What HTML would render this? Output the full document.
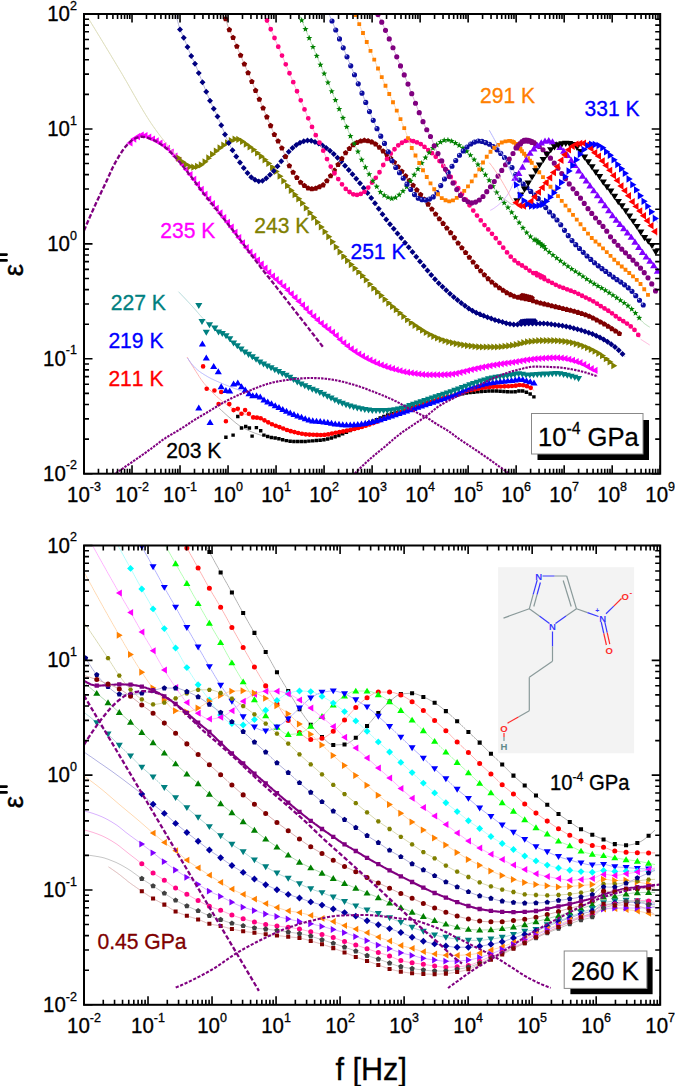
<!DOCTYPE html><html><head><meta charset="utf-8"><style>html,body{margin:0;padding:0;background:#fff;}svg{display:block} text{font-kerning:none;font-feature-settings:"kern" 0;}</style></head><body><svg width="675" height="1086" viewBox="0 0 675 1086" font-family='"Liberation Sans", sans-serif'>
<rect width="675" height="1086" fill="#fff"/>
<defs><radialGradient id="sph" cx="0.4" cy="0.4" r="0.6"><stop offset="0" stop-color="#4a5ad8"/><stop offset="0.55" stop-color="#1a2aa8"/><stop offset="1" stop-color="#000a78"/></radialGradient><clipPath id="ctop"><rect x="84.0" y="14.0" width="576.2" height="459.7"/></clipPath><clipPath id="cbot"><rect x="84.0" y="545.5" width="576.2" height="459.29999999999995"/></clipPath></defs>
<g clip-path="url(#ctop)">
<path d="M219.0 408.0L220.0 409.0L221.0 409.9L222.0 410.9L223.0 411.8L224.0 412.7L225.0 413.6L226.0 414.5L227.0 415.4L228.0 416.3L229.0 417.1L230.0 418.0L231.0 418.9L232.0 419.7L233.0 420.6L234.0 421.4L235.0 422.3L236.0 423.1L237.0 423.9L238.0 424.6L239.0 425.4L240.0 426.0L241.0 426.6L242.0 427.2L243.0 427.8L244.0 428.3L245.0 428.8L246.0 429.3L247.0 429.8L248.0 430.3L249.0 430.7L250.0 431.2L251.0 431.6L252.0 432.0L253.0 432.4L254.0 432.8L255.0 433.2L256.0 433.5L257.0 433.9L258.0 434.2L259.0 434.6L260.0 434.9L261.0 435.2L262.0 435.5L263.0 435.7L264.0 436.0M263.9 435.1L264.9 435.5L265.9 435.9L266.9 436.2L267.9 436.6L268.9 436.8L269.9 437.1L270.9 437.3L271.9 437.5L272.9 437.7L273.9 437.8L274.9 438.0L275.9 438.1L276.9 438.3L277.9 438.6L278.9 438.8L279.9 439.1L280.9 439.4L281.9 439.6L282.9 439.9L283.9 440.1L284.9 440.3L285.9 440.5L286.9 440.7L287.9 440.9L288.9 441.0L289.9 441.2L290.9 441.3L291.9 441.4L292.9 441.5L293.9 441.5L294.9 441.5L295.9 441.5L296.9 441.5L297.9 441.5L298.9 441.5L299.9 441.5L300.9 441.5L301.9 441.5L302.9 441.5L303.9 441.5L304.9 441.4L305.9 441.4L306.9 441.3L307.9 441.2L308.9 441.1L309.9 441.1L310.9 441.0L311.9 440.9L312.9 440.9L313.9 440.8L314.9 440.7L315.9 440.6L316.9 440.5L317.9 440.4L318.9 440.3L319.9 440.2L320.9 440.1L321.9 440.0L322.9 439.9L323.9 439.7L324.9 439.6L325.9 439.4L326.9 439.2L327.9 438.9L328.9 438.7L329.9 438.4L330.9 438.1L331.9 437.8L332.9 437.5L333.9 437.2L334.9 436.9L335.9 436.6L336.9 436.3L337.9 435.9L338.9 435.5L339.9 435.1L340.9 434.7L341.9 434.2L342.9 433.8L343.9 433.3L344.9 432.8L345.9 432.4L346.9 431.9L347.9 431.5L348.9 431.1L349.9 430.7L350.9 430.3L351.9 429.8L352.9 429.4L353.9 429.0L354.9 428.6L355.9 428.2L356.9 427.8L357.9 427.4L358.9 427.0L359.9 426.5L360.9 426.1L361.9 425.7L362.9 425.3L363.9 424.9L364.9 424.5L365.9 424.1L366.9 423.6L367.9 423.2L368.9 422.8L369.9 422.4L370.9 422.0L371.9 421.6L372.9 421.2L373.9 420.7L374.9 420.3L375.9 419.9L376.9 419.5L377.9 419.0L378.9 418.6L379.9 418.1L380.9 417.7L381.9 417.3L382.9 416.8L383.9 416.4L384.9 416.0L385.9 415.6L386.9 415.3L387.9 414.9L388.9 414.6L389.9 414.2L390.9 413.9L391.9 413.6L392.9 413.2L393.9 412.9L394.9 412.6L395.9 412.3L396.9 412.0L397.9 411.7L398.9 411.3L399.9 411.0L400.9 410.7L401.9 410.3L402.9 410.0L403.9 409.6L404.9 409.3L405.9 409.0L406.9 408.6L407.9 408.3L408.9 407.9L409.9 407.6L410.9 407.3L411.9 407.0L412.9 406.6L413.9 406.3L414.9 406.0L415.9 405.7L416.9 405.4L417.9 405.1L418.9 404.8L419.9 404.4L420.9 404.1L421.9 403.8L422.9 403.5L423.9 403.2L424.9 402.9L425.9 402.7L426.9 402.4L427.9 402.1L428.9 401.8L429.9 401.5L430.9 401.3L431.9 401.0L432.9 400.7L433.9 400.4L434.9 400.2L435.9 399.9L436.9 399.6L437.9 399.4L438.9 399.1L439.9 398.9L440.9 398.6L441.9 398.4L442.9 398.1L443.9 397.9L444.9 397.7L445.9 397.4L446.9 397.2L447.9 397.0L448.9 396.7L449.9 396.5L450.9 396.3L451.9 396.1L452.9 395.9L453.9 395.6L454.9 395.4L455.9 395.2L456.9 395.0L457.9 394.8L458.9 394.6L459.9 394.4L460.9 394.1L461.9 394.0L462.9 393.8L463.9 393.6L464.9 393.4L465.9 393.2L466.9 393.1L467.9 392.9L468.9 392.8L469.9 392.7L470.9 392.5L471.9 392.4L472.9 392.3L473.9 392.2L474.9 392.1L475.9 392.0L476.9 391.9L477.9 391.8L478.9 391.7L479.9 391.7L480.9 391.6L481.9 391.5L482.9 391.4L483.9 391.3L484.9 391.3L485.9 391.2L486.9 391.2L487.9 391.1L488.9 391.1L489.9 391.0L490.9 391.0L491.9 391.0L492.9 391.0L493.9 391.0L494.9 391.0L495.9 391.1L496.9 391.1L497.9 391.1L498.9 391.2L499.9 391.2L500.9 391.3L501.9 391.4L502.9 391.4L503.9 391.5L504.9 391.5L505.9 391.6L506.9 391.7L507.9 391.7L508.9 391.8L509.9 391.8L510.9 391.8L511.9 391.9L512.9 391.9L513.9 391.9L514.9 391.8L515.9 391.7L516.9 391.4L517.9 391.2L518.9 391.0L519.9 390.8L520.9 390.8L521.9 390.9L522.9 391.1L523.9 391.4L524.9 391.7L525.9 392.1L526.9 392.5L527.9 392.9L528.9 393.4L529.9 393.9L530.9 394.6L531.9 395.3L532.9 396.1L533.9 396.9" stroke="#adadad" stroke-width="0.9" fill="none"/>
<path d="M262.18 433.38h3.44v3.44h-3.44ZM265.93 434.75h3.44v3.44h-3.44ZM269.68 435.71h3.44v3.44h-3.44ZM273.43 436.30h3.44v3.44h-3.44ZM277.18 437.10h3.44v3.44h-3.44ZM280.93 438.12h3.44v3.44h-3.44ZM284.68 438.89h3.44v3.44h-3.44ZM288.43 439.51h3.44v3.44h-3.44ZM292.18 439.78h3.44v3.44h-3.44ZM295.93 439.78h3.44v3.44h-3.44ZM299.68 439.78h3.44v3.44h-3.44ZM303.43 439.69h3.44v3.44h-3.44ZM307.18 439.42h3.44v3.44h-3.44ZM310.93 439.15h3.44v3.44h-3.44ZM314.68 438.86h3.44v3.44h-3.44ZM318.43 438.50h3.44v3.44h-3.44ZM322.18 438.02h3.44v3.44h-3.44ZM325.93 437.26h3.44v3.44h-3.44ZM329.68 436.26h3.44v3.44h-3.44ZM333.43 435.12h3.44v3.44h-3.44ZM337.18 433.78h3.44v3.44h-3.44ZM340.93 432.15h3.44v3.44h-3.44ZM344.68 430.45h3.44v3.44h-3.44ZM348.43 428.85h3.44v3.44h-3.44ZM352.18 427.30h3.44v3.44h-3.44ZM355.93 425.75h3.44v3.44h-3.44ZM359.68 424.20h3.44v3.44h-3.44ZM363.43 422.65h3.44v3.44h-3.44ZM367.18 421.10h3.44v3.44h-3.44ZM370.93 419.54h3.44v3.44h-3.44ZM374.68 417.95h3.44v3.44h-3.44ZM378.43 416.31h3.44v3.44h-3.44ZM382.18 414.71h3.44v3.44h-3.44ZM385.93 413.27h3.44v3.44h-3.44ZM389.68 412.00h3.44v3.44h-3.44ZM393.43 410.81h3.44v3.44h-3.44ZM397.18 409.61h3.44v3.44h-3.44ZM400.93 408.35h3.44v3.44h-3.44ZM404.68 407.07h3.44v3.44h-3.44ZM408.43 405.81h3.44v3.44h-3.44ZM412.18 404.60h3.44v3.44h-3.44ZM415.93 403.42h3.44v3.44h-3.44ZM419.68 402.27h3.44v3.44h-3.44ZM423.43 401.15h3.44v3.44h-3.44ZM427.18 400.08h3.44v3.44h-3.44ZM430.93 399.06h3.44v3.44h-3.44ZM434.68 398.06h3.44v3.44h-3.44ZM438.43 397.09h3.44v3.44h-3.44ZM442.18 396.17h3.44v3.44h-3.44ZM445.93 395.30h3.44v3.44h-3.44ZM449.68 394.48h3.44v3.44h-3.44ZM453.43 393.65h3.44v3.44h-3.44ZM457.18 392.84h3.44v3.44h-3.44ZM460.93 392.09h3.44v3.44h-3.44ZM464.68 391.43h3.44v3.44h-3.44ZM468.43 390.91h3.44v3.44h-3.44ZM472.18 390.51h3.44v3.44h-3.44ZM475.93 390.14h3.44v3.44h-3.44ZM479.68 389.81h3.44v3.44h-3.44ZM483.43 389.53h3.44v3.44h-3.44ZM487.18 389.35h3.44v3.44h-3.44ZM490.93 389.28h3.44v3.44h-3.44ZM494.68 389.35h3.44v3.44h-3.44ZM498.43 389.53h3.44v3.44h-3.44ZM502.18 389.76h3.44v3.44h-3.44ZM505.93 389.99h3.44v3.44h-3.44ZM509.68 390.14h3.44v3.44h-3.44ZM513.43 390.09h3.44v3.44h-3.44ZM517.18 389.23h3.44v3.44h-3.44ZM520.93 389.35h3.44v3.44h-3.44ZM524.68 390.56h3.44v3.44h-3.44ZM528.43 392.37h3.44v3.44h-3.44ZM532.18 395.14h3.44v3.44h-3.44ZM224.18 435.48h3.44v3.44h-3.44ZM231.38 433.38h3.44v3.44h-3.44ZM236.08 414.78h3.44v3.44h-3.44ZM239.78 426.28h3.44v3.44h-3.44ZM243.98 424.78h3.44v3.44h-3.44ZM247.68 426.28h3.44v3.44h-3.44ZM250.38 434.38h3.44v3.44h-3.44ZM254.68 425.88h3.44v3.44h-3.44ZM258.98 429.08h3.44v3.44h-3.44Z" fill="#000000"/>
<path d="M187.0 357.0L188.0 358.7L189.0 360.3L190.0 362.0L191.0 363.6L192.0 365.2L193.0 366.8L194.0 368.4L195.0 370.0L196.0 371.6L197.0 373.1L198.0 374.7L199.0 376.3L200.0 377.8L201.0 379.3L202.0 380.7L203.0 382.0L204.0 383.3L205.0 384.5L206.0 385.6L207.0 386.8L208.0 387.9L209.0 388.9L210.0 390.0L211.0 391.0L212.0 392.0L213.0 393.0L214.0 394.0L215.0 394.9L216.0 395.8L217.0 396.8L218.0 397.7L219.0 398.5L220.0 399.4L221.0 400.2L222.0 401.0L223.0 401.8L224.0 402.5L225.0 403.3L226.0 404.0L227.0 404.8L228.0 405.5L229.0 406.1L230.0 406.8L231.0 407.4L232.0 408.0L233.0 408.6L234.0 409.1L235.0 409.7L236.0 410.2L237.0 410.7L238.0 411.2L239.0 411.7L240.0 412.1L241.0 412.6L242.0 413.0L243.0 413.4L244.0 413.8L245.0 414.2L246.0 414.6L247.0 415.0L248.0 415.4L249.0 415.7L250.0 416.1L251.0 416.4L252.0 416.7L253.0 417.0M253.2 417.4L254.2 417.4L255.2 417.5L256.2 417.6L257.2 417.7L258.2 417.8L259.2 417.9L260.2 418.1L261.2 418.5L262.2 419.0L263.2 419.6L264.2 420.2L265.2 420.8L266.2 421.3L267.2 421.8L268.2 422.3L269.2 422.9L270.2 423.4L271.2 423.9L272.2 424.3L273.2 424.7L274.2 425.1L275.2 425.5L276.2 425.9L277.2 426.3L278.2 426.6L279.2 427.0L280.2 427.3L281.2 427.7L282.2 428.1L283.2 428.5L284.2 428.9L285.2 429.3L286.2 429.7L287.2 430.0L288.2 430.4L289.2 430.7L290.2 431.0L291.2 431.3L292.2 431.6L293.2 431.8L294.2 432.1L295.2 432.3L296.2 432.5L297.2 432.7L298.2 432.9L299.2 433.2L300.2 433.4L301.2 433.6L302.2 433.8L303.2 434.0L304.2 434.1L305.2 434.3L306.2 434.4L307.2 434.5L308.2 434.5L309.2 434.6L310.2 434.6L311.2 434.7L312.2 434.7L313.2 434.8L314.2 434.8L315.2 434.8L316.2 434.9L317.2 434.9L318.2 434.9L319.2 435.0L320.2 435.0L321.2 435.0L322.2 435.0L323.2 435.0L324.2 435.0L325.2 434.9L326.2 434.7L327.2 434.6L328.2 434.4L329.2 434.2L330.2 434.0L331.2 433.7L332.2 433.5L333.2 433.3L334.2 433.1L335.2 432.9L336.2 432.7L337.2 432.5L338.2 432.3L339.2 432.1L340.2 432.0L341.2 431.8L342.2 431.6L343.2 431.4L344.2 431.2L345.2 431.0L346.2 430.8L347.2 430.6L348.2 430.3L349.2 430.1L350.2 429.9L351.2 429.7L352.2 429.4L353.2 429.2L354.2 429.0L355.2 428.7L356.2 428.5L357.2 428.2L358.2 427.9L359.2 427.7L360.2 427.4L361.2 427.1L362.2 426.8L363.2 426.5L364.2 426.2L365.2 425.9L366.2 425.6L367.2 425.2L368.2 424.9L369.2 424.5L370.2 424.2L371.2 423.8L372.2 423.5L373.2 423.1L374.2 422.7L375.2 422.3L376.2 422.0L377.2 421.6L378.2 421.1L379.2 420.7L380.2 420.3L381.2 419.9L382.2 419.5L383.2 419.0L384.2 418.6L385.2 418.2L386.2 417.8L387.2 417.3L388.2 416.9L389.2 416.5L390.2 416.0L391.2 415.6L392.2 415.2L393.2 414.7L394.2 414.3L395.2 413.9L396.2 413.4L397.2 413.0L398.2 412.6L399.2 412.2L400.2 411.9L401.2 411.5L402.2 411.2L403.2 410.8L404.2 410.5L405.2 410.2L406.2 409.9L407.2 409.6L408.2 409.2L409.2 408.9L410.2 408.6L411.2 408.3L412.2 408.0L413.2 407.6L414.2 407.3L415.2 407.0L416.2 406.6L417.2 406.3L418.2 406.0L419.2 405.6L420.2 405.3L421.2 404.9L422.2 404.6L423.2 404.3L424.2 403.9L425.2 403.6L426.2 403.3L427.2 402.9L428.2 402.6L429.2 402.2L430.2 401.9L431.2 401.5L432.2 401.2L433.2 400.8L434.2 400.5L435.2 400.2L436.2 399.8L437.2 399.5L438.2 399.2L439.2 399.0L440.2 398.7L441.2 398.4L442.2 398.2L443.2 398.0L444.2 397.7L445.2 397.5L446.2 397.2L447.2 397.0L448.2 396.8L449.2 396.5L450.2 396.3L451.2 396.0L452.2 395.7L453.2 395.4L454.2 395.1L455.2 394.8L456.2 394.5L457.2 394.1L458.2 393.8L459.2 393.5L460.2 393.2L461.2 392.8L462.2 392.5L463.2 392.2L464.2 391.9L465.2 391.6L466.2 391.3L467.2 391.0L468.2 390.7L469.2 390.5L470.2 390.2L471.2 390.0L472.2 389.8L473.2 389.6L474.2 389.4L475.2 389.2L476.2 389.0L477.2 388.9L478.2 388.7L479.2 388.5L480.2 388.3L481.2 388.2L482.2 388.0L483.2 387.9L484.2 387.7L485.2 387.6L486.2 387.4L487.2 387.3L488.2 387.2L489.2 387.1L490.2 387.0L491.2 386.9L492.2 386.8L493.2 386.8L494.2 386.7L495.2 386.7L496.2 386.6L497.2 386.6L498.2 386.5L499.2 386.5L500.2 386.5L501.2 386.4L502.2 386.4L503.2 386.4L504.2 386.3L505.2 386.3L506.2 386.3L507.2 386.2L508.2 386.2L509.2 386.2L510.2 386.1L511.2 386.1L512.2 386.0L513.2 386.0L514.2 385.9L515.2 385.8L516.2 385.6L517.2 385.4L518.2 385.2L519.2 385.1L520.2 385.0L521.2 385.0L522.2 385.1L523.2 385.3L524.2 385.5L525.2 385.7L526.2 386.0L527.2 386.3L528.2 386.6L529.2 387.0L530.2 387.5L531.2 388.2L532.2 389.0L533.2 389.8L534.2 390.7" stroke="#ffadad" stroke-width="0.9" fill="none"/>
<path d="M250.89 417.40a2.31 2.31 0 1 0 4.63 0a2.31 2.31 0 1 0 -4.63 0ZM254.64 417.63a2.31 2.31 0 1 0 4.63 0a2.31 2.31 0 1 0 -4.63 0ZM258.39 418.29a2.31 2.31 0 1 0 4.63 0a2.31 2.31 0 1 0 -4.63 0ZM262.14 420.33a2.31 2.31 0 1 0 4.63 0a2.31 2.31 0 1 0 -4.63 0ZM265.89 422.33a2.31 2.31 0 1 0 4.63 0a2.31 2.31 0 1 0 -4.63 0ZM269.64 424.20a2.31 2.31 0 1 0 4.63 0a2.31 2.31 0 1 0 -4.63 0ZM273.39 425.71a2.31 2.31 0 1 0 4.63 0a2.31 2.31 0 1 0 -4.63 0ZM277.14 427.07a2.31 2.31 0 1 0 4.63 0a2.31 2.31 0 1 0 -4.63 0ZM280.89 428.49a2.31 2.31 0 1 0 4.63 0a2.31 2.31 0 1 0 -4.63 0ZM284.64 429.95a2.31 2.31 0 1 0 4.63 0a2.31 2.31 0 1 0 -4.63 0ZM288.39 431.15a2.31 2.31 0 1 0 4.63 0a2.31 2.31 0 1 0 -4.63 0ZM292.14 432.12a2.31 2.31 0 1 0 4.63 0a2.31 2.31 0 1 0 -4.63 0ZM295.89 432.94a2.31 2.31 0 1 0 4.63 0a2.31 2.31 0 1 0 -4.63 0ZM299.64 433.72a2.31 2.31 0 1 0 4.63 0a2.31 2.31 0 1 0 -4.63 0ZM303.39 434.32a2.31 2.31 0 1 0 4.63 0a2.31 2.31 0 1 0 -4.63 0ZM307.14 434.60a2.31 2.31 0 1 0 4.63 0a2.31 2.31 0 1 0 -4.63 0ZM310.89 434.77a2.31 2.31 0 1 0 4.63 0a2.31 2.31 0 1 0 -4.63 0ZM314.64 434.89a2.31 2.31 0 1 0 4.63 0a2.31 2.31 0 1 0 -4.63 0ZM318.39 434.98a2.31 2.31 0 1 0 4.63 0a2.31 2.31 0 1 0 -4.63 0ZM322.14 434.93a2.31 2.31 0 1 0 4.63 0a2.31 2.31 0 1 0 -4.63 0ZM325.89 434.40a2.31 2.31 0 1 0 4.63 0a2.31 2.31 0 1 0 -4.63 0ZM329.64 433.58a2.31 2.31 0 1 0 4.63 0a2.31 2.31 0 1 0 -4.63 0ZM333.39 432.78a2.31 2.31 0 1 0 4.63 0a2.31 2.31 0 1 0 -4.63 0ZM337.14 432.09a2.31 2.31 0 1 0 4.63 0a2.31 2.31 0 1 0 -4.63 0ZM340.89 431.38a2.31 2.31 0 1 0 4.63 0a2.31 2.31 0 1 0 -4.63 0ZM344.64 430.61a2.31 2.31 0 1 0 4.63 0a2.31 2.31 0 1 0 -4.63 0ZM348.39 429.78a2.31 2.31 0 1 0 4.63 0a2.31 2.31 0 1 0 -4.63 0ZM352.14 428.89a2.31 2.31 0 1 0 4.63 0a2.31 2.31 0 1 0 -4.63 0ZM355.89 427.93a2.31 2.31 0 1 0 4.63 0a2.31 2.31 0 1 0 -4.63 0ZM359.64 426.88a2.31 2.31 0 1 0 4.63 0a2.31 2.31 0 1 0 -4.63 0ZM363.39 425.72a2.31 2.31 0 1 0 4.63 0a2.31 2.31 0 1 0 -4.63 0ZM367.14 424.45a2.31 2.31 0 1 0 4.63 0a2.31 2.31 0 1 0 -4.63 0ZM370.89 423.10a2.31 2.31 0 1 0 4.63 0a2.31 2.31 0 1 0 -4.63 0ZM374.64 421.66a2.31 2.31 0 1 0 4.63 0a2.31 2.31 0 1 0 -4.63 0ZM378.39 420.10a2.31 2.31 0 1 0 4.63 0a2.31 2.31 0 1 0 -4.63 0ZM382.14 418.49a2.31 2.31 0 1 0 4.63 0a2.31 2.31 0 1 0 -4.63 0ZM385.89 416.91a2.31 2.31 0 1 0 4.63 0a2.31 2.31 0 1 0 -4.63 0ZM389.64 415.27a2.31 2.31 0 1 0 4.63 0a2.31 2.31 0 1 0 -4.63 0ZM393.39 413.65a2.31 2.31 0 1 0 4.63 0a2.31 2.31 0 1 0 -4.63 0ZM397.14 412.16a2.31 2.31 0 1 0 4.63 0a2.31 2.31 0 1 0 -4.63 0ZM400.89 410.85a2.31 2.31 0 1 0 4.63 0a2.31 2.31 0 1 0 -4.63 0ZM404.64 409.64a2.31 2.31 0 1 0 4.63 0a2.31 2.31 0 1 0 -4.63 0ZM408.39 408.45a2.31 2.31 0 1 0 4.63 0a2.31 2.31 0 1 0 -4.63 0ZM412.14 407.22a2.31 2.31 0 1 0 4.63 0a2.31 2.31 0 1 0 -4.63 0ZM415.89 405.96a2.31 2.31 0 1 0 4.63 0a2.31 2.31 0 1 0 -4.63 0ZM419.64 404.69a2.31 2.31 0 1 0 4.63 0a2.31 2.31 0 1 0 -4.63 0ZM423.39 403.43a2.31 2.31 0 1 0 4.63 0a2.31 2.31 0 1 0 -4.63 0ZM427.14 402.13a2.31 2.31 0 1 0 4.63 0a2.31 2.31 0 1 0 -4.63 0ZM430.89 400.82a2.31 2.31 0 1 0 4.63 0a2.31 2.31 0 1 0 -4.63 0ZM434.64 399.61a2.31 2.31 0 1 0 4.63 0a2.31 2.31 0 1 0 -4.63 0ZM438.39 398.57a2.31 2.31 0 1 0 4.63 0a2.31 2.31 0 1 0 -4.63 0ZM442.14 397.66a2.31 2.31 0 1 0 4.63 0a2.31 2.31 0 1 0 -4.63 0ZM445.89 396.77a2.31 2.31 0 1 0 4.63 0a2.31 2.31 0 1 0 -4.63 0ZM449.64 395.78a2.31 2.31 0 1 0 4.63 0a2.31 2.31 0 1 0 -4.63 0ZM453.39 394.63a2.31 2.31 0 1 0 4.63 0a2.31 2.31 0 1 0 -4.63 0ZM457.14 393.40a2.31 2.31 0 1 0 4.63 0a2.31 2.31 0 1 0 -4.63 0ZM460.89 392.17a2.31 2.31 0 1 0 4.63 0a2.31 2.31 0 1 0 -4.63 0ZM464.64 391.05a2.31 2.31 0 1 0 4.63 0a2.31 2.31 0 1 0 -4.63 0ZM468.39 390.12a2.31 2.31 0 1 0 4.63 0a2.31 2.31 0 1 0 -4.63 0ZM472.14 389.38a2.31 2.31 0 1 0 4.63 0a2.31 2.31 0 1 0 -4.63 0ZM475.89 388.68a2.31 2.31 0 1 0 4.63 0a2.31 2.31 0 1 0 -4.63 0ZM479.64 388.05a2.31 2.31 0 1 0 4.63 0a2.31 2.31 0 1 0 -4.63 0ZM483.39 387.50a2.31 2.31 0 1 0 4.63 0a2.31 2.31 0 1 0 -4.63 0ZM487.14 387.07a2.31 2.31 0 1 0 4.63 0a2.31 2.31 0 1 0 -4.63 0ZM490.89 386.77a2.31 2.31 0 1 0 4.63 0a2.31 2.31 0 1 0 -4.63 0ZM494.64 386.58a2.31 2.31 0 1 0 4.63 0a2.31 2.31 0 1 0 -4.63 0ZM498.39 386.44a2.31 2.31 0 1 0 4.63 0a2.31 2.31 0 1 0 -4.63 0ZM502.14 386.33a2.31 2.31 0 1 0 4.63 0a2.31 2.31 0 1 0 -4.63 0ZM505.89 386.21a2.31 2.31 0 1 0 4.63 0a2.31 2.31 0 1 0 -4.63 0ZM509.64 386.03a2.31 2.31 0 1 0 4.63 0a2.31 2.31 0 1 0 -4.63 0ZM513.39 385.68a2.31 2.31 0 1 0 4.63 0a2.31 2.31 0 1 0 -4.63 0ZM517.14 385.04a2.31 2.31 0 1 0 4.63 0a2.31 2.31 0 1 0 -4.63 0ZM520.89 385.26a2.31 2.31 0 1 0 4.63 0a2.31 2.31 0 1 0 -4.63 0ZM524.64 386.18a2.31 2.31 0 1 0 4.63 0a2.31 2.31 0 1 0 -4.63 0ZM528.39 387.87a2.31 2.31 0 1 0 4.63 0a2.31 2.31 0 1 0 -4.63 0ZM200.79 366.40a2.31 2.31 0 1 0 4.63 0a2.31 2.31 0 1 0 -4.63 0ZM204.39 388.80a2.31 2.31 0 1 0 4.63 0a2.31 2.31 0 1 0 -4.63 0ZM212.09 390.50a2.31 2.31 0 1 0 4.63 0a2.31 2.31 0 1 0 -4.63 0ZM218.89 392.00a2.31 2.31 0 1 0 4.63 0a2.31 2.31 0 1 0 -4.63 0ZM216.29 404.10a2.31 2.31 0 1 0 4.63 0a2.31 2.31 0 1 0 -4.63 0ZM223.59 421.20a2.31 2.31 0 1 0 4.63 0a2.31 2.31 0 1 0 -4.63 0ZM226.99 404.10a2.31 2.31 0 1 0 4.63 0a2.31 2.31 0 1 0 -4.63 0ZM231.29 410.10a2.31 2.31 0 1 0 4.63 0a2.31 2.31 0 1 0 -4.63 0ZM235.49 408.80a2.31 2.31 0 1 0 4.63 0a2.31 2.31 0 1 0 -4.63 0ZM239.19 413.70a2.31 2.31 0 1 0 4.63 0a2.31 2.31 0 1 0 -4.63 0ZM242.79 410.10a2.31 2.31 0 1 0 4.63 0a2.31 2.31 0 1 0 -4.63 0ZM246.59 413.70a2.31 2.31 0 1 0 4.63 0a2.31 2.31 0 1 0 -4.63 0Z" fill="#ff0000"/>
<path d="M187.5 358.0L188.5 359.5L189.5 361.0L190.5 362.4L191.5 363.7L192.5 364.9L193.5 366.1L194.5 367.1L195.5 368.1L196.5 369.0L197.5 369.9L198.5 370.7L199.5 371.5L200.5 372.2L201.5 372.9L202.5 373.5L203.5 374.2L204.5 374.8L205.5 375.4L206.5 376.0L207.5 376.6L208.5 377.2L209.5 377.7L210.5 378.3L211.5 378.8L212.5 379.2L213.5 379.7L214.5 380.2L215.5 380.6L216.5 381.1L217.5 381.5L218.5 381.9L219.5 382.4L220.5 382.8L221.5 383.2L222.5 383.6L223.5 384.1L224.5 384.5L225.5 384.9L226.5 385.3L227.5 385.7L228.5 386.1L229.5 386.5L230.5 386.9L231.5 387.3L232.5 387.7L233.5 388.1L234.5 388.4L235.5 388.8L236.5 389.1L237.5 389.5L238.5 389.8L239.5 390.2L240.5 390.5L241.5 390.8M241.5 386.6L242.5 387.5L243.5 388.4L244.5 389.3L245.5 390.2L246.5 391.0L247.5 392.0L248.5 393.0L249.5 394.1L250.5 394.9L251.5 395.5L252.5 395.6L253.5 395.6L254.5 395.6L255.5 395.6L256.5 395.6L257.5 395.6L258.5 395.8L259.5 396.4L260.5 397.1L261.5 398.0L262.5 398.9L263.5 399.7L264.5 400.2L265.5 400.8L266.5 401.3L267.5 401.8L268.5 402.2L269.5 402.7L270.5 403.2L271.5 403.7L272.5 404.2L273.5 404.7L274.5 405.2L275.5 405.7L276.5 406.2L277.5 406.7L278.5 407.2L279.5 407.7L280.5 408.2L281.5 408.7L282.5 409.2L283.5 409.7L284.5 410.2L285.5 410.7L286.5 411.3L287.5 411.8L288.5 412.2L289.5 412.7L290.5 413.1L291.5 413.5L292.5 413.9L293.5 414.3L294.5 414.6L295.5 415.0L296.5 415.3L297.5 415.7L298.5 416.1L299.5 416.5L300.5 416.9L301.5 417.3L302.5 417.7L303.5 418.1L304.5 418.4L305.5 418.8L306.5 419.1L307.5 419.4L308.5 419.7L309.5 420.0L310.5 420.3L311.5 420.5L312.5 420.7L313.5 420.9L314.5 421.0L315.5 421.1L316.5 421.2L317.5 421.3L318.5 421.3L319.5 421.4L320.5 421.5L321.5 421.6L322.5 421.7L323.5 421.8L324.5 421.9L325.5 422.1L326.5 422.3L327.5 422.5L328.5 422.7L329.5 422.9L330.5 423.1L331.5 423.3L332.5 423.5L333.5 423.6L334.5 423.8L335.5 423.9L336.5 424.0L337.5 424.1L338.5 424.2L339.5 424.3L340.5 424.4L341.5 424.5L342.5 424.6L343.5 424.7L344.5 424.8L345.5 424.8L346.5 424.9L347.5 424.9L348.5 424.9L349.5 424.9L350.5 424.9L351.5 424.8L352.5 424.8L353.5 424.7L354.5 424.6L355.5 424.5L356.5 424.4L357.5 424.3L358.5 424.2L359.5 424.1L360.5 424.0L361.5 423.9L362.5 423.7L363.5 423.6L364.5 423.4L365.5 423.2L366.5 423.0L367.5 422.8L368.5 422.6L369.5 422.4L370.5 422.1L371.5 421.9L372.5 421.7L373.5 421.4L374.5 421.2L375.5 420.9L376.5 420.7L377.5 420.4L378.5 420.1L379.5 419.8L380.5 419.5L381.5 419.2L382.5 418.9L383.5 418.5L384.5 418.2L385.5 417.9L386.5 417.6L387.5 417.3L388.5 417.0L389.5 416.6L390.5 416.3L391.5 416.0L392.5 415.6L393.5 415.3L394.5 414.9L395.5 414.6L396.5 414.3L397.5 413.9L398.5 413.6L399.5 413.2L400.5 412.9L401.5 412.6L402.5 412.2L403.5 411.9L404.5 411.5L405.5 411.2L406.5 410.9L407.5 410.5L408.5 410.2L409.5 409.9L410.5 409.5L411.5 409.2L412.5 408.9L413.5 408.5L414.5 408.2L415.5 407.9L416.5 407.6L417.5 407.2L418.5 406.9L419.5 406.6L420.5 406.2L421.5 405.9L422.5 405.6L423.5 405.3L424.5 404.9L425.5 404.6L426.5 404.3L427.5 403.9L428.5 403.6L429.5 403.3L430.5 402.9L431.5 402.6L432.5 402.3L433.5 401.9L434.5 401.6L435.5 401.2L436.5 400.9L437.5 400.6L438.5 400.2L439.5 399.9L440.5 399.6L441.5 399.2L442.5 398.9L443.5 398.6L444.5 398.3L445.5 397.9L446.5 397.6L447.5 397.3L448.5 396.9L449.5 396.6L450.5 396.2L451.5 395.8L452.5 395.4L453.5 395.0L454.5 394.6L455.5 394.2L456.5 393.8L457.5 393.3L458.5 392.9L459.5 392.4L460.5 392.0L461.5 391.5L462.5 391.1L463.5 390.6L464.5 390.2L465.5 389.7L466.5 389.3L467.5 388.9L468.5 388.6L469.5 388.2L470.5 387.9L471.5 387.5L472.5 387.2L473.5 386.9L474.5 386.6L475.5 386.3L476.5 386.0L477.5 385.7L478.5 385.5L479.5 385.2L480.5 384.9L481.5 384.6L482.5 384.4L483.5 384.1L484.5 383.9L485.5 383.7L486.5 383.4L487.5 383.2L488.5 383.0L489.5 382.8L490.5 382.7L491.5 382.5L492.5 382.3L493.5 382.2L494.5 382.1L495.5 381.9L496.5 381.8L497.5 381.7L498.5 381.6L499.5 381.5L500.5 381.4L501.5 381.3L502.5 381.2L503.5 381.1L504.5 381.1L505.5 381.0L506.5 380.9L507.5 380.8L508.5 380.7L509.5 380.6L510.5 380.5L511.5 380.4L512.5 380.3L513.5 380.2L514.5 380.0L515.5 379.8L516.5 379.6L517.5 379.4L518.5 379.3L519.5 379.1L520.5 379.1L521.5 379.2L522.5 379.3L523.5 379.6L524.5 379.9L525.5 380.2L526.5 380.5L527.5 380.9L528.5 381.1L529.5 381.4L530.5 381.7L531.5 382.0L532.5 382.4L533.5 382.7L534.5 383.0" stroke="#adadff" stroke-width="0.9" fill="none"/>
<path d="M241.50 383.19L245.07 389.20L237.93 389.20ZM245.25 386.56L248.82 392.57L241.68 392.57ZM249.00 390.14L252.57 396.14L245.43 396.14ZM252.75 392.19L256.32 398.20L249.18 398.20ZM256.50 392.19L260.07 398.20L252.93 398.20ZM260.25 393.50L263.82 399.51L256.68 399.51ZM264.00 396.55L267.57 402.56L260.43 402.56ZM267.75 398.46L271.32 404.47L264.18 404.47ZM271.50 400.29L275.07 406.30L267.93 406.30ZM275.25 402.16L278.82 408.17L271.68 408.17ZM279.00 404.04L282.57 410.05L275.43 410.05ZM282.75 405.91L286.32 411.92L279.18 411.92ZM286.50 407.85L290.07 413.86L282.93 413.86ZM290.25 409.61L293.82 415.62L286.68 415.62ZM294.00 411.04L297.57 417.05L290.43 417.05ZM297.75 412.40L301.32 418.40L294.18 418.40ZM301.50 413.86L305.07 419.87L297.93 419.87ZM305.25 415.28L308.82 421.29L301.68 421.29ZM309.00 416.47L312.57 422.48L305.43 422.48ZM312.75 417.37L316.32 423.38L309.18 423.38ZM316.50 417.77L320.07 423.78L312.93 423.78ZM320.25 418.04L323.82 424.05L316.68 424.05ZM324.00 418.45L327.57 424.46L320.43 424.46ZM327.75 419.11L331.32 425.12L324.18 425.12ZM331.50 419.86L335.07 425.87L327.93 425.87ZM335.25 420.45L338.82 426.46L331.68 426.46ZM339.00 420.86L342.57 426.87L335.43 426.87ZM342.75 421.23L346.32 427.24L339.18 427.24ZM346.50 421.46L350.07 427.46L342.93 427.46ZM350.25 421.46L353.82 427.47L346.68 427.47ZM354.00 421.24L357.57 427.25L350.43 427.25ZM357.75 420.88L361.32 426.88L354.18 426.88ZM361.50 420.45L365.07 426.46L357.93 426.46ZM365.25 419.87L368.82 425.88L361.68 425.88ZM369.00 419.08L372.57 425.09L365.43 425.09ZM372.75 418.19L376.32 424.20L369.18 424.20ZM376.50 417.24L380.07 423.25L372.93 423.25ZM380.25 416.15L383.82 422.16L376.68 422.16ZM384.00 414.98L387.57 420.99L380.43 420.99ZM387.75 413.79L391.32 419.80L384.18 419.80ZM391.50 412.55L395.07 418.56L387.93 418.56ZM395.25 411.27L398.82 417.28L391.68 417.28ZM399.00 409.99L402.57 416.00L395.43 416.00ZM402.75 408.73L406.32 414.74L399.18 414.74ZM406.50 407.46L410.07 413.47L402.93 413.47ZM410.25 406.21L413.82 412.21L406.68 412.21ZM414.00 404.96L417.57 410.97L410.43 410.97ZM417.75 403.73L421.32 409.74L414.18 409.74ZM421.50 402.51L425.07 408.52L417.93 408.52ZM425.25 401.27L428.82 407.28L421.68 407.28ZM429.00 400.02L432.57 406.03L425.43 406.03ZM432.75 398.76L436.32 404.77L429.18 404.77ZM436.50 397.49L440.07 403.50L432.93 403.50ZM440.25 396.24L443.82 402.25L436.68 402.25ZM444.00 395.02L447.57 401.03L440.43 401.03ZM447.75 393.77L451.32 399.78L444.18 399.78ZM451.50 392.43L455.07 398.44L447.93 398.44ZM455.25 390.89L458.82 396.90L451.68 396.90ZM459.00 389.22L462.57 395.23L455.43 395.23ZM462.75 387.53L466.32 393.54L459.18 393.54ZM466.50 385.93L470.07 391.94L462.93 391.94ZM470.25 384.53L473.82 390.54L466.68 390.54ZM474.00 383.36L477.57 389.37L470.43 389.37ZM477.75 382.26L481.32 388.26L474.18 388.26ZM481.50 381.23L485.07 387.24L477.93 387.24ZM485.25 380.31L488.82 386.31L481.68 386.31ZM489.00 379.51L492.57 385.52L485.43 385.52ZM492.75 378.88L496.32 384.89L489.18 384.89ZM496.50 378.40L500.07 384.41L492.93 384.41ZM500.25 378.02L503.82 384.03L496.68 384.03ZM504.00 377.69L507.57 383.70L500.43 383.70ZM507.75 377.36L511.32 383.37L504.18 383.37ZM511.50 376.99L515.07 383.00L507.93 383.00ZM515.25 376.49L518.82 382.49L511.68 382.49ZM519.00 375.78L522.57 381.79L515.43 381.79ZM522.75 375.98L526.32 381.99L519.18 381.99ZM526.50 377.13L530.07 383.14L522.93 383.14ZM530.25 378.24L533.82 384.25L526.68 384.25ZM534.00 379.45L537.57 385.45L530.43 385.45ZM202.40 340.59L205.97 346.60L198.83 346.60ZM206.30 354.49L209.87 360.50L202.73 360.50ZM213.70 362.99L217.27 369.00L210.13 369.00ZM218.30 368.29L221.87 374.30L214.73 374.30ZM198.80 404.59L202.37 410.60L195.23 410.60ZM210.10 418.89L213.67 424.90L206.53 424.90ZM221.20 383.29L224.77 389.30L217.63 389.30ZM225.90 386.89L229.47 392.90L222.33 392.90ZM229.70 387.49L233.27 393.50L226.13 393.50ZM233.60 380.49L237.17 386.50L230.03 386.50ZM237.80 379.39L241.37 385.40L234.23 385.40Z" fill="#0000ff"/>
<path d="M178.5 291.7L179.5 292.7L180.5 293.8L181.5 294.8L182.5 295.9L183.5 296.9L184.5 298.0L185.5 299.0L186.5 300.1L187.5 301.2L188.5 302.2L189.5 303.3L190.5 304.4L191.5 305.5L192.5 306.5L193.5 307.7L194.5 308.8L195.5 309.9L196.5 311.1L197.5 312.3L198.5 313.4L199.5 314.6L200.5 315.7L201.5 316.8L202.5 317.9L203.5 318.9L204.5 319.9L205.5 320.8L206.5 321.6L207.5 322.5L208.5 323.3L209.5 324.1L210.5 324.9L211.5 325.6L212.5 326.3L213.5 327.0L214.5 327.7M214.8 328.0L215.8 329.3L216.8 330.5L217.8 331.5L218.8 332.2L219.8 332.7L220.8 333.1L221.8 333.4L222.8 333.8L223.8 334.4L224.8 335.0L225.8 335.7L226.8 336.4L227.8 337.1L228.8 337.9L229.8 338.8L230.8 339.8L231.8 341.1L232.8 342.3L233.8 343.3L234.8 344.1L235.8 344.9L236.8 345.5L237.8 346.2L238.8 347.0L239.8 347.9L240.8 348.9L241.8 349.8L242.8 350.6L243.8 351.4L244.8 352.1L245.8 352.7L246.8 353.3L247.8 354.0L248.8 354.6L249.8 355.3L250.8 356.0L251.8 356.6L252.8 357.3L253.8 357.9L254.8 358.6L255.8 359.2L256.8 359.9L257.8 360.6L258.8 361.3L259.8 362.0L260.8 362.7L261.8 363.3L262.8 363.8L263.8 364.3L264.8 364.8L265.8 365.3L266.8 365.8L267.8 366.3L268.8 366.8L269.8 367.2L270.8 367.8L271.8 368.3L272.8 368.8L273.8 369.3L274.8 369.8L275.8 370.3L276.8 370.8L277.8 371.3L278.8 371.8L279.8 372.2L280.8 372.8L281.8 373.2L282.8 373.7L283.8 374.2L284.8 374.7L285.8 375.2L286.8 375.7L287.8 376.2L288.8 376.7L289.8 377.3L290.8 377.9L291.8 378.5L292.8 379.1L293.8 379.8L294.8 380.4L295.8 381.1L296.8 381.7L297.8 382.3L298.8 382.8L299.8 383.4L300.8 383.9L301.8 384.4L302.8 384.9L303.8 385.4L304.8 385.9L305.8 386.4L306.8 386.8L307.8 387.3L308.8 387.7L309.8 388.2L310.8 388.6L311.8 389.0L312.8 389.5L313.8 389.9L314.8 390.3L315.8 390.8L316.8 391.2L317.8 391.7L318.8 392.1L319.8 392.6L320.8 393.1L321.8 393.5L322.8 394.0L323.8 394.5L324.8 395.0L325.8 395.5L326.8 396.0L327.8 396.5L328.8 397.0L329.8 397.5L330.8 398.1L331.8 398.6L332.8 399.1L333.8 399.6L334.8 400.0L335.8 400.5L336.8 400.9L337.8 401.4L338.8 401.9L339.8 402.3L340.8 402.8L341.8 403.2L342.8 403.6L343.8 404.0L344.8 404.4L345.8 404.8L346.8 405.2L347.8 405.5L348.8 405.8L349.8 406.1L350.8 406.4L351.8 406.7L352.8 407.0L353.8 407.3L354.8 407.5L355.8 407.8L356.8 408.0L357.8 408.2L358.8 408.4L359.8 408.6L360.8 408.8L361.8 409.0L362.8 409.2L363.8 409.4L364.8 409.6L365.8 409.7L366.8 409.9L367.8 410.1L368.8 410.2L369.8 410.3L370.8 410.4L371.8 410.5L372.8 410.6L373.8 410.6L374.8 410.6L375.8 410.6L376.8 410.6L377.8 410.6L378.8 410.6L379.8 410.6L380.8 410.6L381.8 410.6L382.8 410.6L383.8 410.6L384.8 410.6L385.8 410.6L386.8 410.6L387.8 410.6L388.8 410.5L389.8 410.5L390.8 410.4L391.8 410.2L392.8 410.1L393.8 410.0L394.8 409.8L395.8 409.6L396.8 409.4L397.8 409.2L398.8 409.1L399.8 408.9L400.8 408.6L401.8 408.4L402.8 408.1L403.8 407.8L404.8 407.5L405.8 407.1L406.8 406.7L407.8 406.4L408.8 406.0L409.8 405.6L410.8 405.3L411.8 404.9L412.8 404.6L413.8 404.2L414.8 403.9L415.8 403.6L416.8 403.2L417.8 402.9L418.8 402.6L419.8 402.2L420.8 401.9L421.8 401.5L422.8 401.2L423.8 400.9L424.8 400.5L425.8 400.2L426.8 399.9L427.8 399.5L428.8 399.2L429.8 398.9L430.8 398.5L431.8 398.2L432.8 397.8L433.8 397.5L434.8 397.2L435.8 396.8L436.8 396.5L437.8 396.2L438.8 395.8L439.8 395.5L440.8 395.2L441.8 394.9L442.8 394.5L443.8 394.2L444.8 393.9L445.8 393.6L446.8 393.2L447.8 392.9L448.8 392.6L449.8 392.2L450.8 391.9L451.8 391.6L452.8 391.2L453.8 390.8L454.8 390.5L455.8 390.1L456.8 389.7L457.8 389.3L458.8 389.0L459.8 388.6L460.8 388.2L461.8 387.8L462.8 387.4L463.8 387.1L464.8 386.7L465.8 386.3L466.8 386.0L467.8 385.6L468.8 385.2L469.8 384.9L470.8 384.6L471.8 384.2L472.8 383.9L473.8 383.6L474.8 383.2L475.8 382.9L476.8 382.6L477.8 382.2L478.8 381.9L479.8 381.6L480.8 381.2L481.8 380.9L482.8 380.6L483.8 380.3L484.8 380.0L485.8 379.7L486.8 379.4L487.8 379.2L488.8 378.9L489.8 378.6L490.8 378.4L491.8 378.2L492.8 378.0L493.8 377.8L494.8 377.6L495.8 377.4L496.8 377.3L497.8 377.1L498.8 376.9L499.8 376.8L500.8 376.7L501.8 376.5L502.8 376.4L503.8 376.2L504.8 376.1L505.8 376.0L506.8 375.8L507.8 375.7L508.8 375.6L509.8 375.4L510.8 375.3L511.8 375.1L512.8 375.0L513.8 374.8L514.8 374.7L515.8 374.4L516.8 374.2L517.8 374.0L518.8 373.8L519.8 373.7L520.8 373.7L521.8 374.1L522.8 374.6L523.8 375.0L524.8 375.2L525.8 375.2L526.8 375.2L527.8 375.1L528.8 375.1L529.8 375.1L530.8 375.0L531.8 375.0L532.8 374.9L533.8 374.9L534.8 374.8L535.8 374.8L536.8 374.7L537.8 374.7L538.8 374.6L539.8 374.6L540.8 374.5L541.8 374.4L542.8 374.4L543.8 374.3L544.8 374.2L545.8 374.1L546.8 374.1L547.8 374.0L548.8 374.0L549.8 373.9L550.8 373.9L551.8 373.8L552.8 373.8L553.8 373.7L554.8 373.7L555.8 373.7L556.8 373.7L557.8 373.7L558.8 373.8L559.8 373.9L560.8 374.0L561.8 374.2L562.8 374.4L563.8 374.6L564.8 374.8L565.8 375.0L566.8 375.3L567.8 375.5L568.8 375.7L569.8 376.0L570.8 376.2L571.8 376.5L572.8 376.7L573.8 377.0L574.8 377.3L575.8 377.6L576.8 378.0L577.8 378.3L578.8 378.6L579.8 379.0" stroke="#add6d6" stroke-width="0.9" fill="none"/>
<path d="M214.80 331.41L218.37 325.40L211.23 325.40ZM218.55 335.47L222.12 329.47L214.98 329.47ZM222.30 337.01L225.87 331.00L218.73 331.00ZM226.05 339.28L229.62 333.27L222.48 333.27ZM229.80 342.20L233.37 336.19L226.23 336.19ZM233.55 346.49L237.12 340.48L229.98 340.48ZM237.30 349.27L240.87 343.26L233.73 343.26ZM241.05 352.54L244.62 346.53L237.48 346.53ZM244.80 355.46L248.37 349.45L241.23 349.45ZM248.55 357.88L252.12 351.87L244.98 351.87ZM252.30 360.34L255.87 354.33L248.73 354.33ZM256.05 362.82L259.62 356.81L252.48 356.81ZM259.80 365.42L263.37 359.41L256.23 359.41ZM263.55 367.60L267.12 361.60L259.98 361.60ZM267.30 369.42L270.87 363.41L263.73 363.41ZM271.05 371.29L274.62 365.28L267.48 365.28ZM274.80 373.16L278.37 367.15L271.23 367.15ZM278.55 375.04L282.12 369.03L274.98 369.03ZM282.30 376.90L285.87 370.89L278.73 370.89ZM286.05 378.72L289.62 372.71L282.48 372.71ZM289.80 380.68L293.37 374.67L286.23 374.67ZM293.55 383.03L297.12 377.02L289.98 377.02ZM297.30 385.41L300.87 379.40L293.73 379.40ZM301.05 387.45L304.62 381.44L297.48 381.44ZM304.80 389.31L308.37 383.30L301.23 383.30ZM308.55 391.03L312.12 385.02L304.98 385.02ZM312.30 392.65L315.87 386.64L308.73 386.64ZM316.05 394.31L319.62 388.31L312.48 388.31ZM319.80 396.01L323.37 390.00L316.23 390.00ZM323.55 397.77L327.12 391.76L319.98 391.76ZM327.30 399.66L330.87 393.65L323.73 393.65ZM331.05 401.60L334.62 395.59L327.48 395.59ZM334.80 403.44L338.37 397.43L331.23 397.43ZM338.55 405.15L342.12 399.14L334.98 399.14ZM342.30 406.81L345.87 400.81L338.73 400.81ZM346.05 408.31L349.62 402.30L342.48 402.30ZM349.80 409.54L353.37 403.53L346.23 403.53ZM353.55 410.61L357.12 404.60L349.98 404.60ZM357.30 411.53L360.87 405.52L353.73 405.52ZM361.05 412.28L364.62 406.28L357.48 406.28ZM364.80 412.96L368.37 406.95L361.23 406.95ZM368.55 413.58L372.12 407.57L364.98 407.57ZM372.30 413.96L375.87 407.95L368.73 407.95ZM376.05 414.01L379.62 408.00L372.48 408.00ZM379.80 414.01L383.37 408.00L376.23 408.00ZM383.55 414.01L387.12 408.00L379.98 408.00ZM387.30 414.01L390.87 408.00L383.73 408.00ZM391.05 413.75L394.62 407.74L387.48 407.74ZM394.80 413.20L398.37 407.19L391.23 407.19ZM398.55 412.51L402.12 406.50L394.98 406.50ZM402.30 411.66L405.87 405.65L398.73 405.65ZM406.05 410.42L409.62 404.41L402.48 404.41ZM409.80 409.03L413.37 403.02L406.23 403.02ZM413.55 407.73L417.12 401.72L409.98 401.72ZM417.30 406.47L420.87 400.46L413.73 400.46ZM421.05 405.21L424.62 399.20L417.48 399.20ZM424.80 403.94L428.37 397.94L421.23 397.94ZM428.55 402.68L432.12 396.67L424.98 396.67ZM432.30 401.42L435.87 395.41L428.73 395.41ZM436.05 400.16L439.62 394.15L432.48 394.15ZM439.80 398.92L443.37 392.91L436.23 392.91ZM443.55 397.70L447.12 391.70L439.98 391.70ZM447.30 396.49L450.87 390.48L443.73 390.48ZM451.05 395.22L454.62 389.22L447.48 389.22ZM454.80 393.88L458.37 387.87L451.23 387.87ZM458.55 392.47L462.12 386.46L454.98 386.46ZM462.30 391.05L465.87 385.04L458.73 385.04ZM466.05 389.65L469.62 383.64L462.48 383.64ZM469.80 388.31L473.37 382.31L466.23 382.31ZM473.55 387.06L477.12 381.05L469.98 381.05ZM477.30 385.80L480.87 379.79L473.73 379.79ZM481.05 384.57L484.62 378.56L477.48 378.56ZM484.80 383.41L488.37 377.40L481.23 377.40ZM488.55 382.36L492.12 376.36L484.98 376.36ZM492.30 381.49L495.87 375.48L488.73 375.48ZM496.05 380.79L499.62 374.79L492.48 374.79ZM499.80 380.21L503.37 374.20L496.23 374.20ZM503.55 379.68L507.12 373.67L499.98 373.67ZM507.30 379.18L510.87 373.17L503.73 373.17ZM511.05 378.66L514.62 372.65L507.48 372.65ZM514.80 378.06L518.37 372.05L511.23 372.05ZM518.55 377.27L522.12 371.26L514.98 371.26ZM522.30 377.73L525.87 371.72L518.73 371.72ZM526.05 378.60L529.62 372.59L522.48 372.59ZM529.80 378.48L533.37 372.47L526.23 372.47ZM533.55 378.29L537.12 372.28L529.98 372.28ZM537.30 378.11L540.87 372.10L533.73 372.10ZM541.05 377.88L544.62 371.87L537.48 371.87ZM544.80 377.63L548.37 371.62L541.23 371.62ZM548.55 377.39L552.12 371.38L544.98 371.38ZM552.30 377.20L555.87 371.19L548.73 371.19ZM556.05 377.11L559.62 371.10L552.48 371.10ZM559.80 377.31L563.37 371.30L556.23 371.30ZM563.55 377.95L567.12 371.94L559.98 371.94ZM567.30 378.80L570.87 372.80L563.73 372.80ZM571.05 379.68L574.62 373.67L567.48 373.67ZM574.80 380.73L578.37 374.72L571.23 374.72ZM578.55 381.96L582.12 375.95L574.98 375.95ZM198.80 309.01L202.37 303.00L195.23 303.00ZM202.00 325.01L205.57 319.00L198.43 319.00ZM206.30 335.71L209.87 329.70L202.73 329.70ZM209.50 328.21L213.07 322.20L205.93 322.20Z" fill="#008080"/>
<path d="M129.9 143.0L130.9 141.8L131.9 140.8L132.9 139.8L133.9 138.9L134.9 138.2L135.9 137.6L136.9 136.9L137.9 136.3L138.9 135.8L139.9 135.4L140.9 135.1L141.9 135.0L142.9 135.1L143.9 135.2L144.9 135.5L145.9 135.9L146.9 136.3L147.9 136.8L148.9 137.3L149.9 137.8L150.9 138.3L151.9 138.8L152.9 139.3L153.9 139.8L154.9 140.3L155.9 140.8L156.9 141.3L157.9 141.8L158.9 142.4L159.9 143.0L160.9 143.6L161.9 144.3L162.9 144.9L163.9 145.6L164.9 146.4L165.9 147.1L166.9 147.9L167.9 148.8L168.9 149.8L169.9 150.7L170.9 151.8L171.9 152.8L172.9 153.9L173.9 155.0L174.9 156.1L175.9 157.2L176.9 158.4L177.9 159.5L178.9 160.6L179.9 161.8L180.9 163.0L181.9 164.2L182.9 165.5L183.9 166.7L184.9 168.0L185.9 169.3L186.9 170.6L187.9 171.9L188.9 173.2L189.9 174.5L190.9 175.8L191.9 177.1L192.9 178.4L193.9 179.7L194.9 181.0L195.9 182.4L196.9 183.7L197.9 185.1L198.9 186.4L199.9 187.8L200.9 189.1L201.9 190.4L202.9 191.7L203.9 193.0L204.9 194.3L205.9 195.6L206.9 196.8L207.9 198.1L208.9 199.3L209.9 200.6L210.9 201.8L211.9 203.0L212.9 204.3L213.9 205.5L214.9 206.8L215.9 208.0L216.9 209.2L217.9 210.5L218.9 211.7L219.9 212.9L220.9 214.2L221.9 215.4L222.9 216.6L223.9 217.8L224.9 219.1L225.9 220.3L226.9 221.6L227.9 222.9L228.9 224.2L229.9 225.5L230.9 226.8L231.9 228.2L232.9 229.5L233.9 230.9L234.9 232.3L235.9 233.7L236.9 235.1L237.9 236.5L238.9 237.9L239.9 239.3L240.9 240.7L241.9 242.1L242.9 243.4L243.9 244.8L244.9 246.1L245.9 247.4L246.9 248.6L247.9 249.8L248.9 251.0L249.9 252.2L250.9 253.3L251.9 254.4L252.9 255.4L253.9 256.5L254.9 257.5L255.9 258.5L256.9 259.5L257.9 260.5L258.9 261.5L259.9 262.6L260.9 263.7L261.9 264.8L262.9 265.9L263.9 267.1L264.9 268.2L265.9 269.3L266.9 270.5L267.9 271.6L268.9 272.6L269.9 273.7L270.9 274.7L271.9 275.7L272.9 276.6L273.9 277.5L274.9 278.4L275.9 279.3L276.9 280.1L277.9 281.0L278.9 281.9L279.9 282.8L280.9 283.7L281.9 284.7L282.9 285.6L283.9 286.6L284.9 287.6L285.9 288.6L286.9 289.6L287.9 290.6L288.9 291.6L289.9 292.6L290.9 293.6L291.9 294.6L292.9 295.6L293.9 296.6L294.9 297.6L295.9 298.6L296.9 299.6L297.9 300.6L298.9 301.6L299.9 302.6L300.9 303.6L301.9 304.6L302.9 305.6L303.9 306.6L304.9 307.6L305.9 308.7L306.9 309.7L307.9 310.7L308.9 311.7L309.9 312.8L310.9 313.8L311.9 314.7L312.9 315.7L313.9 316.7L314.9 317.6L315.9 318.5L316.9 319.5L317.9 320.4L318.9 321.3L319.9 322.2L320.9 323.0L321.9 323.9L322.9 324.8L323.9 325.6L324.9 326.4L325.9 327.2L326.9 328.0L327.9 328.8L328.9 329.5L329.9 330.3L330.9 331.1L331.9 331.9L332.9 332.7L333.9 333.5L334.9 334.4L335.9 335.3L336.9 336.3L337.9 337.4L338.9 338.4L339.9 339.5L340.9 340.5L341.9 341.4L342.9 342.3L343.9 343.2L344.9 344.0L345.9 344.8L346.9 345.6L347.9 346.4L348.9 347.2L349.9 348.0L350.9 348.7L351.9 349.4L352.9 350.1L353.9 350.8L354.9 351.5L355.9 352.2L356.9 352.8L357.9 353.5L358.9 354.1L359.9 354.7L360.9 355.3L361.9 355.9L362.9 356.5L363.9 357.0L364.9 357.6L365.9 358.1L366.9 358.6L367.9 359.1L368.9 359.6L369.9 360.1L370.9 360.6L371.9 361.0L372.9 361.5L373.9 362.0L374.9 362.4L375.9 362.8L376.9 363.3L377.9 363.7L378.9 364.1L379.9 364.5L380.9 364.9L381.9 365.3L382.9 365.7L383.9 366.0L384.9 366.4L385.9 366.7L386.9 367.0L387.9 367.4L388.9 367.7L389.9 368.0L390.9 368.3L391.9 368.5L392.9 368.8L393.9 369.1L394.9 369.4L395.9 369.7L396.9 369.9L397.9 370.2L398.9 370.5L399.9 370.8L400.9 371.0L401.9 371.3L402.9 371.5L403.9 371.8L404.9 372.0L405.9 372.2L406.9 372.4L407.9 372.5L408.9 372.7L409.9 372.8L410.9 373.0L411.9 373.1L412.9 373.2L413.9 373.4L414.9 373.5L415.9 373.6L416.9 373.7L417.9 373.9L418.9 374.0L419.9 374.1L420.9 374.3L421.9 374.4L422.9 374.5L423.9 374.6L424.9 374.7L425.9 374.8L426.9 374.8L427.9 374.8L428.9 374.8L429.9 374.8L430.9 374.8L431.9 374.8L432.9 374.8L433.9 374.8L434.9 374.8L435.9 374.8L436.9 374.8L437.9 374.8L438.9 374.8L439.9 374.8L440.9 374.8L441.9 374.7L442.9 374.7L443.9 374.7L444.9 374.6L445.9 374.6L446.9 374.5L447.9 374.4L448.9 374.4L449.9 374.3L450.9 374.2L451.9 374.0L452.9 373.9L453.9 373.7L454.9 373.5L455.9 373.4L456.9 373.1L457.9 372.9L458.9 372.7L459.9 372.4L460.9 372.2L461.9 371.9L462.9 371.7L463.9 371.4L464.9 371.1L465.9 370.8L466.9 370.6L467.9 370.3L468.9 370.1L469.9 369.8L470.9 369.6L471.9 369.4L472.9 369.1L473.9 368.9L474.9 368.7L475.9 368.5L476.9 368.3L477.9 368.1L478.9 367.9L479.9 367.7L480.9 367.4L481.9 367.2L482.9 367.0L483.9 366.8L484.9 366.6L485.9 366.4L486.9 366.3L487.9 366.1L488.9 365.9L489.9 365.7L490.9 365.5L491.9 365.3L492.9 365.2L493.9 365.0L494.9 364.8L495.9 364.7L496.9 364.5L497.9 364.4L498.9 364.2L499.9 364.0L500.9 363.9L501.9 363.8L502.9 363.6L503.9 363.5L504.9 363.3L505.9 363.2L506.9 363.0L507.9 362.9L508.9 362.7L509.9 362.6L510.9 362.5L511.9 362.3L512.9 362.2L513.9 362.0L514.9 361.9L515.9 361.7L516.9 361.5L517.9 361.4L518.9 361.2L519.9 361.0L520.9 360.9L521.9 360.7L522.9 360.5L523.9 360.3L524.9 360.2L525.9 360.0L526.9 359.8L527.9 359.7L528.9 359.5L529.9 359.4L530.9 359.3L531.9 359.1L532.9 359.0L533.9 358.9L534.9 358.8L535.9 358.8L536.9 358.7L537.9 358.6L538.9 358.5L539.9 358.5L540.9 358.4L541.9 358.3L542.9 358.2L543.9 358.2L544.9 358.1L545.9 358.1L546.9 358.0L547.9 357.9L548.9 357.9L549.9 357.8L550.9 357.8L551.9 357.8L552.9 357.7L553.9 357.7L554.9 357.7L555.9 357.7L556.9 357.7L557.9 357.7L558.9 357.8L559.9 357.8L560.9 357.9L561.9 358.1L562.9 358.2L563.9 358.4L564.9 358.5L565.9 358.7L566.9 359.0L567.9 359.2L568.9 359.4L569.9 359.7L570.9 360.0L571.9 360.2L572.9 360.5L573.9 360.8L574.9 361.1L575.9 361.4L576.9 361.7L577.9 362.0L578.9 362.3L579.9 362.7L580.9 363.1L581.9 363.6L582.9 364.1L583.9 364.6L584.9 365.1L585.9 365.7L586.9 366.3L587.9 366.9L588.9 367.4L589.9 368.0L590.9 368.5L591.9 369.0L592.9 369.5L593.9 370.0L594.9 370.4L595.9 370.8L596.9 371.2L597.9 371.7" stroke="#ffadff" stroke-width="0.9" fill="none"/>
<path d="M126.49 143.00L132.50 139.43L132.50 146.57ZM130.24 139.12L136.25 135.55L136.25 142.69ZM133.99 136.63L140.00 133.05L140.00 140.20ZM137.74 135.07L143.75 131.50L143.75 138.64ZM141.49 135.50L147.50 131.93L147.50 139.07ZM145.24 137.14L151.25 133.57L151.25 140.72ZM148.99 139.05L155.00 135.47L155.00 142.62ZM152.74 140.90L158.75 137.33L158.75 144.47ZM156.49 143.01L162.50 139.44L162.50 146.58ZM160.24 145.45L166.25 141.88L166.25 149.03ZM163.99 148.38L170.00 144.81L170.00 151.95ZM167.74 152.03L173.75 148.45L173.75 155.60ZM171.49 156.12L177.50 152.55L177.50 159.69ZM175.24 160.35L181.25 156.78L181.25 163.92ZM178.99 164.84L185.00 161.27L185.00 168.41ZM182.74 169.61L188.75 166.03L188.75 173.18ZM186.49 174.47L192.50 170.89L192.50 178.04ZM190.24 179.37L196.25 175.80L196.25 182.94ZM193.99 184.40L200.00 180.83L200.00 187.98ZM197.74 189.43L203.75 185.85L203.75 193.00ZM201.49 194.29L207.50 190.72L207.50 197.87ZM205.24 199.01L211.25 195.44L211.25 202.59ZM208.99 203.67L215.00 200.09L215.00 207.24ZM212.74 208.31L218.75 204.74L218.75 211.89ZM216.49 212.94L222.50 209.37L222.50 216.51ZM220.24 217.54L226.25 213.97L226.25 221.11ZM223.99 222.23L230.00 218.66L230.00 225.81ZM227.74 227.16L233.75 223.58L233.75 230.73ZM231.49 232.33L237.50 228.75L237.50 235.90ZM235.24 237.58L241.25 234.00L241.25 241.15ZM238.99 242.75L245.00 239.17L245.00 246.32ZM242.74 247.67L248.75 244.10L248.75 251.25ZM246.49 252.19L252.50 248.61L252.50 255.76ZM250.24 256.20L256.25 252.62L256.25 259.77ZM253.99 259.99L260.00 256.42L260.00 263.56ZM257.74 263.95L263.75 260.38L263.75 267.53ZM261.49 268.19L267.50 264.62L267.50 271.77ZM265.24 272.38L271.25 268.80L271.25 275.95ZM268.99 276.14L275.00 272.56L275.00 279.71ZM272.74 279.49L278.75 275.92L278.75 283.07ZM276.49 282.80L282.50 279.23L282.50 286.38ZM280.24 286.36L286.25 282.79L286.25 289.94ZM283.99 290.09L290.00 286.51L290.00 293.66ZM287.74 293.85L293.75 290.28L293.75 297.42ZM291.49 297.59L297.50 294.02L297.50 301.16ZM295.24 301.34L301.25 297.77L301.25 304.91ZM298.99 305.10L305.00 301.53L305.00 308.67ZM302.74 308.92L308.75 305.35L308.75 312.49ZM306.49 312.76L312.50 309.18L312.50 316.33ZM310.24 316.43L316.25 312.86L316.25 320.00ZM313.99 319.91L320.00 316.34L320.00 323.49ZM317.74 323.26L323.75 319.68L323.75 326.83ZM321.49 326.44L327.50 322.87L327.50 330.02ZM325.24 329.35L331.25 325.78L331.25 332.93ZM328.99 332.25L335.00 328.68L335.00 335.83ZM332.74 335.57L338.75 332.00L338.75 339.15ZM336.49 339.47L342.50 335.90L342.50 343.04ZM340.24 342.95L346.25 339.37L346.25 346.52ZM343.99 346.04L350.00 342.47L350.00 349.61ZM347.74 348.89L353.75 345.32L353.75 352.46ZM351.49 351.52L357.50 347.94L357.50 355.09ZM355.24 353.96L361.25 350.38L361.25 357.53ZM358.99 356.19L365.00 352.62L365.00 359.77ZM362.74 358.23L368.75 354.66L368.75 361.81ZM366.49 360.11L372.50 356.54L372.50 363.68ZM370.24 361.84L376.25 358.27L376.25 365.42ZM373.99 363.47L380.00 359.90L380.00 367.05ZM377.74 365.00L383.75 361.42L383.75 368.57ZM381.49 366.37L387.50 362.80L387.50 369.94ZM385.24 367.58L391.25 364.01L391.25 371.16ZM388.99 368.69L395.00 365.12L395.00 372.26ZM392.74 369.74L398.75 366.16L398.75 373.31ZM396.49 370.78L402.50 367.20L402.50 374.35ZM400.24 371.72L406.25 368.15L406.25 375.29ZM403.99 372.44L410.00 368.87L410.00 376.01ZM407.74 373.00L413.75 369.43L413.75 376.58ZM411.49 373.48L417.50 369.91L417.50 377.06ZM415.24 373.95L421.25 370.38L421.25 377.53ZM418.99 374.46L425.00 370.88L425.00 378.03ZM422.74 374.78L428.75 371.20L428.75 378.35ZM426.49 374.80L432.50 371.23L432.50 378.37ZM430.24 374.80L436.25 371.23L436.25 378.37ZM433.99 374.80L440.00 371.23L440.00 378.37ZM437.74 374.76L443.75 371.18L443.75 378.33ZM441.49 374.61L447.50 371.04L447.50 378.19ZM445.24 374.40L451.25 370.83L451.25 377.98ZM448.99 373.96L455.00 370.39L455.00 377.53ZM452.74 373.31L458.75 369.73L458.75 376.88ZM456.49 372.44L462.50 368.87L462.50 376.02ZM460.24 371.46L466.25 367.88L466.25 375.03ZM463.99 370.45L470.00 366.88L470.00 374.02ZM467.74 369.53L473.75 365.96L473.75 373.11ZM471.49 368.71L477.50 365.14L477.50 372.29ZM475.24 367.91L481.25 364.34L481.25 371.49ZM478.99 367.14L485.00 363.57L485.00 370.71ZM482.74 366.40L488.75 362.82L488.75 369.97ZM486.49 365.69L492.50 362.12L492.50 369.27ZM490.24 365.04L496.25 361.47L496.25 368.61ZM493.99 364.43L500.00 360.86L500.00 368.00ZM497.74 363.86L503.75 360.29L503.75 367.44ZM501.49 363.32L507.50 359.75L507.50 366.89ZM505.24 362.78L511.25 359.21L511.25 366.35ZM508.99 362.24L515.00 358.67L515.00 365.81ZM512.74 361.66L518.75 358.09L518.75 365.24ZM516.49 361.03L522.50 357.45L522.50 364.60ZM520.24 360.37L526.25 356.80L526.25 363.95ZM523.99 359.76L530.00 356.18L530.00 363.33ZM527.74 359.23L533.75 355.65L533.75 362.80ZM531.49 358.83L537.50 355.26L537.50 362.40ZM535.24 358.54L541.25 354.97L541.25 362.12ZM538.99 358.27L545.00 354.70L545.00 361.85ZM542.74 358.04L548.75 354.46L548.75 361.61ZM546.49 357.85L552.50 354.28L552.50 361.42ZM550.24 357.73L556.25 354.16L556.25 361.30ZM553.99 357.71L560.00 354.13L560.00 361.28ZM557.74 357.97L563.75 354.39L563.75 361.54ZM561.49 358.55L567.50 354.97L567.50 362.12ZM565.24 359.37L571.25 355.80L571.25 362.94ZM568.99 360.37L575.00 356.79L575.00 363.94ZM572.74 361.45L578.75 357.88L578.75 365.03ZM576.49 362.67L582.50 359.09L582.50 366.24ZM580.24 364.45L586.25 360.88L586.25 368.03ZM583.99 366.57L590.00 362.99L590.00 370.14ZM587.74 368.64L593.75 365.07L593.75 372.22ZM591.49 370.39L597.50 366.82L597.50 373.96Z" fill="#ff00ff"/>
<path d="M88.4 18.4L89.4 20.0L90.4 21.7L91.4 23.3L92.4 24.9L93.4 26.6L94.4 28.2L95.4 29.8L96.4 31.5L97.4 33.1L98.4 34.8L99.4 36.4L100.4 38.0L101.4 39.7L102.4 41.3L103.4 43.0L104.4 44.6L105.4 46.3L106.4 47.9L107.4 49.6L108.4 51.2L109.4 52.9L110.4 54.5L111.4 56.2L112.4 57.9L113.4 59.5L114.4 61.2L115.4 62.8L116.4 64.5L117.4 66.2L118.4 67.8L119.4 69.5L120.4 71.2L121.4 72.8L122.4 74.5L123.4 76.3L124.4 78.0L125.4 79.7L126.4 81.4L127.4 83.2L128.4 84.9L129.4 86.7L130.4 88.5L131.4 90.2L132.4 92.0L133.4 93.7L134.4 95.5L135.4 97.2L136.4 99.0L137.4 100.7L138.4 102.5L139.4 104.2L140.4 105.9L141.4 107.6L142.4 109.3L143.4 111.0L144.4 112.6L145.4 114.3L146.4 115.9L147.4 117.5L148.4 119.1L149.4 120.6L150.4 122.2L151.4 123.7L152.4 125.1L153.4 126.6L154.4 128.0L155.4 129.4L156.4 130.8L157.4 132.2L158.4 133.5L159.4 134.9L160.4 136.2L161.4 137.5L162.4 138.7L163.4 140.0L164.4 141.3L165.4 142.5L166.4 143.7L167.4 144.9L168.4 146.1L169.4 147.3L170.4 148.5L171.4 149.7L172.4 150.8L173.4 152.0L174.4 153.1L175.4 154.2L176.4 155.3L177.4 156.4L178.4 157.5M178.9 158.1L179.9 159.1L180.9 160.1L181.9 161.1L182.9 162.0L183.9 162.7L184.9 163.4L185.9 164.1L186.9 164.7L187.9 165.4L188.9 166.0L189.9 166.5L190.9 166.9L191.9 167.1L192.9 167.2L193.9 167.1L194.9 167.0L195.9 166.8L196.9 166.5L197.9 166.2L198.9 165.9L199.9 165.5L200.9 165.1L201.9 164.5L202.9 163.8L203.9 163.0L204.9 162.1L205.9 161.1L206.9 160.0L207.9 159.0L208.9 157.9L209.9 156.9L210.9 155.9L211.9 155.0L212.9 154.1L213.9 153.2L214.9 152.3L215.9 151.4L216.9 150.5L217.9 149.7L218.9 148.9L219.9 148.1L220.9 147.3L221.9 146.6L222.9 145.8L223.9 145.1L224.9 144.5L225.9 143.8L226.9 143.2L227.9 142.7L228.9 142.1L229.9 141.5L230.9 141.0L231.9 140.4L232.9 139.9L233.9 139.5L234.9 139.2L235.9 139.0L236.9 139.0L237.9 139.2L238.9 139.4L239.9 139.8L240.9 140.3L241.9 140.9L242.9 141.6L243.9 142.3L244.9 143.0L245.9 143.8L246.9 144.6L247.9 145.3L248.9 146.0L249.9 146.7L250.9 147.4L251.9 148.2L252.9 149.0L253.9 149.8L254.9 150.6L255.9 151.4L256.9 152.3L257.9 153.2L258.9 154.1L259.9 155.0L260.9 155.9L261.9 156.8L262.9 157.7L263.9 158.7L264.9 159.6L265.9 160.5L266.9 161.5L267.9 162.5L268.9 163.5L269.9 164.5L270.9 165.5L271.9 166.5L272.9 167.6L273.9 168.7L274.9 169.8L275.9 170.9L276.9 172.1L277.9 173.4L278.9 174.6L279.9 175.9L280.9 177.2L281.9 178.5L282.9 179.7L283.9 181.0L284.9 182.3L285.9 183.5L286.9 184.8L287.9 186.1L288.9 187.3L289.9 188.6L290.9 189.8L291.9 191.0L292.9 192.2L293.9 193.3L294.9 194.4L295.9 195.5L296.9 196.6L297.9 197.7L298.9 198.8L299.9 200.0L300.9 201.2L301.9 202.4L302.9 203.6L303.9 204.8L304.9 206.1L305.9 207.4L306.9 208.6L307.9 209.9L308.9 211.1L309.9 212.4L310.9 213.7L311.9 214.9L312.9 216.2L313.9 217.4L314.9 218.7L315.9 219.9L316.9 221.2L317.9 222.5L318.9 223.8L319.9 225.0L320.9 226.3L321.9 227.6L322.9 228.9L323.9 230.2L324.9 231.5L325.9 232.8L326.9 234.1L327.9 235.4L328.9 236.7L329.9 238.0L330.9 239.4L331.9 240.8L332.9 242.2L333.9 243.6L334.9 244.9L335.9 246.3L336.9 247.7L337.9 249.0L338.9 250.3L339.9 251.6L340.9 252.9L341.9 254.1L342.9 255.2L343.9 256.4L344.9 257.5L345.9 258.7L346.9 259.8L347.9 260.9L348.9 261.9L349.9 263.0L350.9 264.1L351.9 265.1L352.9 266.1L353.9 267.1L354.9 268.1L355.9 269.1L356.9 270.0L357.9 271.0L358.9 272.0L359.9 273.0L360.9 273.9L361.9 275.0L362.9 276.0L363.9 277.1L364.9 278.3L365.9 279.4L366.9 280.6L367.9 281.7L368.9 282.9L369.9 284.0L370.9 285.1L371.9 286.1L372.9 287.2L373.9 288.2L374.9 289.2L375.9 290.2L376.9 291.2L377.9 292.1L378.9 293.1L379.9 294.1L380.9 295.1L381.9 296.1L382.9 297.1L383.9 298.2L384.9 299.2L385.9 300.2L386.9 301.2L387.9 302.2L388.9 303.1L389.9 304.0L390.9 304.9L391.9 305.8L392.9 306.7L393.9 307.5L394.9 308.4L395.9 309.2L396.9 310.1L397.9 311.0L398.9 311.9L399.9 312.8L400.9 313.7L401.9 314.6L402.9 315.6L403.9 316.5L404.9 317.4L405.9 318.3L406.9 319.2L407.9 320.0L408.9 320.8L409.9 321.5L410.9 322.3L411.9 323.0L412.9 323.8L413.9 324.5L414.9 325.1L415.9 325.8L416.9 326.5L417.9 327.2L418.9 327.8L419.9 328.4L420.9 329.1L421.9 329.7L422.9 330.3L423.9 331.0L424.9 331.6L425.9 332.2L426.9 332.7L427.9 333.3L428.9 333.9L429.9 334.4L430.9 334.9L431.9 335.4L432.9 335.9L433.9 336.4L434.9 336.8L435.9 337.3L436.9 337.7L437.9 338.1L438.9 338.6L439.9 339.0L440.9 339.4L441.9 339.7L442.9 340.1L443.9 340.4L444.9 340.7L445.9 341.0L446.9 341.3L447.9 341.6L448.9 341.9L449.9 342.1L450.9 342.4L451.9 342.6L452.9 342.9L453.9 343.1L454.9 343.3L455.9 343.5L456.9 343.7L457.9 343.9L458.9 344.1L459.9 344.3L460.9 344.5L461.9 344.7L462.9 344.8L463.9 345.0L464.9 345.2L465.9 345.3L466.9 345.5L467.9 345.6L468.9 345.8L469.9 345.9L470.9 346.0L471.9 346.1L472.9 346.2L473.9 346.3L474.9 346.5L475.9 346.6L476.9 346.7L477.9 346.8L478.9 346.8L479.9 346.9L480.9 347.0L481.9 347.0L482.9 347.0L483.9 347.0L484.9 347.0L485.9 347.0L486.9 347.0L487.9 347.0L488.9 347.0L489.9 347.0L490.9 347.0L491.9 347.0L492.9 347.0L493.9 347.0L494.9 347.0L495.9 347.0L496.9 347.0L497.9 346.9L498.9 346.9L499.9 346.8L500.9 346.7L501.9 346.7L502.9 346.6L503.9 346.4L504.9 346.3L505.9 346.2L506.9 346.1L507.9 346.0L508.9 345.9L509.9 345.7L510.9 345.6L511.9 345.4L512.9 345.3L513.9 345.1L514.9 344.9L515.9 344.7L516.9 344.5L517.9 344.2L518.9 344.0L519.9 343.7L520.9 343.5L521.9 343.2L522.9 342.9L523.9 342.7L524.9 342.4L525.9 342.2L526.9 342.0L527.9 341.8L528.9 341.7L529.9 341.6L530.9 341.4L531.9 341.3L532.9 341.2L533.9 341.1L534.9 341.0L535.9 340.9L536.9 340.8L537.9 340.7L538.9 340.7L539.9 340.6L540.9 340.6L541.9 340.6L542.9 340.6L543.9 340.6L544.9 340.6L545.9 340.6L546.9 340.6L547.9 340.6L548.9 340.6L549.9 340.6L550.9 340.6L551.9 340.6L552.9 340.6L553.9 340.6L554.9 340.6L555.9 340.6L556.9 340.7L557.9 340.7L558.9 340.8L559.9 340.9L560.9 341.0L561.9 341.1L562.9 341.2L563.9 341.3L564.9 341.4L565.9 341.5L566.9 341.7L567.9 341.8L568.9 342.0L569.9 342.1L570.9 342.4L571.9 342.6L572.9 342.8L573.9 343.1L574.9 343.4L575.9 343.7L576.9 344.0L577.9 344.3L578.9 344.6L579.9 344.9L580.9 345.2L581.9 345.5L582.9 345.9L583.9 346.2L584.9 346.6L585.9 347.0L586.9 347.4L587.9 347.8L588.9 348.3L589.9 348.7L590.9 349.2L591.9 349.6L592.9 350.1L593.9 350.6L594.9 351.1L595.9 351.6L596.9 352.2L597.9 352.7L598.9 353.3L599.9 353.9L600.9 354.6L601.9 355.3L602.9 356.0L603.9 356.7L604.9 357.5L605.9 358.3L606.9 359.1L607.9 360.0L608.9 360.9L609.9 361.8L610.9 362.7L611.9 363.7L612.9 364.7L613.9 365.7" stroke="#d6d6ad" stroke-width="0.9" fill="none"/>
<path d="M182.31 158.10L176.30 154.53L176.30 161.67ZM186.06 161.75L180.05 158.18L180.05 165.32ZM189.81 164.40L183.80 160.83L183.80 167.98ZM193.56 166.58L187.55 163.01L187.55 170.15ZM197.31 167.14L191.30 163.57L191.30 170.72ZM201.06 166.30L195.05 162.73L195.05 169.88ZM204.81 164.84L198.80 161.27L198.80 168.41ZM208.56 161.82L202.55 158.25L202.55 165.40ZM212.31 157.93L206.30 154.36L206.30 161.51ZM216.06 154.33L210.05 150.76L210.05 157.90ZM219.81 150.98L213.80 147.41L213.80 154.55ZM223.56 147.89L217.55 144.31L217.55 151.46ZM227.31 145.13L221.30 141.56L221.30 148.71ZM231.06 142.79L225.05 139.21L225.05 146.36ZM234.81 140.69L228.80 137.12L228.80 144.27ZM238.56 139.15L232.55 135.58L232.55 142.72ZM242.31 139.43L236.30 135.85L236.30 143.00ZM246.06 141.40L240.05 137.82L240.05 144.97ZM249.81 144.17L243.80 140.60L243.80 147.74ZM253.56 146.89L247.55 143.32L247.55 150.46ZM257.31 149.77L251.30 146.20L251.30 153.34ZM261.06 152.98L255.05 149.41L255.05 156.55ZM264.81 156.36L258.80 152.79L258.80 159.94ZM268.56 159.83L262.55 156.25L262.55 163.40ZM272.31 163.47L266.30 159.90L266.30 167.04ZM276.06 167.34L270.05 163.77L270.05 170.92ZM279.81 171.54L273.80 167.96L273.80 175.11ZM283.56 176.23L277.55 172.66L277.55 179.80ZM287.31 181.00L281.30 177.43L281.30 184.57ZM291.06 185.74L285.05 182.16L285.05 189.31ZM294.81 190.38L288.80 186.81L288.80 193.96ZM298.56 194.69L292.55 191.11L292.55 198.26ZM302.31 198.85L296.30 195.28L296.30 202.42ZM306.06 203.30L300.05 199.73L300.05 206.87ZM309.81 208.00L303.80 204.42L303.80 211.57ZM313.56 212.71L307.55 209.14L307.55 216.29ZM317.31 217.42L311.30 213.85L311.30 220.99ZM321.06 222.16L315.05 218.59L315.05 225.74ZM324.81 226.95L318.80 223.38L318.80 230.53ZM328.56 231.79L322.55 228.21L322.55 235.36ZM332.31 236.69L326.30 233.12L326.30 240.27ZM336.06 241.82L330.05 238.25L330.05 245.39ZM339.81 247.00L333.80 243.42L333.80 250.57ZM343.56 251.93L337.55 248.35L337.55 255.50ZM347.31 256.41L341.30 252.83L341.30 259.98ZM351.06 260.59L345.05 257.02L345.05 264.16ZM354.81 264.59L348.80 261.01L348.80 268.16ZM358.56 268.36L352.55 264.79L352.55 271.93ZM362.31 271.97L356.30 268.40L356.30 275.54ZM366.06 275.77L360.05 272.19L360.05 279.34ZM369.81 280.00L363.80 276.43L363.80 283.58ZM373.56 284.29L367.55 280.72L367.55 287.86ZM377.31 288.19L371.30 284.62L371.30 291.76ZM381.06 291.89L375.05 288.31L375.05 295.46ZM384.81 295.61L378.80 292.03L378.80 299.18ZM388.56 299.43L382.55 295.86L382.55 303.00ZM392.31 303.11L386.30 299.54L386.30 306.69ZM396.06 306.45L390.05 302.88L390.05 310.02ZM399.81 309.65L393.80 306.08L393.80 313.23ZM403.56 313.02L397.55 309.44L397.55 316.59ZM407.31 316.50L401.30 312.93L401.30 320.07ZM411.06 319.78L405.05 316.20L405.05 323.35ZM414.81 322.66L408.80 319.09L408.80 326.24ZM418.56 325.32L412.55 321.75L412.55 328.89ZM422.31 327.80L416.30 324.23L416.30 331.37ZM426.06 330.18L420.05 326.61L420.05 333.76ZM429.81 332.45L423.80 328.88L423.80 336.02ZM433.56 334.52L427.55 330.95L427.55 338.09ZM437.31 336.35L431.30 332.78L431.30 339.92ZM441.06 338.04L435.05 334.46L435.05 341.61ZM444.81 339.54L438.80 335.97L438.80 343.11ZM448.56 340.80L442.55 337.23L442.55 344.37ZM452.31 341.87L446.30 338.30L446.30 345.44ZM456.06 342.80L450.05 339.23L450.05 346.37ZM459.81 343.62L453.80 340.05L453.80 347.19ZM463.56 344.35L457.55 340.78L457.55 347.92ZM467.31 345.02L461.30 341.45L461.30 348.59ZM471.06 345.59L465.05 342.02L465.05 349.17ZM474.81 346.05L468.80 342.48L468.80 349.62ZM478.56 346.49L472.55 342.91L472.55 350.06ZM482.31 346.84L476.30 343.27L476.30 350.41ZM486.06 347.00L480.05 343.43L480.05 350.57ZM489.81 347.00L483.80 343.43L483.80 350.57ZM493.56 347.00L487.55 343.43L487.55 350.57ZM497.31 347.00L491.30 343.43L491.30 350.57ZM501.06 346.96L495.05 343.39L495.05 350.53ZM504.81 346.70L498.80 343.13L498.80 350.27ZM508.56 346.30L502.55 342.72L502.55 349.87ZM512.31 345.85L506.30 342.28L506.30 349.43ZM516.06 345.30L510.05 341.72L510.05 348.87ZM519.81 344.60L513.80 341.02L513.80 348.17ZM523.56 343.66L517.55 340.09L517.55 347.23ZM527.31 342.66L521.30 339.09L521.30 346.24ZM531.06 341.87L525.05 338.29L525.05 345.44ZM534.81 341.38L528.80 337.80L528.80 344.95ZM538.56 340.96L532.55 337.38L532.55 344.53ZM542.31 340.67L536.30 337.10L536.30 344.24ZM546.06 340.60L540.05 337.03L540.05 344.17ZM549.81 340.60L543.80 337.03L543.80 344.17ZM553.56 340.60L547.55 337.03L547.55 344.17ZM557.31 340.60L551.30 337.03L551.30 344.17ZM561.06 340.70L555.05 337.13L555.05 344.27ZM564.81 341.01L558.80 337.43L558.80 344.58ZM568.56 341.44L562.55 337.87L562.55 345.01ZM572.31 341.96L566.30 338.39L566.30 345.53ZM576.06 342.77L570.05 339.20L570.05 346.34ZM579.81 343.81L573.80 340.24L573.80 347.38ZM583.56 344.95L577.55 341.37L577.55 348.52ZM587.31 346.23L581.30 342.66L581.30 349.81ZM591.06 347.74L585.05 344.16L585.05 351.31ZM594.81 349.39L588.80 345.82L588.80 352.96ZM598.56 351.22L592.55 347.65L592.55 354.79ZM602.31 353.32L596.30 349.75L596.30 356.89ZM606.06 355.79L600.05 352.22L600.05 359.37ZM609.81 358.71L603.80 355.14L603.80 362.28ZM613.56 362.03L607.55 358.45L607.55 365.60ZM617.31 365.70L611.30 362.12L611.30 369.27Z" fill="#808000"/>
<path d="M175.6 14.0L176.6 17.5L177.6 21.1L178.6 24.6L179.6 28.2M180.0 29.6L181.0 31.7L182.0 33.9L183.0 36.1L184.0 38.4L185.0 40.8L186.0 43.3L187.0 45.8L188.0 48.3L189.0 50.7L190.0 53.2L191.0 55.5L192.0 57.7L193.0 59.7L194.0 61.7L195.0 63.8L196.0 66.0L197.0 68.5L198.0 71.2L199.0 73.7L200.0 76.2L201.0 78.6L202.0 81.1L203.0 83.6L204.0 86.1L205.0 88.7L206.0 91.2L207.0 93.7L208.0 96.0L209.0 98.4L210.0 100.7L211.0 102.9L212.0 105.0L213.0 107.1L214.0 109.2L215.0 111.3L216.0 113.3L217.0 115.4L218.0 117.6L219.0 119.8L220.0 122.2L221.0 124.6L222.0 127.0L223.0 129.4L224.0 131.9L225.0 134.5L226.0 136.9L227.0 139.3L228.0 141.5L229.0 143.6L230.0 145.5L231.0 147.4L232.0 149.3L233.0 151.1L234.0 152.8L235.0 154.5L236.0 156.2L237.0 157.8L238.0 159.4L239.0 161.0L240.0 162.6L241.0 164.1L242.0 165.5L243.0 167.0L244.0 168.3L245.0 169.7L246.0 171.0L247.0 172.3L248.0 173.6L249.0 174.9L250.0 176.1L251.0 177.1L252.0 178.0L253.0 178.6L254.0 179.2L255.0 179.8L256.0 180.4L257.0 180.8L258.0 181.2L259.0 181.4L260.0 181.5L261.0 181.4L262.0 181.1L263.0 180.6L264.0 180.0L265.0 179.3L266.0 178.4L267.0 177.5L268.0 176.6L269.0 175.7L270.0 174.7L271.0 173.8L272.0 172.9L273.0 171.8L274.0 170.6L275.0 169.4L276.0 168.1L277.0 166.8L278.0 165.5L279.0 164.2L280.0 162.9L281.0 161.7L282.0 160.4L283.0 159.2L284.0 157.9L285.0 156.6L286.0 155.3L287.0 154.0L288.0 152.7L289.0 151.5L290.0 150.4L291.0 149.4L292.0 148.5L293.0 147.7L294.0 146.8L295.0 146.0L296.0 145.3L297.0 144.5L298.0 143.9L299.0 143.2L300.0 142.7L301.0 142.2L302.0 141.8L303.0 141.5L304.0 141.2L305.0 141.0L306.0 140.8L307.0 140.6L308.0 140.5L309.0 140.4L310.0 140.4L311.0 140.6L312.0 140.9L313.0 141.2L314.0 141.6L315.0 142.0L316.0 142.4L317.0 142.8L318.0 143.3L319.0 143.7L320.0 144.2L321.0 144.7L322.0 145.3L323.0 145.9L324.0 146.5L325.0 147.2L326.0 147.9L327.0 148.6L328.0 149.3L329.0 150.0L330.0 150.8L331.0 151.6L332.0 152.5L333.0 153.4L334.0 154.3L335.0 155.3L336.0 156.2L337.0 157.2L338.0 158.2L339.0 159.2L340.0 160.2L341.0 161.3L342.0 162.3L343.0 163.4L344.0 164.5L345.0 165.6L346.0 166.8L347.0 167.9L348.0 169.1L349.0 170.2L350.0 171.4L351.0 172.5L352.0 173.7L353.0 174.9L354.0 176.0L355.0 177.2L356.0 178.4L357.0 179.6L358.0 180.9L359.0 182.1L360.0 183.3L361.0 184.6L362.0 185.8L363.0 187.1L364.0 188.4L365.0 189.7L366.0 191.0L367.0 192.3L368.0 193.6L369.0 194.9L370.0 196.3L371.0 197.6L372.0 199.0L373.0 200.4L374.0 201.8L375.0 203.3L376.0 204.7L377.0 206.2L378.0 207.7L379.0 209.2L380.0 210.7L381.0 212.1L382.0 213.6L383.0 215.0L384.0 216.4L385.0 217.8L386.0 219.1L387.0 220.4L388.0 221.7L389.0 222.9L390.0 224.2L391.0 225.4L392.0 226.7L393.0 227.9L394.0 229.1L395.0 230.4L396.0 231.6L397.0 232.9L398.0 234.1L399.0 235.3L400.0 236.5L401.0 237.7L402.0 239.0L403.0 240.2L404.0 241.4L405.0 242.6L406.0 243.9L407.0 245.1L408.0 246.4L409.0 247.6L410.0 248.9L411.0 250.2L412.0 251.5L413.0 252.7L414.0 254.0L415.0 255.3L416.0 256.5L417.0 257.7L418.0 259.0L419.0 260.2L420.0 261.5L421.0 262.7L422.0 263.9L423.0 265.1L424.0 266.3L425.0 267.5L426.0 268.7L427.0 269.9L428.0 271.1L429.0 272.3L430.0 273.4L431.0 274.6L432.0 275.8L433.0 276.9L434.0 278.1L435.0 279.2L436.0 280.3L437.0 281.3L438.0 282.4L439.0 283.4L440.0 284.4L441.0 285.4L442.0 286.4L443.0 287.3L444.0 288.3L445.0 289.2L446.0 290.1L447.0 291.0L448.0 291.9L449.0 292.8L450.0 293.7L451.0 294.5L452.0 295.4L453.0 296.3L454.0 297.2L455.0 298.0L456.0 298.9L457.0 299.7L458.0 300.5L459.0 301.3L460.0 302.1L461.0 302.9L462.0 303.6L463.0 304.3L464.0 305.1L465.0 305.8L466.0 306.5L467.0 307.2L468.0 307.9L469.0 308.6L470.0 309.2L471.0 309.9L472.0 310.5L473.0 311.1L474.0 311.6L475.0 312.1L476.0 312.6L477.0 313.1L478.0 313.5L479.0 313.9L480.0 314.3L481.0 314.8L482.0 315.1L483.0 315.5L484.0 315.9L485.0 316.3L486.0 316.7L487.0 317.0L488.0 317.4L489.0 317.8L490.0 318.1L491.0 318.5L492.0 318.9L493.0 319.2L494.0 319.6L495.0 319.9L496.0 320.2L497.0 320.5L498.0 320.8L499.0 321.1L500.0 321.4L501.0 321.7L502.0 322.0L503.0 322.2L504.0 322.5L505.0 322.8L506.0 323.1L507.0 323.4L508.0 323.6L509.0 323.9L510.0 324.1L511.0 324.3L512.0 324.4L513.0 324.5L514.0 324.6L515.0 324.6L516.0 324.6L517.0 324.5L518.0 324.5L519.0 324.4L520.0 324.3L521.0 324.2L522.0 324.0L523.0 323.9L524.0 323.8L525.0 323.7L526.0 323.6L527.0 323.6L528.0 323.5L529.0 323.5L530.0 323.5L531.0 323.5L532.0 323.5L533.0 323.5L534.0 323.5L535.0 323.5L536.0 323.5L537.0 323.5L538.0 323.5L539.0 323.5L540.0 323.5L541.0 323.5L542.0 323.5L543.0 323.5L544.0 323.6L545.0 323.6L546.0 323.7L547.0 323.8L548.0 323.9L549.0 324.0L550.0 324.1L551.0 324.2L552.0 324.3L553.0 324.4L554.0 324.6L555.0 324.7L556.0 324.8L557.0 324.9L558.0 325.1L559.0 325.2L560.0 325.4L561.0 325.5L562.0 325.7L563.0 325.9L564.0 326.1L565.0 326.3L566.0 326.5L567.0 326.7L568.0 326.9L569.0 327.1L570.0 327.3L571.0 327.5L572.0 327.8L573.0 328.0L574.0 328.3L575.0 328.5L576.0 328.8L577.0 329.1L578.0 329.3L579.0 329.6L580.0 329.9L581.0 330.2L582.0 330.5L583.0 330.8L584.0 331.1L585.0 331.4L586.0 331.7L587.0 332.1L588.0 332.4L589.0 332.8L590.0 333.1L591.0 333.5L592.0 333.9L593.0 334.3L594.0 334.7L595.0 335.1L596.0 335.6L597.0 336.0L598.0 336.5L599.0 337.0L600.0 337.5L601.0 338.0L602.0 338.6L603.0 339.1L604.0 339.7L605.0 340.3L606.0 340.8L607.0 341.4L608.0 342.1L609.0 342.7L610.0 343.4L611.0 344.1L612.0 344.8L613.0 345.5L614.0 346.3L615.0 347.0L616.0 347.9L617.0 348.7L618.0 349.6L619.0 350.5L620.0 351.5L621.0 352.5L622.0 353.5L623.0 354.6L624.0 355.7L625.0 356.8" stroke="#adadd6" stroke-width="0.9" fill="none"/>
<path d="M180.00 26.61L182.99 29.60L180.00 32.59L177.01 29.60ZM183.75 34.83L186.74 37.82L183.75 40.81L180.76 37.82ZM187.50 44.07L190.49 47.06L187.50 50.05L184.51 47.06ZM191.25 53.10L194.24 56.09L191.25 59.08L188.26 56.09ZM195.00 60.78L197.99 63.77L195.00 66.76L192.01 63.77ZM198.75 70.13L201.74 73.12L198.75 76.11L195.76 73.12ZM202.50 79.32L205.49 82.31L202.50 85.30L199.51 82.31ZM206.25 88.84L209.24 91.83L206.25 94.82L203.26 91.83ZM210.00 97.66L212.99 100.65L210.00 103.64L207.01 100.65ZM213.75 105.65L216.74 108.64L213.75 111.63L210.76 108.64ZM217.50 113.48L220.49 116.47L217.50 119.46L214.51 116.47ZM221.25 122.22L224.24 125.21L221.25 128.20L218.26 125.21ZM225.00 131.48L227.99 134.47L225.00 137.46L222.01 134.47ZM228.75 140.06L231.74 143.05L228.75 146.04L225.76 143.05ZM232.50 147.19L235.49 150.18L232.50 153.17L229.51 150.18ZM236.25 153.60L239.24 156.59L236.25 159.58L233.26 156.59ZM240.00 159.57L242.99 162.56L240.00 165.55L237.01 162.56ZM243.75 165.02L246.74 168.01L243.75 171.00L240.76 168.01ZM247.50 170.00L250.49 172.99L247.50 175.98L244.51 172.99ZM251.25 174.35L254.24 177.34L251.25 180.33L248.26 177.34ZM255.00 176.83L257.99 179.82L255.00 182.81L252.01 179.82ZM258.75 178.38L261.74 181.37L258.75 184.36L255.76 181.37ZM262.50 177.88L265.49 180.87L262.50 183.86L259.51 180.87ZM266.25 175.22L269.24 178.21L266.25 181.20L263.26 178.21ZM270.00 171.74L272.99 174.73L270.00 177.72L267.01 174.73ZM273.75 167.93L276.74 170.92L273.75 173.91L270.76 170.92ZM277.50 163.18L280.49 166.17L277.50 169.16L274.51 166.17ZM281.25 158.37L284.24 161.36L281.25 164.35L278.26 161.36ZM285.00 153.58L287.99 156.57L285.00 159.56L282.01 156.57ZM288.75 148.83L291.74 151.82L288.75 154.81L285.76 151.82ZM292.50 145.09L295.49 148.08L292.50 151.07L289.51 148.08ZM296.25 142.10L299.24 145.09L296.25 148.08L293.26 145.09ZM300.00 139.70L302.99 142.69L300.00 145.68L297.01 142.69ZM303.75 138.32L306.74 141.31L303.75 144.30L300.76 141.31ZM307.50 137.51L310.49 140.50L307.50 143.49L304.51 140.50ZM311.25 137.67L314.24 140.66L311.25 143.65L308.26 140.66ZM315.00 138.99L317.99 141.98L315.00 144.97L312.01 141.98ZM318.75 140.61L321.74 143.60L318.75 146.59L315.76 143.60ZM322.50 142.62L325.49 145.61L322.50 148.60L319.51 145.61ZM326.25 145.06L329.24 148.05L326.25 151.04L323.26 148.05ZM330.00 147.81L332.99 150.80L330.00 153.79L327.01 150.80ZM333.75 151.09L336.74 154.08L333.75 157.07L330.76 154.08ZM337.50 154.72L340.49 157.71L337.50 160.70L334.51 157.71ZM341.25 158.53L344.24 161.52L341.25 164.51L338.26 161.52ZM345.00 162.65L347.99 165.64L345.00 168.63L342.01 165.64ZM348.75 166.93L351.74 169.92L348.75 172.91L345.76 169.92ZM352.50 171.27L355.49 174.26L352.50 177.25L349.51 174.26ZM356.25 175.74L359.24 178.73L356.25 181.72L353.26 178.73ZM360.00 180.34L362.99 183.33L360.00 186.32L357.01 183.33ZM363.75 185.07L366.74 188.06L363.75 191.05L360.76 188.06ZM367.50 189.95L370.49 192.94L367.50 195.93L364.51 192.94ZM371.25 194.98L374.24 197.97L371.25 200.96L368.26 197.97ZM375.00 200.27L377.99 203.26L375.00 206.25L372.01 203.26ZM378.75 205.82L381.74 208.81L378.75 211.80L375.76 208.81ZM382.50 211.32L385.49 214.31L382.50 217.30L379.51 214.31ZM386.25 216.43L389.24 219.42L386.25 222.41L383.26 219.42ZM390.00 221.21L392.99 224.20L390.00 227.19L387.01 224.20ZM393.75 225.84L396.74 228.83L393.75 231.82L390.76 228.83ZM397.50 230.48L400.49 233.47L397.50 236.46L394.51 233.47ZM401.25 235.06L404.24 238.05L401.25 241.04L398.26 238.05ZM405.00 239.65L407.99 242.64L405.00 245.63L402.01 242.64ZM408.75 244.34L411.74 247.33L408.75 250.32L405.76 247.33ZM412.50 249.10L415.49 252.09L412.50 255.08L409.51 252.09ZM416.25 253.83L419.24 256.82L416.25 259.81L413.26 256.82ZM420.00 258.46L422.99 261.45L420.00 264.44L417.01 261.45ZM423.75 263.04L426.74 266.03L423.75 269.02L420.76 266.03ZM427.50 267.51L430.49 270.50L427.50 273.49L424.51 270.50ZM431.25 271.91L434.24 274.90L431.25 277.89L428.26 274.90ZM435.00 276.19L437.99 279.18L435.00 282.17L432.01 279.18ZM438.75 280.17L441.74 283.16L438.75 286.15L435.76 283.16ZM442.50 283.85L445.49 286.84L442.50 289.83L439.51 286.84ZM446.25 287.33L449.24 290.32L446.25 293.31L443.26 290.32ZM450.00 290.67L452.99 293.66L450.00 296.65L447.01 293.66ZM453.75 293.96L456.74 296.95L453.75 299.94L450.76 296.95ZM457.50 297.11L460.49 300.10L457.50 303.09L454.51 300.10ZM461.25 300.05L464.24 303.04L461.25 306.03L458.26 303.04ZM465.00 302.81L467.99 305.80L465.00 308.79L462.01 305.80ZM468.75 305.44L471.74 308.43L468.75 311.42L465.76 308.43ZM472.50 307.78L475.49 310.77L472.50 313.76L469.51 310.77ZM476.25 309.72L479.24 312.71L476.25 315.70L473.26 312.71ZM480.00 311.36L482.99 314.35L480.00 317.34L477.01 314.35ZM483.75 312.83L486.74 315.82L483.75 318.81L480.76 315.82ZM487.50 314.22L490.49 317.21L487.50 320.20L484.51 317.21ZM491.25 315.60L494.24 318.59L491.25 321.58L488.26 318.59ZM495.00 316.91L497.99 319.90L495.00 322.89L492.01 319.90ZM498.75 318.07L501.74 321.06L498.75 324.05L495.76 321.06ZM502.50 319.11L505.49 322.10L502.50 325.09L499.51 322.10ZM506.25 320.18L509.24 323.17L506.25 326.16L503.26 323.17ZM510.00 321.08L512.99 324.07L510.00 327.06L507.01 324.07ZM513.75 321.58L516.74 324.57L513.75 327.56L510.76 324.57ZM517.50 321.51L520.49 324.50L517.50 327.49L514.51 324.50ZM521.25 321.13L524.24 324.12L521.25 327.11L518.26 324.12ZM525.00 320.71L527.99 323.70L525.00 326.69L522.01 323.70ZM528.75 320.51L531.74 323.50L528.75 326.49L525.76 323.50ZM532.50 320.51L535.49 323.50L532.50 326.49L529.51 323.50ZM536.25 320.51L539.24 323.50L536.25 326.49L533.26 323.50ZM540.00 320.51L542.99 323.50L540.00 326.49L537.01 323.50ZM543.75 320.56L546.74 323.55L543.75 326.54L540.76 323.55ZM547.50 320.83L550.49 323.82L547.50 326.81L544.51 323.82ZM551.25 321.24L554.24 324.23L551.25 327.22L548.26 324.23ZM555.00 321.68L557.99 324.67L555.00 327.66L552.01 324.67ZM558.75 322.19L561.74 325.18L558.75 328.17L555.76 325.18ZM562.50 322.82L565.49 325.81L562.50 328.80L559.51 325.81ZM566.25 323.52L569.24 326.51L566.25 329.50L563.26 326.51ZM570.00 324.30L572.99 327.29L570.00 330.28L567.01 327.29ZM573.75 325.21L576.74 328.20L573.75 331.19L570.76 328.20ZM577.50 326.21L580.49 329.20L577.50 332.19L574.51 329.20ZM581.25 327.27L584.24 330.26L581.25 333.25L578.26 330.26ZM585.00 328.42L587.99 331.41L585.00 334.40L582.01 331.41ZM588.75 329.68L591.74 332.67L588.75 335.66L585.76 332.67ZM592.50 331.09L595.49 334.08L592.50 337.07L589.51 334.08ZM596.25 332.70L599.24 335.69L596.25 338.68L593.26 335.69ZM600.00 334.52L602.99 337.51L600.00 340.50L597.01 337.51ZM603.75 336.55L606.74 339.54L603.75 342.53L600.76 339.54ZM607.50 338.76L610.49 341.75L607.50 344.74L604.51 341.75ZM611.25 341.25L614.24 344.24L611.25 347.23L608.26 344.24ZM615.00 344.05L617.99 347.04L615.00 350.03L612.01 347.04ZM618.75 347.27L621.74 350.26L618.75 353.25L615.76 350.26ZM622.50 351.03L625.49 354.02L622.50 357.01L619.51 354.02ZM521.00 318.66L523.99 321.65L521.00 324.64L518.01 321.65ZM523.00 318.42L525.99 321.41L523.00 324.40L520.01 321.41ZM525.00 318.21L527.99 321.20L525.00 324.19L522.01 321.20ZM527.00 318.06L529.99 321.05L527.00 324.04L524.01 321.05ZM529.00 318.01L531.99 321.00L529.00 323.99L526.01 321.00ZM531.00 318.01L533.99 321.00L531.00 323.99L528.01 321.00ZM533.00 318.01L535.99 321.00L533.00 323.99L530.01 321.00ZM535.00 318.01L537.99 321.00L535.00 323.99L532.01 321.00Z" fill="#000080"/>
<path d="M222.0 14.0L223.0 15.4L224.0 16.7L225.0 18.1M225.6 18.9L226.6 22.1L227.6 25.2L228.6 27.9L229.6 30.4L230.6 32.5L231.6 34.6L232.6 36.6L233.6 38.9L234.6 41.2L235.6 43.5L236.6 45.9L237.6 48.3L238.6 50.7L239.6 53.1L240.6 55.4L241.6 57.8L242.6 60.1L243.6 62.4L244.6 64.8L245.6 67.1L246.6 69.4L247.6 71.8L248.6 74.1L249.6 76.5L250.6 78.8L251.6 81.2L252.6 83.5L253.6 85.9L254.6 88.2L255.6 90.6L256.6 92.9L257.6 95.3L258.6 97.6L259.6 100.0L260.6 102.3L261.6 104.7L262.6 107.0L263.6 109.4L264.6 111.7L265.6 114.1L266.6 116.4L267.6 118.8L268.6 121.1L269.6 123.4L270.6 125.8L271.6 128.1L272.6 130.5L273.6 132.9L274.6 135.1L275.6 137.0L276.6 138.7L277.6 140.4L278.6 142.0L279.6 143.8L280.6 145.8L281.6 147.7L282.6 149.8L283.6 151.9L284.6 154.2L285.6 156.7L286.6 159.3L287.6 161.9L288.6 164.3L289.6 166.4L290.6 168.3L291.6 170.0L292.6 171.7L293.6 173.2L294.6 174.7L295.6 176.1L296.6 177.4L297.6 178.7L298.6 180.0L299.6 181.2L300.6 182.4L301.6 183.4L302.6 184.2L303.6 185.0L304.6 185.8L305.6 186.5L306.6 187.2L307.6 187.9L308.6 188.4L309.6 188.7L310.6 189.0L311.6 189.0L312.6 188.9L313.6 188.8L314.6 188.6L315.6 188.3L316.6 188.0L317.6 187.7L318.6 187.3L319.6 186.9L320.6 186.4L321.6 185.9L322.6 185.4L323.6 184.6L324.6 183.7L325.6 182.5L326.6 181.3L327.6 180.0L328.6 178.6L329.6 177.3L330.6 175.9L331.6 174.6L332.6 173.1L333.6 171.6L334.6 170.1L335.6 168.5L336.6 167.0L337.6 165.4L338.6 163.9L339.6 162.3L340.6 160.8L341.6 159.1L342.6 157.5L343.6 156.0L344.6 154.4L345.6 153.0L346.6 151.7L347.6 150.5L348.6 149.4L349.6 148.3L350.6 147.3L351.6 146.3L352.6 145.4L353.6 144.6L354.6 143.9L355.6 143.3L356.6 142.8L357.6 142.4L358.6 141.9L359.6 141.5L360.6 141.1L361.6 140.8L362.6 140.6L363.6 140.4L364.6 140.4L365.6 140.5L366.6 140.6L367.6 140.8L368.6 141.0L369.6 141.3L370.6 141.6L371.6 142.0L372.6 142.3L373.6 142.8L374.6 143.4L375.6 144.1L376.6 144.9L377.6 145.7L378.6 146.7L379.6 147.6L380.6 148.6L381.6 149.6L382.6 150.6L383.6 151.6L384.6 152.5L385.6 153.4L386.6 154.4L387.6 155.4L388.6 156.4L389.6 157.4L390.6 158.4L391.6 159.5L392.6 160.5L393.6 161.6L394.6 162.7L395.6 163.9L396.6 165.1L397.6 166.3L398.6 167.5L399.6 168.7L400.6 169.9L401.6 171.2L402.6 172.4L403.6 173.6L404.6 174.8L405.6 176.1L406.6 177.3L407.6 178.5L408.6 179.8L409.6 181.0L410.6 182.2L411.6 183.5L412.6 184.7L413.6 186.0L414.6 187.2L415.6 188.5L416.6 189.7L417.6 191.0L418.6 192.3L419.6 193.5L420.6 194.8L421.6 196.0L422.6 197.3L423.6 198.5L424.6 199.8L425.6 201.1L426.6 202.3L427.6 203.6L428.6 204.9L429.6 206.2L430.6 207.5L431.6 208.9L432.6 210.2L433.6 211.5L434.6 212.8L435.6 214.1L436.6 215.4L437.6 216.6L438.6 217.9L439.6 219.2L440.6 220.4L441.6 221.7L442.6 222.9L443.6 224.2L444.6 225.4L445.6 226.7L446.6 227.9L447.6 229.1L448.6 230.3L449.6 231.5L450.6 232.8L451.6 234.0L452.6 235.3L453.6 236.7L454.6 238.1L455.6 239.6L456.6 241.0L457.6 242.4L458.6 243.7L459.6 245.0L460.6 246.3L461.6 247.6L462.6 248.8L463.6 250.1L464.6 251.4L465.6 252.6L466.6 253.9L467.6 255.2L468.6 256.5L469.6 257.8L470.6 259.1L471.6 260.3L472.6 261.6L473.6 262.8L474.6 264.0L475.6 265.2L476.6 266.4L477.6 267.6L478.6 268.7L479.6 269.8L480.6 270.9L481.6 272.0L482.6 273.1L483.6 274.1L484.6 275.2L485.6 276.2L486.6 277.3L487.6 278.3L488.6 279.2L489.6 280.2L490.6 281.1L491.6 282.0L492.6 282.8L493.6 283.6L494.6 284.4L495.6 285.2L496.6 285.9L497.6 286.6L498.6 287.3L499.6 288.0L500.6 288.7L501.6 289.4L502.6 290.1L503.6 290.8L504.6 291.4L505.6 292.1L506.6 292.7L507.6 293.2L508.6 293.8L509.6 294.3L510.6 294.7L511.6 295.2L512.6 295.7L513.6 296.1L514.6 296.5L515.6 296.8L516.6 297.1L517.6 297.3L518.6 297.5L519.6 297.7L520.6 297.9L521.6 298.0L522.6 298.2L523.6 298.4L524.6 298.6L525.6 298.8L526.6 299.0L527.6 299.2L528.6 299.5L529.6 299.8L530.6 300.1L531.6 300.4L532.6 300.7L533.6 301.1L534.6 301.4L535.6 301.7L536.6 302.0L537.6 302.3L538.6 302.6L539.6 302.8L540.6 303.1L541.6 303.3L542.6 303.6L543.6 303.8L544.6 304.1L545.6 304.3L546.6 304.5L547.6 304.8L548.6 305.0L549.6 305.3L550.6 305.5L551.6 305.8L552.6 306.0L553.6 306.3L554.6 306.5L555.6 306.8L556.6 307.0L557.6 307.3L558.6 307.5L559.6 307.8L560.6 308.0L561.6 308.3L562.6 308.5L563.6 308.8L564.6 309.0L565.6 309.3L566.6 309.5L567.6 309.7L568.6 310.0L569.6 310.2L570.6 310.5L571.6 310.7L572.6 311.0L573.6 311.2L574.6 311.5L575.6 311.8L576.6 312.1L577.6 312.4L578.6 312.7L579.6 313.0L580.6 313.3L581.6 313.6L582.6 313.9L583.6 314.3L584.6 314.6L585.6 315.0L586.6 315.4L587.6 315.7L588.6 316.1L589.6 316.6L590.6 317.0L591.6 317.4L592.6 317.9L593.6 318.4L594.6 318.9L595.6 319.4L596.6 320.0L597.6 320.5L598.6 321.0L599.6 321.6L600.6 322.1L601.6 322.7L602.6 323.2L603.6 323.8L604.6 324.4L605.6 325.0L606.6 325.6L607.6 326.2L608.6 326.8L609.6 327.4L610.6 328.0L611.6 328.6L612.6 329.3L613.6 329.9L614.6 330.6L615.6 331.2L616.6 331.9L617.6 332.6L618.6 333.2L619.6 333.9L620.6 334.6L621.6 335.3" stroke="#d6adad" stroke-width="0.9" fill="none"/>
<path d="M225.60 15.96L228.40 17.99L227.33 21.28L223.87 21.28L222.80 17.99ZM229.35 26.85L232.15 28.88L231.08 32.17L227.62 32.17L226.55 28.88ZM233.10 34.78L235.90 36.82L234.83 40.10L231.37 40.10L230.30 36.82ZM236.85 43.55L239.65 45.58L238.58 48.87L235.12 48.87L234.05 45.58ZM240.60 52.47L243.40 54.50L242.33 57.79L238.87 57.79L237.80 54.50ZM244.35 61.25L247.15 63.28L246.08 66.56L242.62 66.56L241.55 63.28ZM248.10 70.01L250.90 72.04L249.83 75.33L246.37 75.33L245.30 72.04ZM251.85 78.80L254.65 80.83L253.58 84.12L250.12 84.12L249.05 80.83ZM255.60 87.62L258.40 89.65L257.33 92.94L253.87 92.94L252.80 89.65ZM259.35 96.43L262.15 98.47L261.08 101.75L257.62 101.75L256.55 98.47ZM263.10 105.25L265.90 107.28L264.83 110.57L261.37 110.57L260.30 107.28ZM266.85 114.06L269.65 116.10L268.58 119.38L265.12 119.38L264.05 116.10ZM270.60 122.83L273.40 124.86L272.33 128.15L268.87 128.15L267.80 124.86ZM274.35 131.63L277.15 133.66L276.08 136.94L272.62 136.94L271.55 133.66ZM278.10 138.24L280.90 140.27L279.83 143.56L276.37 143.56L275.30 140.27ZM281.85 145.30L284.65 147.33L283.58 150.62L280.12 150.62L279.05 147.33ZM285.60 153.80L288.40 155.83L287.33 159.12L283.87 159.12L282.80 155.83ZM289.35 162.97L292.15 165.00L291.08 168.28L287.62 168.28L286.55 165.00ZM293.10 169.52L295.90 171.55L294.83 174.84L291.37 174.84L290.30 171.55ZM296.85 174.79L299.65 176.82L298.58 180.10L295.12 180.10L294.05 176.82ZM300.60 179.41L303.40 181.44L302.33 184.73L298.87 184.73L297.80 181.44ZM304.35 182.63L307.15 184.67L306.08 187.95L302.62 187.95L301.55 184.67ZM308.10 185.18L310.90 187.22L309.83 190.50L306.37 190.50L305.30 187.22ZM311.85 186.04L314.65 188.08L313.58 191.36L310.12 191.36L309.05 188.08ZM315.60 185.40L318.40 187.43L317.33 190.72L313.87 190.72L312.80 187.43ZM319.35 184.03L322.15 186.07L321.08 189.35L317.62 189.35L316.55 186.07ZM323.10 182.10L325.90 184.13L324.83 187.42L321.37 187.42L320.30 184.13ZM326.85 178.02L329.65 180.05L328.58 183.34L325.12 183.34L324.05 180.05ZM330.60 173.00L333.40 175.03L332.33 178.32L328.87 178.32L327.80 175.03ZM334.35 167.55L337.15 169.58L336.08 172.87L332.62 172.87L331.55 169.58ZM338.10 161.67L340.90 163.71L339.83 166.99L336.37 166.99L335.30 163.71ZM341.85 155.80L344.65 157.84L343.58 161.12L340.12 161.12L339.05 157.84ZM345.60 150.05L348.40 152.08L347.33 155.36L343.87 155.36L342.80 152.08ZM349.35 145.64L352.15 147.67L351.08 150.96L347.62 150.96L346.55 147.67ZM353.10 142.05L355.90 144.08L354.83 147.37L351.37 147.37L350.30 144.08ZM356.85 139.76L359.65 141.79L358.58 145.08L355.12 145.08L354.05 141.79ZM360.60 138.19L363.40 140.22L362.33 143.51L358.87 143.51L357.80 140.22ZM364.35 137.46L367.15 139.49L366.08 142.78L362.62 142.78L361.55 139.49ZM368.10 137.95L370.90 139.99L369.83 143.27L366.37 143.27L365.30 139.99ZM371.85 139.11L374.65 141.14L373.58 144.43L370.12 144.43L369.05 141.14ZM375.60 141.17L378.40 143.20L377.33 146.49L373.87 146.49L372.80 143.20ZM379.35 144.44L382.15 146.47L381.08 149.75L377.62 149.75L376.55 146.47ZM383.10 148.14L385.90 150.17L384.83 153.46L381.37 153.46L380.30 150.17ZM386.85 151.69L389.65 153.72L388.58 157.01L385.12 157.01L384.05 153.72ZM390.60 155.47L393.40 157.50L392.33 160.79L388.87 160.79L387.80 157.50ZM394.35 159.53L397.15 161.56L396.08 164.84L392.62 164.84L391.55 161.56ZM398.10 163.93L400.90 165.96L399.83 169.24L396.37 169.24L395.30 165.96ZM401.85 168.52L404.65 170.55L403.58 173.84L400.12 173.84L399.05 170.55ZM405.60 173.12L408.40 175.15L407.33 178.43L403.87 178.43L402.80 175.15ZM409.35 177.75L412.15 179.78L411.08 183.07L407.62 183.07L406.55 179.78ZM413.10 182.43L415.90 184.46L414.83 187.75L411.37 187.75L410.30 184.46ZM416.85 187.12L419.65 189.15L418.58 192.44L415.12 192.44L414.05 189.15ZM420.60 191.82L423.40 193.85L422.33 197.14L418.87 197.14L417.80 193.85ZM424.35 196.54L427.15 198.58L426.08 201.86L422.62 201.86L421.55 198.58ZM428.10 201.33L430.90 203.36L429.83 206.65L426.37 206.65L425.30 203.36ZM431.85 206.24L434.65 208.28L433.58 211.56L430.12 211.56L429.05 208.28ZM435.60 211.15L438.40 213.18L437.33 216.46L433.87 216.46L432.80 213.18ZM439.35 215.91L442.15 217.94L441.08 221.23L437.62 221.23L436.55 217.94ZM443.10 220.61L445.90 222.64L444.83 225.93L441.37 225.93L440.30 222.64ZM446.85 225.25L449.65 227.28L448.58 230.57L445.12 230.57L444.05 227.28ZM450.60 229.83L453.40 231.86L452.33 235.15L448.87 235.15L447.80 231.86ZM454.35 234.81L457.15 236.84L456.08 240.13L452.62 240.13L451.55 236.84ZM458.10 240.14L460.90 242.17L459.83 245.45L456.37 245.45L455.30 242.17ZM461.85 244.96L464.65 247.00L463.58 250.28L460.12 250.28L459.05 247.00ZM465.60 249.68L468.40 251.71L467.33 255.00L463.87 255.00L462.80 251.71ZM469.35 254.51L472.15 256.54L471.08 259.83L467.62 259.83L466.55 256.54ZM473.10 259.28L475.90 261.31L474.83 264.60L471.37 264.60L470.30 261.31ZM476.85 263.75L479.65 265.78L478.58 269.07L475.12 269.07L474.05 265.78ZM480.60 267.98L483.40 270.02L482.33 273.30L478.87 273.30L477.80 270.02ZM484.35 271.99L487.15 274.02L486.08 277.30L482.62 277.30L481.55 274.02ZM488.10 275.82L490.90 277.85L489.83 281.14L486.37 281.14L485.30 277.85ZM491.85 279.26L494.65 281.29L493.58 284.58L490.12 284.58L489.05 281.29ZM495.60 282.22L498.40 284.26L497.33 287.54L493.87 287.54L492.80 284.26ZM499.35 284.91L502.15 286.94L501.08 290.23L497.62 290.23L496.55 286.94ZM503.10 287.49L505.90 289.52L504.83 292.81L501.37 292.81L500.30 289.52ZM506.85 289.86L509.65 291.89L508.58 295.18L505.12 295.18L504.05 291.89ZM510.60 291.81L513.40 293.84L512.33 297.13L508.87 297.13L507.80 293.84ZM514.35 293.43L517.15 295.46L516.08 298.75L512.62 298.75L511.55 295.46ZM518.10 294.46L520.90 296.50L519.83 299.78L516.37 299.78L515.30 296.50ZM521.85 295.14L524.65 297.17L523.58 300.46L520.12 300.46L519.05 297.17ZM525.60 295.82L528.40 297.85L527.33 301.13L523.87 301.13L522.80 297.85ZM529.35 296.78L532.15 298.81L531.08 302.10L527.62 302.10L526.55 298.81ZM533.10 297.97L535.90 300.00L534.83 303.29L531.37 303.29L530.30 300.00ZM536.85 299.13L539.65 301.17L538.58 304.45L535.12 304.45L534.05 301.17ZM540.60 300.13L543.40 302.16L542.33 305.45L538.87 305.45L537.80 302.16ZM544.35 301.06L547.15 303.09L546.08 306.38L542.62 306.38L541.55 303.09ZM548.10 301.97L550.90 304.00L549.83 307.28L546.37 307.28L545.30 304.00ZM551.85 302.90L554.65 304.93L553.58 308.22L550.12 308.22L549.05 304.93ZM555.60 303.83L558.40 305.87L557.33 309.15L553.87 309.15L552.80 305.87ZM559.35 304.77L562.15 306.80L561.08 310.09L557.62 310.09L556.55 306.80ZM563.10 305.71L565.90 307.74L564.83 311.03L561.37 311.03L560.30 307.74ZM566.85 306.62L569.65 308.65L568.58 311.94L565.12 311.94L564.05 308.65ZM570.60 307.52L573.40 309.55L572.33 312.84L568.87 312.84L567.80 309.55ZM574.35 308.48L577.15 310.51L576.08 313.80L572.62 313.80L571.55 310.51ZM578.10 309.56L580.90 311.60L579.83 314.88L576.37 314.88L575.30 311.60ZM581.85 310.74L584.65 312.77L583.58 316.06L580.12 316.06L579.05 312.77ZM585.60 312.05L588.40 314.08L587.33 317.36L583.87 317.36L582.80 314.08ZM589.35 313.51L592.15 315.54L591.08 318.83L587.62 318.83L586.55 315.54ZM593.10 315.23L595.90 317.26L594.83 320.54L591.37 320.54L590.30 317.26ZM596.85 317.15L599.65 319.18L598.58 322.47L595.12 322.47L594.05 319.18ZM600.60 319.18L603.40 321.21L602.33 324.50L598.87 324.50L597.80 321.21ZM604.35 321.28L607.15 323.31L606.08 326.60L602.62 326.60L601.55 323.31ZM608.10 323.53L610.90 325.56L609.83 328.85L606.37 328.85L605.30 325.56ZM611.85 325.87L614.65 327.90L613.58 331.18L610.12 331.18L609.05 327.90ZM615.60 328.28L618.40 330.31L617.33 333.60L613.87 333.60L612.80 330.31ZM619.35 330.80L622.15 332.83L621.08 336.12L617.62 336.12L616.55 332.83ZM522.00 292.67L524.80 294.70L523.73 297.99L520.27 297.99L519.20 294.70ZM524.00 293.01L526.80 295.04L525.73 298.33L522.27 298.33L521.20 295.04ZM526.00 293.40L528.80 295.43L527.73 298.72L524.27 298.72L523.20 295.43ZM528.00 293.89L530.80 295.92L529.73 299.21L526.27 299.21L525.20 295.92ZM530.00 294.48L532.80 296.51L531.73 299.79L528.27 299.79L527.20 296.51ZM532.00 295.11L534.80 297.14L533.73 300.43L530.27 300.43L529.20 297.14Z" fill="#800000"/>
<path d="M264.0 14.0L265.0 16.2L266.0 18.3L267.0 20.5M640.7 339.3L641.7 339.9L642.7 340.5L643.7 341.2L644.7 341.8L645.7 342.4L646.7 343.1L647.7 343.7L648.7 344.4L649.7 345.0M267.0 20.5L268.0 22.8L269.0 25.1L270.0 27.5L271.0 29.8L272.0 32.1L273.0 34.5L274.0 36.8L275.0 39.1L276.0 41.5L277.0 43.8L278.0 46.2L279.0 48.5L280.0 50.8L281.0 53.2L282.0 55.5L283.0 57.9L284.0 60.2L285.0 62.6L286.0 65.0L287.0 67.3L288.0 69.7L289.0 72.0L290.0 74.4L291.0 76.8L292.0 79.2L293.0 81.6L294.0 84.0L295.0 86.4L296.0 88.8L297.0 91.2L298.0 93.7L299.0 96.1L300.0 98.6L301.0 101.0L302.0 103.4L303.0 105.8L304.0 108.2L305.0 110.6L306.0 113.0L307.0 115.4L308.0 117.7L309.0 120.1L310.0 122.4L311.0 124.7L312.0 127.0L313.0 129.2L314.0 131.4L315.0 133.5L316.0 135.7L317.0 137.7L318.0 139.7L319.0 141.7L320.0 143.7L321.0 145.7L322.0 147.9L323.0 150.1L324.0 152.4L325.0 154.7L326.0 156.9L327.0 159.1L328.0 161.1L329.0 163.2L330.0 165.1L331.0 167.1L332.0 168.9L333.0 170.7L334.0 172.4L335.0 174.1L336.0 175.7L337.0 177.2L338.0 178.7L339.0 180.1L340.0 181.5L341.0 183.0L342.0 184.3L343.0 185.7L344.0 187.0L345.0 188.1L346.0 189.2L347.0 190.1L348.0 190.9L349.0 191.6L350.0 192.4L351.0 193.1L352.0 193.7L353.0 194.2L354.0 194.6L355.0 194.9L356.0 195.0L357.0 194.9L358.0 194.8L359.0 194.5L360.0 194.2L361.0 193.9L362.0 193.5L363.0 193.0L364.0 192.3L365.0 191.3L366.0 190.2L367.0 189.1L368.0 187.9L369.0 186.7L370.0 185.4L371.0 184.0L372.0 182.6L373.0 181.3L374.0 180.0L375.0 178.8L376.0 177.5L377.0 176.1L378.0 174.7L379.0 173.1L380.0 171.3L381.0 169.4L382.0 167.4L383.0 165.5L384.0 163.6L385.0 162.0L386.0 160.4L387.0 158.9L388.0 157.5L389.0 156.0L390.0 154.7L391.0 153.4L392.0 152.1L393.0 150.9L394.0 149.8L395.0 148.7L396.0 147.5L397.0 146.5L398.0 145.5L399.0 144.7L400.0 144.0L401.0 143.4L402.0 142.8L403.0 142.2L404.0 141.6L405.0 141.2L406.0 140.8L407.0 140.5L408.0 140.4L409.0 140.4L410.0 140.5L411.0 140.6L412.0 140.8L413.0 141.1L414.0 141.4L415.0 141.7L416.0 142.0L417.0 142.4L418.0 142.8L419.0 143.1L420.0 143.6L421.0 144.2L422.0 144.9L423.0 145.7L424.0 146.5L425.0 147.4L426.0 148.2L427.0 149.1L428.0 149.9L429.0 150.7L430.0 151.5L431.0 152.4L432.0 153.2L433.0 154.1L434.0 155.0L435.0 156.0L436.0 157.0L437.0 158.1L438.0 159.2L439.0 160.4L440.0 161.7L441.0 163.0L442.0 164.3L443.0 165.7L444.0 167.0L445.0 168.4L446.0 169.8L447.0 171.3L448.0 172.7L449.0 174.3L450.0 175.8L451.0 177.3L452.0 178.8L453.0 180.4L454.0 181.8L455.0 183.4L456.0 184.9L457.0 186.4L458.0 187.9L459.0 189.4L460.0 190.9L461.0 192.4L462.0 193.9L463.0 195.4L464.0 196.9L465.0 198.5L466.0 200.0L467.0 201.5L468.0 203.0L469.0 204.5L470.0 206.0L471.0 207.5L472.0 208.9L473.0 210.3L474.0 211.6L475.0 213.0L476.0 214.3L477.0 215.6L478.0 216.9L479.0 218.2L480.0 219.5L481.0 220.7L482.0 222.0L483.0 223.2L484.0 224.4L485.0 225.7L486.0 226.8L487.0 228.0L488.0 229.2L489.0 230.3L490.0 231.5L491.0 232.6L492.0 233.8L493.0 235.0L494.0 236.2L495.0 237.4L496.0 238.6L497.0 239.8L498.0 241.0L499.0 242.3L500.0 243.5L501.0 244.8L502.0 246.0L503.0 247.4L504.0 248.7L505.0 250.0L506.0 251.2L507.0 252.5L508.0 253.6L509.0 254.8L510.0 255.9L511.0 257.0L512.0 258.0L513.0 259.0L514.0 260.0L515.0 260.9L516.0 261.7L517.0 262.4L518.0 263.1L519.0 263.7L520.0 264.3L521.0 264.9L522.0 265.5L523.0 266.1L524.0 266.7L525.0 267.3L526.0 268.0L527.0 268.7L528.0 269.5L529.0 270.2L530.0 270.9L531.0 271.6L532.0 272.3L533.0 272.9L534.0 273.5L535.0 274.1L536.0 274.7L537.0 275.3L538.0 275.8L539.0 276.3L540.0 276.9L541.0 277.4L542.0 277.9L543.0 278.4L544.0 278.9L545.0 279.4L546.0 279.9L547.0 280.4L548.0 280.9L549.0 281.4L550.0 281.9L551.0 282.4L552.0 282.9L553.0 283.4L554.0 283.9L555.0 284.4L556.0 284.9L557.0 285.4L558.0 285.9L559.0 286.3L560.0 286.7L561.0 287.1L562.0 287.5L563.0 287.9L564.0 288.2L565.0 288.6L566.0 289.0L567.0 289.3L568.0 289.7L569.0 290.1L570.0 290.4L571.0 290.8L572.0 291.1L573.0 291.5L574.0 291.9L575.0 292.3L576.0 292.7L577.0 293.2L578.0 293.7L579.0 294.2L580.0 294.7L581.0 295.2L582.0 295.7L583.0 296.2L584.0 296.8L585.0 297.2L586.0 297.7L587.0 298.2L588.0 298.7L589.0 299.2L590.0 299.6L591.0 300.1L592.0 300.7L593.0 301.2L594.0 301.8L595.0 302.4L596.0 303.0L597.0 303.7L598.0 304.4L599.0 305.0L600.0 305.7L601.0 306.3L602.0 306.9L603.0 307.5L604.0 308.1L605.0 308.7L606.0 309.3L607.0 309.9L608.0 310.6L609.0 311.2L610.0 311.9L611.0 312.6L612.0 313.3L613.0 314.1L614.0 314.9L615.0 315.7L616.0 316.4L617.0 317.2L618.0 317.9L619.0 318.6L620.0 319.2L621.0 319.8L622.0 320.4L623.0 321.0L624.0 321.6L625.0 322.2L626.0 322.9L627.0 323.6L628.0 324.3L629.0 325.0L630.0 325.8L631.0 326.6L632.0 327.5L633.0 328.4L634.0 329.4L635.0 330.4L636.0 331.6L637.0 333.0L638.0 334.5L639.0 336.2L640.0 338.0" stroke="#ffadd6" stroke-width="0.9" fill="none"/>
<path d="M264.60 20.50a2.40 2.40 0 1 0 4.81 0a2.40 2.40 0 1 0 -4.81 0ZM268.35 29.22a2.40 2.40 0 1 0 4.81 0a2.40 2.40 0 1 0 -4.81 0ZM272.10 37.97a2.40 2.40 0 1 0 4.81 0a2.40 2.40 0 1 0 -4.81 0ZM275.85 46.74a2.40 2.40 0 1 0 4.81 0a2.40 2.40 0 1 0 -4.81 0ZM279.60 55.54a2.40 2.40 0 1 0 4.81 0a2.40 2.40 0 1 0 -4.81 0ZM283.35 64.37a2.40 2.40 0 1 0 4.81 0a2.40 2.40 0 1 0 -4.81 0ZM287.10 73.22a2.40 2.40 0 1 0 4.81 0a2.40 2.40 0 1 0 -4.81 0ZM290.85 82.16a2.40 2.40 0 1 0 4.81 0a2.40 2.40 0 1 0 -4.81 0ZM294.60 91.25a2.40 2.40 0 1 0 4.81 0a2.40 2.40 0 1 0 -4.81 0ZM298.35 100.37a2.40 2.40 0 1 0 4.81 0a2.40 2.40 0 1 0 -4.81 0ZM302.10 109.44a2.40 2.40 0 1 0 4.81 0a2.40 2.40 0 1 0 -4.81 0ZM305.85 118.33a2.40 2.40 0 1 0 4.81 0a2.40 2.40 0 1 0 -4.81 0ZM309.60 126.95a2.40 2.40 0 1 0 4.81 0a2.40 2.40 0 1 0 -4.81 0ZM313.35 135.13a2.40 2.40 0 1 0 4.81 0a2.40 2.40 0 1 0 -4.81 0ZM317.10 142.66a2.40 2.40 0 1 0 4.81 0a2.40 2.40 0 1 0 -4.81 0ZM320.85 150.71a2.40 2.40 0 1 0 4.81 0a2.40 2.40 0 1 0 -4.81 0ZM324.60 159.08a2.40 2.40 0 1 0 4.81 0a2.40 2.40 0 1 0 -4.81 0ZM328.35 166.59a2.40 2.40 0 1 0 4.81 0a2.40 2.40 0 1 0 -4.81 0ZM332.10 173.23a2.40 2.40 0 1 0 4.81 0a2.40 2.40 0 1 0 -4.81 0ZM335.85 179.08a2.40 2.40 0 1 0 4.81 0a2.40 2.40 0 1 0 -4.81 0ZM339.60 184.35a2.40 2.40 0 1 0 4.81 0a2.40 2.40 0 1 0 -4.81 0ZM343.35 188.95a2.40 2.40 0 1 0 4.81 0a2.40 2.40 0 1 0 -4.81 0ZM347.10 191.99a2.40 2.40 0 1 0 4.81 0a2.40 2.40 0 1 0 -4.81 0ZM350.85 194.34a2.40 2.40 0 1 0 4.81 0a2.40 2.40 0 1 0 -4.81 0ZM354.60 194.94a2.40 2.40 0 1 0 4.81 0a2.40 2.40 0 1 0 -4.81 0ZM358.35 193.96a2.40 2.40 0 1 0 4.81 0a2.40 2.40 0 1 0 -4.81 0ZM362.10 191.83a2.40 2.40 0 1 0 4.81 0a2.40 2.40 0 1 0 -4.81 0ZM365.85 187.55a2.40 2.40 0 1 0 4.81 0a2.40 2.40 0 1 0 -4.81 0ZM369.60 182.60a2.40 2.40 0 1 0 4.81 0a2.40 2.40 0 1 0 -4.81 0ZM373.35 177.81a2.40 2.40 0 1 0 4.81 0a2.40 2.40 0 1 0 -4.81 0ZM377.10 172.26a2.40 2.40 0 1 0 4.81 0a2.40 2.40 0 1 0 -4.81 0ZM380.85 165.01a2.40 2.40 0 1 0 4.81 0a2.40 2.40 0 1 0 -4.81 0ZM384.60 158.92a2.40 2.40 0 1 0 4.81 0a2.40 2.40 0 1 0 -4.81 0ZM388.35 153.70a2.40 2.40 0 1 0 4.81 0a2.40 2.40 0 1 0 -4.81 0ZM392.10 149.23a2.40 2.40 0 1 0 4.81 0a2.40 2.40 0 1 0 -4.81 0ZM395.85 145.31a2.40 2.40 0 1 0 4.81 0a2.40 2.40 0 1 0 -4.81 0ZM399.60 142.77a2.40 2.40 0 1 0 4.81 0a2.40 2.40 0 1 0 -4.81 0ZM403.35 140.88a2.40 2.40 0 1 0 4.81 0a2.40 2.40 0 1 0 -4.81 0ZM407.10 140.45a2.40 2.40 0 1 0 4.81 0a2.40 2.40 0 1 0 -4.81 0ZM410.85 141.14a2.40 2.40 0 1 0 4.81 0a2.40 2.40 0 1 0 -4.81 0ZM414.60 142.38a2.40 2.40 0 1 0 4.81 0a2.40 2.40 0 1 0 -4.81 0ZM418.35 144.05a2.40 2.40 0 1 0 4.81 0a2.40 2.40 0 1 0 -4.81 0ZM422.10 146.94a2.40 2.40 0 1 0 4.81 0a2.40 2.40 0 1 0 -4.81 0ZM425.85 150.11a2.40 2.40 0 1 0 4.81 0a2.40 2.40 0 1 0 -4.81 0ZM429.60 153.22a2.40 2.40 0 1 0 4.81 0a2.40 2.40 0 1 0 -4.81 0ZM433.35 156.74a2.40 2.40 0 1 0 4.81 0a2.40 2.40 0 1 0 -4.81 0ZM437.10 161.05a2.40 2.40 0 1 0 4.81 0a2.40 2.40 0 1 0 -4.81 0ZM440.85 166.00a2.40 2.40 0 1 0 4.81 0a2.40 2.40 0 1 0 -4.81 0ZM444.60 171.26a2.40 2.40 0 1 0 4.81 0a2.40 2.40 0 1 0 -4.81 0ZM448.35 176.93a2.40 2.40 0 1 0 4.81 0a2.40 2.40 0 1 0 -4.81 0ZM452.10 182.60a2.40 2.40 0 1 0 4.81 0a2.40 2.40 0 1 0 -4.81 0ZM455.85 188.25a2.40 2.40 0 1 0 4.81 0a2.40 2.40 0 1 0 -4.81 0ZM459.60 193.90a2.40 2.40 0 1 0 4.81 0a2.40 2.40 0 1 0 -4.81 0ZM463.35 199.62a2.40 2.40 0 1 0 4.81 0a2.40 2.40 0 1 0 -4.81 0ZM467.10 205.27a2.40 2.40 0 1 0 4.81 0a2.40 2.40 0 1 0 -4.81 0ZM470.85 210.61a2.40 2.40 0 1 0 4.81 0a2.40 2.40 0 1 0 -4.81 0ZM474.60 215.62a2.40 2.40 0 1 0 4.81 0a2.40 2.40 0 1 0 -4.81 0ZM478.35 220.42a2.40 2.40 0 1 0 4.81 0a2.40 2.40 0 1 0 -4.81 0ZM482.10 225.05a2.40 2.40 0 1 0 4.81 0a2.40 2.40 0 1 0 -4.81 0ZM485.85 229.46a2.40 2.40 0 1 0 4.81 0a2.40 2.40 0 1 0 -4.81 0ZM489.60 233.81a2.40 2.40 0 1 0 4.81 0a2.40 2.40 0 1 0 -4.81 0ZM493.35 238.27a2.40 2.40 0 1 0 4.81 0a2.40 2.40 0 1 0 -4.81 0ZM497.10 242.88a2.40 2.40 0 1 0 4.81 0a2.40 2.40 0 1 0 -4.81 0ZM500.85 247.68a2.40 2.40 0 1 0 4.81 0a2.40 2.40 0 1 0 -4.81 0ZM504.60 252.46a2.40 2.40 0 1 0 4.81 0a2.40 2.40 0 1 0 -4.81 0ZM508.35 256.68a2.40 2.40 0 1 0 4.81 0a2.40 2.40 0 1 0 -4.81 0ZM512.10 260.45a2.40 2.40 0 1 0 4.81 0a2.40 2.40 0 1 0 -4.81 0ZM515.85 263.27a2.40 2.40 0 1 0 4.81 0a2.40 2.40 0 1 0 -4.81 0ZM519.60 265.47a2.40 2.40 0 1 0 4.81 0a2.40 2.40 0 1 0 -4.81 0ZM523.35 267.85a2.40 2.40 0 1 0 4.81 0a2.40 2.40 0 1 0 -4.81 0ZM527.10 270.55a2.40 2.40 0 1 0 4.81 0a2.40 2.40 0 1 0 -4.81 0ZM530.85 273.09a2.40 2.40 0 1 0 4.81 0a2.40 2.40 0 1 0 -4.81 0ZM534.60 275.26a2.40 2.40 0 1 0 4.81 0a2.40 2.40 0 1 0 -4.81 0ZM538.35 277.26a2.40 2.40 0 1 0 4.81 0a2.40 2.40 0 1 0 -4.81 0ZM542.10 279.17a2.40 2.40 0 1 0 4.81 0a2.40 2.40 0 1 0 -4.81 0ZM545.85 280.99a2.40 2.40 0 1 0 4.81 0a2.40 2.40 0 1 0 -4.81 0ZM549.60 282.87a2.40 2.40 0 1 0 4.81 0a2.40 2.40 0 1 0 -4.81 0ZM553.35 284.81a2.40 2.40 0 1 0 4.81 0a2.40 2.40 0 1 0 -4.81 0ZM557.10 286.54a2.40 2.40 0 1 0 4.81 0a2.40 2.40 0 1 0 -4.81 0ZM560.85 287.96a2.40 2.40 0 1 0 4.81 0a2.40 2.40 0 1 0 -4.81 0ZM564.60 289.32a2.40 2.40 0 1 0 4.81 0a2.40 2.40 0 1 0 -4.81 0ZM568.35 290.69a2.40 2.40 0 1 0 4.81 0a2.40 2.40 0 1 0 -4.81 0ZM572.10 292.10a2.40 2.40 0 1 0 4.81 0a2.40 2.40 0 1 0 -4.81 0ZM575.85 293.79a2.40 2.40 0 1 0 4.81 0a2.40 2.40 0 1 0 -4.81 0ZM579.60 295.72a2.40 2.40 0 1 0 4.81 0a2.40 2.40 0 1 0 -4.81 0ZM583.35 297.61a2.40 2.40 0 1 0 4.81 0a2.40 2.40 0 1 0 -4.81 0ZM587.10 299.40a2.40 2.40 0 1 0 4.81 0a2.40 2.40 0 1 0 -4.81 0ZM590.85 301.35a2.40 2.40 0 1 0 4.81 0a2.40 2.40 0 1 0 -4.81 0ZM594.60 303.69a2.40 2.40 0 1 0 4.81 0a2.40 2.40 0 1 0 -4.81 0ZM598.35 306.15a2.40 2.40 0 1 0 4.81 0a2.40 2.40 0 1 0 -4.81 0ZM602.10 308.44a2.40 2.40 0 1 0 4.81 0a2.40 2.40 0 1 0 -4.81 0ZM605.85 310.72a2.40 2.40 0 1 0 4.81 0a2.40 2.40 0 1 0 -4.81 0ZM609.60 313.32a2.40 2.40 0 1 0 4.81 0a2.40 2.40 0 1 0 -4.81 0ZM613.35 316.25a2.40 2.40 0 1 0 4.81 0a2.40 2.40 0 1 0 -4.81 0ZM617.10 318.92a2.40 2.40 0 1 0 4.81 0a2.40 2.40 0 1 0 -4.81 0ZM620.85 321.15a2.40 2.40 0 1 0 4.81 0a2.40 2.40 0 1 0 -4.81 0ZM624.60 323.57a2.40 2.40 0 1 0 4.81 0a2.40 2.40 0 1 0 -4.81 0ZM628.35 326.42a2.40 2.40 0 1 0 4.81 0a2.40 2.40 0 1 0 -4.81 0ZM632.10 329.89a2.40 2.40 0 1 0 4.81 0a2.40 2.40 0 1 0 -4.81 0ZM635.85 334.93a2.40 2.40 0 1 0 4.81 0a2.40 2.40 0 1 0 -4.81 0ZM533.60 273.20a2.40 2.40 0 1 0 4.81 0a2.40 2.40 0 1 0 -4.81 0ZM535.60 274.30a2.40 2.40 0 1 0 4.81 0a2.40 2.40 0 1 0 -4.81 0ZM537.60 275.36a2.40 2.40 0 1 0 4.81 0a2.40 2.40 0 1 0 -4.81 0ZM539.60 276.41a2.40 2.40 0 1 0 4.81 0a2.40 2.40 0 1 0 -4.81 0ZM541.60 277.42a2.40 2.40 0 1 0 4.81 0a2.40 2.40 0 1 0 -4.81 0Z" fill="#ff0080"/>
<path d="M299.0 14.0L300.0 16.3L301.0 18.7M640.7 320.0L641.7 321.0L642.7 322.0L643.7 322.9L644.7 323.8L645.7 324.5L646.7 325.2L647.7 325.9L648.7 326.5L649.7 327.1M301.7 20.3L302.7 22.7L303.7 25.0L304.7 27.4L305.7 29.8L306.7 32.2L307.7 34.5L308.7 36.9L309.7 39.3L310.7 41.7L311.7 44.0L312.7 46.4L313.7 48.8L314.7 51.2L315.7 53.5L316.7 55.9L317.7 58.3L318.7 60.6L319.7 63.0L320.7 65.4L321.7 67.8L322.7 70.1L323.7 72.5L324.7 74.9L325.7 77.2L326.7 79.6L327.7 82.0L328.7 84.3L329.7 86.7L330.7 89.0L331.7 91.4L332.7 93.7L333.7 96.1L334.7 98.5L335.7 100.8L336.7 103.2L337.7 105.5L338.7 107.9L339.7 110.3L340.7 112.6L341.7 115.0L342.7 117.4L343.7 119.8L344.7 122.2L345.7 124.5L346.7 127.0L347.7 129.4L348.7 131.9L349.7 134.4L350.7 136.7L351.7 138.8L352.7 140.8L353.7 142.7L354.7 144.7L355.7 146.8L356.7 148.9L357.7 151.1L358.7 153.3L359.7 155.6L360.7 157.7L361.7 159.9L362.7 161.9L363.7 163.9L364.7 165.9L365.7 167.8L366.7 169.7L367.7 171.5L368.7 173.3L369.7 175.1L370.7 176.9L371.7 178.7L372.7 180.4L373.7 182.0L374.7 183.5L375.7 185.1L376.7 186.7L377.7 188.3L378.7 189.8L379.7 191.2L380.7 192.4L381.7 193.5L382.7 194.3L383.7 195.0L384.7 195.6L385.7 196.3L386.7 196.8L387.7 197.4L388.7 197.8L389.7 198.2L390.7 198.4L391.7 198.6L392.7 198.6L393.7 198.4L394.7 198.1L395.7 197.6L396.7 196.9L397.7 196.2L398.7 195.3L399.7 194.4L400.7 193.4L401.7 192.4L402.7 191.4L403.7 190.4L404.7 189.4L405.7 188.2L406.7 186.8L407.7 185.4L408.7 183.8L409.7 182.2L410.7 180.6L411.7 178.9L412.7 177.2L413.7 175.6L414.7 174.1L415.7 172.6L416.7 171.0L417.7 169.5L418.7 167.9L419.7 166.3L420.7 164.8L421.7 163.2L422.7 161.7L423.7 160.2L424.7 158.7L425.7 157.3L426.7 155.9L427.7 154.6L428.7 153.4L429.7 152.1L430.7 150.8L431.7 149.6L432.7 148.4L433.7 147.3L434.7 146.4L435.7 145.5L436.7 144.8L437.7 144.1L438.7 143.4L439.7 142.7L440.7 142.0L441.7 141.5L442.7 140.9L443.7 140.5L444.7 140.2L445.7 140.0L446.7 139.9L447.7 140.0L448.7 140.1L449.7 140.4L450.7 140.8L451.7 141.2L452.7 141.7L453.7 142.2L454.7 142.8L455.7 143.3L456.7 143.9L457.7 144.4L458.7 145.0L459.7 145.7L460.7 146.4L461.7 147.1L462.7 147.9L463.7 148.8L464.7 149.6L465.7 150.5L466.7 151.5L467.7 152.4L468.7 153.4L469.7 154.4L470.7 155.5L471.7 156.7L472.7 157.8L473.7 159.1L474.7 160.3L475.7 161.6L476.7 162.9L477.7 164.2L478.7 165.5L479.7 166.8L480.7 168.1L481.7 169.5L482.7 170.9L483.7 172.3L484.7 173.7L485.7 175.2L486.7 176.6L487.7 178.1L488.7 179.6L489.7 181.1L490.7 182.7L491.7 184.3L492.7 185.9L493.7 187.6L494.7 189.2L495.7 190.9L496.7 192.5L497.7 194.1L498.7 195.6L499.7 197.1L500.7 198.5L501.7 199.8L502.7 201.1L503.7 202.3L504.7 203.5L505.7 204.7L506.7 205.9L507.7 207.2L508.7 208.5L509.7 209.8L510.7 211.1L511.7 212.4L512.7 213.8L513.7 215.1L514.7 216.4L515.7 217.8L516.7 219.1L517.7 220.5L518.7 221.9L519.7 223.4L520.7 224.8L521.7 226.2L522.7 227.5L523.7 228.9L524.7 230.2L525.7 231.5L526.7 232.7L527.7 233.8L528.7 234.9L529.7 235.9L530.7 236.8L531.7 237.7L532.7 238.6L533.7 239.4L534.7 240.3L535.7 241.0L536.7 241.8L537.7 242.6L538.7 243.4L539.7 244.2L540.7 245.0L541.7 245.8L542.7 246.6L543.7 247.5L544.7 248.3L545.7 249.1L546.7 250.0L547.7 250.8L548.7 251.7L549.7 252.5L550.7 253.3L551.7 254.1L552.7 254.9L553.7 255.7L554.7 256.5L555.7 257.3L556.7 258.1L557.7 258.9L558.7 259.6L559.7 260.4L560.7 261.2L561.7 261.9L562.7 262.6L563.7 263.4L564.7 264.1L565.7 264.8L566.7 265.5L567.7 266.3L568.7 267.0L569.7 267.6L570.7 268.3L571.7 269.0L572.7 269.7L573.7 270.3L574.7 271.0L575.7 271.7L576.7 272.3L577.7 273.0L578.7 273.6L579.7 274.3L580.7 275.0L581.7 275.6L582.7 276.3L583.7 277.0L584.7 277.7L585.7 278.4L586.7 279.0L587.7 279.7L588.7 280.4L589.7 281.0L590.7 281.7L591.7 282.3L592.7 282.9L593.7 283.6L594.7 284.2L595.7 284.7L596.7 285.3L597.7 285.9L598.7 286.5L599.7 287.0L600.7 287.6L601.7 288.2L602.7 288.8L603.7 289.3L604.7 289.9L605.7 290.6L606.7 291.2L607.7 291.8L608.7 292.5L609.7 293.1L610.7 293.8L611.7 294.4L612.7 295.1L613.7 295.8L614.7 296.4L615.7 297.1L616.7 297.8L617.7 298.5L618.7 299.2L619.7 299.9L620.7 300.6L621.7 301.3L622.7 302.0L623.7 302.7L624.7 303.4L625.7 304.1L626.7 304.8L627.7 305.6L628.7 306.4L629.7 307.3L630.7 308.1L631.7 309.1L632.7 310.1L633.7 311.1L634.7 312.3L635.7 313.5L636.7 314.7L637.7 316.0L638.7 317.3L639.7 318.6L640.7 320.0" stroke="#add6ad" stroke-width="0.9" fill="none"/>
<path d="M301.70 17.05L302.50 19.19L304.80 19.29L303.00 20.72L303.61 22.93L301.70 21.67L299.79 22.93L300.40 20.72L298.60 19.29L300.90 19.19ZM305.45 25.95L306.25 28.10L308.55 28.20L306.75 29.63L307.36 31.84L305.45 30.57L303.54 31.84L304.15 29.63L302.35 28.20L304.65 28.10ZM309.20 34.85L310.00 37.00L312.30 37.10L310.50 38.53L311.11 40.74L309.20 39.47L307.29 40.74L307.90 38.53L306.10 37.10L308.40 37.00ZM312.95 43.75L313.75 45.90L316.05 46.00L314.25 47.43L314.86 49.64L312.95 48.37L311.04 49.64L311.65 47.43L309.85 46.00L312.15 45.90ZM316.70 52.65L317.50 54.80L319.80 54.90L318.00 56.33L318.61 58.54L316.70 57.27L314.79 58.54L315.40 56.33L313.60 54.90L315.90 54.80ZM320.45 61.54L321.25 63.69L323.55 63.79L321.75 65.22L322.36 67.43L320.45 66.16L318.54 67.43L319.15 65.22L317.35 63.79L319.65 63.69ZM324.20 70.43L325.00 72.58L327.30 72.68L325.50 74.11L326.11 76.32L324.20 75.06L322.29 76.32L322.90 74.11L321.10 72.68L323.40 72.58ZM327.95 79.30L328.75 81.45L331.05 81.55L329.25 82.98L329.86 85.19L327.95 83.92L326.04 85.19L326.65 82.98L324.85 81.55L327.15 81.45ZM331.70 88.14L332.50 90.28L334.80 90.38L333.00 91.81L333.61 94.02L331.70 92.76L329.79 94.02L330.40 91.81L328.60 90.38L330.90 90.28ZM335.45 96.96L336.25 99.11L338.55 99.21L336.75 100.64L337.36 102.85L335.45 101.59L333.54 102.85L334.15 100.64L332.35 99.21L334.65 99.11ZM339.20 105.81L340.00 107.96L342.30 108.06L340.50 109.49L341.11 111.70L339.20 110.44L337.29 111.70L337.90 109.49L336.10 108.06L338.40 107.96ZM342.95 114.72L343.75 116.87L346.05 116.97L344.25 118.39L344.86 120.60L342.95 119.34L341.04 120.60L341.65 118.39L339.85 116.97L342.15 116.87ZM346.70 123.70L347.50 125.85L349.80 125.95L348.00 127.38L348.61 129.59L346.70 128.32L344.79 129.59L345.40 127.38L343.60 125.95L345.90 125.85ZM350.45 132.88L351.25 135.03L353.55 135.13L351.75 136.56L352.36 138.77L350.45 137.51L348.54 138.77L349.15 136.56L347.35 135.13L349.65 135.03ZM354.20 140.43L355.00 142.58L357.30 142.68L355.50 144.11L356.11 146.32L354.20 145.05L352.29 146.32L352.90 144.11L351.10 142.68L353.40 142.58ZM357.95 148.43L358.75 150.58L361.05 150.68L359.25 152.10L359.86 154.32L357.95 153.05L356.04 154.32L356.65 152.10L354.85 150.68L357.15 150.58ZM361.70 156.61L362.50 158.76L364.80 158.86L363.00 160.29L363.61 162.50L361.70 161.23L359.79 162.50L360.40 160.29L358.60 158.86L360.90 158.76ZM365.45 164.04L366.25 166.19L368.55 166.29L366.75 167.72L367.36 169.93L365.45 168.66L363.54 169.93L364.15 167.72L362.35 166.29L364.65 166.19ZM369.20 170.99L370.00 173.14L372.30 173.24L370.50 174.67L371.11 176.88L369.20 175.62L367.29 176.88L367.90 174.67L366.10 173.24L368.40 173.14ZM372.95 177.52L373.75 179.67L376.05 179.77L374.25 181.20L374.86 183.41L372.95 182.14L371.04 183.41L371.65 181.20L369.85 179.77L372.15 179.67ZM376.70 183.47L377.50 185.61L379.80 185.71L378.00 187.14L378.61 189.35L376.70 188.09L374.79 189.35L375.40 187.14L373.60 185.71L375.90 185.61ZM380.45 188.89L381.25 191.04L383.55 191.14L381.75 192.57L382.36 194.78L380.45 193.51L378.54 194.78L379.15 192.57L377.35 191.14L379.65 191.04ZM384.20 192.05L385.00 194.20L387.30 194.30L385.50 195.73L386.11 197.94L384.20 196.68L382.29 197.94L382.90 195.73L381.10 194.30L383.40 194.20ZM387.95 194.23L388.75 196.38L391.05 196.48L389.25 197.91L389.86 200.12L387.95 198.85L386.04 200.12L386.65 197.91L384.85 196.48L387.15 196.38ZM391.70 195.32L392.50 197.47L394.80 197.57L393.00 199.00L393.61 201.21L391.70 199.94L389.79 201.21L390.40 199.00L388.60 197.57L390.90 197.47ZM395.45 194.44L396.25 196.59L398.55 196.69L396.75 198.12L397.36 200.33L395.45 199.06L393.54 200.33L394.15 198.12L392.35 196.69L394.65 196.59ZM399.20 191.60L400.00 193.75L402.30 193.85L400.50 195.28L401.11 197.49L399.20 196.23L397.29 197.49L397.90 195.28L396.10 193.85L398.40 193.75ZM402.95 187.89L403.75 190.04L406.05 190.14L404.25 191.57L404.86 193.78L402.95 192.52L401.04 193.78L401.65 191.57L399.85 190.14L402.15 190.04ZM406.70 183.58L407.50 185.73L409.80 185.83L408.00 187.26L408.61 189.47L406.70 188.20L404.79 189.47L405.40 187.26L403.60 185.83L405.90 185.73ZM410.45 177.73L411.25 179.87L413.55 179.97L411.75 181.40L412.36 183.61L410.45 182.35L408.54 183.61L409.15 181.40L407.35 179.97L409.65 179.87ZM414.20 171.61L415.00 173.75L417.30 173.85L415.50 175.28L416.11 177.49L414.20 176.23L412.29 177.49L412.90 175.28L411.10 173.85L413.40 173.75ZM417.95 165.84L418.75 167.99L421.05 168.09L419.25 169.51L419.86 171.73L417.95 170.46L416.04 171.73L416.65 169.51L414.85 168.09L417.15 167.99ZM421.70 159.96L422.50 162.11L424.80 162.21L423.00 163.64L423.61 165.85L421.70 164.58L419.79 165.85L420.40 163.64L418.60 162.21L420.90 162.11ZM425.45 154.40L426.25 156.55L428.55 156.65L426.75 158.07L427.36 160.29L425.45 159.02L423.54 160.29L424.15 158.07L422.35 156.65L424.65 156.55ZM429.20 149.45L430.00 151.60L432.30 151.70L430.50 153.13L431.11 155.34L429.20 154.07L427.29 155.34L427.90 153.13L426.10 151.70L428.40 151.60ZM432.95 144.86L433.75 147.01L436.05 147.11L434.25 148.54L434.86 150.75L432.95 149.48L431.04 150.75L431.65 148.54L429.85 147.11L432.15 147.01ZM436.70 141.55L437.50 143.69L439.80 143.79L438.00 145.22L438.61 147.43L436.70 146.17L434.79 147.43L435.40 145.22L433.60 143.79L435.90 143.69ZM440.45 138.95L441.25 141.09L443.55 141.19L441.75 142.62L442.36 144.83L440.45 143.57L438.54 144.83L439.15 142.62L437.35 141.19L439.65 141.09ZM444.20 137.07L445.00 139.22L447.30 139.32L445.50 140.75L446.11 142.96L444.20 141.70L442.29 142.96L442.90 140.75L441.10 139.32L443.40 139.22ZM447.95 136.74L448.75 138.89L451.05 138.99L449.25 140.42L449.86 142.63L447.95 141.36L446.04 142.63L446.65 140.42L444.85 138.99L447.15 138.89ZM451.70 137.94L452.50 140.09L454.80 140.19L453.00 141.62L453.61 143.83L451.70 142.57L449.79 143.83L450.40 141.62L448.60 140.19L450.90 140.09ZM455.45 139.92L456.25 142.07L458.55 142.17L456.75 143.60L457.36 145.81L455.45 144.54L453.54 145.81L454.15 143.60L452.35 142.17L454.65 142.07ZM459.20 142.08L460.00 144.23L462.30 144.33L460.50 145.76L461.11 147.97L459.20 146.70L457.29 147.97L457.90 145.76L456.10 144.33L458.40 144.23ZM462.95 144.88L463.75 147.03L466.05 147.13L464.25 148.56L464.86 150.77L462.95 149.51L461.04 150.77L461.65 148.56L459.85 147.13L462.15 147.03ZM466.70 148.22L467.50 150.36L469.80 150.46L468.00 151.89L468.61 154.10L466.70 152.84L464.79 154.10L465.40 151.89L463.60 150.46L465.90 150.36ZM470.45 151.98L471.25 154.13L473.55 154.23L471.75 155.66L472.36 157.87L470.45 156.60L468.54 157.87L469.15 155.66L467.35 154.23L469.65 154.13ZM474.20 156.45L475.00 158.59L477.30 158.69L475.50 160.12L476.11 162.33L474.20 161.07L472.29 162.33L472.90 160.12L471.10 158.69L473.40 158.59ZM477.95 161.27L478.75 163.42L481.05 163.52L479.25 164.95L479.86 167.16L477.95 165.89L476.04 167.16L476.65 164.95L474.85 163.52L477.15 163.42ZM481.70 166.26L482.50 168.41L484.80 168.51L483.00 169.94L483.61 172.15L481.70 170.88L479.79 172.15L480.40 169.94L478.60 168.51L480.90 168.41ZM485.45 171.56L486.25 173.71L488.55 173.81L486.75 175.24L487.36 177.45L485.45 176.19L483.54 177.45L484.15 175.24L482.35 173.81L484.65 173.71ZM489.20 177.10L490.00 179.24L492.30 179.34L490.50 180.77L491.11 182.98L489.20 181.72L487.29 182.98L487.90 180.77L486.10 179.34L488.40 179.24ZM492.95 183.05L493.75 185.20L496.05 185.30L494.25 186.73L494.86 188.94L492.95 187.68L491.04 188.94L491.65 186.73L489.85 185.30L492.15 185.20ZM496.70 189.24L497.50 191.39L499.80 191.49L498.00 192.92L498.61 195.13L496.70 193.86L494.79 195.13L495.40 192.92L493.60 191.49L495.90 191.39ZM500.45 194.87L501.25 197.02L503.55 197.12L501.75 198.54L502.36 200.76L500.45 199.49L498.54 200.76L499.15 198.54L497.35 197.12L499.65 197.02ZM504.20 199.65L505.00 201.79L507.30 201.89L505.50 203.32L506.11 205.53L504.20 204.27L502.29 205.53L502.90 203.32L501.10 201.89L503.40 201.79ZM507.95 204.24L508.75 206.39L511.05 206.49L509.25 207.92L509.86 210.13L507.95 208.86L506.04 210.13L506.65 207.92L504.85 206.49L507.15 206.39ZM511.70 209.17L512.50 211.32L514.80 211.42L513.00 212.85L513.61 215.06L511.70 213.79L509.79 215.06L510.40 212.85L508.60 211.42L510.90 211.32ZM515.45 214.18L516.25 216.33L518.55 216.43L516.75 217.86L517.36 220.07L515.45 218.80L513.54 220.07L514.15 217.86L512.35 216.43L514.65 216.33ZM519.20 219.39L520.00 221.54L522.30 221.64L520.50 223.07L521.11 225.28L519.20 224.01L517.29 225.28L517.90 223.07L516.10 221.64L518.40 221.54ZM522.95 224.64L523.75 226.78L526.05 226.88L524.25 228.31L524.86 230.52L522.95 229.26L521.04 230.52L521.65 228.31L519.85 226.88L522.15 226.78ZM526.70 229.43L527.50 231.58L529.80 231.68L528.00 233.11L528.61 235.32L526.70 234.05L524.79 235.32L525.40 233.11L523.60 231.68L525.90 231.58ZM530.45 233.35L531.25 235.50L533.55 235.60L531.75 237.03L532.36 239.24L530.45 237.98L528.54 239.24L529.15 237.03L527.35 235.60L529.65 235.50ZM534.20 236.60L535.00 238.74L537.30 238.84L535.50 240.27L536.11 242.48L534.20 241.22L532.29 242.48L532.90 240.27L531.10 238.84L533.40 238.74ZM537.95 239.54L538.75 241.69L541.05 241.79L539.25 243.22L539.86 245.43L537.95 244.16L536.04 245.43L536.65 243.22L534.85 241.79L537.15 241.69ZM541.70 242.53L542.50 244.68L544.80 244.78L543.00 246.21L543.61 248.42L541.70 247.15L539.79 248.42L540.40 246.21L538.60 244.78L540.90 244.68ZM545.45 245.67L546.25 247.82L548.55 247.92L546.75 249.35L547.36 251.56L545.45 250.30L543.54 251.56L544.15 249.35L542.35 247.92L544.65 247.82ZM549.20 248.82L550.00 250.97L552.30 251.07L550.50 252.50L551.11 254.71L549.20 253.44L547.29 254.71L547.90 252.50L546.10 251.07L548.40 250.97ZM552.95 251.89L553.75 254.04L556.05 254.14L554.25 255.57L554.86 257.78L552.95 256.51L551.04 257.78L551.65 255.57L549.85 254.14L552.15 254.04ZM556.70 254.84L557.50 256.99L559.80 257.09L558.00 258.52L558.61 260.73L556.70 259.46L554.79 260.73L555.40 258.52L553.60 257.09L555.90 256.99ZM560.45 257.71L561.25 259.86L563.55 259.96L561.75 261.38L562.36 263.60L560.45 262.33L558.54 263.60L559.15 261.38L557.35 259.96L559.65 259.86ZM564.20 260.49L565.00 262.64L567.30 262.74L565.50 264.16L566.11 266.38L564.20 265.11L562.29 266.38L562.90 264.16L561.10 262.74L563.40 262.64ZM567.95 263.17L568.75 265.32L571.05 265.42L569.25 266.85L569.86 269.06L567.95 267.80L566.04 269.06L566.65 266.85L564.85 265.42L567.15 265.32ZM571.70 265.74L572.50 267.89L574.80 267.99L573.00 269.42L573.61 271.63L571.70 270.36L569.79 271.63L570.40 269.42L568.60 267.99L570.90 267.89ZM575.45 268.23L576.25 270.38L578.55 270.48L576.75 271.91L577.36 274.12L575.45 272.86L573.54 274.12L574.15 271.91L572.35 270.48L574.65 270.38ZM579.20 270.71L580.00 272.86L582.30 272.96L580.50 274.39L581.11 276.60L579.20 275.33L577.29 276.60L577.90 274.39L576.10 272.96L578.40 272.86ZM582.95 273.23L583.75 275.38L586.05 275.48L584.25 276.91L584.86 279.12L582.95 277.85L581.04 279.12L581.65 276.91L579.85 275.48L582.15 275.38ZM586.70 275.77L587.50 277.92L589.80 278.02L588.00 279.45L588.61 281.66L586.70 280.39L584.79 281.66L585.40 279.45L583.60 278.02L585.90 277.92ZM590.45 278.25L591.25 280.40L593.55 280.50L591.75 281.93L592.36 284.14L590.45 282.87L588.54 284.14L589.15 281.93L587.35 280.50L589.65 280.40ZM594.20 280.60L595.00 282.75L597.30 282.85L595.50 284.28L596.11 286.49L594.20 285.22L592.29 286.49L592.90 284.28L591.10 282.85L593.40 282.75ZM597.95 282.78L598.75 284.93L601.05 285.03L599.25 286.46L599.86 288.67L597.95 287.41L596.04 288.67L596.65 286.46L594.85 285.03L597.15 284.93ZM601.70 284.92L602.50 287.07L604.80 287.17L603.00 288.60L603.61 290.81L601.70 289.54L599.79 290.81L600.40 288.60L598.60 287.17L600.90 287.07ZM605.45 287.15L606.25 289.30L608.55 289.40L606.75 290.83L607.36 293.04L605.45 291.77L603.54 293.04L604.15 290.83L602.35 289.40L604.65 289.30ZM609.20 289.53L610.00 291.68L612.30 291.78L610.50 293.21L611.11 295.42L609.20 294.15L607.29 295.42L607.90 293.21L606.10 291.78L608.40 291.68ZM612.95 292.00L613.75 294.15L616.05 294.25L614.25 295.68L614.86 297.89L612.95 296.62L611.04 297.89L611.65 295.68L609.85 294.25L612.15 294.15ZM616.70 294.56L617.50 296.71L619.80 296.81L618.00 298.23L618.61 300.44L616.70 299.18L614.79 300.44L615.40 298.23L613.60 296.81L615.90 296.71ZM620.45 297.17L621.25 299.31L623.55 299.42L621.75 300.84L622.36 303.05L620.45 301.79L618.54 303.05L619.15 300.84L617.35 299.42L619.65 299.31ZM624.20 299.75L625.00 301.90L627.30 302.00L625.50 303.43L626.11 305.64L624.20 304.37L622.29 305.64L622.90 303.43L621.10 302.00L623.40 301.90ZM627.95 302.55L628.75 304.70L631.05 304.80L629.25 306.22L629.86 308.44L627.95 307.17L626.04 308.44L626.65 306.22L624.85 304.80L627.15 304.70ZM631.70 305.82L632.50 307.97L634.80 308.07L633.00 309.50L633.61 311.71L631.70 310.44L629.79 311.71L630.40 309.50L628.60 308.07L630.90 307.97ZM635.45 309.90L636.25 312.05L638.55 312.15L636.75 313.58L637.36 315.79L635.45 314.52L633.54 315.79L634.15 313.58L632.35 312.15L634.65 312.05ZM639.20 314.69L640.00 316.84L642.30 316.94L640.50 318.37L641.11 320.58L639.20 319.31L637.29 320.58L637.90 318.37L636.10 316.94L638.40 316.84ZM536.00 236.52L536.80 238.67L539.10 238.77L537.30 240.20L537.91 242.41L536.00 241.15L534.09 242.41L534.70 240.20L532.90 238.77L535.20 238.67ZM538.00 238.08L538.80 240.23L541.10 240.33L539.30 241.75L539.91 243.96L538.00 242.70L536.09 243.96L536.70 241.75L534.90 240.33L537.20 240.23ZM540.00 239.64L540.80 241.79L543.10 241.89L541.30 243.32L541.91 245.53L540.00 244.27L538.09 245.53L538.70 243.32L536.90 241.89L539.20 241.79ZM542.00 241.28L542.80 243.43L545.10 243.53L543.30 244.96L543.91 247.17L542.00 245.90L540.09 247.17L540.70 244.96L538.90 243.53L541.20 243.43ZM544.00 242.95L544.80 245.10L547.10 245.20L545.30 246.63L545.91 248.84L544.00 247.58L542.09 248.84L542.70 246.63L540.90 245.20L543.20 245.10Z" fill="#008000"/>
<path d="M329.0 14.0L330.0 16.3L331.0 18.7L332.0 21.0M332.0 21.0L333.0 23.4L334.0 25.8L335.0 28.2L336.0 30.6L337.0 32.9L338.0 35.3L339.0 37.7L340.0 40.1L341.0 42.5L342.0 44.9L343.0 47.3L344.0 49.7L345.0 52.1L346.0 54.4L347.0 56.8L348.0 59.2L349.0 61.6L350.0 64.0L351.0 66.4L352.0 68.8L353.0 71.2L354.0 73.6L355.0 76.0L356.0 78.4L357.0 80.8L358.0 83.2L359.0 85.7L360.0 88.2L361.0 90.7L362.0 93.1L363.0 95.6L364.0 98.1L365.0 100.6L366.0 103.0L367.0 105.5L368.0 107.9L369.0 110.4L370.0 112.8L371.0 115.1L372.0 117.5L373.0 119.8L374.0 122.1L375.0 124.3L376.0 126.5L377.0 128.7L378.0 130.8L379.0 132.7L380.0 134.7L381.0 136.6L382.0 138.6L383.0 140.5L384.0 142.5L385.0 144.4L386.0 146.5L387.0 148.8L388.0 151.2L389.0 153.6L390.0 156.1L391.0 158.5L392.0 160.8L393.0 162.8L394.0 164.6L395.0 166.3L396.0 167.8L397.0 169.3L398.0 170.7L399.0 172.1L400.0 173.5L401.0 174.9L402.0 176.3L403.0 177.9L404.0 179.4L405.0 181.0L406.0 182.6L407.0 184.1L408.0 185.6L409.0 187.1L410.0 188.5L411.0 189.8L412.0 191.2L413.0 192.6L414.0 193.9L415.0 195.2L416.0 196.4L417.0 197.4L418.0 198.1L419.0 198.6L420.0 199.0L421.0 199.3L422.0 199.6L423.0 199.9L424.0 200.0L425.0 200.1L426.0 200.1L427.0 199.9L428.0 199.6L429.0 199.3L430.0 198.8L431.0 198.3L432.0 197.7L433.0 197.1L434.0 196.4L435.0 195.5L436.0 194.2L437.0 192.7L438.0 190.9L439.0 189.0L440.0 187.0L441.0 185.1L442.0 183.3L443.0 181.6L444.0 179.9L445.0 178.2L446.0 176.4L447.0 174.7L448.0 172.9L449.0 171.2L450.0 169.5L451.0 167.8L452.0 166.2L453.0 164.7L454.0 163.1L455.0 161.6L456.0 160.1L457.0 158.7L458.0 157.2L459.0 155.9L460.0 154.6L461.0 153.4L462.0 152.3L463.0 151.2L464.0 150.1L465.0 149.0L466.0 148.0L467.0 147.0L468.0 146.1L469.0 145.2L470.0 144.5L471.0 143.8L472.0 143.2L473.0 142.8L474.0 142.3L475.0 141.9L476.0 141.5L477.0 141.2L478.0 141.0L479.0 141.0L480.0 141.1L481.0 141.2L482.0 141.4L483.0 141.7L484.0 142.0L485.0 142.4L486.0 142.8L487.0 143.2L488.0 143.6L489.0 144.1L490.0 144.5L491.0 145.1L492.0 145.7L493.0 146.4L494.0 147.2L495.0 148.1L496.0 148.9L497.0 149.9L498.0 150.8L499.0 151.7L500.0 152.7L501.0 153.7L502.0 154.7L503.0 155.8L504.0 156.9L505.0 158.0L506.0 159.3L507.0 160.5L508.0 161.8L509.0 163.1L510.0 164.5L511.0 165.9L512.0 167.6L513.0 169.4L514.0 171.2L515.0 173.1L516.0 175.0L517.0 176.7L518.0 178.2L519.0 179.5L520.0 180.7L521.0 181.8L522.0 182.8L523.0 183.9L524.0 184.9L525.0 185.8L526.0 186.8L527.0 187.7L528.0 188.7L529.0 189.7L530.0 190.7L531.0 191.7L532.0 192.6L533.0 193.6L534.0 194.5L535.0 195.5L536.0 196.4L537.0 197.4L538.0 198.4L539.0 199.5L540.0 200.6L541.0 201.7L542.0 202.9L543.0 204.1L544.0 205.4L545.0 206.7L546.0 207.9L547.0 209.1L548.0 210.3L549.0 211.4L550.0 212.5L551.0 213.6L552.0 214.6L553.0 215.7L554.0 216.7L555.0 217.8L556.0 218.8L557.0 220.0L558.0 221.1L559.0 222.4L560.0 223.7L561.0 225.1L562.0 226.6L563.0 228.1L564.0 229.6L565.0 231.0L566.0 232.4L567.0 233.9L568.0 235.3L569.0 236.7L570.0 238.1L571.0 239.4L572.0 240.6L573.0 241.7L574.0 242.9L575.0 243.9L576.0 245.0L577.0 246.0L578.0 247.0L579.0 248.0L580.0 249.0L581.0 250.0L582.0 251.0L583.0 252.0L584.0 253.1L585.0 254.0L586.0 255.0L587.0 256.0L588.0 256.9L589.0 257.9L590.0 258.8L591.0 259.7L592.0 260.6L593.0 261.5L594.0 262.3L595.0 263.2L596.0 264.0L597.0 264.8L598.0 265.6L599.0 266.4L600.0 267.2L601.0 267.9L602.0 268.6L603.0 269.4L604.0 270.1L605.0 270.9L606.0 271.6L607.0 272.4L608.0 273.1L609.0 273.9L610.0 274.7L611.0 275.4L612.0 276.2L613.0 276.9L614.0 277.6L615.0 278.3L616.0 279.0L617.0 279.7L618.0 280.3L619.0 281.0L620.0 281.6L621.0 282.3L622.0 283.0L623.0 283.7L624.0 284.5L625.0 285.2L626.0 286.0L627.0 286.8L628.0 287.6L629.0 288.5L630.0 289.4L631.0 290.3L632.0 291.3L633.0 292.4L634.0 293.5L635.0 294.7L636.0 295.9L637.0 297.2L638.0 298.4L639.0 299.6L640.0 300.8L641.0 302.1L642.0 303.4L643.0 304.7L644.0 306.0L645.0 307.3" stroke="#b1b1e1" stroke-width="0.9" fill="none"/>
<path d="M329.42 21.00a2.58 2.58 0 1 0 5.16 0a2.58 2.58 0 1 0 -5.16 0ZM333.17 29.96a2.58 2.58 0 1 0 5.16 0a2.58 2.58 0 1 0 -5.16 0ZM336.92 38.91a2.58 2.58 0 1 0 5.16 0a2.58 2.58 0 1 0 -5.16 0ZM340.67 47.87a2.58 2.58 0 1 0 5.16 0a2.58 2.58 0 1 0 -5.16 0ZM344.42 56.83a2.58 2.58 0 1 0 5.16 0a2.58 2.58 0 1 0 -5.16 0ZM348.17 65.80a2.58 2.58 0 1 0 5.16 0a2.58 2.58 0 1 0 -5.16 0ZM351.92 74.76a2.58 2.58 0 1 0 5.16 0a2.58 2.58 0 1 0 -5.16 0ZM355.67 83.86a2.58 2.58 0 1 0 5.16 0a2.58 2.58 0 1 0 -5.16 0ZM359.42 93.14a2.58 2.58 0 1 0 5.16 0a2.58 2.58 0 1 0 -5.16 0ZM363.17 102.43a2.58 2.58 0 1 0 5.16 0a2.58 2.58 0 1 0 -5.16 0ZM366.92 111.56a2.58 2.58 0 1 0 5.16 0a2.58 2.58 0 1 0 -5.16 0ZM370.67 120.36a2.58 2.58 0 1 0 5.16 0a2.58 2.58 0 1 0 -5.16 0ZM374.42 128.66a2.58 2.58 0 1 0 5.16 0a2.58 2.58 0 1 0 -5.16 0ZM378.17 136.14a2.58 2.58 0 1 0 5.16 0a2.58 2.58 0 1 0 -5.16 0ZM381.92 143.44a2.58 2.58 0 1 0 5.16 0a2.58 2.58 0 1 0 -5.16 0ZM385.67 151.77a2.58 2.58 0 1 0 5.16 0a2.58 2.58 0 1 0 -5.16 0ZM389.42 160.79a2.58 2.58 0 1 0 5.16 0a2.58 2.58 0 1 0 -5.16 0ZM393.17 167.46a2.58 2.58 0 1 0 5.16 0a2.58 2.58 0 1 0 -5.16 0ZM396.92 172.78a2.58 2.58 0 1 0 5.16 0a2.58 2.58 0 1 0 -5.16 0ZM400.67 178.26a2.58 2.58 0 1 0 5.16 0a2.58 2.58 0 1 0 -5.16 0ZM404.42 184.14a2.58 2.58 0 1 0 5.16 0a2.58 2.58 0 1 0 -5.16 0ZM408.17 189.46a2.58 2.58 0 1 0 5.16 0a2.58 2.58 0 1 0 -5.16 0ZM411.92 194.58a2.58 2.58 0 1 0 5.16 0a2.58 2.58 0 1 0 -5.16 0ZM415.67 198.29a2.58 2.58 0 1 0 5.16 0a2.58 2.58 0 1 0 -5.16 0ZM419.42 199.63a2.58 2.58 0 1 0 5.16 0a2.58 2.58 0 1 0 -5.16 0ZM423.17 200.09a2.58 2.58 0 1 0 5.16 0a2.58 2.58 0 1 0 -5.16 0ZM426.92 199.06a2.58 2.58 0 1 0 5.16 0a2.58 2.58 0 1 0 -5.16 0ZM430.67 196.93a2.58 2.58 0 1 0 5.16 0a2.58 2.58 0 1 0 -5.16 0ZM434.42 192.66a2.58 2.58 0 1 0 5.16 0a2.58 2.58 0 1 0 -5.16 0ZM438.17 185.58a2.58 2.58 0 1 0 5.16 0a2.58 2.58 0 1 0 -5.16 0ZM441.92 179.03a2.58 2.58 0 1 0 5.16 0a2.58 2.58 0 1 0 -5.16 0ZM445.67 172.49a2.58 2.58 0 1 0 5.16 0a2.58 2.58 0 1 0 -5.16 0ZM449.42 166.21a2.58 2.58 0 1 0 5.16 0a2.58 2.58 0 1 0 -5.16 0ZM453.17 160.49a2.58 2.58 0 1 0 5.16 0a2.58 2.58 0 1 0 -5.16 0ZM456.92 155.22a2.58 2.58 0 1 0 5.16 0a2.58 2.58 0 1 0 -5.16 0ZM460.67 150.89a2.58 2.58 0 1 0 5.16 0a2.58 2.58 0 1 0 -5.16 0ZM464.42 147.00a2.58 2.58 0 1 0 5.16 0a2.58 2.58 0 1 0 -5.16 0ZM468.17 143.96a2.58 2.58 0 1 0 5.16 0a2.58 2.58 0 1 0 -5.16 0ZM471.92 142.09a2.58 2.58 0 1 0 5.16 0a2.58 2.58 0 1 0 -5.16 0ZM475.67 141.02a2.58 2.58 0 1 0 5.16 0a2.58 2.58 0 1 0 -5.16 0ZM479.42 141.43a2.58 2.58 0 1 0 5.16 0a2.58 2.58 0 1 0 -5.16 0ZM483.17 142.68a2.58 2.58 0 1 0 5.16 0a2.58 2.58 0 1 0 -5.16 0ZM486.92 144.29a2.58 2.58 0 1 0 5.16 0a2.58 2.58 0 1 0 -5.16 0ZM490.67 146.63a2.58 2.58 0 1 0 5.16 0a2.58 2.58 0 1 0 -5.16 0ZM494.42 149.85a2.58 2.58 0 1 0 5.16 0a2.58 2.58 0 1 0 -5.16 0ZM498.17 153.43a2.58 2.58 0 1 0 5.16 0a2.58 2.58 0 1 0 -5.16 0ZM501.92 157.46a2.58 2.58 0 1 0 5.16 0a2.58 2.58 0 1 0 -5.16 0ZM505.67 162.12a2.58 2.58 0 1 0 5.16 0a2.58 2.58 0 1 0 -5.16 0ZM509.42 167.56a2.58 2.58 0 1 0 5.16 0a2.58 2.58 0 1 0 -5.16 0ZM513.17 174.53a2.58 2.58 0 1 0 5.16 0a2.58 2.58 0 1 0 -5.16 0ZM516.92 180.06a2.58 2.58 0 1 0 5.16 0a2.58 2.58 0 1 0 -5.16 0ZM520.67 184.12a2.58 2.58 0 1 0 5.16 0a2.58 2.58 0 1 0 -5.16 0ZM524.42 187.73a2.58 2.58 0 1 0 5.16 0a2.58 2.58 0 1 0 -5.16 0ZM528.17 191.42a2.58 2.58 0 1 0 5.16 0a2.58 2.58 0 1 0 -5.16 0ZM531.92 194.98a2.58 2.58 0 1 0 5.16 0a2.58 2.58 0 1 0 -5.16 0ZM535.67 198.67a2.58 2.58 0 1 0 5.16 0a2.58 2.58 0 1 0 -5.16 0ZM539.42 202.91a2.58 2.58 0 1 0 5.16 0a2.58 2.58 0 1 0 -5.16 0ZM543.17 207.59a2.58 2.58 0 1 0 5.16 0a2.58 2.58 0 1 0 -5.16 0ZM546.92 211.98a2.58 2.58 0 1 0 5.16 0a2.58 2.58 0 1 0 -5.16 0ZM550.67 215.91a2.58 2.58 0 1 0 5.16 0a2.58 2.58 0 1 0 -5.16 0ZM554.42 219.96a2.58 2.58 0 1 0 5.16 0a2.58 2.58 0 1 0 -5.16 0ZM558.17 224.77a2.58 2.58 0 1 0 5.16 0a2.58 2.58 0 1 0 -5.16 0ZM561.92 230.29a2.58 2.58 0 1 0 5.16 0a2.58 2.58 0 1 0 -5.16 0ZM565.67 235.66a2.58 2.58 0 1 0 5.16 0a2.58 2.58 0 1 0 -5.16 0ZM569.42 240.60a2.58 2.58 0 1 0 5.16 0a2.58 2.58 0 1 0 -5.16 0ZM573.17 244.70a2.58 2.58 0 1 0 5.16 0a2.58 2.58 0 1 0 -5.16 0ZM576.92 248.49a2.58 2.58 0 1 0 5.16 0a2.58 2.58 0 1 0 -5.16 0ZM580.67 252.30a2.58 2.58 0 1 0 5.16 0a2.58 2.58 0 1 0 -5.16 0ZM584.42 255.99a2.58 2.58 0 1 0 5.16 0a2.58 2.58 0 1 0 -5.16 0ZM588.17 259.46a2.58 2.58 0 1 0 5.16 0a2.58 2.58 0 1 0 -5.16 0ZM591.92 262.74a2.58 2.58 0 1 0 5.16 0a2.58 2.58 0 1 0 -5.16 0ZM595.67 265.81a2.58 2.58 0 1 0 5.16 0a2.58 2.58 0 1 0 -5.16 0ZM599.42 268.64a2.58 2.58 0 1 0 5.16 0a2.58 2.58 0 1 0 -5.16 0ZM603.17 271.41a2.58 2.58 0 1 0 5.16 0a2.58 2.58 0 1 0 -5.16 0ZM606.92 274.28a2.58 2.58 0 1 0 5.16 0a2.58 2.58 0 1 0 -5.16 0ZM610.67 277.09a2.58 2.58 0 1 0 5.16 0a2.58 2.58 0 1 0 -5.16 0ZM614.42 279.66a2.58 2.58 0 1 0 5.16 0a2.58 2.58 0 1 0 -5.16 0ZM618.17 282.12a2.58 2.58 0 1 0 5.16 0a2.58 2.58 0 1 0 -5.16 0ZM621.92 284.85a2.58 2.58 0 1 0 5.16 0a2.58 2.58 0 1 0 -5.16 0ZM625.67 287.83a2.58 2.58 0 1 0 5.16 0a2.58 2.58 0 1 0 -5.16 0ZM629.42 291.31a2.58 2.58 0 1 0 5.16 0a2.58 2.58 0 1 0 -5.16 0ZM633.17 295.64a2.58 2.58 0 1 0 5.16 0a2.58 2.58 0 1 0 -5.16 0ZM636.92 300.22a2.58 2.58 0 1 0 5.16 0a2.58 2.58 0 1 0 -5.16 0ZM640.67 304.97a2.58 2.58 0 1 0 5.16 0a2.58 2.58 0 1 0 -5.16 0Z" fill="#0c0ca0"/>
<path d="M330.35 20.00a0.75 0.75 0 1 0 1.50 0a0.75 0.75 0 1 0 -1.50 0ZM334.10 28.96a0.75 0.75 0 1 0 1.50 0a0.75 0.75 0 1 0 -1.50 0ZM337.85 37.91a0.75 0.75 0 1 0 1.50 0a0.75 0.75 0 1 0 -1.50 0ZM341.60 46.87a0.75 0.75 0 1 0 1.50 0a0.75 0.75 0 1 0 -1.50 0ZM345.35 55.83a0.75 0.75 0 1 0 1.50 0a0.75 0.75 0 1 0 -1.50 0ZM349.10 64.80a0.75 0.75 0 1 0 1.50 0a0.75 0.75 0 1 0 -1.50 0ZM352.85 73.76a0.75 0.75 0 1 0 1.50 0a0.75 0.75 0 1 0 -1.50 0ZM356.60 82.86a0.75 0.75 0 1 0 1.50 0a0.75 0.75 0 1 0 -1.50 0ZM360.35 92.14a0.75 0.75 0 1 0 1.50 0a0.75 0.75 0 1 0 -1.50 0ZM364.10 101.43a0.75 0.75 0 1 0 1.50 0a0.75 0.75 0 1 0 -1.50 0ZM367.85 110.56a0.75 0.75 0 1 0 1.50 0a0.75 0.75 0 1 0 -1.50 0ZM371.60 119.36a0.75 0.75 0 1 0 1.50 0a0.75 0.75 0 1 0 -1.50 0ZM375.35 127.66a0.75 0.75 0 1 0 1.50 0a0.75 0.75 0 1 0 -1.50 0ZM379.10 135.14a0.75 0.75 0 1 0 1.50 0a0.75 0.75 0 1 0 -1.50 0ZM382.85 142.44a0.75 0.75 0 1 0 1.50 0a0.75 0.75 0 1 0 -1.50 0ZM386.60 150.77a0.75 0.75 0 1 0 1.50 0a0.75 0.75 0 1 0 -1.50 0ZM390.35 159.79a0.75 0.75 0 1 0 1.50 0a0.75 0.75 0 1 0 -1.50 0ZM394.10 166.46a0.75 0.75 0 1 0 1.50 0a0.75 0.75 0 1 0 -1.50 0ZM397.85 171.78a0.75 0.75 0 1 0 1.50 0a0.75 0.75 0 1 0 -1.50 0ZM401.60 177.26a0.75 0.75 0 1 0 1.50 0a0.75 0.75 0 1 0 -1.50 0ZM405.35 183.14a0.75 0.75 0 1 0 1.50 0a0.75 0.75 0 1 0 -1.50 0ZM409.10 188.46a0.75 0.75 0 1 0 1.50 0a0.75 0.75 0 1 0 -1.50 0ZM412.85 193.58a0.75 0.75 0 1 0 1.50 0a0.75 0.75 0 1 0 -1.50 0ZM416.60 197.29a0.75 0.75 0 1 0 1.50 0a0.75 0.75 0 1 0 -1.50 0ZM420.35 198.63a0.75 0.75 0 1 0 1.50 0a0.75 0.75 0 1 0 -1.50 0ZM424.10 199.09a0.75 0.75 0 1 0 1.50 0a0.75 0.75 0 1 0 -1.50 0ZM427.85 198.06a0.75 0.75 0 1 0 1.50 0a0.75 0.75 0 1 0 -1.50 0ZM431.60 195.93a0.75 0.75 0 1 0 1.50 0a0.75 0.75 0 1 0 -1.50 0ZM435.35 191.66a0.75 0.75 0 1 0 1.50 0a0.75 0.75 0 1 0 -1.50 0ZM439.10 184.58a0.75 0.75 0 1 0 1.50 0a0.75 0.75 0 1 0 -1.50 0ZM442.85 178.03a0.75 0.75 0 1 0 1.50 0a0.75 0.75 0 1 0 -1.50 0ZM446.60 171.49a0.75 0.75 0 1 0 1.50 0a0.75 0.75 0 1 0 -1.50 0ZM450.35 165.21a0.75 0.75 0 1 0 1.50 0a0.75 0.75 0 1 0 -1.50 0ZM454.10 159.49a0.75 0.75 0 1 0 1.50 0a0.75 0.75 0 1 0 -1.50 0ZM457.85 154.22a0.75 0.75 0 1 0 1.50 0a0.75 0.75 0 1 0 -1.50 0ZM461.60 149.89a0.75 0.75 0 1 0 1.50 0a0.75 0.75 0 1 0 -1.50 0ZM465.35 146.00a0.75 0.75 0 1 0 1.50 0a0.75 0.75 0 1 0 -1.50 0ZM469.10 142.96a0.75 0.75 0 1 0 1.50 0a0.75 0.75 0 1 0 -1.50 0ZM472.85 141.09a0.75 0.75 0 1 0 1.50 0a0.75 0.75 0 1 0 -1.50 0ZM476.60 140.02a0.75 0.75 0 1 0 1.50 0a0.75 0.75 0 1 0 -1.50 0ZM480.35 140.43a0.75 0.75 0 1 0 1.50 0a0.75 0.75 0 1 0 -1.50 0ZM484.10 141.68a0.75 0.75 0 1 0 1.50 0a0.75 0.75 0 1 0 -1.50 0ZM487.85 143.29a0.75 0.75 0 1 0 1.50 0a0.75 0.75 0 1 0 -1.50 0ZM491.60 145.63a0.75 0.75 0 1 0 1.50 0a0.75 0.75 0 1 0 -1.50 0ZM495.35 148.85a0.75 0.75 0 1 0 1.50 0a0.75 0.75 0 1 0 -1.50 0ZM499.10 152.43a0.75 0.75 0 1 0 1.50 0a0.75 0.75 0 1 0 -1.50 0ZM502.85 156.46a0.75 0.75 0 1 0 1.50 0a0.75 0.75 0 1 0 -1.50 0ZM506.60 161.12a0.75 0.75 0 1 0 1.50 0a0.75 0.75 0 1 0 -1.50 0ZM510.35 166.56a0.75 0.75 0 1 0 1.50 0a0.75 0.75 0 1 0 -1.50 0ZM514.10 173.53a0.75 0.75 0 1 0 1.50 0a0.75 0.75 0 1 0 -1.50 0ZM517.85 179.06a0.75 0.75 0 1 0 1.50 0a0.75 0.75 0 1 0 -1.50 0ZM521.60 183.12a0.75 0.75 0 1 0 1.50 0a0.75 0.75 0 1 0 -1.50 0ZM525.35 186.73a0.75 0.75 0 1 0 1.50 0a0.75 0.75 0 1 0 -1.50 0ZM529.10 190.42a0.75 0.75 0 1 0 1.50 0a0.75 0.75 0 1 0 -1.50 0ZM532.85 193.98a0.75 0.75 0 1 0 1.50 0a0.75 0.75 0 1 0 -1.50 0ZM536.60 197.67a0.75 0.75 0 1 0 1.50 0a0.75 0.75 0 1 0 -1.50 0ZM540.35 201.91a0.75 0.75 0 1 0 1.50 0a0.75 0.75 0 1 0 -1.50 0ZM544.10 206.59a0.75 0.75 0 1 0 1.50 0a0.75 0.75 0 1 0 -1.50 0ZM547.85 210.98a0.75 0.75 0 1 0 1.50 0a0.75 0.75 0 1 0 -1.50 0ZM551.60 214.91a0.75 0.75 0 1 0 1.50 0a0.75 0.75 0 1 0 -1.50 0ZM555.35 218.96a0.75 0.75 0 1 0 1.50 0a0.75 0.75 0 1 0 -1.50 0ZM559.10 223.77a0.75 0.75 0 1 0 1.50 0a0.75 0.75 0 1 0 -1.50 0ZM562.85 229.29a0.75 0.75 0 1 0 1.50 0a0.75 0.75 0 1 0 -1.50 0ZM566.60 234.66a0.75 0.75 0 1 0 1.50 0a0.75 0.75 0 1 0 -1.50 0ZM570.35 239.60a0.75 0.75 0 1 0 1.50 0a0.75 0.75 0 1 0 -1.50 0ZM574.10 243.70a0.75 0.75 0 1 0 1.50 0a0.75 0.75 0 1 0 -1.50 0ZM577.85 247.49a0.75 0.75 0 1 0 1.50 0a0.75 0.75 0 1 0 -1.50 0ZM581.60 251.30a0.75 0.75 0 1 0 1.50 0a0.75 0.75 0 1 0 -1.50 0ZM585.35 254.99a0.75 0.75 0 1 0 1.50 0a0.75 0.75 0 1 0 -1.50 0ZM589.10 258.46a0.75 0.75 0 1 0 1.50 0a0.75 0.75 0 1 0 -1.50 0ZM592.85 261.74a0.75 0.75 0 1 0 1.50 0a0.75 0.75 0 1 0 -1.50 0ZM596.60 264.81a0.75 0.75 0 1 0 1.50 0a0.75 0.75 0 1 0 -1.50 0ZM600.35 267.64a0.75 0.75 0 1 0 1.50 0a0.75 0.75 0 1 0 -1.50 0ZM604.10 270.41a0.75 0.75 0 1 0 1.50 0a0.75 0.75 0 1 0 -1.50 0ZM607.85 273.28a0.75 0.75 0 1 0 1.50 0a0.75 0.75 0 1 0 -1.50 0ZM611.60 276.09a0.75 0.75 0 1 0 1.50 0a0.75 0.75 0 1 0 -1.50 0ZM615.35 278.66a0.75 0.75 0 1 0 1.50 0a0.75 0.75 0 1 0 -1.50 0ZM619.10 281.12a0.75 0.75 0 1 0 1.50 0a0.75 0.75 0 1 0 -1.50 0ZM622.85 283.85a0.75 0.75 0 1 0 1.50 0a0.75 0.75 0 1 0 -1.50 0ZM626.60 286.83a0.75 0.75 0 1 0 1.50 0a0.75 0.75 0 1 0 -1.50 0ZM630.35 290.31a0.75 0.75 0 1 0 1.50 0a0.75 0.75 0 1 0 -1.50 0ZM634.10 294.64a0.75 0.75 0 1 0 1.50 0a0.75 0.75 0 1 0 -1.50 0ZM637.85 299.22a0.75 0.75 0 1 0 1.50 0a0.75 0.75 0 1 0 -1.50 0ZM641.60 303.97a0.75 0.75 0 1 0 1.50 0a0.75 0.75 0 1 0 -1.50 0Z" fill="#b8c0f4"/>
<path d="M355.5 15.0L356.5 17.4L357.5 19.9L358.5 22.3L359.5 24.7L360.5 27.1L361.5 29.4L362.5 31.8L363.5 34.2L364.5 36.6L365.5 39.0L366.5 41.4L367.5 43.7L368.5 46.1L369.5 48.5L370.5 50.8L371.5 53.2L372.5 55.6L373.5 57.9L374.5 60.3L375.5 62.6L376.5 65.0L377.5 67.3L378.5 69.6L379.5 72.0L380.5 74.3L381.5 76.6L382.5 78.9L383.5 81.2L384.5 83.5L385.5 85.7L386.5 87.9L387.5 90.2L388.5 92.4L389.5 94.6L390.5 96.7L391.5 98.9L392.5 101.1L393.5 103.3L394.5 105.5L395.5 107.8L396.5 110.0L397.5 112.2L398.5 114.5L399.5 116.8L400.5 119.2L401.5 121.5L402.5 123.9L403.5 126.3L404.5 128.8L405.5 131.3L406.5 134.0L407.5 136.7L408.5 139.4L409.5 142.2L410.5 144.9L411.5 147.4L412.5 149.6L413.5 151.6L414.5 153.5L415.5 155.5L416.5 157.5L417.5 159.5L418.5 161.6L419.5 163.5L420.5 165.5L421.5 167.4L422.5 169.3L423.5 171.1L424.5 173.0L425.5 174.8L426.5 176.6L427.5 178.3L428.5 180.0L429.5 181.7L430.5 183.4L431.5 185.0L432.5 186.6L433.5 188.1L434.5 189.6L435.5 190.9L436.5 192.3L437.5 193.6L438.5 194.9L439.5 196.1L440.5 197.1L441.5 198.0L442.5 198.7L443.5 199.2L444.5 199.7L445.5 200.2L446.5 200.7L447.5 201.0L448.5 201.3L449.5 201.4L450.5 201.4L451.5 201.1L452.5 200.7L453.5 200.1L454.5 199.5L455.5 198.8L456.5 198.1L457.5 197.4L458.5 196.6L459.5 195.8L460.5 194.8L461.5 193.9L462.5 192.8L463.5 191.7L464.5 190.6L465.5 189.5L466.5 188.3L467.5 187.1L468.5 185.8L469.5 184.5L470.5 183.1L471.5 181.7L472.5 180.2L473.5 178.7L474.5 177.2L475.5 175.7L476.5 174.1L477.5 172.5L478.5 170.7L479.5 168.9L480.5 167.0L481.5 165.2L482.5 163.3L483.5 161.6L484.5 160.0L485.5 158.5L486.5 157.1L487.5 155.7L488.5 154.3L489.5 153.0L490.5 151.7L491.5 150.6L492.5 149.5L493.5 148.5L494.5 147.6L495.5 146.8L496.5 146.0L497.5 145.2L498.5 144.5L499.5 143.8L500.5 143.2L501.5 142.6L502.5 142.2L503.5 141.8L504.5 141.6L505.5 141.3L506.5 141.2L507.5 141.0L508.5 140.9L509.5 140.8L510.5 140.8L511.5 141.1L512.5 141.6L513.5 142.2L514.5 142.9L515.5 143.6L516.5 144.4L517.5 145.4L518.5 146.6L519.5 147.9L520.5 149.3L521.5 150.6L522.5 151.8L523.5 153.0L524.5 154.1L525.5 155.3L526.5 156.4L527.5 157.6L528.5 158.7L529.5 159.9L530.5 161.2L531.5 162.4L532.5 163.7L533.5 165.0L534.5 166.2L535.5 167.5L536.5 168.8L537.5 170.1L538.5 171.3L539.5 172.6L540.5 173.9L541.5 175.2L542.5 176.5L543.5 177.7L544.5 179.0L545.5 180.3L546.5 181.6L547.5 182.9L548.5 184.1L549.5 185.4L550.5 186.7L551.5 188.0L552.5 189.3L553.5 190.5L554.5 191.8L555.5 193.0L556.5 194.3L557.5 195.6L558.5 196.8L559.5 198.1L560.5 199.3L561.5 200.6L562.5 201.8L563.5 203.1L564.5 204.3L565.5 205.6L566.5 206.8L567.5 208.1L568.5 209.3L569.5 210.5L570.5 211.8L571.5 213.0L572.5 214.3L573.5 215.5L574.5 216.8L575.5 218.0L576.5 219.3L577.5 220.5L578.5 221.8L579.5 223.0L580.5 224.3L581.5 225.6L582.5 226.8L583.5 228.1L584.5 229.4L585.5 230.6L586.5 231.8L587.5 233.0L588.5 234.3L589.5 235.5L590.5 236.6L591.5 237.7L592.5 238.8L593.5 239.8L594.5 240.7L595.5 241.5L596.5 242.3L597.5 243.1L598.5 244.0L599.5 244.9L600.5 245.8L601.5 246.8L602.5 247.8L603.5 248.8L604.5 249.8L605.5 250.9L606.5 251.9L607.5 252.9L608.5 253.9L609.5 254.9L610.5 255.9L611.5 257.0L612.5 258.0L613.5 259.0L614.5 260.0L615.5 260.9L616.5 261.9L617.5 262.8L618.5 263.7L619.5 264.6L620.5 265.4L621.5 266.3L622.5 267.1L623.5 268.0L624.5 268.8L625.5 269.7L626.5 270.6L627.5 271.4L628.5 272.3L629.5 273.2L630.5 274.1L631.5 274.9L632.5 275.9L633.5 276.8L634.5 277.7L635.5 278.7L636.5 279.6L637.5 280.6L638.5 281.7L639.5 282.8L640.5 284.0L641.5 285.3L642.5 286.7L643.5 288.2L644.5 289.6L645.5 291.1L646.5 292.6L647.5 294.1L648.5 295.6" stroke="#ffd6ad" stroke-width="0.9" fill="none"/>
<path d="M353.58 13.08h3.84v3.84h-3.84ZM357.33 22.14h3.84v3.84h-3.84ZM361.08 31.11h3.84v3.84h-3.84ZM364.83 40.04h3.84v3.84h-3.84ZM368.58 48.92h3.84v3.84h-3.84ZM372.33 57.76h3.84v3.84h-3.84ZM376.08 66.54h3.84v3.84h-3.84ZM379.83 75.26h3.84v3.84h-3.84ZM383.58 83.79h3.84v3.84h-3.84ZM387.33 92.08h3.84v3.84h-3.84ZM391.08 100.31h3.84v3.84h-3.84ZM394.83 108.64h3.84v3.84h-3.84ZM398.58 117.23h3.84v3.84h-3.84ZM402.33 126.26h3.84v3.84h-3.84ZM406.08 136.17h3.84v3.84h-3.84ZM409.83 146.05h3.84v3.84h-3.84ZM413.58 153.58h3.84v3.84h-3.84ZM417.33 161.12h3.84v3.84h-3.84ZM421.08 168.29h3.84v3.84h-3.84ZM424.83 175.09h3.84v3.84h-3.84ZM428.58 181.48h3.84v3.84h-3.84ZM432.33 187.29h3.84v3.84h-3.84ZM436.08 192.33h3.84v3.84h-3.84ZM439.83 196.26h3.84v3.84h-3.84ZM443.58 198.32h3.84v3.84h-3.84ZM447.33 199.45h3.84v3.84h-3.84ZM451.08 198.52h3.84v3.84h-3.84ZM454.83 195.96h3.84v3.84h-3.84ZM458.58 192.93h3.84v3.84h-3.84ZM462.33 188.97h3.84v3.84h-3.84ZM466.08 184.52h3.84v3.84h-3.84ZM469.83 179.38h3.84v3.84h-3.84ZM473.58 173.74h3.84v3.84h-3.84ZM477.33 167.43h3.84v3.84h-3.84ZM481.08 160.55h3.84v3.84h-3.84ZM484.83 154.82h3.84v3.84h-3.84ZM488.58 149.82h3.84v3.84h-3.84ZM492.33 145.86h3.84v3.84h-3.84ZM496.08 142.91h3.84v3.84h-3.84ZM499.83 140.59h3.84v3.84h-3.84ZM503.58 139.43h3.84v3.84h-3.84ZM507.33 138.90h3.84v3.84h-3.84ZM511.08 139.93h3.84v3.84h-3.84ZM514.83 142.71h3.84v3.84h-3.84ZM518.58 147.33h3.84v3.84h-3.84ZM522.33 151.92h3.84v3.84h-3.84ZM526.08 156.23h3.84v3.84h-3.84ZM529.83 160.82h3.84v3.84h-3.84ZM533.58 165.59h3.84v3.84h-3.84ZM537.33 170.36h3.84v3.84h-3.84ZM541.08 175.17h3.84v3.84h-3.84ZM544.83 179.98h3.84v3.84h-3.84ZM548.58 184.79h3.84v3.84h-3.84ZM552.33 189.55h3.84v3.84h-3.84ZM556.08 194.27h3.84v3.84h-3.84ZM559.83 198.97h3.84v3.84h-3.84ZM563.58 203.65h3.84v3.84h-3.84ZM567.33 208.32h3.84v3.84h-3.84ZM571.08 212.98h3.84v3.84h-3.84ZM574.83 217.64h3.84v3.84h-3.84ZM578.58 222.37h3.84v3.84h-3.84ZM582.33 227.14h3.84v3.84h-3.84ZM586.08 231.72h3.84v3.84h-3.84ZM589.83 236.10h3.84v3.84h-3.84ZM593.58 239.57h3.84v3.84h-3.84ZM597.33 242.73h3.84v3.84h-3.84ZM601.08 246.39h3.84v3.84h-3.84ZM604.83 250.22h3.84v3.84h-3.84ZM608.58 254.02h3.84v3.84h-3.84ZM612.33 257.81h3.84v3.84h-3.84ZM616.08 261.32h3.84v3.84h-3.84ZM619.83 264.56h3.84v3.84h-3.84ZM623.58 267.79h3.84v3.84h-3.84ZM627.33 271.04h3.84v3.84h-3.84ZM631.08 274.40h3.84v3.84h-3.84ZM634.83 277.94h3.84v3.84h-3.84ZM638.58 282.06h3.84v3.84h-3.84ZM642.33 287.33h3.84v3.84h-3.84ZM646.08 292.94h3.84v3.84h-3.84ZM508.08 138.88h3.84v3.84h-3.84ZM510.08 139.38h3.84v3.84h-3.84ZM512.08 140.60h3.84v3.84h-3.84ZM514.08 142.08h3.84v3.84h-3.84ZM516.08 144.05h3.84v3.84h-3.84ZM518.08 146.65h3.84v3.84h-3.84ZM520.08 149.30h3.84v3.84h-3.84ZM522.08 151.64h3.84v3.84h-3.84ZM524.08 153.92h3.84v3.84h-3.84ZM526.08 156.23h3.84v3.84h-3.84ZM528.08 158.64h3.84v3.84h-3.84Z" fill="#ff8000"/>
<path d="M378.0 14.6L379.0 16.6L380.0 18.6L381.0 20.6L382.0 22.7L383.0 24.8L384.0 27.0L385.0 29.2L386.0 31.5L387.0 33.7L388.0 36.0L389.0 38.3L390.0 40.7L391.0 43.0L392.0 45.4L393.0 47.8L394.0 50.2L395.0 52.6L396.0 55.0L397.0 57.4L398.0 59.8L399.0 62.3L400.0 64.7L401.0 67.1L402.0 69.5L403.0 71.9L404.0 74.3L405.0 76.7L406.0 79.2L407.0 81.6L408.0 84.1L409.0 86.6L410.0 89.2L411.0 91.7L412.0 94.3L413.0 96.8L414.0 99.4L415.0 102.0L416.0 104.5L417.0 107.1L418.0 109.6L419.0 112.1L420.0 114.5L421.0 116.9L422.0 119.3L423.0 121.6L424.0 123.9L425.0 126.1L426.0 128.2L427.0 130.3L428.0 132.2L429.0 133.9L430.0 135.6L431.0 137.5L432.0 139.6L433.0 142.3L434.0 145.1L435.0 147.6L436.0 149.8L437.0 151.7L438.0 153.6L439.0 155.5L440.0 157.5L441.0 159.4L442.0 161.4L443.0 163.4L444.0 165.6L445.0 168.0L446.0 170.4L447.0 172.5L448.0 174.4L449.0 176.1L450.0 177.8L451.0 179.6L452.0 181.3L453.0 183.1L454.0 184.9L455.0 186.6L456.0 188.3L457.0 190.0L458.0 191.7L459.0 193.3L460.0 194.8L461.0 196.0L462.0 197.2L463.0 198.3L464.0 199.3L465.0 200.1L466.0 200.8L467.0 201.3L468.0 201.7L469.0 202.2L470.0 202.5L471.0 202.8L472.0 202.9L473.0 202.9L474.0 202.7L475.0 202.3L476.0 201.9L477.0 201.4L478.0 200.8L479.0 200.1L480.0 199.5L481.0 198.7L482.0 197.7L483.0 196.5L484.0 195.3L485.0 194.0L486.0 192.6L487.0 191.4L488.0 190.1L489.0 188.8L490.0 187.4L491.0 186.1L492.0 184.7L493.0 183.3L494.0 181.8L495.0 180.4L496.0 179.0L497.0 177.5L498.0 176.1L499.0 174.6L500.0 173.1L501.0 171.6L502.0 170.1L503.0 168.6L504.0 167.0L505.0 165.5L506.0 164.0L507.0 162.5L508.0 161.0L509.0 159.5L510.0 158.0L511.0 156.4L512.0 155.0L513.0 153.5L514.0 152.0L515.0 150.4L516.0 149.0L517.0 147.6L518.0 146.5L519.0 145.5L520.0 144.5L521.0 143.5L522.0 142.7L523.0 141.9L524.0 141.4L525.0 141.1L526.0 141.0L527.0 141.1L528.0 141.3L529.0 141.5L530.0 141.8L531.0 142.2L532.0 142.6L533.0 143.1L534.0 143.6L535.0 144.1L536.0 144.6L537.0 145.1L538.0 145.7L539.0 146.4L540.0 147.1L541.0 147.9L542.0 148.8L543.0 149.8L544.0 150.8L545.0 151.8L546.0 152.8L547.0 153.9L548.0 155.0L549.0 156.3L550.0 157.5L551.0 158.9L552.0 160.2L553.0 161.5L554.0 162.9L555.0 164.2L556.0 165.5L557.0 166.9L558.0 168.3L559.0 169.7L560.0 171.1L561.0 172.5L562.0 173.9L563.0 175.2L564.0 176.6L565.0 178.0L566.0 179.4L567.0 180.8L568.0 182.2L569.0 183.6L570.0 184.9L571.0 186.2L572.0 187.5L573.0 188.8L574.0 190.1L575.0 191.3L576.0 192.5L577.0 193.7L578.0 194.9L579.0 196.2L580.0 197.5L581.0 198.8L582.0 200.2L583.0 201.6L584.0 203.1L585.0 204.5L586.0 205.9L587.0 207.3L588.0 208.6L589.0 210.0L590.0 211.2L591.0 212.5L592.0 213.7L593.0 215.0L594.0 216.2L595.0 217.4L596.0 218.6L597.0 219.8L598.0 220.9L599.0 222.0L600.0 223.1L601.0 224.2L602.0 225.3L603.0 226.4L604.0 227.5L605.0 228.7L606.0 230.0L607.0 231.5L608.0 233.0L609.0 234.6L610.0 236.1L611.0 237.5L612.0 238.7L613.0 239.9L614.0 241.0L615.0 242.1L616.0 243.2L617.0 244.2L618.0 245.3L619.0 246.3L620.0 247.4L621.0 248.4L622.0 249.4L623.0 250.4L624.0 251.3L625.0 252.3L626.0 253.3L627.0 254.3L628.0 255.3L629.0 256.3L630.0 257.2L631.0 258.2L632.0 259.2L633.0 260.1L634.0 261.2L635.0 262.2L636.0 263.2L637.0 264.3L638.0 265.4L639.0 266.4L640.0 267.6L641.0 268.7L642.0 269.9L643.0 271.1L644.0 272.3L645.0 273.6L646.0 274.9L647.0 276.3L648.0 277.8L649.0 279.3L650.0 280.9L651.0 282.6L652.0 284.4L653.0 286.2L654.0 288.0L655.0 290.0L656.0 292.0L657.0 294.0" stroke="#d6add6" stroke-width="0.9" fill="none"/>
<path d="M375.42 14.60a2.58 2.58 0 1 0 5.16 0a2.58 2.58 0 1 0 -5.16 0ZM379.17 22.16a2.58 2.58 0 1 0 5.16 0a2.58 2.58 0 1 0 -5.16 0ZM382.92 30.35a2.58 2.58 0 1 0 5.16 0a2.58 2.58 0 1 0 -5.16 0ZM386.67 38.93a2.58 2.58 0 1 0 5.16 0a2.58 2.58 0 1 0 -5.16 0ZM390.42 47.78a2.58 2.58 0 1 0 5.16 0a2.58 2.58 0 1 0 -5.16 0ZM394.17 56.80a2.58 2.58 0 1 0 5.16 0a2.58 2.58 0 1 0 -5.16 0ZM397.92 65.89a2.58 2.58 0 1 0 5.16 0a2.58 2.58 0 1 0 -5.16 0ZM401.67 74.94a2.58 2.58 0 1 0 5.16 0a2.58 2.58 0 1 0 -5.16 0ZM405.42 84.10a2.58 2.58 0 1 0 5.16 0a2.58 2.58 0 1 0 -5.16 0ZM409.17 93.63a2.58 2.58 0 1 0 5.16 0a2.58 2.58 0 1 0 -5.16 0ZM412.92 103.26a2.58 2.58 0 1 0 5.16 0a2.58 2.58 0 1 0 -5.16 0ZM416.67 112.69a2.58 2.58 0 1 0 5.16 0a2.58 2.58 0 1 0 -5.16 0ZM420.42 121.63a2.58 2.58 0 1 0 5.16 0a2.58 2.58 0 1 0 -5.16 0ZM424.17 129.79a2.58 2.58 0 1 0 5.16 0a2.58 2.58 0 1 0 -5.16 0ZM427.92 136.51a2.58 2.58 0 1 0 5.16 0a2.58 2.58 0 1 0 -5.16 0ZM431.67 145.78a2.58 2.58 0 1 0 5.16 0a2.58 2.58 0 1 0 -5.16 0ZM435.42 153.59a2.58 2.58 0 1 0 5.16 0a2.58 2.58 0 1 0 -5.16 0ZM439.17 160.90a2.58 2.58 0 1 0 5.16 0a2.58 2.58 0 1 0 -5.16 0ZM442.92 169.21a2.58 2.58 0 1 0 5.16 0a2.58 2.58 0 1 0 -5.16 0ZM446.67 176.56a2.58 2.58 0 1 0 5.16 0a2.58 2.58 0 1 0 -5.16 0ZM450.42 183.11a2.58 2.58 0 1 0 5.16 0a2.58 2.58 0 1 0 -5.16 0ZM454.17 189.56a2.58 2.58 0 1 0 5.16 0a2.58 2.58 0 1 0 -5.16 0ZM457.92 195.40a2.58 2.58 0 1 0 5.16 0a2.58 2.58 0 1 0 -5.16 0ZM461.67 199.53a2.58 2.58 0 1 0 5.16 0a2.58 2.58 0 1 0 -5.16 0ZM465.42 201.74a2.58 2.58 0 1 0 5.16 0a2.58 2.58 0 1 0 -5.16 0ZM469.17 202.88a2.58 2.58 0 1 0 5.16 0a2.58 2.58 0 1 0 -5.16 0ZM472.92 202.12a2.58 2.58 0 1 0 5.16 0a2.58 2.58 0 1 0 -5.16 0ZM476.67 199.98a2.58 2.58 0 1 0 5.16 0a2.58 2.58 0 1 0 -5.16 0ZM480.42 196.54a2.58 2.58 0 1 0 5.16 0a2.58 2.58 0 1 0 -5.16 0ZM484.17 191.67a2.58 2.58 0 1 0 5.16 0a2.58 2.58 0 1 0 -5.16 0ZM487.92 186.76a2.58 2.58 0 1 0 5.16 0a2.58 2.58 0 1 0 -5.16 0ZM491.67 181.48a2.58 2.58 0 1 0 5.16 0a2.58 2.58 0 1 0 -5.16 0ZM495.42 176.05a2.58 2.58 0 1 0 5.16 0a2.58 2.58 0 1 0 -5.16 0ZM499.17 170.44a2.58 2.58 0 1 0 5.16 0a2.58 2.58 0 1 0 -5.16 0ZM502.92 164.79a2.58 2.58 0 1 0 5.16 0a2.58 2.58 0 1 0 -5.16 0ZM506.67 159.08a2.58 2.58 0 1 0 5.16 0a2.58 2.58 0 1 0 -5.16 0ZM510.42 153.51a2.58 2.58 0 1 0 5.16 0a2.58 2.58 0 1 0 -5.16 0ZM514.17 147.93a2.58 2.58 0 1 0 5.16 0a2.58 2.58 0 1 0 -5.16 0ZM517.92 144.01a2.58 2.58 0 1 0 5.16 0a2.58 2.58 0 1 0 -5.16 0ZM521.67 141.27a2.58 2.58 0 1 0 5.16 0a2.58 2.58 0 1 0 -5.16 0ZM525.42 141.26a2.58 2.58 0 1 0 5.16 0a2.58 2.58 0 1 0 -5.16 0ZM529.17 142.51a2.58 2.58 0 1 0 5.16 0a2.58 2.58 0 1 0 -5.16 0ZM532.92 144.35a2.58 2.58 0 1 0 5.16 0a2.58 2.58 0 1 0 -5.16 0ZM536.67 146.53a2.58 2.58 0 1 0 5.16 0a2.58 2.58 0 1 0 -5.16 0ZM540.42 149.78a2.58 2.58 0 1 0 5.16 0a2.58 2.58 0 1 0 -5.16 0ZM544.17 153.60a2.58 2.58 0 1 0 5.16 0a2.58 2.58 0 1 0 -5.16 0ZM547.92 158.20a2.58 2.58 0 1 0 5.16 0a2.58 2.58 0 1 0 -5.16 0ZM551.67 163.20a2.58 2.58 0 1 0 5.16 0a2.58 2.58 0 1 0 -5.16 0ZM555.42 168.28a2.58 2.58 0 1 0 5.16 0a2.58 2.58 0 1 0 -5.16 0ZM559.17 173.51a2.58 2.58 0 1 0 5.16 0a2.58 2.58 0 1 0 -5.16 0ZM562.92 178.71a2.58 2.58 0 1 0 5.16 0a2.58 2.58 0 1 0 -5.16 0ZM566.67 183.89a2.58 2.58 0 1 0 5.16 0a2.58 2.58 0 1 0 -5.16 0ZM570.42 188.82a2.58 2.58 0 1 0 5.16 0a2.58 2.58 0 1 0 -5.16 0ZM574.17 193.41a2.58 2.58 0 1 0 5.16 0a2.58 2.58 0 1 0 -5.16 0ZM577.92 198.16a2.58 2.58 0 1 0 5.16 0a2.58 2.58 0 1 0 -5.16 0ZM581.67 203.41a2.58 2.58 0 1 0 5.16 0a2.58 2.58 0 1 0 -5.16 0ZM585.42 208.64a2.58 2.58 0 1 0 5.16 0a2.58 2.58 0 1 0 -5.16 0ZM589.17 213.44a2.58 2.58 0 1 0 5.16 0a2.58 2.58 0 1 0 -5.16 0ZM592.92 218.00a2.58 2.58 0 1 0 5.16 0a2.58 2.58 0 1 0 -5.16 0ZM596.67 222.32a2.58 2.58 0 1 0 5.16 0a2.58 2.58 0 1 0 -5.16 0ZM600.42 226.38a2.58 2.58 0 1 0 5.16 0a2.58 2.58 0 1 0 -5.16 0ZM604.17 231.11a2.58 2.58 0 1 0 5.16 0a2.58 2.58 0 1 0 -5.16 0ZM607.92 236.84a2.58 2.58 0 1 0 5.16 0a2.58 2.58 0 1 0 -5.16 0ZM611.67 241.32a2.58 2.58 0 1 0 5.16 0a2.58 2.58 0 1 0 -5.16 0ZM615.42 245.28a2.58 2.58 0 1 0 5.16 0a2.58 2.58 0 1 0 -5.16 0ZM619.17 249.12a2.58 2.58 0 1 0 5.16 0a2.58 2.58 0 1 0 -5.16 0ZM622.92 252.82a2.58 2.58 0 1 0 5.16 0a2.58 2.58 0 1 0 -5.16 0ZM626.67 256.50a2.58 2.58 0 1 0 5.16 0a2.58 2.58 0 1 0 -5.16 0ZM630.42 260.15a2.58 2.58 0 1 0 5.16 0a2.58 2.58 0 1 0 -5.16 0ZM634.17 264.02a2.58 2.58 0 1 0 5.16 0a2.58 2.58 0 1 0 -5.16 0ZM637.92 268.12a2.58 2.58 0 1 0 5.16 0a2.58 2.58 0 1 0 -5.16 0ZM641.67 272.62a2.58 2.58 0 1 0 5.16 0a2.58 2.58 0 1 0 -5.16 0ZM645.42 277.81a2.58 2.58 0 1 0 5.16 0a2.58 2.58 0 1 0 -5.16 0ZM649.17 283.93a2.58 2.58 0 1 0 5.16 0a2.58 2.58 0 1 0 -5.16 0ZM652.92 290.95a2.58 2.58 0 1 0 5.16 0a2.58 2.58 0 1 0 -5.16 0ZM513.42 147.96a2.58 2.58 0 1 0 5.16 0a2.58 2.58 0 1 0 -5.16 0ZM515.42 145.50a2.58 2.58 0 1 0 5.16 0a2.58 2.58 0 1 0 -5.16 0ZM517.42 143.50a2.58 2.58 0 1 0 5.16 0a2.58 2.58 0 1 0 -5.16 0ZM519.42 141.66a2.58 2.58 0 1 0 5.16 0a2.58 2.58 0 1 0 -5.16 0ZM521.42 140.37a2.58 2.58 0 1 0 5.16 0a2.58 2.58 0 1 0 -5.16 0ZM523.42 140.01a2.58 2.58 0 1 0 5.16 0a2.58 2.58 0 1 0 -5.16 0ZM525.42 140.26a2.58 2.58 0 1 0 5.16 0a2.58 2.58 0 1 0 -5.16 0ZM527.42 140.82a2.58 2.58 0 1 0 5.16 0a2.58 2.58 0 1 0 -5.16 0ZM529.42 141.62a2.58 2.58 0 1 0 5.16 0a2.58 2.58 0 1 0 -5.16 0ZM531.42 142.57a2.58 2.58 0 1 0 5.16 0a2.58 2.58 0 1 0 -5.16 0Z" fill="#800080"/>
<path d="M490.3 210.3L491.3 209.8L492.3 209.3L493.3 208.7L494.3 208.0L495.3 207.3L496.3 206.6L497.3 205.8L498.3 205.0L499.3 204.1L500.3 203.2L501.3 202.3L502.3 201.3L503.3 200.2L504.3 199.0L505.3 197.8L506.3 196.5L507.3 195.1L508.3 193.5L509.3 191.8L510.3 189.9L511.3 187.9L512.3 185.7L513.3 183.2L514.3 180.2M515.0 178.0L516.0 176.9L517.0 175.6L518.0 174.3L519.0 172.8L520.0 171.4L521.0 169.8L522.0 168.0L523.0 166.2L524.0 164.3L525.0 162.4L526.0 160.3L527.0 158.2L528.0 156.2L529.0 154.6L530.0 153.2L531.0 151.9L532.0 150.7L533.0 149.5L534.0 148.5L535.0 147.6L536.0 146.7L537.0 145.9L538.0 145.1L539.0 144.3L540.0 143.6L541.0 142.9L542.0 142.4L543.0 141.9L544.0 141.5L545.0 141.1L546.0 140.7L547.0 140.5L548.0 140.4L549.0 140.5L550.0 140.7L551.0 141.1L552.0 141.6L553.0 142.2L554.0 142.8L555.0 143.5L556.0 144.3L557.0 145.0L558.0 145.8L559.0 146.5L560.0 147.3L561.0 148.2L562.0 149.2L563.0 150.2L564.0 151.3L565.0 152.5L566.0 153.6L567.0 154.8L568.0 156.0L569.0 157.2L570.0 158.5L571.0 159.9L572.0 161.2L573.0 162.6L574.0 164.0L575.0 165.4L576.0 166.8L577.0 168.2L578.0 169.6L579.0 171.1L580.0 172.5L581.0 173.9L582.0 175.3L583.0 176.6L584.0 177.9L585.0 179.3L586.0 180.6L587.0 181.9L588.0 183.2L589.0 184.5L590.0 185.8L591.0 187.1L592.0 188.4L593.0 189.7L594.0 191.0L595.0 192.3L596.0 193.6L597.0 194.9L598.0 196.3L599.0 197.6L600.0 198.9L601.0 200.2L602.0 201.5L603.0 202.8L604.0 204.2L605.0 205.5L606.0 206.9L607.0 208.2L608.0 209.6L609.0 211.0L610.0 212.4L611.0 213.7L612.0 215.0L613.0 216.2L614.0 217.4L615.0 218.6L616.0 219.8L617.0 220.9L618.0 222.0L619.0 223.2L620.0 224.3L621.0 225.4L622.0 226.5L623.0 227.6L624.0 228.7L625.0 229.8L626.0 231.0L627.0 232.1L628.0 233.3L629.0 234.5L630.0 235.7L631.0 236.9L632.0 238.1L633.0 239.4L634.0 240.8L635.0 242.1L636.0 243.5L637.0 244.9L638.0 246.2L639.0 247.6L640.0 249.0L641.0 250.3L642.0 251.6L643.0 252.9L644.0 254.2L645.0 255.4L646.0 256.6L647.0 257.7L648.0 258.8L649.0 260.0L650.0 261.1L651.0 262.3L652.0 263.4L653.0 264.6L654.0 265.7L655.0 267.0L656.0 268.5L657.0 270.1L658.0 272.0" stroke="#d6adff" stroke-width="0.9" fill="none"/>
<path d="M515.00 174.47L518.70 180.69L511.30 180.69ZM518.75 169.68L522.45 175.90L515.05 175.90ZM522.50 163.62L526.20 169.83L518.80 169.83ZM526.25 156.27L529.95 162.49L522.55 162.49ZM530.00 149.65L533.70 155.87L526.30 155.87ZM533.75 145.23L537.45 151.45L530.05 151.45ZM537.50 141.93L541.20 148.15L533.80 148.15ZM541.25 139.27L544.95 145.49L537.55 145.49ZM545.00 137.57L548.70 143.79L541.30 143.79ZM548.75 136.92L552.45 143.14L545.05 143.14ZM552.50 138.33L556.20 144.55L548.80 144.55ZM556.25 140.93L559.95 147.15L552.55 147.15ZM560.00 143.80L563.70 150.02L556.30 150.02ZM563.75 147.53L567.45 153.74L560.05 153.74ZM567.50 151.82L571.20 158.04L563.80 158.04ZM571.25 156.68L574.95 162.90L567.55 162.90ZM575.00 161.85L578.70 168.07L571.30 168.07ZM578.75 167.19L582.45 173.41L575.05 173.41ZM582.50 172.42L586.20 178.63L578.80 178.63ZM586.25 177.35L589.95 183.57L582.55 183.57ZM590.00 182.23L593.70 188.45L586.30 188.45ZM593.75 187.15L597.45 193.37L590.05 193.37ZM597.50 192.08L601.20 198.29L593.80 198.29ZM601.25 197.00L604.95 203.22L597.55 203.22ZM605.00 201.97L608.70 208.19L601.30 208.19ZM608.75 207.14L612.45 213.36L605.05 213.36ZM612.50 212.09L616.20 218.31L608.80 218.31ZM616.25 216.52L619.95 222.73L612.55 222.73ZM620.00 220.78L623.70 226.99L616.30 226.99ZM623.75 224.92L627.45 231.13L620.05 231.13ZM627.50 229.17L631.20 235.39L623.80 235.39ZM631.25 233.65L634.95 239.87L627.55 239.87ZM635.00 238.60L638.70 244.81L631.30 244.81ZM638.75 243.73L642.45 249.94L635.05 249.94ZM642.50 248.76L646.20 254.98L638.80 254.98ZM646.25 253.34L649.95 259.55L642.55 259.55ZM650.00 257.60L653.70 263.82L646.30 263.82ZM653.75 261.91L657.45 268.13L650.05 268.13ZM657.50 267.53L661.20 273.75L653.80 273.75Z" fill="#8000ff"/>
<path d="M493.3 191.0L494.3 191.9L495.3 192.8L496.3 193.6L497.3 194.4L498.3 195.2L499.3 196.0L500.3 196.7L501.3 197.4L502.3 198.1L503.3 198.7L504.3 199.3L505.3 199.9L506.3 200.6L507.3 201.2L508.3 202.0L509.3 202.8L510.3 203.6L511.3 204.2L512.3 204.5L513.3 204.4L514.3 203.9L515.3 203.1L516.3 201.9M517.0 201.0L518.0 199.5L519.0 197.9L520.0 196.4L521.0 194.8L522.0 193.3L523.0 191.7L524.0 190.1L525.0 188.5L526.0 186.9L527.0 185.3L528.0 183.7L529.0 182.0L530.0 180.4L531.0 178.7L532.0 177.1L533.0 175.4L534.0 173.8L535.0 172.2L536.0 170.6L537.0 169.1L538.0 167.5L539.0 166.0L540.0 164.4L541.0 162.9L542.0 161.5L543.0 160.1L544.0 158.7L545.0 157.3L546.0 155.9L547.0 154.5L548.0 153.1L549.0 151.8L550.0 150.6L551.0 149.6L552.0 148.7L553.0 148.0L554.0 147.3L555.0 146.7L556.0 146.1L557.0 145.5L558.0 145.1L559.0 144.7L560.0 144.4L561.0 144.2L562.0 144.0L563.0 143.8L564.0 143.7L565.0 143.6L566.0 143.5L567.0 143.5L568.0 143.5L569.0 143.6L570.0 143.8L571.0 144.0L572.0 144.3L573.0 144.6L574.0 145.0L575.0 145.5L576.0 146.4L577.0 147.4L578.0 148.5L579.0 149.7L580.0 150.8L581.0 152.2L582.0 153.6L583.0 155.1L584.0 156.6L585.0 158.0L586.0 159.3L587.0 160.5L588.0 161.6L589.0 162.8L590.0 164.0L591.0 165.4L592.0 167.0L593.0 168.6L594.0 170.0L595.0 171.3L596.0 172.4L597.0 173.6L598.0 174.8L599.0 176.1L600.0 177.5L601.0 178.9L602.0 180.3L603.0 181.8L604.0 183.2L605.0 184.6L606.0 185.8L607.0 187.0L608.0 188.0L609.0 189.1L610.0 190.2L611.0 191.5L612.0 192.9L613.0 194.3L614.0 195.8L615.0 197.2L616.0 198.6L617.0 200.0L618.0 201.4L619.0 202.6L620.0 203.7L621.0 204.9L622.0 206.1L623.0 207.3L624.0 208.6L625.0 209.9L626.0 211.3L627.0 212.7L628.0 214.1L629.0 215.4L630.0 216.8L631.0 218.2L632.0 219.6L633.0 221.0L634.0 222.4L635.0 223.8L636.0 225.2L637.0 226.6L638.0 228.0L639.0 229.5L640.0 231.0L641.0 232.5L642.0 234.2L643.0 235.7L644.0 237.1L645.0 238.2L646.0 239.2L647.0 240.1L648.0 241.0L649.0 242.0L650.0 243.0L651.0 244.2L652.0 245.6L653.0 247.1L654.0 248.7L655.0 250.5L656.0 252.5L657.0 254.8" stroke="#adadad" stroke-width="0.9" fill="none"/>
<path d="M517.00 204.53L520.70 198.31L513.30 198.31ZM520.75 198.73L524.45 192.52L517.05 192.52ZM524.50 192.83L528.20 186.62L520.80 186.62ZM528.25 186.81L531.95 180.60L524.55 180.60ZM532.00 180.60L535.70 174.39L528.30 174.39ZM535.75 174.56L539.45 168.35L532.05 168.35ZM539.50 168.73L543.20 162.51L535.80 162.51ZM543.25 163.24L546.95 157.03L539.55 157.03ZM547.00 158.00L550.70 151.79L543.30 151.79ZM550.75 153.37L554.45 147.16L547.05 147.16ZM554.50 150.52L558.20 144.30L550.80 144.30ZM558.25 148.49L561.95 142.28L554.55 142.28ZM562.00 147.53L565.70 141.31L558.30 141.31ZM565.75 147.08L569.45 140.86L562.05 140.86ZM569.50 147.24L573.20 141.02L565.80 141.02ZM573.25 148.26L576.95 142.04L569.55 142.04ZM577.00 150.90L580.70 144.69L573.30 144.69ZM580.75 155.34L584.45 149.12L577.05 149.12ZM584.50 160.82L588.20 154.60L580.80 154.60ZM588.25 165.45L591.95 159.23L584.55 159.23ZM592.00 170.48L595.70 164.26L588.30 164.26ZM595.75 175.68L599.45 169.46L592.05 169.46ZM599.50 180.32L603.20 174.11L595.80 174.11ZM603.25 185.65L606.95 179.43L599.55 179.43ZM607.00 190.51L610.70 184.29L603.30 184.29ZM610.75 194.67L614.45 188.46L607.05 188.46ZM614.50 199.99L618.20 193.78L610.80 193.78ZM618.25 205.20L621.95 198.98L614.55 198.98ZM622.00 209.58L625.70 203.36L618.30 203.36ZM625.75 214.48L629.45 208.27L622.05 208.27ZM629.50 219.67L633.20 213.45L625.80 213.45ZM633.25 224.86L636.95 218.65L629.55 218.65ZM637.00 230.12L640.70 223.90L633.30 223.90ZM640.75 235.66L644.45 229.45L637.05 229.45ZM644.50 241.22L648.20 235.00L640.80 235.00ZM648.25 244.79L651.95 238.57L644.55 238.57ZM652.00 249.12L655.70 242.91L648.30 242.91ZM655.75 255.49L659.45 249.27L652.05 249.27Z" fill="#000000"/>
<path d="M489.3 162.7L490.3 164.0L491.3 165.3L492.3 166.6L493.3 168.0L494.3 169.4L495.3 170.9L496.3 172.3L497.3 173.8L498.3 175.4L499.3 176.9L500.3 178.5L501.3 180.1L502.3 181.8L503.3 183.5L504.3 185.3L505.3 187.0L506.3 188.8L507.3 190.5L508.3 192.5L509.3 194.5L510.3 196.5L511.3 198.4L512.3 200.1L513.3 201.2L514.3 202.0L515.3 202.5M515.8 202.7L516.8 203.7L517.8 204.4L518.8 205.1L519.8 205.6L520.8 205.9L521.8 206.1L522.8 206.1L523.8 205.9L524.8 205.5L525.8 204.9L526.8 204.3L527.8 203.6L528.8 202.9L529.8 202.1L530.8 201.2L531.8 200.1L532.8 198.9L533.8 197.7L534.8 196.4L535.8 195.1L536.8 193.9L537.8 192.7L538.8 191.5L539.8 190.3L540.8 189.1L541.8 187.8L542.8 186.6L543.8 185.3L544.8 184.0L545.8 182.7L546.8 181.4L547.8 180.1L548.8 178.8L549.8 177.4L550.8 176.1L551.8 174.7L552.8 173.2L553.8 171.8L554.8 170.3L555.8 168.7L556.8 167.0L557.8 165.3L558.8 163.6L559.8 161.8L560.8 160.2L561.8 158.6L562.8 157.1L563.8 155.7L564.8 154.3L565.8 153.0L566.8 151.6L567.8 150.3L568.8 149.1L569.8 148.0L570.8 147.1L571.8 146.4L572.8 145.7L573.8 145.1L574.8 144.6L575.8 144.1L576.8 143.8L577.8 143.6L578.8 143.5L579.8 143.4L580.8 143.4L581.8 143.3L582.8 143.3L583.8 143.3L584.8 143.5L585.8 144.0L586.8 144.7L587.8 145.4L588.8 146.2L589.8 147.2L590.8 148.4L591.8 149.7L592.8 150.9L593.8 152.0L594.8 152.9L595.8 153.8L596.8 154.6L597.8 155.6L598.8 156.8L599.8 158.0L600.8 159.4L601.8 160.6L602.8 161.9L603.8 163.0L604.8 164.2L605.8 165.5L606.8 166.7L607.8 168.0L608.8 169.3L609.8 170.7L610.8 172.0L611.8 173.4L612.8 174.8L613.8 176.2L614.8 177.5L615.8 178.8L616.8 180.1L617.8 181.5L618.8 183.0L619.8 184.6L620.8 186.0L621.8 187.3L622.8 188.6L623.8 189.8L624.8 191.0L625.8 192.3L626.8 193.7L627.8 195.1L628.8 196.6L629.8 198.1L630.8 199.8L631.8 201.4L632.8 202.9L633.8 204.1L634.8 205.3L635.8 206.4L636.8 207.6L637.8 208.8L638.8 210.0L639.8 211.3L640.8 212.5L641.8 213.8L642.8 215.1L643.8 216.4L644.8 217.8L645.8 219.1L646.8 220.4L647.8 221.7L648.8 223.0L649.8 224.3L650.8 225.6L651.8 227.0L652.8 228.5L653.8 230.1L654.8 231.9L655.8 233.9L656.8 236.3" stroke="#ffadad" stroke-width="0.9" fill="none"/>
<path d="M512.27 202.70L518.49 199.00L518.49 206.40ZM516.02 205.47L522.24 201.77L522.24 209.16ZM519.77 206.00L525.99 202.31L525.99 209.70ZM523.52 204.12L529.74 200.42L529.74 207.81ZM527.27 201.19L533.49 197.49L533.49 204.88ZM531.02 196.74L537.24 193.05L537.24 200.44ZM534.77 192.11L540.99 188.41L540.99 195.81ZM538.52 187.52L544.74 183.83L544.74 191.22ZM542.27 182.73L548.49 179.03L548.49 186.43ZM546.02 177.76L552.24 174.07L552.24 181.46ZM549.77 172.52L555.99 168.83L555.99 176.22ZM553.52 166.60L559.74 162.90L559.74 170.29ZM557.27 160.18L563.49 156.49L563.49 163.88ZM561.02 154.69L567.24 151.00L567.24 158.39ZM564.77 149.71L570.99 146.01L570.99 153.40ZM568.52 146.20L574.74 142.51L574.74 149.90ZM572.27 144.11L578.49 140.42L578.49 147.81ZM576.02 143.46L582.24 139.76L582.24 147.15ZM579.77 143.30L585.99 139.61L585.99 147.00ZM583.52 144.84L589.74 141.14L589.74 148.54ZM587.27 148.43L593.49 144.74L593.49 152.13ZM591.02 152.69L597.24 148.99L597.24 156.38ZM594.77 156.16L600.99 152.46L600.99 159.85ZM598.52 160.95L604.74 157.25L604.74 164.65ZM602.27 165.48L608.49 161.78L608.49 169.17ZM606.02 170.33L612.24 166.64L612.24 174.03ZM609.77 175.53L615.99 171.83L615.99 179.22ZM613.52 180.45L619.74 176.76L619.74 184.15ZM617.27 186.03L623.49 182.33L623.49 189.72ZM621.02 190.67L627.24 186.97L627.24 194.36ZM624.77 195.81L630.99 192.12L630.99 199.51ZM628.52 201.81L634.74 198.11L634.74 205.50ZM632.27 206.40L638.49 202.70L638.49 210.09ZM636.02 210.97L642.24 207.27L642.24 214.66ZM639.77 215.78L645.99 212.08L645.99 219.47ZM643.52 220.76L649.74 217.06L649.74 224.46ZM647.27 225.65L653.49 221.95L653.49 229.34ZM651.02 231.43L657.24 227.73L657.24 235.13Z" fill="#ff0000"/>
<path d="M489.3 130.3L490.3 132.1L491.3 133.8L492.3 135.6L493.3 137.4L494.3 139.3L495.3 141.1L496.3 143.0L497.3 144.9L498.3 146.8L499.3 148.7L500.3 150.6L501.3 152.5L502.3 154.5L503.3 156.4L504.3 158.4L505.3 160.5L506.3 162.5L507.3 164.5L508.3 166.6L509.3 168.7L510.3 170.8L511.3 173.0L512.3 175.1L513.3 177.3L514.3 179.5L515.3 181.8L516.3 184.0M516.7 184.9L517.7 187.9L518.7 190.8L519.7 193.4L520.7 195.8L521.7 197.6L522.7 198.9L523.7 200.1L524.7 201.1L525.7 202.1L526.7 203.0L527.7 203.8L528.7 204.6L529.7 205.2L530.7 205.6L531.7 205.9L532.7 206.1L533.7 206.1L534.7 206.1L535.7 206.0L536.7 205.9L537.7 205.7L538.7 205.6L539.7 205.4L540.7 205.2L541.7 205.0L542.7 204.6L543.7 204.0L544.7 203.2L545.7 202.3L546.7 201.2L547.7 200.1L548.7 199.0L549.7 197.9L550.7 196.9L551.7 195.8L552.7 194.6L553.7 193.4L554.7 192.2L555.7 190.9L556.7 189.6L557.7 188.2L558.7 186.9L559.7 185.5L560.7 184.1L561.7 182.6L562.7 181.0L563.7 179.5L564.7 177.9L565.7 176.4L566.7 174.9L567.7 173.3L568.7 171.8L569.7 170.3L570.7 168.8L571.7 167.2L572.7 165.7L573.7 164.2L574.7 162.8L575.7 161.3L576.7 159.8L577.7 158.3L578.7 156.8L579.7 155.4L580.7 153.9L581.7 152.6L582.7 151.3L583.7 150.1L584.7 149.1L585.7 148.0L586.7 147.0L587.7 146.0L588.7 145.1L589.7 144.5L590.7 144.1L591.7 144.1L592.7 144.2L593.7 144.3L594.7 144.4L595.7 144.5L596.7 144.7L597.7 145.0L598.7 145.4L599.7 145.8L600.7 146.3L601.7 146.9L602.7 147.6L603.7 148.4L604.7 149.5L605.7 150.7L606.7 151.8L607.7 152.7L608.7 153.6L609.7 154.5L610.7 155.5L611.7 156.6L612.7 157.9L613.7 159.2L614.7 160.5L615.7 161.8L616.7 163.0L617.7 164.3L618.7 165.4L619.7 166.5L620.7 167.6L621.7 168.7L622.7 169.9L623.7 171.1L624.7 172.4L625.7 173.7L626.7 175.1L627.7 176.6L628.7 178.2L629.7 179.8L630.7 181.3L631.7 182.8L632.7 184.3L633.7 185.7L634.7 187.2L635.7 188.5L636.7 189.9L637.7 191.4L638.7 192.9L639.7 194.5L640.7 196.2L641.7 197.7L642.7 199.2L643.7 200.6L644.7 202.1L645.7 203.4L646.7 204.7L647.7 206.0L648.7 207.3L649.7 208.6L650.7 210.2L651.7 211.9L652.7 213.6L653.7 215.4L654.7 217.1L655.7 218.9L656.7 220.8L657.7 222.7" stroke="#adadff" stroke-width="0.9" fill="none"/>
<path d="M520.23 184.90L514.01 181.20L514.01 188.60ZM523.98 195.23L517.76 191.54L517.76 198.93ZM527.73 200.60L521.51 196.90L521.51 204.29ZM531.48 204.04L525.26 200.34L525.26 207.73ZM535.23 205.93L529.01 202.24L529.01 209.63ZM538.98 206.00L532.76 202.30L532.76 209.70ZM542.73 205.49L536.51 201.80L536.51 209.19ZM546.48 204.46L540.26 200.77L540.26 208.16ZM550.23 201.21L544.01 197.52L544.01 204.91ZM553.98 197.14L547.76 193.44L547.76 200.83ZM557.73 192.80L551.51 189.11L551.51 196.50ZM561.48 187.91L555.26 184.22L555.26 191.61ZM565.23 182.57L559.01 178.87L559.01 186.27ZM568.98 176.78L562.76 173.08L562.76 180.47ZM572.73 171.06L566.51 167.37L566.51 174.76ZM576.48 165.35L570.26 161.66L570.26 169.05ZM580.23 159.84L574.01 156.14L574.01 163.54ZM583.98 154.28L577.76 150.58L577.76 157.98ZM587.73 149.60L581.51 145.90L581.51 153.30ZM591.48 145.72L585.26 142.03L585.26 149.42ZM595.23 144.11L589.01 140.41L589.01 147.81ZM598.98 144.48L592.76 140.78L592.76 148.18ZM602.73 145.56L596.51 141.86L596.51 149.26ZM606.48 147.76L600.26 144.07L600.26 151.46ZM610.23 151.80L604.01 148.10L604.01 155.50ZM613.98 155.24L607.76 151.54L607.76 158.93ZM617.73 159.85L611.51 156.15L611.51 163.54ZM621.48 164.56L615.26 160.86L615.26 168.26ZM625.23 168.72L619.01 165.02L619.01 172.41ZM628.98 173.37L622.76 169.68L622.76 177.07ZM632.73 179.01L626.51 175.31L626.51 182.71ZM636.48 184.63L630.26 180.94L630.26 188.33ZM640.23 189.91L634.01 186.22L634.01 193.61ZM643.98 195.75L637.76 192.05L637.76 199.44ZM647.73 201.35L641.51 197.66L641.51 205.05ZM651.48 206.29L645.26 202.59L645.26 209.99ZM655.23 211.87L649.01 208.17L649.01 215.56ZM658.98 218.49L652.76 214.79L652.76 222.18Z" fill="#0000ff"/>
<path d="M84.0 230.6L85.0 228.2L86.0 225.9L87.0 223.5L88.0 221.2L89.0 218.9L90.0 216.6L91.0 214.4L92.0 212.1L93.0 209.9L94.0 207.6L95.0 205.4L96.0 203.3L97.0 201.1L98.0 199.0L99.0 196.9L100.0 194.8L101.0 192.7L102.0 190.6L103.0 188.5L104.0 186.4L105.0 184.3L106.0 182.2L107.0 180.1L108.0 177.9L109.0 175.6L110.0 173.4L111.0 171.3L112.0 169.1L113.0 167.0L114.0 165.0L115.0 163.1L116.0 161.3L117.0 159.6L118.0 157.9L119.0 156.2L120.0 154.5L121.0 153.0L122.0 151.4L123.0 150.0L124.0 148.6L125.0 147.3L126.0 146.1L127.0 145.0L128.0 143.9L129.0 142.9L130.0 141.9L131.0 141.0L132.0 140.2L133.0 139.5L134.0 138.9L135.0 138.5L136.0 138.1L137.0 137.7L138.0 137.3L139.0 137.1L140.0 136.8L141.0 136.7L142.0 136.7L143.0 136.8L144.0 136.9L145.0 137.1L146.0 137.3L147.0 137.6L148.0 137.9L149.0 138.3L150.0 138.7L151.0 139.0L152.0 139.4L153.0 139.8L154.0 140.2L155.0 140.7L156.0 141.2L157.0 141.8L158.0 142.4L159.0 143.0L160.0 143.7L161.0 144.4L162.0 145.1L163.0 145.8L164.0 146.6L165.0 147.3L166.0 148.1L167.0 148.9L168.0 149.8L169.0 150.8L170.0 151.7L171.0 152.7L172.0 153.8L173.0 154.8L174.0 155.9L175.0 157.0L176.0 158.1L177.0 159.2L178.0 160.3L179.0 161.4L180.0 162.6L181.0 163.8L182.0 165.0L183.0 166.3L184.0 167.5L185.0 168.8L186.0 170.1L187.0 171.4L188.0 172.7L189.0 174.0L190.0 175.3L191.0 176.6L192.0 177.9L193.0 179.2L194.0 180.6L195.0 181.9L196.0 183.3L197.0 184.6L198.0 186.0L199.0 187.3L200.0 188.7L201.0 190.0L202.0 191.3L203.0 192.7L204.0 193.9L205.0 195.2L206.0 196.5L207.0 197.7L208.0 199.0L209.0 200.2L210.0 201.5L211.0 202.7L212.0 203.9L213.0 205.2L214.0 206.4L215.0 207.7L216.0 208.9L217.0 210.2L218.0 211.5L219.0 212.7L220.0 214.0L221.0 215.3L222.0 216.5L223.0 217.8L224.0 219.1L225.0 220.4L226.0 221.7L227.0 222.9L228.0 224.2L229.0 225.5L230.0 226.7L231.0 228.0L232.0 229.3L233.0 230.5L234.0 231.8L235.0 233.1L236.0 234.4L237.0 235.7L238.0 237.0L239.0 238.3L240.0 239.6L241.0 240.9L242.0 242.3L243.0 243.6L244.0 245.0L245.0 246.3L246.0 247.7L247.0 249.0L248.0 250.4L249.0 251.7L250.0 253.0L251.0 254.4L252.0 255.7L253.0 257.0L254.0 258.4L255.0 259.7L256.0 261.1L257.0 262.4L258.0 263.7L259.0 265.0L260.0 266.4L261.0 267.7L262.0 269.0L263.0 270.3L264.0 271.5L265.0 272.8L266.0 274.1L267.0 275.3L268.0 276.6L269.0 277.8L270.0 279.1L271.0 280.3L272.0 281.5L273.0 282.8L274.0 284.1L275.0 285.3L276.0 286.6L277.0 287.9L278.0 289.2L279.0 290.4L280.0 291.7L281.0 293.0L282.0 294.3L283.0 295.6L284.0 296.9L285.0 298.1L286.0 299.4L287.0 300.7L288.0 302.0L289.0 303.3L290.0 304.5L291.0 305.8L292.0 307.1L293.0 308.4L294.0 309.7L295.0 311.0L296.0 312.2L297.0 313.5L298.0 314.8L299.0 316.1L300.0 317.4L301.0 318.6L302.0 319.9L303.0 321.2L304.0 322.5L305.0 323.8L306.0 325.0L307.0 326.3L308.0 327.6L309.0 328.9L310.0 330.2L311.0 331.4L312.0 332.7L313.0 334.0L314.0 335.3L315.0 336.6L316.0 337.9L317.0 339.2L318.0 340.5L319.0 341.8L320.0 343.1L321.0 344.4L322.0 345.7L323.0 347.0L324.0 348.3" stroke="#800080" stroke-width="2.35" fill="none" stroke-dasharray="4.6 2.0"/>
<path d="M110.0 477.0L111.0 476.3L112.0 475.7L113.0 475.0L114.0 474.3L115.0 473.7L116.0 473.0L117.0 472.3L118.0 471.7L119.0 471.0L120.0 470.3L121.0 469.6L122.0 469.0L123.0 468.3L124.0 467.6L125.0 466.9L126.0 466.2L127.0 465.6L128.0 464.9L129.0 464.2L130.0 463.5L131.0 462.8L132.0 462.1L133.0 461.4L134.0 460.7L135.0 460.1L136.0 459.4L137.0 458.7L138.0 458.0L139.0 457.3L140.0 456.6L141.0 455.9L142.0 455.2L143.0 454.5L144.0 453.8L145.0 453.1L146.0 452.4L147.0 451.7L148.0 450.9L149.0 450.2L150.0 449.5L151.0 448.8L152.0 448.0L153.0 447.3L154.0 446.5L155.0 445.7L156.0 445.0L157.0 444.2L158.0 443.4L159.0 442.7L160.0 441.9L161.0 441.2L162.0 440.4L163.0 439.7L164.0 439.0L165.0 438.4L166.0 437.7L167.0 437.1L168.0 436.5L169.0 435.9L170.0 435.3L171.0 434.7L172.0 434.1L173.0 433.5L174.0 432.9L175.0 432.4L176.0 431.8L177.0 431.2L178.0 430.6L179.0 430.0L180.0 429.3L181.0 428.7L182.0 428.1L183.0 427.4L184.0 426.8L185.0 426.1L186.0 425.5L187.0 424.8L188.0 424.1L189.0 423.5L190.0 422.8L191.0 422.2L192.0 421.5L193.0 420.9L194.0 420.2L195.0 419.6L196.0 419.0L197.0 418.4L198.0 417.8L199.0 417.2L200.0 416.6L201.0 416.0L202.0 415.4L203.0 414.8L204.0 414.2L205.0 413.7L206.0 413.1L207.0 412.5L208.0 411.9L209.0 411.3L210.0 410.7L211.0 410.1L212.0 409.5L213.0 408.8L214.0 408.2L215.0 407.6L216.0 407.0L217.0 406.4L218.0 405.8L219.0 405.1L220.0 404.5L221.0 404.0L222.0 403.4L223.0 402.8L224.0 402.3L225.0 401.7L226.0 401.2L227.0 400.6L228.0 400.1L229.0 399.6L230.0 399.1L231.0 398.5L232.0 398.0L233.0 397.5L234.0 397.1L235.0 396.6L236.0 396.1L237.0 395.6L238.0 395.2L239.0 394.8L240.0 394.3L241.0 393.9L242.0 393.5L243.0 393.2L244.0 392.8L245.0 392.4L246.0 392.0L247.0 391.7L248.0 391.3L249.0 390.9L250.0 390.5L251.0 390.1L252.0 389.7L253.0 389.2L254.0 388.8L255.0 388.4L256.0 388.0L257.0 387.6L258.0 387.2L259.0 386.8L260.0 386.4L261.0 386.1L262.0 385.7L263.0 385.4L264.0 385.1L265.0 384.7L266.0 384.4L267.0 384.1L268.0 383.8L269.0 383.5L270.0 383.2L271.0 382.9L272.0 382.6L273.0 382.4L274.0 382.2L275.0 382.0L276.0 381.8L277.0 381.6L278.0 381.4L279.0 381.2L280.0 381.0L281.0 380.9L282.0 380.7L283.0 380.6L284.0 380.4L285.0 380.3L286.0 380.1L287.0 380.0L288.0 379.9L289.0 379.7L290.0 379.6L291.0 379.4L292.0 379.3L293.0 379.2L294.0 379.0L295.0 378.9L296.0 378.8L297.0 378.7L298.0 378.7L299.0 378.6L300.0 378.5L301.0 378.4L302.0 378.4L303.0 378.3L304.0 378.2L305.0 378.2L306.0 378.1L307.0 378.1L308.0 378.0L309.0 378.0L310.0 378.0L311.0 378.0L312.0 378.0L313.0 378.0L314.0 378.1L315.0 378.1L316.0 378.1L317.0 378.2L318.0 378.2L319.0 378.3L320.0 378.3L321.0 378.4L322.0 378.4L323.0 378.5L324.0 378.6L325.0 378.7L326.0 378.8L327.0 378.9L328.0 379.1L329.0 379.2L330.0 379.3L331.0 379.5L332.0 379.6L333.0 379.8L334.0 379.9L335.0 380.1L336.0 380.3L337.0 380.5L338.0 380.7L339.0 380.9L340.0 381.1L341.0 381.3L342.0 381.6L343.0 381.8L344.0 382.1L345.0 382.3L346.0 382.6L347.0 382.8L348.0 383.1L349.0 383.4L350.0 383.7L351.0 383.9L352.0 384.2L353.0 384.5L354.0 384.8L355.0 385.1L356.0 385.4L357.0 385.7L358.0 386.0L359.0 386.3L360.0 386.7L361.0 387.0L362.0 387.4L363.0 387.7L364.0 388.1L365.0 388.5L366.0 388.8L367.0 389.2L368.0 389.6L369.0 390.0L370.0 390.4L371.0 390.7L372.0 391.1L373.0 391.5L374.0 391.9L375.0 392.3L376.0 392.7L377.0 393.1L378.0 393.5L379.0 393.9L380.0 394.3L381.0 394.7L382.0 395.1L383.0 395.5L384.0 395.9L385.0 396.3L386.0 396.8L387.0 397.2L388.0 397.6L389.0 398.1L390.0 398.5L391.0 399.0L392.0 399.4L393.0 399.9L394.0 400.4L395.0 400.9L396.0 401.3L397.0 401.9L398.0 402.4L399.0 402.9L400.0 403.5L401.0 404.0L402.0 404.6L403.0 405.1L404.0 405.7L405.0 406.3L406.0 406.8L407.0 407.3L408.0 407.9L409.0 408.4L410.0 408.9L411.0 409.5L412.0 410.0L413.0 410.5L414.0 411.1L415.0 411.6L416.0 412.1L417.0 412.7L418.0 413.2L419.0 413.7L420.0 414.2L421.0 414.7L422.0 415.2L423.0 415.7L424.0 416.2L425.0 416.7L426.0 417.3L427.0 417.8L428.0 418.4L429.0 419.0L430.0 419.6L431.0 420.3L432.0 421.0L433.0 421.6L434.0 422.3L435.0 423.0L436.0 423.6L437.0 424.3L438.0 424.9L439.0 425.5L440.0 426.1L441.0 426.7L442.0 427.3L443.0 427.8L444.0 428.4L445.0 429.0L446.0 429.6L447.0 430.2L448.0 430.8L449.0 431.5L450.0 432.2L451.0 432.9L452.0 433.6L453.0 434.4L454.0 435.2L455.0 435.9L456.0 436.7L457.0 437.4L458.0 438.1L459.0 438.8L460.0 439.5L461.0 440.2L462.0 440.9L463.0 441.5L464.0 442.2L465.0 442.9L466.0 443.5L467.0 444.2L468.0 444.8L469.0 445.5L470.0 446.1L471.0 446.8L472.0 447.5L473.0 448.1L474.0 448.8L475.0 449.5L476.0 450.2L477.0 450.9L478.0 451.5L479.0 452.2L480.0 452.9L481.0 453.6L482.0 454.3L483.0 455.0L484.0 455.6L485.0 456.3L486.0 457.0L487.0 457.7L488.0 458.4L489.0 459.1L490.0 459.8L491.0 460.5L492.0 461.3L493.0 462.0L494.0 462.7L495.0 463.4L496.0 464.1L497.0 464.8L498.0 465.5L499.0 466.3L500.0 467.0L501.0 467.7L502.0 468.4L503.0 469.2L504.0 469.9L505.0 470.6L506.0 471.4L507.0 472.1L508.0 472.8" stroke="#800080" stroke-width="2.1" fill="none" stroke-dasharray="2.4 1.1"/>
<path d="M354.8 473.5L355.8 472.5L356.8 471.5L357.8 470.5L358.8 469.5L359.8 468.5L360.8 467.5L361.8 466.6L362.8 465.6L363.8 464.7L364.8 463.7L365.8 462.8L366.8 461.9L367.8 461.0L368.8 460.1L369.8 459.2L370.8 458.3L371.8 457.4L372.8 456.6L373.8 455.7L374.8 454.9L375.8 454.1L376.8 453.2L377.8 452.4L378.8 451.6L379.8 450.8L380.8 450.0L381.8 449.1L382.8 448.3L383.8 447.5L384.8 446.7L385.8 445.8L386.8 445.0L387.8 444.1L388.8 443.3L389.8 442.4L390.8 441.5L391.8 440.7L392.8 439.8L393.8 439.0L394.8 438.1L395.8 437.3L396.8 436.5L397.8 435.7L398.8 434.9L399.8 434.2L400.8 433.4L401.8 432.7L402.8 431.9L403.8 431.2L404.8 430.5L405.8 429.9L406.8 429.2L407.8 428.5L408.8 427.8L409.8 427.2L410.8 426.5L411.8 425.8L412.8 425.2L413.8 424.5L414.8 423.8L415.8 423.1L416.8 422.5L417.8 421.8L418.8 421.1L419.8 420.5L420.8 419.8L421.8 419.1L422.8 418.4L423.8 417.8L424.8 417.1L425.8 416.4L426.8 415.7L427.8 414.9L428.8 414.2L429.8 413.3L430.8 412.5L431.8 411.7L432.8 410.8L433.8 410.0L434.8 409.2L435.8 408.4L436.8 407.6L437.8 406.9L438.8 406.3L439.8 405.6L440.8 405.0L441.8 404.4L442.8 403.8L443.8 403.3L444.8 402.7L445.8 402.2L446.8 401.6L447.8 401.1L448.8 400.6L449.8 400.0L450.8 399.5L451.8 399.0L452.8 398.5L453.8 398.0L454.8 397.4L455.8 397.0L456.8 396.5L457.8 396.0L458.8 395.5L459.8 395.0L460.8 394.5L461.8 394.1L462.8 393.6L463.8 393.1L464.8 392.7L465.8 392.2L466.8 391.7L467.8 391.2L468.8 390.7L469.8 390.2L470.8 389.7L471.8 389.2L472.8 388.7L473.8 388.2L474.8 387.7L475.8 387.2L476.8 386.6L477.8 386.1L478.8 385.5L479.8 385.0L480.8 384.4L481.8 383.9L482.8 383.4L483.8 382.8L484.8 382.3L485.8 381.8L486.8 381.3L487.8 380.8L488.8 380.3L489.8 379.8L490.8 379.3L491.8 378.9L492.8 378.5L493.8 378.0L494.8 377.6L495.8 377.2L496.8 376.8L497.8 376.4L498.8 376.0L499.8 375.6L500.8 375.2L501.8 374.8L502.8 374.4L503.8 374.0L504.8 373.7L505.8 373.3L506.8 373.0L507.8 372.6L508.8 372.3L509.8 372.0L510.8 371.7L511.8 371.4L512.8 371.1L513.8 370.9L514.8 370.6L515.8 370.3L516.8 370.1L517.8 369.8L518.8 369.5L519.8 369.3L520.8 369.0L521.8 368.7L522.8 368.5L523.8 368.2L524.8 368.0L525.8 367.8L526.8 367.6L527.8 367.4L528.8 367.2L529.8 367.0L530.8 366.9L531.8 366.8L532.8 366.7L533.8 366.6L534.8 366.6L535.8 366.6L536.8 366.6L537.8 366.6L538.8 366.6L539.8 366.6L540.8 366.7L541.8 366.7L542.8 366.7L543.8 366.7L544.8 366.8L545.8 366.8L546.8 366.8L547.8 366.9L548.8 366.9L549.8 367.0L550.8 367.0L551.8 367.1L552.8 367.1L553.8 367.1L554.8 367.2L555.8 367.3L556.8 367.3L557.8 367.4L558.8 367.4L559.8 367.5L560.8 367.6L561.8 367.7L562.8 367.9L563.8 368.0L564.8 368.1L565.8 368.3L566.8 368.4L567.8 368.6L568.8 368.7L569.8 368.9L570.8 369.1L571.8 369.3L572.8 369.5L573.8 369.7L574.8 369.9L575.8 370.1L576.8 370.3L577.8 370.5L578.8 370.7L579.8 370.9L580.8 371.1L581.8 371.4L582.8 371.7L583.8 372.0L584.8 372.3L585.8 372.6L586.8 372.9L587.8 373.2L588.8 373.5L589.8 373.8L590.8 374.2L591.8 374.5L592.8 374.8L593.8 375.1L594.8 375.4L595.8 375.7L596.8 376.0L597.8 376.3" stroke="#800080" stroke-width="2.1" fill="none" stroke-dasharray="2.4 1.1"/>
</g>
<text x="480.0" y="103.3" font-size="21.1" fill="#ff8000" transform="translate(0 103.3) scale(1 1.06) translate(0 -103.3)" stroke="#ff8000" stroke-width="0.3">291 K</text>
<text x="584.5" y="116.0" font-size="21.1" fill="#0000ff" transform="translate(0 116.0) scale(1 1.06) translate(0 -116.0)" stroke="#0000ff" stroke-width="0.3">331 K</text>
<text x="160.3" y="238.4" font-size="21.1" fill="#ff00ff" transform="translate(0 238.4) scale(1 1.06) translate(0 -238.4)" stroke="#ff00ff" stroke-width="0.3">235 K</text>
<text x="254.2" y="233.5" font-size="21.1" fill="#808000" transform="translate(0 233.5) scale(1 1.06) translate(0 -233.5)" stroke="#808000" stroke-width="0.3">243 K</text>
<text x="350.4" y="258.7" font-size="21.1" fill="#0000ff" transform="translate(0 258.7) scale(1 1.06) translate(0 -258.7)" stroke="#0000ff" stroke-width="0.3">251 K</text>
<text x="110.8" y="310.1" font-size="21.1" fill="#008080" transform="translate(0 310.1) scale(1 1.06) translate(0 -310.1)" stroke="#008080" stroke-width="0.3">227 K</text>
<text x="108.4" y="347.7" font-size="21.1" fill="#0000ff" transform="translate(0 347.7) scale(1 1.06) translate(0 -347.7)" stroke="#0000ff" stroke-width="0.3">219 K</text>
<text x="108.4" y="386.5" font-size="21.1" fill="#ff0000" transform="translate(0 386.5) scale(1 1.06) translate(0 -386.5)" stroke="#ff0000" stroke-width="0.3">211 K</text>
<text x="166.3" y="458.3" font-size="21.1" fill="#000000" transform="translate(0 458.3) scale(1 1.06) translate(0 -458.3)" stroke="#000000" stroke-width="0.3">203 K</text>
<g clip-path="url(#cbot)">
<rect x="498.1" y="567.2" width="136" height="186.1" fill="#f3f3f3"/>
<line x1="542.5" y1="576.0" x2="554.6" y2="576.0" stroke="#3a3aff" stroke-width="1.2"/><line x1="554.6" y1="576.0" x2="566.7" y2="576.0" stroke="#8a9a9a" stroke-width="1.2"/><line x1="566.7" y1="576.0" x2="576.5" y2="608.8" stroke="#8a9a9a" stroke-width="1.2"/><line x1="563.2" y1="580.5" x2="571.2" y2="606.5" stroke="#8a9a9a" stroke-width="1.2"/><line x1="576.5" y1="608.8" x2="566.0" y2="616.1" stroke="#8a9a9a" stroke-width="1.2"/><line x1="566.0" y1="616.1" x2="555.5" y2="623.5" stroke="#3a3aff" stroke-width="1.2"/><line x1="549.5" y1="623.5" x2="539.4" y2="616.1" stroke="#3a3aff" stroke-width="1.2"/><line x1="539.4" y1="616.1" x2="529.3" y2="608.8" stroke="#8a9a9a" stroke-width="1.2"/><line x1="529.3" y1="608.8" x2="533.2" y2="594.4" stroke="#8a9a9a" stroke-width="1.2"/><line x1="533.2" y1="594.4" x2="537.2" y2="580.0" stroke="#3a3aff" stroke-width="1.2"/><line x1="533.8" y1="606.5" x2="537.1" y2="594.5" stroke="#8a9a9a" stroke-width="1.2"/><line x1="537.1" y1="594.5" x2="540.4" y2="582.5" stroke="#3a3aff" stroke-width="1.2"/><line x1="529.3" y1="608.8" x2="503.5" y2="618.1" stroke="#8a9a9a" stroke-width="1.2"/><line x1="576.5" y1="608.8" x2="587.5" y2="612.6" stroke="#8a9a9a" stroke-width="1.2"/><line x1="587.5" y1="612.6" x2="598.5" y2="616.5" stroke="#3a3aff" stroke-width="1.2"/><line x1="606.0" y1="613.8" x2="613.8" y2="606.1" stroke="#3a3aff" stroke-width="1.2"/><line x1="613.8" y1="606.1" x2="621.5" y2="598.5" stroke="#ff2a2a" stroke-width="1.2"/><line x1="601.2" y1="622.0" x2="603.8" y2="633.5" stroke="#3a3aff" stroke-width="1.2"/><line x1="603.8" y1="633.5" x2="606.4" y2="645.0" stroke="#ff2a2a" stroke-width="1.2"/><line x1="604.6" y1="621.2" x2="607.2" y2="632.7" stroke="#3a3aff" stroke-width="1.2"/><line x1="607.2" y1="632.7" x2="609.8" y2="644.2" stroke="#ff2a2a" stroke-width="1.2"/><line x1="552.5" y1="631.5" x2="552.5" y2="646.4" stroke="#3a3aff" stroke-width="1.2"/><line x1="552.5" y1="646.4" x2="552.5" y2="661.3" stroke="#8a9a9a" stroke-width="1.2"/><line x1="552.5" y1="661.3" x2="529.3" y2="677.3" stroke="#8a9a9a" stroke-width="1.2"/><line x1="529.3" y1="677.3" x2="529.3" y2="710.7" stroke="#8a9a9a" stroke-width="1.2"/><line x1="529.3" y1="710.7" x2="518.4" y2="717.0" stroke="#8a9a9a" stroke-width="1.2"/><line x1="518.4" y1="717.0" x2="507.5" y2="723.2" stroke="#ff2a2a" stroke-width="1.2"/><line x1="504.0" y1="733.0" x2="504.0" y2="737.0" stroke="#ff2a2a" stroke-width="1.2"/><line x1="504.0" y1="737.0" x2="504.0" y2="741.0" stroke="#7a9a9a" stroke-width="1.2"/>
<g font-family="Liberation Sans, sans-serif" font-size="9.5" font-weight="bold" text-anchor="middle"><text x="538.7" y="579.6" fill="#3a3aff">N</text><text x="552.5" y="630.3" fill="#3a3aff">N</text><text x="602.7" y="621.5" fill="#3a3aff">N</text><text x="597.3" y="612.8" fill="#3a3aff" font-size="7">+</text><text x="625.3" y="599.6" fill="#ff2a2a">O</text><text x="630.8" y="595" fill="#ff2a2a" font-size="8">-</text><text x="609.3" y="653.5" fill="#ff2a2a">O</text><text x="504" y="731.6" fill="#ff2a2a">O</text><text x="504" y="750" fill="#5f8a8a">H</text></g>
<polyline points="150.0,445.6 151.0,447.3 152.0,449.1 153.0,450.9 154.0,452.7 155.0,454.5 156.0,456.3 157.0,458.0 158.0,459.8 159.0,461.6 160.0,463.4 161.0,465.2 162.0,467.0 163.0,468.8 164.0,470.6 165.0,472.3 166.0,474.1 167.0,475.9 168.0,477.7 169.0,479.5 170.0,481.3 171.0,483.1 172.0,484.9 173.0,486.7 174.0,488.5 175.0,490.3 176.0,492.1 177.0,493.8 178.0,495.6 179.0,497.4 180.0,499.2 181.0,501.0 182.0,502.8 183.0,504.6 184.0,506.4 185.0,508.2 186.0,510.0 187.0,511.8 188.0,513.6 189.0,515.4 190.0,517.2 191.0,519.0 192.0,520.8 193.0,522.6 194.0,524.4 195.0,526.2 196.0,528.0 197.0,529.8 198.0,531.6 199.0,533.4 200.0,535.2 201.0,537.0 202.0,538.8 203.0,540.6 204.0,542.4 205.0,544.2 206.0,546.0 207.0,547.8 208.0,549.6 209.0,551.4 210.0,553.2 211.0,555.0 212.0,556.8 213.0,558.6 214.0,560.4 215.0,562.3 216.0,564.1 217.0,565.9 218.0,567.7 219.0,569.5 220.0,571.3 221.0,573.1 222.0,574.9 223.0,576.6 224.0,578.4 225.0,580.2 226.0,582.0 227.0,583.7 228.0,585.5 229.0,587.3 230.0,589.1 231.0,590.9 232.0,592.7 233.0,594.5 234.0,596.3 235.0,598.1 236.0,600.0 237.0,601.8 238.0,603.7 239.0,605.5 240.0,607.3 241.0,609.1 242.0,611.0 243.0,612.8 244.0,614.5 245.0,616.3 246.0,618.1 247.0,619.9 248.0,621.7 249.0,623.4 250.0,625.2 251.0,626.9 252.0,628.7 253.0,630.4 254.0,632.2 255.0,633.9 256.0,635.6 257.0,637.3 258.0,639.0 259.0,640.7 260.0,642.4 261.0,644.1 262.0,645.7 263.0,647.4 264.0,649.2 265.0,650.9 266.0,652.6 267.0,654.4 268.0,656.2 269.0,658.0 270.0,659.8 271.0,661.6 272.0,663.4 273.0,665.2 274.0,667.0 275.0,668.8 276.0,670.5 277.0,672.3 278.0,674.0 279.0,675.7 280.0,677.4 281.0,679.1 282.0,680.7 283.0,682.4 284.0,684.1 285.0,685.7 286.0,687.4 287.0,689.0 288.0,690.6 289.0,692.3 290.0,694.0 291.0,695.6 292.0,697.3 293.0,699.0 294.0,700.6 295.0,702.3 296.0,703.9 297.0,705.5 298.0,707.1 299.0,708.6 300.0,710.1 301.0,711.6 302.0,713.0 303.0,714.5 304.0,715.9 305.0,717.3 306.0,718.7 307.0,720.0 308.0,721.3 309.0,722.6 310.0,723.9 311.0,725.1 312.0,726.3 313.0,727.5 314.0,728.7 315.0,729.9 316.0,731.0 317.0,732.1 318.0,733.2 319.0,734.2 320.0,735.2 321.0,736.1 322.0,737.0 323.0,737.9 324.0,738.8 325.0,739.8 326.0,740.7 327.0,741.6 328.0,742.5 329.0,743.2 330.0,743.9 331.0,744.4 332.0,744.7 333.0,744.9 334.0,744.9 335.0,744.9 336.0,744.9 337.0,744.8 338.0,744.8 339.0,744.8 340.0,744.7 341.0,744.7 342.0,744.6 343.0,744.5 344.0,744.4 345.0,744.3 346.0,744.1 347.0,743.8 348.0,743.3 349.0,742.8 350.0,742.1 351.0,741.5 352.0,740.7 353.0,740.0 354.0,739.2 355.0,738.4 356.0,737.6 357.0,736.8 358.0,735.9 359.0,734.9 360.0,733.9 361.0,732.8 362.0,731.7 363.0,730.5 364.0,729.4 365.0,728.2 366.0,727.1 367.0,726.0 368.0,724.8 369.0,723.7 370.0,722.5 371.0,721.4 372.0,720.2 373.0,719.0 374.0,717.8 375.0,716.6 376.0,715.5 377.0,714.3 378.0,713.2 379.0,712.2 380.0,711.1 381.0,710.0 382.0,708.9 383.0,707.9 384.0,706.8 385.0,705.8 386.0,704.8 387.0,703.8 388.0,702.9 389.0,702.1 390.0,701.3 391.0,700.4 392.0,699.6 393.0,698.7 394.0,697.9 395.0,697.1 396.0,696.3 397.0,695.6 398.0,695.1 399.0,694.6 400.0,694.3 401.0,694.1 402.0,694.0 403.0,693.8 404.0,693.7 405.0,693.6 406.0,693.6 407.0,693.5 408.0,693.4 409.0,693.4 410.0,693.3 411.0,693.3 412.0,693.3 413.0,693.3 414.0,693.5 415.0,693.7 416.0,693.9 417.0,694.3 418.0,694.6 419.0,695.0 420.0,695.5 421.0,695.9 422.0,696.3 423.0,696.8 424.0,697.2 425.0,697.6 426.0,698.0 427.0,698.5 428.0,699.0 429.0,699.6 430.0,700.1 431.0,700.7 432.0,701.2 433.0,701.8 434.0,702.4 435.0,703.0 436.0,703.7 437.0,704.3 438.0,705.0 439.0,705.7 440.0,706.5 441.0,707.2 442.0,708.0 443.0,708.8 444.0,709.6 445.0,710.4 446.0,711.2 447.0,712.0 448.0,712.9 449.0,713.7 450.0,714.6 451.0,715.5 452.0,716.4 453.0,717.4 454.0,718.3 455.0,719.2 456.0,720.1 457.0,721.1 458.0,722.0 459.0,722.9 460.0,723.9 461.0,724.8 462.0,725.8 463.0,726.7 464.0,727.7 465.0,728.6 466.0,729.6 467.0,730.6 468.0,731.5 469.0,732.5 470.0,733.4 471.0,734.4 472.0,735.3 473.0,736.2 474.0,737.2 475.0,738.1 476.0,739.1 477.0,740.0 478.0,741.0 479.0,742.0 480.0,742.9 481.0,743.9 482.0,744.9 483.0,745.9 484.0,746.9 485.0,747.9 486.0,748.9 487.0,749.9 488.0,750.9 489.0,751.9 490.0,752.9 491.0,753.9 492.0,754.8 493.0,755.8 494.0,756.7 495.0,757.6 496.0,758.6 497.0,759.5 498.0,760.4 499.0,761.4 500.0,762.3 501.0,763.3 502.0,764.2 503.0,765.2 504.0,766.2 505.0,767.2 506.0,768.2 507.0,769.2 508.0,770.2 509.0,771.2 510.0,772.2 511.0,773.2 512.0,774.2 513.0,775.2 514.0,776.1 515.0,777.0 516.0,777.9 517.0,778.8 518.0,779.7 519.0,780.5 520.0,781.4 521.0,782.3 522.0,783.1 523.0,784.0 524.0,784.9 525.0,785.7 526.0,786.6 527.0,787.5 528.0,788.4 529.0,789.3 530.0,790.2 531.0,791.1 532.0,792.0 533.0,792.9 534.0,793.8 535.0,794.7 536.0,795.5 537.0,796.4 538.0,797.2 539.0,798.0 540.0,798.9 541.0,799.7 542.0,800.5 543.0,801.3 544.0,802.2 545.0,803.0 546.0,803.8 547.0,804.6 548.0,805.4 549.0,806.2 550.0,807.1 551.0,807.9 552.0,808.7 553.0,809.5 554.0,810.4 555.0,811.2 556.0,812.0 557.0,812.7 558.0,813.5 559.0,814.3 560.0,815.0 561.0,815.8 562.0,816.5 563.0,817.2 564.0,817.9 565.0,818.6 566.0,819.3 567.0,820.0 568.0,820.7 569.0,821.4 570.0,822.1 571.0,822.7 572.0,823.4 573.0,824.1 574.0,824.8 575.0,825.5 576.0,826.2 577.0,826.8 578.0,827.5 579.0,828.1 580.0,828.7 581.0,829.3 582.0,829.8 583.0,830.4 584.0,830.9 585.0,831.4 586.0,831.8 587.0,832.3 588.0,832.8 589.0,833.2 590.0,833.7 591.0,834.1 592.0,834.6 593.0,835.0 594.0,835.5 595.0,835.9 596.0,836.3 597.0,836.8 598.0,837.2 599.0,837.6 600.0,838.0 601.0,838.4 602.0,838.9 603.0,839.3 604.0,839.7 605.0,840.1 606.0,840.6 607.0,841.1 608.0,841.6 609.0,842.1 610.0,842.5 611.0,842.9 612.0,843.3 613.0,843.7 614.0,843.9 615.0,844.1 616.0,844.3 617.0,844.5 618.0,844.6 619.0,844.8 620.0,844.9 621.0,845.0 622.0,845.1 623.0,845.2 624.0,845.2 625.0,845.3 626.0,845.3 627.0,845.3 628.0,845.2 629.0,845.1 630.0,844.9 631.0,844.7 632.0,844.5 633.0,844.3 634.0,844.0 635.0,843.7 636.0,843.4 637.0,843.1 638.0,842.8 639.0,842.4 640.0,841.9 641.0,841.4 642.0,840.8 643.0,840.1 644.0,839.5 645.0,838.7 646.0,837.9 647.0,837.1 648.0,836.3 649.0,835.5 650.0,834.6 651.0,833.7 652.0,832.8 653.0,831.9 654.0,831.0 655.0,830.2" stroke="#b2b2b2" stroke-width="1.0" fill="none"/>
<path d="M207.36 550.06h4.05v4.05h-4.05ZM218.62 570.41h4.05v4.05h-4.05ZM229.88 590.47h4.05v4.05h-4.05ZM241.14 611.04h4.05v4.05h-4.05ZM252.41 630.87h4.05v4.05h-4.05ZM263.67 650.06h4.05v4.05h-4.05ZM274.93 670.18h4.05v4.05h-4.05ZM286.19 688.98h4.05v4.05h-4.05ZM297.45 707.28h4.05v4.05h-4.05ZM308.72 722.78h4.05v4.05h-4.05ZM319.98 734.98h4.05v4.05h-4.05ZM331.24 742.88h4.05v4.05h-4.05ZM342.50 742.38h4.05v4.05h-4.05ZM353.76 735.78h4.05v4.05h-4.05ZM365.03 723.88h4.05v4.05h-4.05ZM376.29 710.88h4.05v4.05h-4.05ZM387.55 699.58h4.05v4.05h-4.05ZM398.81 692.08h4.05v4.05h-4.05ZM410.07 691.28h4.05v4.05h-4.05ZM421.34 694.88h4.05v4.05h-4.05ZM432.60 700.78h4.05v4.05h-4.05ZM443.86 709.08h4.05v4.05h-4.05ZM455.12 719.18h4.05v4.05h-4.05ZM466.38 729.88h4.05v4.05h-4.05ZM477.65 740.58h4.05v4.05h-4.05ZM488.91 751.78h4.05v4.05h-4.05ZM500.17 762.38h4.05v4.05h-4.05ZM511.43 773.58h4.05v4.05h-4.05ZM522.69 783.48h4.05v4.05h-4.05ZM533.96 793.48h4.05v4.05h-4.05ZM545.22 802.78h4.05v4.05h-4.05ZM556.48 811.88h4.05v4.05h-4.05ZM567.74 819.88h4.05v4.05h-4.05ZM579.00 827.28h4.05v4.05h-4.05ZM590.27 832.68h4.05v4.05h-4.05ZM601.53 837.48h4.05v4.05h-4.05ZM612.79 842.08h4.05v4.05h-4.05ZM624.05 843.28h4.05v4.05h-4.05ZM635.31 840.98h4.05v4.05h-4.05ZM646.58 833.78h4.05v4.05h-4.05Z" fill="#000000"/>
<polyline points="130.0,445.9 131.0,447.7 132.0,449.5 133.0,451.3 134.0,453.1 135.0,454.9 136.0,456.7 137.0,458.5 138.0,460.3 139.0,462.1 140.0,463.9 141.0,465.7 142.0,467.5 143.0,469.3 144.0,471.1 145.0,472.9 146.0,474.7 147.0,476.5 148.0,478.3 149.0,480.1 150.0,481.9 151.0,483.7 152.0,485.5 153.0,487.3 154.0,489.1 155.0,490.9 156.0,492.7 157.0,494.5 158.0,496.3 159.0,498.1 160.0,499.9 161.0,501.7 162.0,503.5 163.0,505.2 164.0,507.0 165.0,508.8 166.0,510.6 167.0,512.4 168.0,514.2 169.0,516.0 170.0,517.8 171.0,519.6 172.0,521.4 173.0,523.2 174.0,524.9 175.0,526.7 176.0,528.5 177.0,530.3 178.0,532.1 179.0,533.9 180.0,535.7 181.0,537.5 182.0,539.2 183.0,541.0 184.0,542.8 185.0,544.6 186.0,546.4 187.0,548.2 188.0,550.0 189.0,551.7 190.0,553.5 191.0,555.3 192.0,557.1 193.0,558.8 194.0,560.6 195.0,562.4 196.0,564.2 197.0,566.0 198.0,567.8 199.0,569.6 200.0,571.4 201.0,573.2 202.0,575.0 203.0,576.9 204.0,578.7 205.0,580.5 206.0,582.3 207.0,584.1 208.0,585.9 209.0,587.7 210.0,589.4 211.0,591.1 212.0,592.8 213.0,594.5 214.0,596.1 215.0,597.8 216.0,599.4 217.0,601.1 218.0,602.8 219.0,604.5 220.0,606.2 221.0,607.9 222.0,609.7 223.0,611.4 224.0,613.2 225.0,615.0 226.0,616.8 227.0,618.6 228.0,620.5 229.0,622.3 230.0,624.1 231.0,625.9 232.0,627.7 233.0,629.4 234.0,631.2 235.0,633.0 236.0,634.8 237.0,636.6 238.0,638.3 239.0,640.1 240.0,641.9 241.0,643.6 242.0,645.4 243.0,647.1 244.0,648.9 245.0,650.7 246.0,652.4 247.0,654.2 248.0,655.9 249.0,657.7 250.0,659.4 251.0,661.1 252.0,662.9 253.0,664.6 254.0,666.3 255.0,668.0 256.0,669.7 257.0,671.4 258.0,673.1 259.0,674.8 260.0,676.5 261.0,678.1 262.0,679.8 263.0,681.5 264.0,683.1 265.0,684.8 266.0,686.4 267.0,688.0 268.0,689.7 269.0,691.3 270.0,692.9 271.0,694.6 272.0,696.2 273.0,697.8 274.0,699.4 275.0,701.0 276.0,702.5 277.0,704.1 278.0,705.6 279.0,707.2 280.0,708.7 281.0,710.3 282.0,711.8 283.0,713.3 284.0,714.8 285.0,716.2 286.0,717.6 287.0,719.0 288.0,720.2 289.0,721.5 290.0,722.7 291.0,723.8 292.0,725.0 293.0,726.1 294.0,727.2 295.0,728.3 296.0,729.3 297.0,730.2 298.0,731.2 299.0,732.0 300.0,732.8 301.0,733.7 302.0,734.5 303.0,735.4 304.0,736.2 305.0,737.0 306.0,737.8 307.0,738.4 308.0,738.9 309.0,739.3 310.0,739.5 311.0,739.6 312.0,739.6 313.0,739.5 314.0,739.5 315.0,739.4 316.0,739.3 317.0,739.1 318.0,739.0 319.0,738.8 320.0,738.7 321.0,738.5 322.0,738.3 323.0,738.0 324.0,737.7 325.0,737.2 326.0,736.6 327.0,736.0 328.0,735.3 329.0,734.6 330.0,733.8 331.0,733.0 332.0,732.2 333.0,731.4 334.0,730.6 335.0,729.8 336.0,728.9 337.0,727.9 338.0,726.9 339.0,725.9 340.0,724.8 341.0,723.8 342.0,722.7 343.0,721.6 344.0,720.6 345.0,719.5 346.0,718.4 347.0,717.3 348.0,716.2 349.0,715.0 350.0,713.9 351.0,712.7 352.0,711.6 353.0,710.5 354.0,709.4 355.0,708.4 356.0,707.4 357.0,706.4 358.0,705.4 359.0,704.5 360.0,703.5 361.0,702.6 362.0,701.7 363.0,700.8 364.0,700.0 365.0,699.2 366.0,698.5 367.0,697.8 368.0,697.2 369.0,696.5 370.0,695.8 371.0,695.1 372.0,694.5 373.0,693.9 374.0,693.3 375.0,692.8 376.0,692.5 377.0,692.2 378.0,692.1 379.0,692.1 380.0,692.1 381.0,692.1 382.0,692.1 383.0,692.1 384.0,692.1 385.0,692.1 386.0,692.1 387.0,692.1 388.0,692.1 389.0,692.1 390.0,692.1 391.0,692.2 392.0,692.3 393.0,692.5 394.0,692.7 395.0,693.0 396.0,693.3 397.0,693.7 398.0,694.0 399.0,694.4 400.0,694.8 401.0,695.2 402.0,695.6 403.0,696.0 404.0,696.5 405.0,697.1 406.0,697.7 407.0,698.3 408.0,698.9 409.0,699.6 410.0,700.3 411.0,701.0 412.0,701.6 413.0,702.3 414.0,703.0 415.0,703.8 416.0,704.6 417.0,705.3 418.0,706.1 419.0,707.0 420.0,707.8 421.0,708.6 422.0,709.5 423.0,710.3 424.0,711.1 425.0,712.0 426.0,712.8 427.0,713.7 428.0,714.6 429.0,715.5 430.0,716.4 431.0,717.3 432.0,718.2 433.0,719.0 434.0,719.9 435.0,720.8 436.0,721.7 437.0,722.6 438.0,723.5 439.0,724.4 440.0,725.3 441.0,726.2 442.0,727.1 443.0,728.0 444.0,728.9 445.0,729.9 446.0,730.8 447.0,731.8 448.0,732.7 449.0,733.7 450.0,734.7 451.0,735.8 452.0,736.8 453.0,737.8 454.0,738.8 455.0,739.8 456.0,740.8 457.0,741.8 458.0,742.7 459.0,743.7 460.0,744.6 461.0,745.6 462.0,746.5 463.0,747.4 464.0,748.3 465.0,749.3 466.0,750.2 467.0,751.2 468.0,752.1 469.0,753.1 470.0,754.0 471.0,755.0 472.0,756.0 473.0,757.0 474.0,758.0 475.0,759.0 476.0,760.0 477.0,761.0 478.0,762.0 479.0,763.0 480.0,763.9 481.0,764.8 482.0,765.8 483.0,766.7 484.0,767.6 485.0,768.5 486.0,769.4 487.0,770.3 488.0,771.2 489.0,772.1 490.0,773.0 491.0,774.0 492.0,774.9 493.0,775.9 494.0,776.9 495.0,777.9 496.0,778.9 497.0,779.9 498.0,780.8 499.0,781.8 500.0,782.8 501.0,783.7 502.0,784.6 503.0,785.5 504.0,786.4 505.0,787.2 506.0,788.0 507.0,788.8 508.0,789.6 509.0,790.4 510.0,791.2 511.0,792.0 512.0,792.8 513.0,793.6 514.0,794.5 515.0,795.3 516.0,796.2 517.0,797.1 518.0,798.0 519.0,798.9 520.0,799.8 521.0,800.7 522.0,801.6 523.0,802.5 524.0,803.4 525.0,804.2 526.0,805.1 527.0,805.9 528.0,806.7 529.0,807.6 530.0,808.4 531.0,809.2 532.0,810.0 533.0,810.8 534.0,811.6 535.0,812.4 536.0,813.1 537.0,813.9 538.0,814.6 539.0,815.3 540.0,816.0 541.0,816.8 542.0,817.5 543.0,818.2 544.0,818.9 545.0,819.5 546.0,820.2 547.0,820.9 548.0,821.6 549.0,822.3 550.0,823.0 551.0,823.7 552.0,824.4 553.0,825.1 554.0,825.8 555.0,826.4 556.0,827.1 557.0,827.7 558.0,828.4 559.0,829.0 560.0,829.6 561.0,830.2 562.0,830.8 563.0,831.4 564.0,832.0 565.0,832.6 566.0,833.2 567.0,833.8 568.0,834.3 569.0,834.9 570.0,835.4 571.0,836.0 572.0,836.5 573.0,837.1 574.0,837.6 575.0,838.1 576.0,838.7 577.0,839.2 578.0,839.7 579.0,840.2 580.0,840.6 581.0,841.1 582.0,841.5 583.0,842.0 584.0,842.4 585.0,842.9 586.0,843.3 587.0,843.8 588.0,844.2 589.0,844.5 590.0,844.9 591.0,845.2 592.0,845.4 593.0,845.6 594.0,845.8 595.0,846.0 596.0,846.1 597.0,846.2 598.0,846.4 599.0,846.5 600.0,846.6 601.0,846.8 602.0,846.9 603.0,847.1 604.0,847.3 605.0,847.6 606.0,847.9 607.0,848.3 608.0,848.7 609.0,849.2 610.0,849.6 611.0,850.0 612.0,850.4 613.0,850.7 614.0,850.9 615.0,851.1 616.0,851.3 617.0,851.4 618.0,851.5 619.0,851.6 620.0,851.7 621.0,851.8 622.0,851.9 623.0,852.0 624.0,852.1 625.0,852.1 626.0,852.2 627.0,852.3 628.0,852.3 629.0,852.4 630.0,852.4 631.0,852.5 632.0,852.5 633.0,852.6 634.0,852.6 635.0,852.6 636.0,852.7 637.0,852.7 638.0,852.7 639.0,852.7 640.0,852.8 641.0,852.8 642.0,852.8 643.0,852.8 644.0,852.8 645.0,852.9 646.0,852.9 647.0,852.9 648.0,852.9 649.0,852.9 650.0,852.9 651.0,852.9 652.0,852.9 653.0,852.9 654.0,852.9 655.0,852.8" stroke="#ffb2b2" stroke-width="1.0" fill="none"/>
<path d="M184.34 547.92a2.52 2.52 0 1 0 5.04 0a2.52 2.52 0 1 0 -5.04 0ZM195.60 567.97a2.52 2.52 0 1 0 5.04 0a2.52 2.52 0 1 0 -5.04 0ZM206.86 588.32a2.52 2.52 0 1 0 5.04 0a2.52 2.52 0 1 0 -5.04 0ZM218.12 607.28a2.52 2.52 0 1 0 5.04 0a2.52 2.52 0 1 0 -5.04 0ZM229.39 627.49a2.52 2.52 0 1 0 5.04 0a2.52 2.52 0 1 0 -5.04 0ZM240.65 647.44a2.52 2.52 0 1 0 5.04 0a2.52 2.52 0 1 0 -5.04 0ZM251.91 667.05a2.52 2.52 0 1 0 5.04 0a2.52 2.52 0 1 0 -5.04 0ZM263.17 685.89a2.52 2.52 0 1 0 5.04 0a2.52 2.52 0 1 0 -5.04 0ZM274.43 704.00a2.52 2.52 0 1 0 5.04 0a2.52 2.52 0 1 0 -5.04 0ZM285.70 720.50a2.52 2.52 0 1 0 5.04 0a2.52 2.52 0 1 0 -5.04 0ZM296.96 732.40a2.52 2.52 0 1 0 5.04 0a2.52 2.52 0 1 0 -5.04 0ZM308.22 739.60a2.52 2.52 0 1 0 5.04 0a2.52 2.52 0 1 0 -5.04 0ZM319.48 738.30a2.52 2.52 0 1 0 5.04 0a2.52 2.52 0 1 0 -5.04 0ZM330.74 731.20a2.52 2.52 0 1 0 5.04 0a2.52 2.52 0 1 0 -5.04 0ZM342.01 720.00a2.52 2.52 0 1 0 5.04 0a2.52 2.52 0 1 0 -5.04 0ZM353.27 707.60a2.52 2.52 0 1 0 5.04 0a2.52 2.52 0 1 0 -5.04 0ZM364.53 697.80a2.52 2.52 0 1 0 5.04 0a2.52 2.52 0 1 0 -5.04 0ZM375.79 692.10a2.52 2.52 0 1 0 5.04 0a2.52 2.52 0 1 0 -5.04 0ZM387.05 692.10a2.52 2.52 0 1 0 5.04 0a2.52 2.52 0 1 0 -5.04 0ZM398.32 695.10a2.52 2.52 0 1 0 5.04 0a2.52 2.52 0 1 0 -5.04 0ZM409.58 701.70a2.52 2.52 0 1 0 5.04 0a2.52 2.52 0 1 0 -5.04 0ZM420.84 710.60a2.52 2.52 0 1 0 5.04 0a2.52 2.52 0 1 0 -5.04 0ZM432.10 720.50a2.52 2.52 0 1 0 5.04 0a2.52 2.52 0 1 0 -5.04 0ZM443.36 730.70a2.52 2.52 0 1 0 5.04 0a2.52 2.52 0 1 0 -5.04 0ZM454.63 741.90a2.52 2.52 0 1 0 5.04 0a2.52 2.52 0 1 0 -5.04 0ZM465.89 752.50a2.52 2.52 0 1 0 5.04 0a2.52 2.52 0 1 0 -5.04 0ZM477.15 763.60a2.52 2.52 0 1 0 5.04 0a2.52 2.52 0 1 0 -5.04 0ZM488.41 773.90a2.52 2.52 0 1 0 5.04 0a2.52 2.52 0 1 0 -5.04 0ZM499.67 784.80a2.52 2.52 0 1 0 5.04 0a2.52 2.52 0 1 0 -5.04 0ZM510.94 794.00a2.52 2.52 0 1 0 5.04 0a2.52 2.52 0 1 0 -5.04 0ZM522.20 804.00a2.52 2.52 0 1 0 5.04 0a2.52 2.52 0 1 0 -5.04 0ZM533.46 813.10a2.52 2.52 0 1 0 5.04 0a2.52 2.52 0 1 0 -5.04 0ZM544.72 821.10a2.52 2.52 0 1 0 5.04 0a2.52 2.52 0 1 0 -5.04 0ZM555.98 828.70a2.52 2.52 0 1 0 5.04 0a2.52 2.52 0 1 0 -5.04 0ZM567.25 835.30a2.52 2.52 0 1 0 5.04 0a2.52 2.52 0 1 0 -5.04 0ZM578.51 841.10a2.52 2.52 0 1 0 5.04 0a2.52 2.52 0 1 0 -5.04 0ZM589.77 845.50a2.52 2.52 0 1 0 5.04 0a2.52 2.52 0 1 0 -5.04 0ZM601.03 847.20a2.52 2.52 0 1 0 5.04 0a2.52 2.52 0 1 0 -5.04 0ZM612.29 851.10a2.52 2.52 0 1 0 5.04 0a2.52 2.52 0 1 0 -5.04 0ZM623.56 852.20a2.52 2.52 0 1 0 5.04 0a2.52 2.52 0 1 0 -5.04 0ZM634.82 852.70a2.52 2.52 0 1 0 5.04 0a2.52 2.52 0 1 0 -5.04 0ZM646.08 852.90a2.52 2.52 0 1 0 5.04 0a2.52 2.52 0 1 0 -5.04 0Z" fill="#ff0000"/>
<polyline points="120.0,464.0 121.0,465.8 122.0,467.6 123.0,469.4 124.0,471.3 125.0,473.1 126.0,474.9 127.0,476.7 128.0,478.6 129.0,480.4 130.0,482.2 131.0,484.0 132.0,485.8 133.0,487.6 134.0,489.4 135.0,491.2 136.0,493.1 137.0,494.9 138.0,496.7 139.0,498.5 140.0,500.3 141.0,502.1 142.0,503.9 143.0,505.7 144.0,507.5 145.0,509.3 146.0,511.1 147.0,512.9 148.0,514.6 149.0,516.4 150.0,518.2 151.0,520.0 152.0,521.8 153.0,523.6 154.0,525.4 155.0,527.2 156.0,528.9 157.0,530.7 158.0,532.5 159.0,534.3 160.0,536.1 161.0,537.8 162.0,539.6 163.0,541.4 164.0,543.2 165.0,544.9 166.0,546.7 167.0,548.5 168.0,550.3 169.0,552.0 170.0,553.8 171.0,555.6 172.0,557.3 173.0,559.1 174.0,560.9 175.0,562.6 176.0,564.4 177.0,566.2 178.0,567.9 179.0,569.7 180.0,571.4 181.0,573.2 182.0,574.9 183.0,576.6 184.0,578.4 185.0,580.1 186.0,581.9 187.0,583.7 188.0,585.4 189.0,587.2 190.0,589.0 191.0,590.8 192.0,592.6 193.0,594.4 194.0,596.2 195.0,597.9 196.0,599.7 197.0,601.5 198.0,603.3 199.0,605.1 200.0,606.8 201.0,608.6 202.0,610.3 203.0,612.1 204.0,613.8 205.0,615.6 206.0,617.3 207.0,619.1 208.0,620.8 209.0,622.5 210.0,624.3 211.0,626.0 212.0,627.7 213.0,629.4 214.0,631.1 215.0,632.8 216.0,634.5 217.0,636.2 218.0,637.9 219.0,639.6 220.0,641.4 221.0,643.1 222.0,644.9 223.0,646.7 224.0,648.5 225.0,650.3 226.0,652.2 227.0,654.0 228.0,655.8 229.0,657.6 230.0,659.4 231.0,661.2 232.0,663.0 233.0,664.7 234.0,666.4 235.0,668.1 236.0,669.9 237.0,671.5 238.0,673.2 239.0,674.9 240.0,676.6 241.0,678.2 242.0,679.9 243.0,681.5 244.0,683.2 245.0,684.8 246.0,686.4 247.0,688.0 248.0,689.6 249.0,691.2 250.0,692.8 251.0,694.4 252.0,695.9 253.0,697.4 254.0,699.0 255.0,700.5 256.0,702.0 257.0,703.5 258.0,705.0 259.0,706.5 260.0,707.9 261.0,709.4 262.0,710.8 263.0,712.2 264.0,713.5 265.0,714.8 266.0,716.0 267.0,717.1 268.0,718.3 269.0,719.4 270.0,720.5 271.0,721.6 272.0,722.6 273.0,723.6 274.0,724.5 275.0,725.5 276.0,726.3 277.0,727.1 278.0,728.0 279.0,728.8 280.0,729.7 281.0,730.6 282.0,731.4 283.0,732.2 284.0,732.9 285.0,733.5 286.0,733.9 287.0,734.3 288.0,734.4 289.0,734.4 290.0,734.4 291.0,734.3 292.0,734.3 293.0,734.2 294.0,734.1 295.0,734.0 296.0,733.8 297.0,733.7 298.0,733.5 299.0,733.4 300.0,733.2 301.0,732.9 302.0,732.5 303.0,731.9 304.0,731.3 305.0,730.6 306.0,729.9 307.0,729.1 308.0,728.3 309.0,727.5 310.0,726.8 311.0,726.0 312.0,725.3 313.0,724.5 314.0,723.6 315.0,722.8 316.0,721.9 317.0,721.0 318.0,720.1 319.0,719.2 320.0,718.3 321.0,717.3 322.0,716.4 323.0,715.4 324.0,714.4 325.0,713.4 326.0,712.3 327.0,711.3 328.0,710.2 329.0,709.1 330.0,708.1 331.0,707.1 332.0,706.1 333.0,705.1 334.0,704.2 335.0,703.4 336.0,702.5 337.0,701.6 338.0,700.7 339.0,699.9 340.0,699.1 341.0,698.3 342.0,697.6 343.0,696.9 344.0,696.3 345.0,695.7 346.0,695.1 347.0,694.5 348.0,693.9 349.0,693.3 350.0,692.8 351.0,692.3 352.0,691.8 353.0,691.5 354.0,691.2 355.0,691.0 356.0,691.0 357.0,691.0 358.0,691.0 359.0,691.0 360.0,691.0 361.0,691.0 362.0,691.0 363.0,691.0 364.0,691.0 365.0,691.0 366.0,691.0 367.0,691.0 368.0,691.0 369.0,691.2 370.0,691.4 371.0,691.6 372.0,692.0 373.0,692.3 374.0,692.7 375.0,693.1 376.0,693.6 377.0,694.0 378.0,694.5 379.0,694.9 380.0,695.4 381.0,695.9 382.0,696.5 383.0,697.2 384.0,697.8 385.0,698.5 386.0,699.2 387.0,699.9 388.0,700.6 389.0,701.3 390.0,702.0 391.0,702.7 392.0,703.4 393.0,704.2 394.0,705.0 395.0,705.7 396.0,706.5 397.0,707.3 398.0,708.1 399.0,708.9 400.0,709.7 401.0,710.5 402.0,711.3 403.0,712.2 404.0,713.0 405.0,713.8 406.0,714.7 407.0,715.5 408.0,716.4 409.0,717.3 410.0,718.1 411.0,719.0 412.0,719.9 413.0,720.8 414.0,721.7 415.0,722.7 416.0,723.6 417.0,724.6 418.0,725.5 419.0,726.5 420.0,727.5 421.0,728.4 422.0,729.4 423.0,730.4 424.0,731.3 425.0,732.2 426.0,733.2 427.0,734.1 428.0,735.1 429.0,736.0 430.0,736.9 431.0,737.9 432.0,738.8 433.0,739.8 434.0,740.7 435.0,741.7 436.0,742.6 437.0,743.6 438.0,744.5 439.0,745.5 440.0,746.4 441.0,747.4 442.0,748.3 443.0,749.3 444.0,750.2 445.0,751.2 446.0,752.1 447.0,753.0 448.0,754.0 449.0,754.9 450.0,755.8 451.0,756.7 452.0,757.7 453.0,758.6 454.0,759.5 455.0,760.4 456.0,761.3 457.0,762.3 458.0,763.2 459.0,764.1 460.0,765.0 461.0,766.0 462.0,766.9 463.0,767.8 464.0,768.7 465.0,769.6 466.0,770.6 467.0,771.5 468.0,772.4 469.0,773.4 470.0,774.3 471.0,775.2 472.0,776.2 473.0,777.1 474.0,778.1 475.0,779.0 476.0,780.0 477.0,780.9 478.0,781.8 479.0,782.7 480.0,783.6 481.0,784.5 482.0,785.3 483.0,786.2 484.0,787.0 485.0,787.8 486.0,788.7 487.0,789.5 488.0,790.3 489.0,791.2 490.0,792.0 491.0,792.9 492.0,793.7 493.0,794.6 494.0,795.5 495.0,796.4 496.0,797.3 497.0,798.2 498.0,799.0 499.0,799.9 500.0,800.8 501.0,801.6 502.0,802.4 503.0,803.2 504.0,804.0 505.0,804.8 506.0,805.6 507.0,806.3 508.0,807.1 509.0,807.8 510.0,808.5 511.0,809.3 512.0,810.0 513.0,810.8 514.0,811.5 515.0,812.3 516.0,813.0 517.0,813.8 518.0,814.6 519.0,815.3 520.0,816.1 521.0,816.8 522.0,817.6 523.0,818.3 524.0,819.1 525.0,819.8 526.0,820.5 527.0,821.3 528.0,822.0 529.0,822.8 530.0,823.5 531.0,824.2 532.0,824.9 533.0,825.6 534.0,826.3 535.0,827.0 536.0,827.6 537.0,828.2 538.0,828.8 539.0,829.4 540.0,829.9 541.0,830.5 542.0,831.0 543.0,831.5 544.0,832.1 545.0,832.6 546.0,833.2 547.0,833.8 548.0,834.4 549.0,835.0 550.0,835.6 551.0,836.3 552.0,837.0 553.0,837.7 554.0,838.3 555.0,839.0 556.0,839.6 557.0,840.2 558.0,840.7 559.0,841.2 560.0,841.7 561.0,842.2 562.0,842.6 563.0,843.0 564.0,843.4 565.0,843.8 566.0,844.2 567.0,844.6 568.0,845.0 569.0,845.5 570.0,845.9 571.0,846.4 572.0,846.8 573.0,847.3 574.0,847.8 575.0,848.3 576.0,848.8 577.0,849.3 578.0,849.8 579.0,850.2 580.0,850.6 581.0,851.0 582.0,851.3 583.0,851.7 584.0,852.0 585.0,852.3 586.0,852.7 587.0,853.0 588.0,853.2 589.0,853.5 590.0,853.7 591.0,854.0 592.0,854.2 593.0,854.3 594.0,854.5 595.0,854.6 596.0,854.7 597.0,854.8 598.0,854.9 599.0,855.0 600.0,855.1 601.0,855.2 602.0,855.3 603.0,855.4 604.0,855.6 605.0,855.7 606.0,855.9 607.0,856.1 608.0,856.3 609.0,856.6 610.0,856.8 611.0,857.0 612.0,857.2 613.0,857.4 614.0,857.6 615.0,857.8 616.0,858.0 617.0,858.2 618.0,858.4 619.0,858.5 620.0,858.7 621.0,858.8 622.0,859.0 623.0,859.1 624.0,859.3 625.0,859.4 626.0,859.6 627.0,859.7 628.0,859.9 629.0,860.0 630.0,860.1 631.0,860.2 632.0,860.4 633.0,860.5 634.0,860.6 635.0,860.8 636.0,860.9 637.0,861.0 638.0,861.2 639.0,861.4 640.0,861.5 641.0,861.7 642.0,861.9 643.0,862.1 644.0,862.3 645.0,862.5 646.0,862.7 647.0,862.9 648.0,863.1 649.0,863.3 650.0,863.5 651.0,863.7 652.0,863.9 653.0,864.2 654.0,864.4 655.0,864.6" stroke="#b2ffb2" stroke-width="1.0" fill="none"/>
<path d="M175.60 560.34L179.12 566.26L172.08 566.26ZM186.86 580.04L190.38 585.96L183.34 585.96ZM198.12 600.14L201.64 606.06L194.60 606.06ZM209.38 619.84L212.90 625.76L205.86 625.76ZM220.64 639.14L224.16 645.06L217.12 645.06ZM231.91 659.44L235.43 665.36L228.39 665.36ZM243.17 678.44L246.69 684.36L239.65 684.36ZM254.43 696.24L257.95 702.16L250.91 702.16ZM265.69 712.24L269.21 718.16L262.17 718.16ZM276.95 723.74L280.47 729.66L273.43 729.66ZM288.22 731.04L291.74 736.96L284.70 736.96ZM299.48 729.94L303.00 735.86L295.96 735.86ZM310.74 722.84L314.26 728.76L307.22 728.76ZM322.00 713.04L325.52 718.96L318.48 718.96ZM333.26 701.54L336.78 707.46L329.74 707.46ZM344.53 692.64L348.05 698.56L341.01 698.56ZM355.79 687.64L359.31 693.56L352.27 693.56ZM367.05 687.64L370.57 693.56L363.53 693.56ZM378.31 691.24L381.83 697.16L374.79 697.16ZM389.57 698.34L393.09 704.26L386.05 704.26ZM400.84 707.04L404.36 712.96L397.32 712.96ZM412.10 716.64L415.62 722.56L408.58 722.56ZM423.36 727.34L426.88 733.26L419.84 733.26ZM434.62 737.94L438.14 743.86L431.10 743.86ZM445.88 748.64L449.40 754.56L442.36 754.56ZM457.15 759.04L460.67 764.96L453.63 764.96ZM468.41 769.44L471.93 775.36L464.89 775.36ZM479.67 779.94L483.19 785.86L476.15 785.86ZM490.93 789.44L494.45 795.36L487.41 795.36ZM502.19 799.24L505.71 805.16L498.67 805.16ZM513.46 807.74L516.98 813.66L509.94 813.66ZM524.72 816.24L528.24 822.16L521.20 822.16ZM535.98 824.24L539.50 830.16L532.46 830.16ZM547.24 830.54L550.76 836.46L543.72 836.46ZM558.50 837.64L562.02 843.56L554.98 843.56ZM569.77 842.44L573.29 848.36L566.25 848.36ZM581.03 847.64L584.55 853.56L577.51 853.56ZM592.29 850.84L595.81 856.76L588.77 856.76ZM603.55 852.14L607.07 858.06L600.03 858.06ZM614.81 854.44L618.33 860.36L611.29 860.36ZM626.08 856.24L629.60 862.16L622.56 862.16ZM637.34 857.74L640.86 863.66L633.82 863.66ZM648.60 859.84L652.12 865.76L645.08 865.76Z" fill="#00ff00"/>
<polyline points="100.0,471.7 101.0,473.5 102.0,475.3 103.0,477.1 104.0,478.9 105.0,480.7 106.0,482.5 107.0,484.3 108.0,486.1 109.0,487.9 110.0,489.7 111.0,491.5 112.0,493.3 113.0,495.1 114.0,496.9 115.0,498.7 116.0,500.5 117.0,502.3 118.0,504.1 119.0,505.8 120.0,507.6 121.0,509.4 122.0,511.2 123.0,513.0 124.0,514.8 125.0,516.6 126.0,518.4 127.0,520.2 128.0,522.0 129.0,523.8 130.0,525.6 131.0,527.4 132.0,529.1 133.0,530.9 134.0,532.7 135.0,534.5 136.0,536.3 137.0,538.1 138.0,539.9 139.0,541.7 140.0,543.5 141.0,545.3 142.0,547.0 143.0,548.8 144.0,550.6 145.0,552.4 146.0,554.2 147.0,555.9 148.0,557.7 149.0,559.5 150.0,561.3 151.0,563.1 152.0,564.9 153.0,566.7 154.0,568.5 155.0,570.3 156.0,572.2 157.0,574.0 158.0,575.9 159.0,577.7 160.0,579.6 161.0,581.4 162.0,583.3 163.0,585.1 164.0,586.9 165.0,588.7 166.0,590.5 167.0,592.2 168.0,594.0 169.0,595.7 170.0,597.4 171.0,599.2 172.0,600.9 173.0,602.6 174.0,604.4 175.0,606.1 176.0,607.9 177.0,609.7 178.0,611.5 179.0,613.3 180.0,615.2 181.0,617.0 182.0,618.8 183.0,620.7 184.0,622.5 185.0,624.3 186.0,626.1 187.0,627.9 188.0,629.6 189.0,631.4 190.0,633.1 191.0,634.8 192.0,636.6 193.0,638.3 194.0,640.0 195.0,641.7 196.0,643.4 197.0,645.2 198.0,646.9 199.0,648.6 200.0,650.4 201.0,652.1 202.0,653.9 203.0,655.6 204.0,657.4 205.0,659.1 206.0,660.9 207.0,662.6 208.0,664.3 209.0,666.1 210.0,667.7 211.0,669.4 212.0,671.1 213.0,672.8 214.0,674.5 215.0,676.2 216.0,677.9 217.0,679.5 218.0,681.1 219.0,682.7 220.0,684.3 221.0,685.8 222.0,687.3 223.0,688.8 224.0,690.3 225.0,691.7 226.0,693.1 227.0,694.5 228.0,695.9 229.0,697.3 230.0,698.7 231.0,700.0 232.0,701.4 233.0,702.9 234.0,704.3 235.0,705.8 236.0,707.2 237.0,708.7 238.0,710.1 239.0,711.5 240.0,712.9 241.0,714.2 242.0,715.5 243.0,716.6 244.0,717.7 245.0,718.8 246.0,719.9 247.0,721.0 248.0,722.0 249.0,723.0 250.0,723.9 251.0,724.8 252.0,725.6 253.0,726.3 254.0,726.9 255.0,727.4 256.0,727.9 257.0,728.4 258.0,728.9 259.0,729.3 260.0,729.7 261.0,730.1 262.0,730.4 263.0,730.7 264.0,730.9 265.0,731.0 266.0,731.0 267.0,730.9 268.0,730.8 269.0,730.5 270.0,730.2 271.0,729.8 272.0,729.4 273.0,729.0 274.0,728.5 275.0,728.0 276.0,727.6 277.0,727.1 278.0,726.6 279.0,726.0 280.0,725.3 281.0,724.6 282.0,723.9 283.0,723.1 284.0,722.3 285.0,721.5 286.0,720.7 287.0,719.8 288.0,719.0 289.0,718.1 290.0,717.2 291.0,716.3 292.0,715.4 293.0,714.4 294.0,713.4 295.0,712.4 296.0,711.4 297.0,710.5 298.0,709.5 299.0,708.5 300.0,707.6 301.0,706.7 302.0,705.7 303.0,704.7 304.0,703.8 305.0,702.8 306.0,701.9 307.0,701.0 308.0,700.1 309.0,699.3 310.0,698.6 311.0,697.9 312.0,697.3 313.0,696.6 314.0,696.0 315.0,695.4 316.0,694.8 317.0,694.3 318.0,693.8 319.0,693.3 320.0,693.0 321.0,692.6 322.0,692.4 323.0,692.2 324.0,692.0 325.0,691.8 326.0,691.7 327.0,691.5 328.0,691.4 329.0,691.2 330.0,691.2 331.0,691.1 332.0,691.0 333.0,691.0 334.0,691.0 335.0,691.1 336.0,691.3 337.0,691.5 338.0,691.7 339.0,692.0 340.0,692.3 341.0,692.6 342.0,693.0 343.0,693.4 344.0,693.7 345.0,694.1 346.0,694.5 347.0,694.9 348.0,695.4 349.0,695.9 350.0,696.5 351.0,697.1 352.0,697.7 353.0,698.2 354.0,698.8 355.0,699.4 356.0,700.0 357.0,700.6 358.0,701.2 359.0,701.8 360.0,702.4 361.0,703.0 362.0,703.6 363.0,704.3 364.0,704.9 365.0,705.6 366.0,706.3 367.0,707.0 368.0,707.7 369.0,708.5 370.0,709.3 371.0,710.1 372.0,710.9 373.0,711.8 374.0,712.6 375.0,713.5 376.0,714.4 377.0,715.3 378.0,716.1 379.0,717.0 380.0,717.9 381.0,718.8 382.0,719.7 383.0,720.6 384.0,721.5 385.0,722.4 386.0,723.3 387.0,724.2 388.0,725.1 389.0,726.1 390.0,727.0 391.0,727.9 392.0,728.9 393.0,729.8 394.0,730.7 395.0,731.7 396.0,732.6 397.0,733.6 398.0,734.5 399.0,735.5 400.0,736.4 401.0,737.4 402.0,738.3 403.0,739.3 404.0,740.2 405.0,741.2 406.0,742.1 407.0,743.1 408.0,744.0 409.0,745.0 410.0,745.9 411.0,746.9 412.0,747.8 413.0,748.7 414.0,749.7 415.0,750.6 416.0,751.5 417.0,752.4 418.0,753.3 419.0,754.2 420.0,755.1 421.0,756.0 422.0,756.9 423.0,757.9 424.0,758.8 425.0,759.7 426.0,760.7 427.0,761.6 428.0,762.5 429.0,763.5 430.0,764.4 431.0,765.3 432.0,766.3 433.0,767.2 434.0,768.1 435.0,769.0 436.0,770.0 437.0,770.9 438.0,771.8 439.0,772.7 440.0,773.6 441.0,774.5 442.0,775.4 443.0,776.3 444.0,777.2 445.0,778.1 446.0,779.0 447.0,779.9 448.0,780.9 449.0,781.8 450.0,782.7 451.0,783.7 452.0,784.6 453.0,785.6 454.0,786.5 455.0,787.4 456.0,788.3 457.0,789.2 458.0,790.0 459.0,790.9 460.0,791.7 461.0,792.5 462.0,793.3 463.0,794.1 464.0,794.9 465.0,795.7 466.0,796.5 467.0,797.3 468.0,798.2 469.0,799.0 470.0,799.8 471.0,800.7 472.0,801.6 473.0,802.4 474.0,803.3 475.0,804.2 476.0,805.1 477.0,805.9 478.0,806.7 479.0,807.6 480.0,808.4 481.0,809.1 482.0,809.9 483.0,810.7 484.0,811.4 485.0,812.1 486.0,812.9 487.0,813.6 488.0,814.3 489.0,815.1 490.0,815.8 491.0,816.6 492.0,817.3 493.0,818.1 494.0,818.9 495.0,819.7 496.0,820.4 497.0,821.2 498.0,822.0 499.0,822.8 500.0,823.5 501.0,824.2 502.0,825.0 503.0,825.7 504.0,826.3 505.0,827.0 506.0,827.7 507.0,828.3 508.0,828.9 509.0,829.6 510.0,830.2 511.0,830.8 512.0,831.5 513.0,832.1 514.0,832.7 515.0,833.4 516.0,834.0 517.0,834.6 518.0,835.3 519.0,835.9 520.0,836.5 521.0,837.2 522.0,837.8 523.0,838.4 524.0,839.0 525.0,839.7 526.0,840.3 527.0,841.0 528.0,841.7 529.0,842.3 530.0,843.0 531.0,843.7 532.0,844.3 533.0,845.0 534.0,845.6 535.0,846.2 536.0,846.7 537.0,847.2 538.0,847.7 539.0,848.2 540.0,848.7 541.0,849.1 542.0,849.5 543.0,850.0 544.0,850.4 545.0,850.8 546.0,851.3 547.0,851.7 548.0,852.1 549.0,852.6 550.0,853.0 551.0,853.5 552.0,853.9 553.0,854.4 554.0,854.8 555.0,855.2 556.0,855.6 557.0,856.0 558.0,856.4 559.0,856.8 560.0,857.1 561.0,857.4 562.0,857.8 563.0,858.1 564.0,858.4 565.0,858.7 566.0,858.9 567.0,859.2 568.0,859.5 569.0,859.8 570.0,860.1 571.0,860.4 572.0,860.6 573.0,860.9 574.0,861.2 575.0,861.5 576.0,861.8 577.0,862.0 578.0,862.3 579.0,862.5 580.0,862.8 581.0,863.0 582.0,863.2 583.0,863.4 584.0,863.7 585.0,863.9 586.0,864.2 587.0,864.4 588.0,864.6 589.0,864.7 590.0,864.9 591.0,865.0 592.0,865.0 593.0,865.0 594.0,865.0 595.0,864.9 596.0,864.9 597.0,864.8 598.0,864.7 599.0,864.7 600.0,864.6 601.0,864.6 602.0,864.5 603.0,864.5 604.0,864.5 605.0,864.6 606.0,864.7 607.0,864.9 608.0,865.2 609.0,865.5 610.0,865.7 611.0,866.0 612.0,866.3 613.0,866.5 614.0,866.7 615.0,866.8 616.0,866.9 617.0,867.0 618.0,867.0 619.0,867.1 620.0,867.2 621.0,867.2 622.0,867.3 623.0,867.3 624.0,867.4 625.0,867.4 626.0,867.5 627.0,867.6 628.0,867.7 629.0,867.8 630.0,867.8 631.0,867.9 632.0,868.0 633.0,868.1 634.0,868.2 635.0,868.3 636.0,868.4 637.0,868.5 638.0,868.5 639.0,868.6 640.0,868.7 641.0,868.7 642.0,868.8 643.0,868.8 644.0,868.8 645.0,868.9 646.0,868.9 647.0,869.0 648.0,869.0 649.0,869.0 650.0,869.0 651.0,869.0 652.0,869.0 653.0,869.0 654.0,869.0 655.0,869.0" stroke="#b2b2ff" stroke-width="1.0" fill="none"/>
<path d="M141.81 550.06L145.33 544.14L138.29 544.14ZM153.07 570.16L156.59 564.24L149.55 564.24ZM164.33 590.86L167.85 584.94L160.81 584.94ZM175.60 610.56L179.12 604.64L172.08 604.64ZM186.86 630.96L190.38 625.04L183.34 625.04ZM198.12 650.46L201.64 644.54L194.60 644.54ZM209.38 670.06L212.90 664.14L205.86 664.14ZM220.64 688.66L224.16 682.74L217.12 682.74ZM231.91 704.66L235.43 698.74L228.39 698.74ZM243.17 720.16L246.69 714.24L239.65 714.24ZM254.43 730.46L257.95 724.54L250.91 724.54ZM265.69 734.36L269.21 728.44L262.17 728.44ZM276.95 730.46L280.47 724.54L273.43 724.54ZM288.22 722.16L291.74 716.24L284.70 716.24ZM299.48 711.46L303.00 705.54L295.96 705.54ZM310.74 701.46L314.26 695.54L307.22 695.54ZM322.00 695.76L325.52 689.84L318.48 689.84ZM333.26 694.36L336.78 688.44L329.74 688.44ZM344.53 697.26L348.05 691.34L341.01 691.34ZM355.79 703.26L359.31 697.34L352.27 697.34ZM367.05 710.36L370.57 704.44L363.53 704.44ZM378.31 719.76L381.83 713.84L374.79 713.84ZM389.57 729.96L393.09 724.04L386.05 724.04ZM400.84 740.56L404.36 734.64L397.32 734.64ZM412.10 751.26L415.62 745.34L408.58 745.34ZM423.36 761.56L426.88 755.64L419.84 755.64ZM434.62 772.06L438.14 766.14L431.10 766.14ZM445.88 782.26L449.40 776.34L442.36 776.34ZM457.15 792.66L460.67 786.74L453.63 786.74ZM468.41 801.86L471.93 795.94L464.89 795.94ZM479.67 811.46L483.19 805.54L476.15 805.54ZM490.93 819.86L494.45 813.94L487.41 813.94ZM502.19 828.46L505.71 822.54L498.67 822.54ZM513.46 835.76L516.98 829.84L509.94 829.84ZM524.72 842.86L528.24 836.94L521.20 836.94ZM535.98 850.06L539.50 844.14L532.46 844.14ZM547.24 855.16L550.76 849.24L543.72 849.24ZM558.50 859.96L562.02 854.04L554.98 854.04ZM569.77 863.36L573.29 857.44L566.25 857.44ZM581.03 866.36L584.55 860.44L577.51 860.44ZM592.29 868.36L595.81 862.44L588.77 862.44ZM603.55 867.86L607.07 861.94L600.03 861.94ZM614.81 870.16L618.33 864.24L611.29 864.24ZM626.08 870.86L629.60 864.94L622.56 864.94ZM637.34 871.86L640.86 865.94L633.82 865.94ZM648.60 872.36L652.12 866.44L645.08 866.44Z" fill="#0000ff"/>
<polyline points="105.0,522.6 106.0,524.3 107.0,526.1 108.0,527.9 109.0,529.7 110.0,531.4 111.0,533.2 112.0,535.0 113.0,536.8 114.0,538.6 115.0,540.4 116.0,542.2 117.0,544.0 118.0,545.7 119.0,547.5 120.0,549.3 121.0,551.1 122.0,552.9 123.0,554.7 124.0,556.6 125.0,558.4 126.0,560.2 127.0,562.0 128.0,563.8 129.0,565.6 130.0,567.4 131.0,569.2 132.0,571.0 133.0,572.9 134.0,574.7 135.0,576.6 136.0,578.4 137.0,580.2 138.0,582.1 139.0,583.9 140.0,585.7 141.0,587.5 142.0,589.3 143.0,591.1 144.0,592.9 145.0,594.7 146.0,596.5 147.0,598.2 148.0,600.0 149.0,601.7 150.0,603.5 151.0,605.3 152.0,607.0 153.0,608.8 154.0,610.5 155.0,612.3 156.0,614.0 157.0,615.8 158.0,617.6 159.0,619.3 160.0,621.0 161.0,622.8 162.0,624.5 163.0,626.3 164.0,628.0 165.0,629.8 166.0,631.5 167.0,633.2 168.0,634.9 169.0,636.6 170.0,638.4 171.0,640.1 172.0,641.8 173.0,643.5 174.0,645.2 175.0,647.0 176.0,648.7 177.0,650.5 178.0,652.2 179.0,654.0 180.0,655.8 181.0,657.5 182.0,659.3 183.0,661.1 184.0,662.8 185.0,664.5 186.0,666.2 187.0,667.8 188.0,669.4 189.0,671.0 190.0,672.6 191.0,674.2 192.0,675.7 193.0,677.3 194.0,678.8 195.0,680.3 196.0,681.7 197.0,683.2 198.0,684.6 199.0,686.1 200.0,687.4 201.0,688.8 202.0,690.2 203.0,691.5 204.0,692.9 205.0,694.2 206.0,695.5 207.0,696.8 208.0,698.2 209.0,699.5 210.0,700.8 211.0,702.2 212.0,703.7 213.0,705.1 214.0,706.6 215.0,708.0 216.0,709.4 217.0,710.8 218.0,712.0 219.0,713.2 220.0,714.3 221.0,715.3 222.0,716.3 223.0,717.3 224.0,718.3 225.0,719.2 226.0,720.1 227.0,721.0 228.0,721.7 229.0,722.4 230.0,722.9 231.0,723.3 232.0,723.6 233.0,723.8 234.0,724.0 235.0,724.2 236.0,724.4 237.0,724.5 238.0,724.7 239.0,724.8 240.0,724.9 241.0,724.9 242.0,725.0 243.0,725.0 244.0,725.0 245.0,724.8 246.0,724.5 247.0,724.1 248.0,723.6 249.0,723.0 250.0,722.4 251.0,721.8 252.0,721.2 253.0,720.5 254.0,719.9 255.0,719.2 256.0,718.6 257.0,717.8 258.0,717.0 259.0,716.2 260.0,715.3 261.0,714.4 262.0,713.5 263.0,712.6 264.0,711.7 265.0,710.8 266.0,709.9 267.0,709.1 268.0,708.2 269.0,707.3 270.0,706.3 271.0,705.4 272.0,704.5 273.0,703.6 274.0,702.8 275.0,701.9 276.0,701.1 277.0,700.4 278.0,699.6 279.0,698.9 280.0,698.1 281.0,697.4 282.0,696.7 283.0,696.0 284.0,695.3 285.0,694.7 286.0,694.2 287.0,693.7 288.0,693.4 289.0,693.1 290.0,692.8 291.0,692.5 292.0,692.2 293.0,691.9 294.0,691.7 295.0,691.5 296.0,691.3 297.0,691.2 298.0,691.1 299.0,691.0 300.0,691.0 301.0,691.0 302.0,691.0 303.0,691.1 304.0,691.1 305.0,691.2 306.0,691.2 307.0,691.3 308.0,691.4 309.0,691.4 310.0,691.5 311.0,691.6 312.0,691.8 313.0,692.1 314.0,692.4 315.0,692.8 316.0,693.3 317.0,693.7 318.0,694.3 319.0,694.8 320.0,695.4 321.0,695.9 322.0,696.4 323.0,696.9 324.0,697.4 325.0,698.0 326.0,698.6 327.0,699.1 328.0,699.7 329.0,700.3 330.0,701.0 331.0,701.6 332.0,702.3 333.0,702.9 334.0,703.6 335.0,704.3 336.0,705.0 337.0,705.7 338.0,706.5 339.0,707.3 340.0,708.0 341.0,708.8 342.0,709.6 343.0,710.4 344.0,711.2 345.0,712.0 346.0,712.8 347.0,713.6 348.0,714.4 349.0,715.2 350.0,716.0 351.0,716.8 352.0,717.7 353.0,718.5 354.0,719.4 355.0,720.2 356.0,721.1 357.0,722.0 358.0,722.9 359.0,723.7 360.0,724.7 361.0,725.6 362.0,726.5 363.0,727.4 364.0,728.4 365.0,729.3 366.0,730.2 367.0,731.2 368.0,732.1 369.0,733.0 370.0,734.0 371.0,734.9 372.0,735.9 373.0,736.9 374.0,737.8 375.0,738.8 376.0,739.7 377.0,740.7 378.0,741.6 379.0,742.5 380.0,743.4 381.0,744.3 382.0,745.2 383.0,746.1 384.0,747.0 385.0,747.9 386.0,748.8 387.0,749.7 388.0,750.6 389.0,751.5 390.0,752.4 391.0,753.3 392.0,754.2 393.0,755.1 394.0,756.1 395.0,757.0 396.0,757.9 397.0,758.9 398.0,759.8 399.0,760.7 400.0,761.6 401.0,762.5 402.0,763.5 403.0,764.4 404.0,765.3 405.0,766.2 406.0,767.1 407.0,768.0 408.0,768.9 409.0,769.8 410.0,770.7 411.0,771.6 412.0,772.5 413.0,773.4 414.0,774.4 415.0,775.3 416.0,776.2 417.0,777.2 418.0,778.1 419.0,779.1 420.0,780.0 421.0,780.9 422.0,781.9 423.0,782.8 424.0,783.7 425.0,784.6 426.0,785.4 427.0,786.3 428.0,787.2 429.0,788.1 430.0,788.9 431.0,789.8 432.0,790.6 433.0,791.5 434.0,792.4 435.0,793.2 436.0,794.1 437.0,795.0 438.0,795.9 439.0,796.8 440.0,797.6 441.0,798.5 442.0,799.4 443.0,800.3 444.0,801.1 445.0,802.0 446.0,802.8 447.0,803.6 448.0,804.4 449.0,805.2 450.0,806.0 451.0,806.8 452.0,807.6 453.0,808.3 454.0,809.1 455.0,809.9 456.0,810.7 457.0,811.5 458.0,812.3 459.0,813.1 460.0,813.9 461.0,814.8 462.0,815.6 463.0,816.4 464.0,817.2 465.0,818.0 466.0,818.8 467.0,819.6 468.0,820.4 469.0,821.1 470.0,821.9 471.0,822.6 472.0,823.3 473.0,824.0 474.0,824.6 475.0,825.3 476.0,826.0 477.0,826.7 478.0,827.3 479.0,828.0 480.0,828.7 481.0,829.4 482.0,830.2 483.0,830.9 484.0,831.6 485.0,832.3 486.0,833.1 487.0,833.8 488.0,834.5 489.0,835.2 490.0,835.9 491.0,836.5 492.0,837.2 493.0,837.9 494.0,838.5 495.0,839.1 496.0,839.8 497.0,840.4 498.0,841.0 499.0,841.6 500.0,842.2 501.0,842.8 502.0,843.4 503.0,844.0 504.0,844.5 505.0,845.0 506.0,845.6 507.0,846.1 508.0,846.6 509.0,847.1 510.0,847.7 511.0,848.2 512.0,848.7 513.0,849.2 514.0,849.8 515.0,850.4 516.0,851.0 517.0,851.6 518.0,852.2 519.0,852.8 520.0,853.4 521.0,854.0 522.0,854.5 523.0,855.1 524.0,855.6 525.0,856.1 526.0,856.6 527.0,857.1 528.0,857.6 529.0,858.0 530.0,858.4 531.0,858.9 532.0,859.3 533.0,859.7 534.0,860.1 535.0,860.5 536.0,860.9 537.0,861.3 538.0,861.7 539.0,862.1 540.0,862.5 541.0,862.9 542.0,863.3 543.0,863.7 544.0,864.0 545.0,864.4 546.0,864.7 547.0,865.0 548.0,865.3 549.0,865.6 550.0,865.9 551.0,866.2 552.0,866.4 553.0,866.7 554.0,866.9 555.0,867.2 556.0,867.4 557.0,867.7 558.0,867.9 559.0,868.1 560.0,868.3 561.0,868.6 562.0,868.8 563.0,869.0 564.0,869.2 565.0,869.4 566.0,869.6 567.0,869.8 568.0,870.0 569.0,870.2 570.0,870.3 571.0,870.5 572.0,870.6 573.0,870.8 574.0,870.9 575.0,871.0 576.0,871.1 577.0,871.2 578.0,871.3 579.0,871.4 580.0,871.5 581.0,871.6 582.0,871.7 583.0,871.7 584.0,871.8 585.0,871.9 586.0,872.0 587.0,872.0 588.0,872.1 589.0,872.1 590.0,872.2 591.0,872.2 592.0,872.2 593.0,872.2 594.0,872.1 595.0,872.0 596.0,871.8 597.0,871.6 598.0,871.3 599.0,871.1 600.0,870.9 601.0,870.7 602.0,870.6 603.0,870.5 604.0,870.5 605.0,870.5 606.0,870.6 607.0,870.7 608.0,870.8 609.0,870.9 610.0,871.0 611.0,871.2 612.0,871.3 613.0,871.3 614.0,871.4 615.0,871.4 616.0,871.4 617.0,871.4 618.0,871.3 619.0,871.3 620.0,871.3 621.0,871.2 622.0,871.2 623.0,871.2 624.0,871.1 625.0,871.1 626.0,871.1 627.0,871.1 628.0,871.1 629.0,871.1 630.0,871.1 631.0,871.1 632.0,871.1 633.0,871.1 634.0,871.1 635.0,871.1 636.0,871.1 637.0,871.1 638.0,871.1 639.0,871.1 640.0,871.1 641.0,871.1 642.0,871.1 643.0,871.1 644.0,871.1 645.0,871.0 646.0,871.0 647.0,871.0 648.0,871.0 649.0,871.0 650.0,871.0 651.0,871.0 652.0,871.0 653.0,870.9 654.0,870.9 655.0,870.9" stroke="#b2ffff" stroke-width="1.0" fill="none"/>
<path d="M130.55 564.95L134.00 568.40L130.55 571.85L127.10 568.40ZM141.81 585.55L145.26 589.00L141.81 592.45L138.36 589.00ZM153.07 605.45L156.52 608.90L153.07 612.35L149.62 608.90ZM164.33 625.15L167.78 628.60L164.33 632.05L160.88 628.60ZM175.60 644.55L179.05 648.00L175.60 651.45L172.15 648.00ZM186.86 664.15L190.31 667.60L186.86 671.05L183.41 667.60ZM198.12 681.35L201.57 684.80L198.12 688.25L194.67 684.80ZM209.38 696.55L212.83 700.00L209.38 703.45L205.93 700.00ZM220.64 711.55L224.09 715.00L220.64 718.45L217.19 715.00ZM231.91 720.15L235.36 723.60L231.91 727.05L228.46 723.60ZM243.17 721.55L246.62 725.00L243.17 728.45L239.72 725.00ZM254.43 716.15L257.88 719.60L254.43 723.05L250.98 719.60ZM265.69 706.75L269.14 710.20L265.69 713.65L262.24 710.20ZM276.95 696.95L280.40 700.40L276.95 703.85L273.50 700.40ZM288.22 689.85L291.67 693.30L288.22 696.75L284.77 693.30ZM299.48 687.55L302.93 691.00L299.48 694.45L296.03 691.00ZM310.74 688.15L314.19 691.60L310.74 695.05L307.29 691.60ZM322.00 692.95L325.45 696.40L322.00 699.85L318.55 696.40ZM333.26 699.65L336.71 703.10L333.26 706.55L329.81 703.10ZM344.53 708.15L347.98 711.60L344.53 715.05L341.08 711.60ZM355.79 717.45L359.24 720.90L355.79 724.35L352.34 720.90ZM367.05 727.75L370.50 731.20L367.05 734.65L363.60 731.20ZM378.31 738.45L381.76 741.90L378.31 745.35L374.86 741.90ZM389.57 748.55L393.02 752.00L389.57 755.45L386.12 752.00ZM400.84 758.95L404.29 762.40L400.84 765.85L397.39 762.40ZM412.10 769.15L415.55 772.60L412.10 776.05L408.65 772.60ZM423.36 779.65L426.81 783.10L423.36 786.55L419.91 783.10ZM434.62 789.45L438.07 792.90L434.62 796.35L431.17 792.90ZM445.88 799.25L449.33 802.70L445.88 806.15L442.43 802.70ZM457.15 808.15L460.60 811.60L457.15 815.05L453.70 811.60ZM468.41 817.25L471.86 820.70L468.41 824.15L464.96 820.70ZM479.67 825.05L483.12 828.50L479.67 831.95L476.22 828.50ZM490.93 833.05L494.38 836.50L490.93 839.95L487.48 836.50ZM502.19 840.05L505.64 843.50L502.19 846.95L498.74 843.50ZM513.46 846.05L516.91 849.50L513.46 852.95L510.01 849.50ZM524.72 852.55L528.17 856.00L524.72 859.45L521.27 856.00ZM535.98 857.45L539.43 860.90L535.98 864.35L532.53 860.90ZM547.24 861.65L550.69 865.10L547.24 868.55L543.79 865.10ZM558.50 864.55L561.95 868.00L558.50 871.45L555.05 868.00ZM569.77 866.85L573.22 870.30L569.77 873.75L566.32 870.30ZM581.03 868.15L584.48 871.60L581.03 875.05L577.58 871.60ZM592.29 868.75L595.74 872.20L592.29 875.65L588.84 872.20ZM603.55 867.05L607.00 870.50L603.55 873.95L600.10 870.50ZM614.81 867.95L618.26 871.40L614.81 874.85L611.36 871.40ZM626.08 867.65L629.53 871.10L626.08 874.55L622.63 871.10ZM637.34 867.65L640.79 871.10L637.34 874.55L633.89 871.10ZM648.60 867.55L652.05 871.00L648.60 874.45L645.15 871.00Z" fill="#00ffff"/>
<polyline points="84.0,529.8 85.0,531.6 86.0,533.5 87.0,535.3 88.0,537.2 89.0,539.0 90.0,540.9 91.0,542.7 92.0,544.5 93.0,546.3 94.0,548.1 95.0,550.0 96.0,551.8 97.0,553.6 98.0,555.4 99.0,557.2 100.0,559.0 101.0,560.8 102.0,562.6 103.0,564.4 104.0,566.1 105.0,567.9 106.0,569.7 107.0,571.5 108.0,573.3 109.0,575.0 110.0,576.8 111.0,578.6 112.0,580.3 113.0,582.1 114.0,583.8 115.0,585.6 116.0,587.4 117.0,589.1 118.0,590.9 119.0,592.6 120.0,594.3 121.0,596.1 122.0,597.8 123.0,599.5 124.0,601.2 125.0,602.9 126.0,604.6 127.0,606.3 128.0,608.0 129.0,609.7 130.0,611.5 131.0,613.2 132.0,614.9 133.0,616.7 134.0,618.4 135.0,620.2 136.0,622.0 137.0,623.7 138.0,625.5 139.0,627.2 140.0,629.0 141.0,630.7 142.0,632.4 143.0,634.1 144.0,635.8 145.0,637.5 146.0,639.1 147.0,640.7 148.0,642.4 149.0,644.0 150.0,645.7 151.0,647.3 152.0,649.0 153.0,650.7 154.0,652.4 155.0,654.1 156.0,655.8 157.0,657.6 158.0,659.3 159.0,661.1 160.0,662.8 161.0,664.5 162.0,666.2 163.0,667.9 164.0,669.6 165.0,671.2 166.0,672.8 167.0,674.4 168.0,676.0 169.0,677.5 170.0,679.1 171.0,680.6 172.0,682.1 173.0,683.6 174.0,685.1 175.0,686.5 176.0,688.0 177.0,689.4 178.0,690.9 179.0,692.3 180.0,693.7 181.0,695.1 182.0,696.5 183.0,697.9 184.0,699.2 185.0,700.4 186.0,701.6 187.0,702.8 188.0,703.9 189.0,704.9 190.0,706.0 191.0,707.0 192.0,708.0 193.0,709.0 194.0,709.9 195.0,710.8 196.0,711.6 197.0,712.4 198.0,713.1 199.0,713.8 200.0,714.5 201.0,715.2 202.0,715.9 203.0,716.6 204.0,717.2 205.0,717.8 206.0,718.3 207.0,718.7 208.0,719.0 209.0,719.1 210.0,719.1 211.0,719.0 212.0,719.0 213.0,718.9 214.0,718.7 215.0,718.6 216.0,718.4 217.0,718.2 218.0,717.9 219.0,717.7 220.0,717.5 221.0,717.2 222.0,716.9 223.0,716.5 224.0,716.0 225.0,715.4 226.0,714.8 227.0,714.2 228.0,713.5 229.0,712.8 230.0,712.1 231.0,711.4 232.0,710.7 233.0,710.0 234.0,709.2 235.0,708.4 236.0,707.5 237.0,706.6 238.0,705.7 239.0,704.8 240.0,703.9 241.0,703.0 242.0,702.2 243.0,701.4 244.0,700.7 245.0,700.0 246.0,699.2 247.0,698.5 248.0,697.8 249.0,697.1 250.0,696.5 251.0,695.9 252.0,695.3 253.0,694.8 254.0,694.4 255.0,694.0 256.0,693.6 257.0,693.2 258.0,692.9 259.0,692.5 260.0,692.2 261.0,691.9 262.0,691.7 263.0,691.4 264.0,691.3 265.0,691.2 266.0,691.2 267.0,691.2 268.0,691.2 269.0,691.2 270.0,691.2 271.0,691.2 272.0,691.2 273.0,691.2 274.0,691.2 275.0,691.2 276.0,691.2 277.0,691.2 278.0,691.2 279.0,691.3 280.0,691.5 281.0,691.7 282.0,691.9 283.0,692.2 284.0,692.5 285.0,692.8 286.0,693.2 287.0,693.5 288.0,693.8 289.0,694.2 290.0,694.6 291.0,695.0 292.0,695.5 293.0,696.0 294.0,696.6 295.0,697.2 296.0,697.8 297.0,698.4 298.0,699.0 299.0,699.6 300.0,700.2 301.0,700.9 302.0,701.5 303.0,702.2 304.0,703.0 305.0,703.7 306.0,704.5 307.0,705.2 308.0,706.0 309.0,706.8 310.0,707.5 311.0,708.3 312.0,709.1 313.0,709.9 314.0,710.7 315.0,711.5 316.0,712.3 317.0,713.1 318.0,714.0 319.0,714.8 320.0,715.6 321.0,716.5 322.0,717.3 323.0,718.1 324.0,718.9 325.0,719.7 326.0,720.5 327.0,721.4 328.0,722.2 329.0,723.0 330.0,723.8 331.0,724.7 332.0,725.5 333.0,726.4 334.0,727.3 335.0,728.2 336.0,729.1 337.0,730.0 338.0,731.0 339.0,731.9 340.0,732.9 341.0,733.8 342.0,734.8 343.0,735.7 344.0,736.7 345.0,737.6 346.0,738.6 347.0,739.6 348.0,740.5 349.0,741.5 350.0,742.4 351.0,743.4 352.0,744.4 353.0,745.3 354.0,746.2 355.0,747.2 356.0,748.1 357.0,749.0 358.0,749.9 359.0,750.8 360.0,751.7 361.0,752.6 362.0,753.4 363.0,754.3 364.0,755.2 365.0,756.1 366.0,757.0 367.0,757.9 368.0,758.7 369.0,759.6 370.0,760.5 371.0,761.4 372.0,762.3 373.0,763.2 374.0,764.1 375.0,765.0 376.0,765.9 377.0,766.8 378.0,767.7 379.0,768.6 380.0,769.5 381.0,770.4 382.0,771.3 383.0,772.1 384.0,773.0 385.0,773.9 386.0,774.8 387.0,775.7 388.0,776.6 389.0,777.5 390.0,778.4 391.0,779.3 392.0,780.2 393.0,781.2 394.0,782.1 395.0,783.0 396.0,784.0 397.0,784.9 398.0,785.8 399.0,786.7 400.0,787.6 401.0,788.5 402.0,789.4 403.0,790.3 404.0,791.2 405.0,792.1 406.0,793.0 407.0,793.8 408.0,794.7 409.0,795.5 410.0,796.4 411.0,797.3 412.0,798.1 413.0,799.0 414.0,799.8 415.0,800.7 416.0,801.5 417.0,802.4 418.0,803.2 419.0,804.1 420.0,804.9 421.0,805.7 422.0,806.5 423.0,807.3 424.0,808.1 425.0,808.9 426.0,809.6 427.0,810.4 428.0,811.1 429.0,811.9 430.0,812.6 431.0,813.3 432.0,814.1 433.0,814.8 434.0,815.5 435.0,816.3 436.0,817.0 437.0,817.8 438.0,818.5 439.0,819.3 440.0,820.0 441.0,820.8 442.0,821.5 443.0,822.2 444.0,823.0 445.0,823.7 446.0,824.5 447.0,825.2 448.0,826.0 449.0,826.8 450.0,827.5 451.0,828.3 452.0,829.0 453.0,829.8 454.0,830.6 455.0,831.3 456.0,832.1 457.0,832.8 458.0,833.5 459.0,834.3 460.0,835.0 461.0,835.7 462.0,836.4 463.0,837.1 464.0,837.9 465.0,838.6 466.0,839.3 467.0,839.9 468.0,840.6 469.0,841.3 470.0,842.0 471.0,842.6 472.0,843.3 473.0,843.9 474.0,844.5 475.0,845.2 476.0,845.8 477.0,846.4 478.0,847.0 479.0,847.6 480.0,848.2 481.0,848.8 482.0,849.4 483.0,849.9 484.0,850.5 485.0,851.0 486.0,851.6 487.0,852.1 488.0,852.7 489.0,853.2 490.0,853.7 491.0,854.2 492.0,854.7 493.0,855.2 494.0,855.7 495.0,856.2 496.0,856.6 497.0,857.1 498.0,857.5 499.0,858.0 500.0,858.5 501.0,858.9 502.0,859.4 503.0,859.9 504.0,860.4 505.0,860.9 506.0,861.4 507.0,861.9 508.0,862.5 509.0,863.0 510.0,863.5 511.0,864.0 512.0,864.4 513.0,864.9 514.0,865.3 515.0,865.7 516.0,866.1 517.0,866.5 518.0,866.9 519.0,867.3 520.0,867.7 521.0,868.0 522.0,868.4 523.0,868.8 524.0,869.1 525.0,869.5 526.0,869.9 527.0,870.3 528.0,870.7 529.0,871.1 530.0,871.5 531.0,871.9 532.0,872.3 533.0,872.7 534.0,873.1 535.0,873.4 536.0,873.7 537.0,874.0 538.0,874.3 539.0,874.6 540.0,874.8 541.0,875.1 542.0,875.3 543.0,875.6 544.0,875.8 545.0,876.0 546.0,876.2 547.0,876.4 548.0,876.7 549.0,876.9 550.0,877.0 551.0,877.2 552.0,877.4 553.0,877.6 554.0,877.8 555.0,877.9 556.0,878.1 557.0,878.3 558.0,878.4 559.0,878.6 560.0,878.8 561.0,879.0 562.0,879.2 563.0,879.4 564.0,879.6 565.0,879.7 566.0,879.9 567.0,880.0 568.0,880.1 569.0,880.2 570.0,880.2 571.0,880.2 572.0,880.2 573.0,880.1 574.0,880.1 575.0,880.0 576.0,879.9 577.0,879.8 578.0,879.7 579.0,879.7 580.0,879.6 581.0,879.5 582.0,879.4 583.0,879.4 584.0,879.3 585.0,879.2 586.0,879.1 587.0,879.1 588.0,879.0 589.0,878.9 590.0,878.8 591.0,878.7 592.0,878.5 593.0,878.4 594.0,878.1 595.0,877.7 596.0,877.2 597.0,876.7 598.0,876.2 599.0,875.7 600.0,875.3 601.0,874.9 602.0,874.6 603.0,874.4 604.0,874.4 605.0,874.4 606.0,874.5 607.0,874.6 608.0,874.7 609.0,874.9 610.0,875.0 611.0,875.1 612.0,875.2 613.0,875.3 614.0,875.4 615.0,875.4 616.0,875.4 617.0,875.3 618.0,875.2 619.0,875.0 620.0,874.9 621.0,874.7 622.0,874.5 623.0,874.3 624.0,874.2 625.0,874.0 626.0,873.8 627.0,873.7 628.0,873.5 629.0,873.4 630.0,873.2 631.0,873.1 632.0,872.9 633.0,872.7 634.0,872.6 635.0,872.4 636.0,872.2 637.0,872.1 638.0,871.9 639.0,871.7 640.0,871.5 641.0,871.3 642.0,871.1 643.0,870.9 644.0,870.7 645.0,870.4 646.0,870.2 647.0,870.0 648.0,869.7 649.0,869.5 650.0,869.3 651.0,869.0 652.0,868.8 653.0,868.5 654.0,868.3 655.0,868.0" stroke="#ffb2ff" stroke-width="1.0" fill="none"/>
<path d="M115.93 593.10L121.85 589.58L121.85 596.62ZM127.19 612.40L133.11 608.88L133.11 615.92ZM138.45 632.10L144.37 628.58L144.37 635.62ZM149.71 650.80L155.63 647.28L155.63 654.32ZM160.97 670.10L166.89 666.58L166.89 673.62ZM172.24 687.40L178.16 683.88L178.16 690.92ZM183.50 702.60L189.42 699.08L189.42 706.12ZM194.76 713.20L200.68 709.68L200.68 716.72ZM206.02 719.10L211.94 715.58L211.94 722.62ZM217.28 717.30L223.20 713.78L223.20 720.82ZM228.55 710.80L234.47 707.28L234.47 714.32ZM239.81 701.30L245.73 697.78L245.73 704.82ZM251.07 694.20L256.99 690.68L256.99 697.72ZM262.33 691.20L268.25 687.68L268.25 694.72ZM273.59 691.20L279.51 687.68L279.51 694.72ZM284.86 693.90L290.78 690.38L290.78 697.42ZM296.12 699.90L302.04 696.38L302.04 703.42ZM307.38 708.10L313.30 704.58L313.30 711.62ZM318.64 717.30L324.56 713.78L324.56 720.82ZM329.90 726.60L335.82 723.08L335.82 730.12ZM341.17 737.20L347.09 733.68L347.09 740.72ZM352.43 747.90L358.35 744.38L358.35 751.42ZM363.69 757.90L369.61 754.38L369.61 761.42ZM374.95 768.00L380.87 764.48L380.87 771.52ZM386.21 778.00L392.13 774.48L392.13 781.52ZM397.48 788.40L403.40 784.88L403.40 791.92ZM408.74 798.20L414.66 794.68L414.66 801.72ZM420.00 807.60L425.92 804.08L425.92 811.12ZM431.26 816.00L437.18 812.48L437.18 819.52ZM442.52 824.40L448.44 820.88L448.44 827.92ZM453.79 832.90L459.71 829.38L459.71 836.42ZM465.05 840.90L470.97 837.38L470.97 844.42ZM476.31 848.00L482.23 844.48L482.23 851.52ZM487.57 854.20L493.49 850.68L493.49 857.72ZM498.83 859.50L504.75 855.98L504.75 863.02ZM510.10 865.10L516.02 861.58L516.02 868.62ZM521.36 869.40L527.28 865.88L527.28 872.92ZM532.62 873.70L538.54 870.18L538.54 877.22ZM543.88 876.50L549.80 872.98L549.80 880.02ZM555.14 878.50L561.06 874.98L561.06 882.02ZM566.41 880.20L572.33 876.68L572.33 883.72ZM577.67 879.50L583.59 875.98L583.59 883.02ZM588.93 878.50L594.85 874.98L594.85 882.02ZM600.19 874.40L606.11 870.88L606.11 877.92ZM611.45 875.40L617.37 871.88L617.37 878.92ZM622.72 873.80L628.64 870.28L628.64 877.32ZM633.98 872.00L639.90 868.48L639.90 875.52ZM645.24 869.60L651.16 866.08L651.16 873.12Z" fill="#ff00ff"/>
<polyline points="84.0,572.0 85.0,573.9 86.0,575.7 87.0,577.6 88.0,579.4 89.0,581.2 90.0,583.1 91.0,584.9 92.0,586.7 93.0,588.6 94.0,590.4 95.0,592.2 96.0,594.0 97.0,595.8 98.0,597.6 99.0,599.4 100.0,601.2 101.0,603.0 102.0,604.8 103.0,606.6 104.0,608.4 105.0,610.2 106.0,612.0 107.0,613.7 108.0,615.5 109.0,617.3 110.0,619.0 111.0,620.8 112.0,622.6 113.0,624.3 114.0,626.1 115.0,627.8 116.0,629.6 117.0,631.3 118.0,633.1 119.0,634.8 120.0,636.5 121.0,638.3 122.0,640.0 123.0,641.7 124.0,643.5 125.0,645.2 126.0,646.9 127.0,648.6 128.0,650.3 129.0,651.9 130.0,653.6 131.0,655.2 132.0,656.9 133.0,658.5 134.0,660.1 135.0,661.7 136.0,663.3 137.0,664.9 138.0,666.5 139.0,668.0 140.0,669.6 141.0,671.1 142.0,672.6 143.0,674.1 144.0,675.6 145.0,677.0 146.0,678.5 147.0,680.0 148.0,681.4 149.0,682.8 150.0,684.2 151.0,685.5 152.0,686.8 153.0,688.0 154.0,689.2 155.0,690.3 156.0,691.5 157.0,692.5 158.0,693.6 159.0,694.6 160.0,695.7 161.0,696.7 162.0,697.7 163.0,698.7 164.0,699.7 165.0,700.7 166.0,701.8 167.0,703.0 168.0,704.2 169.0,705.4 170.0,706.6 171.0,707.7 172.0,708.7 173.0,709.5 174.0,710.2 175.0,710.6 176.0,710.9 177.0,711.1 178.0,711.2 179.0,711.4 180.0,711.5 181.0,711.6 182.0,711.8 183.0,711.8 184.0,711.9 185.0,712.0 186.0,712.0 187.0,712.0 188.0,711.9 189.0,711.8 190.0,711.5 191.0,711.2 192.0,710.8 193.0,710.4 194.0,709.9 195.0,709.4 196.0,708.9 197.0,708.4 198.0,708.0 199.0,707.5 200.0,707.0 201.0,706.4 202.0,705.8 203.0,705.2 204.0,704.6 205.0,703.9 206.0,703.3 207.0,702.7 208.0,702.1 209.0,701.5 210.0,701.0 211.0,700.4 212.0,699.9 213.0,699.3 214.0,698.8 215.0,698.3 216.0,697.7 217.0,697.2 218.0,696.7 219.0,696.2 220.0,695.8 221.0,695.3 222.0,694.9 223.0,694.4 224.0,693.9 225.0,693.4 226.0,693.0 227.0,692.5 228.0,692.1 229.0,691.8 230.0,691.5 231.0,691.3 232.0,691.2 233.0,691.1 234.0,691.0 235.0,691.0 236.0,690.9 237.0,690.9 238.0,690.8 239.0,690.8 240.0,690.7 241.0,690.7 242.0,690.7 243.0,690.7 244.0,690.7 245.0,690.8 246.0,690.9 247.0,691.1 248.0,691.3 249.0,691.5 250.0,691.7 251.0,692.0 252.0,692.3 253.0,692.6 254.0,692.9 255.0,693.2 256.0,693.5 257.0,693.9 258.0,694.3 259.0,694.8 260.0,695.2 261.0,695.8 262.0,696.3 263.0,696.8 264.0,697.4 265.0,697.9 266.0,698.5 267.0,699.1 268.0,699.7 269.0,700.3 270.0,701.0 271.0,701.6 272.0,702.3 273.0,703.0 274.0,703.7 275.0,704.4 276.0,705.1 277.0,705.8 278.0,706.5 279.0,707.2 280.0,707.9 281.0,708.6 282.0,709.2 283.0,709.9 284.0,710.6 285.0,711.4 286.0,712.1 287.0,712.8 288.0,713.6 289.0,714.4 290.0,715.3 291.0,716.2 292.0,717.1 293.0,718.0 294.0,718.9 295.0,719.9 296.0,720.8 297.0,721.8 298.0,722.7 299.0,723.7 300.0,724.6 301.0,725.5 302.0,726.4 303.0,727.3 304.0,728.1 305.0,729.0 306.0,729.9 307.0,730.8 308.0,731.7 309.0,732.6 310.0,733.5 311.0,734.4 312.0,735.4 313.0,736.3 314.0,737.3 315.0,738.2 316.0,739.2 317.0,740.1 318.0,741.1 319.0,742.0 320.0,743.0 321.0,743.9 322.0,744.9 323.0,745.9 324.0,746.8 325.0,747.8 326.0,748.7 327.0,749.7 328.0,750.7 329.0,751.6 330.0,752.6 331.0,753.5 332.0,754.4 333.0,755.4 334.0,756.3 335.0,757.2 336.0,758.1 337.0,758.9 338.0,759.8 339.0,760.7 340.0,761.6 341.0,762.4 342.0,763.3 343.0,764.2 344.0,765.0 345.0,765.9 346.0,766.8 347.0,767.7 348.0,768.6 349.0,769.4 350.0,770.3 351.0,771.2 352.0,772.1 353.0,773.0 354.0,773.8 355.0,774.7 356.0,775.6 357.0,776.5 358.0,777.3 359.0,778.2 360.0,779.1 361.0,779.9 362.0,780.8 363.0,781.7 364.0,782.5 365.0,783.4 366.0,784.3 367.0,785.2 368.0,786.0 369.0,786.9 370.0,787.8 371.0,788.7 372.0,789.6 373.0,790.5 374.0,791.4 375.0,792.3 376.0,793.2 377.0,794.1 378.0,794.9 379.0,795.8 380.0,796.6 381.0,797.5 382.0,798.3 383.0,799.1 384.0,799.9 385.0,800.7 386.0,801.5 387.0,802.3 388.0,803.1 389.0,803.9 390.0,804.7 391.0,805.5 392.0,806.3 393.0,807.1 394.0,807.9 395.0,808.7 396.0,809.5 397.0,810.3 398.0,811.1 399.0,811.9 400.0,812.6 401.0,813.4 402.0,814.2 403.0,815.0 404.0,815.8 405.0,816.5 406.0,817.3 407.0,818.1 408.0,818.8 409.0,819.6 410.0,820.3 411.0,821.1 412.0,821.8 413.0,822.6 414.0,823.3 415.0,824.0 416.0,824.7 417.0,825.4 418.0,826.1 419.0,826.8 420.0,827.5 421.0,828.2 422.0,828.9 423.0,829.6 424.0,830.4 425.0,831.1 426.0,831.8 427.0,832.5 428.0,833.2 429.0,834.0 430.0,834.7 431.0,835.4 432.0,836.1 433.0,836.8 434.0,837.5 435.0,838.2 436.0,838.8 437.0,839.4 438.0,840.1 439.0,840.7 440.0,841.3 441.0,841.9 442.0,842.6 443.0,843.2 444.0,843.8 445.0,844.4 446.0,845.1 447.0,845.7 448.0,846.4 449.0,847.0 450.0,847.7 451.0,848.4 452.0,849.0 453.0,849.7 454.0,850.4 455.0,851.0 456.0,851.7 457.0,852.3 458.0,852.9 459.0,853.6 460.0,854.2 461.0,854.9 462.0,855.5 463.0,856.1 464.0,856.8 465.0,857.4 466.0,858.0 467.0,858.6 468.0,859.2 469.0,859.7 470.0,860.3 471.0,860.8 472.0,861.4 473.0,861.9 474.0,862.4 475.0,862.9 476.0,863.4 477.0,863.9 478.0,864.4 479.0,865.0 480.0,865.5 481.0,866.0 482.0,866.5 483.0,867.0 484.0,867.6 485.0,868.1 486.0,868.6 487.0,869.1 488.0,869.6 489.0,870.1 490.0,870.6 491.0,871.0 492.0,871.5 493.0,871.9 494.0,872.3 495.0,872.7 496.0,873.1 497.0,873.5 498.0,873.9 499.0,874.3 500.0,874.7 501.0,875.1 502.0,875.4 503.0,875.8 504.0,876.2 505.0,876.6 506.0,876.9 507.0,877.3 508.0,877.7 509.0,878.0 510.0,878.4 511.0,878.7 512.0,879.0 513.0,879.4 514.0,879.7 515.0,880.0 516.0,880.3 517.0,880.5 518.0,880.8 519.0,881.1 520.0,881.4 521.0,881.6 522.0,881.9 523.0,882.1 524.0,882.3 525.0,882.6 526.0,882.8 527.0,883.0 528.0,883.2 529.0,883.4 530.0,883.5 531.0,883.7 532.0,883.9 533.0,884.1 534.0,884.2 535.0,884.4 536.0,884.5 537.0,884.6 538.0,884.8 539.0,884.9 540.0,885.0 541.0,885.1 542.0,885.2 543.0,885.3 544.0,885.4 545.0,885.6 546.0,885.7 547.0,885.8 548.0,885.9 549.0,886.0 550.0,886.2 551.0,886.3 552.0,886.4 553.0,886.6 554.0,886.7 555.0,886.8 556.0,886.9 557.0,887.0 558.0,887.0 559.0,887.0 560.0,887.0 561.0,887.0 562.0,886.9 563.0,886.9 564.0,886.8 565.0,886.7 566.0,886.7 567.0,886.6 568.0,886.5 569.0,886.5 570.0,886.4 571.0,886.3 572.0,886.2 573.0,886.1 574.0,886.1 575.0,886.0 576.0,885.9 577.0,885.8 578.0,885.7 579.0,885.6 580.0,885.5 581.0,885.4 582.0,885.3 583.0,885.3 584.0,885.2 585.0,885.1 586.0,885.1 587.0,885.0 588.0,884.9 589.0,884.9 590.0,884.8 591.0,884.7 592.0,884.5 593.0,884.4 594.0,884.0 595.0,883.5 596.0,882.9 597.0,882.3 598.0,881.6 599.0,880.9 600.0,880.3 601.0,879.8 602.0,879.4 603.0,879.2 604.0,879.2 605.0,879.3 606.0,879.4 607.0,879.5 608.0,879.6 609.0,879.8 610.0,880.0 611.0,880.2 612.0,880.3 613.0,880.4 614.0,880.5 615.0,880.5 616.0,880.5 617.0,880.5 618.0,880.5 619.0,880.4 620.0,880.4 621.0,880.4 622.0,880.4 623.0,880.3 624.0,880.3 625.0,880.3 626.0,880.3 627.0,880.3 628.0,880.4 629.0,880.5 630.0,880.7 631.0,880.8 632.0,881.0 633.0,881.2 634.0,881.4 635.0,881.7 636.0,881.9 637.0,882.0 638.0,882.2 639.0,882.4 640.0,882.5 641.0,882.7 642.0,882.9 643.0,883.0 644.0,883.2 645.0,883.4 646.0,883.6 647.0,883.7 648.0,883.9 649.0,884.1 650.0,884.2 651.0,884.4 652.0,884.6 653.0,884.8 654.0,884.9 655.0,885.1" stroke="#ffd9b2" stroke-width="1.0" fill="none"/>
<path d="M122.65 635.30L116.73 631.78L116.73 638.82ZM133.91 654.50L127.99 650.98L127.99 658.02ZM145.17 672.30L139.25 668.78L139.25 675.82ZM156.43 688.10L150.51 684.58L150.51 691.62ZM167.69 700.00L161.77 696.48L161.77 703.52ZM178.96 710.80L173.04 707.28L173.04 714.32ZM190.22 712.00L184.30 708.48L184.30 715.52ZM201.48 707.90L195.56 704.38L195.56 711.42ZM212.74 701.30L206.82 697.78L206.82 704.82ZM224.00 695.50L218.08 691.98L218.08 699.02ZM235.27 691.20L229.35 687.68L229.35 694.72ZM246.53 690.70L240.61 687.18L240.61 694.22ZM257.79 693.00L251.87 689.48L251.87 696.52ZM269.05 698.30L263.13 694.78L263.13 701.82ZM280.31 705.80L274.39 702.28L274.39 709.32ZM291.58 713.80L285.66 710.28L285.66 717.32ZM302.84 724.10L296.92 720.58L296.92 727.62ZM314.10 734.20L308.18 730.68L308.18 737.72ZM325.36 744.90L319.44 741.38L319.44 748.42ZM336.62 755.60L330.70 752.08L330.70 759.12ZM347.89 765.50L341.97 761.98L341.97 769.02ZM359.15 775.40L353.23 771.88L353.23 778.92ZM370.41 785.20L364.49 781.68L364.49 788.72ZM381.67 795.20L375.75 791.68L375.75 798.72ZM392.93 804.40L387.01 800.88L387.01 807.92ZM404.20 813.30L398.28 809.78L398.28 816.82ZM415.46 821.90L409.54 818.38L409.54 825.42ZM426.72 829.90L420.80 826.38L420.80 833.42ZM437.98 837.90L432.06 834.38L432.06 841.42ZM449.24 845.00L443.32 841.48L443.32 848.52ZM460.51 852.40L454.59 848.88L454.59 855.92ZM471.77 859.40L465.85 855.88L465.85 862.92ZM483.03 865.30L477.11 861.78L477.11 868.82ZM494.29 871.00L488.37 867.48L488.37 874.52ZM505.55 875.50L499.63 871.98L499.63 879.02ZM516.82 879.50L510.90 875.98L510.90 883.02ZM528.08 882.50L522.16 878.98L522.16 886.02ZM539.34 884.50L533.42 880.98L533.42 888.02ZM550.60 885.80L544.68 882.28L544.68 889.32ZM561.86 887.00L555.94 883.48L555.94 890.52ZM573.13 886.40L567.21 882.88L567.21 889.92ZM584.39 885.40L578.47 881.88L578.47 888.92ZM595.65 884.50L589.73 880.98L589.73 888.02ZM606.91 879.20L600.99 875.68L600.99 882.72ZM618.17 880.50L612.25 876.98L612.25 884.02ZM629.44 880.30L623.52 876.78L623.52 883.82ZM640.70 882.10L634.78 878.58L634.78 885.62ZM651.96 884.00L646.04 880.48L646.04 887.52Z" fill="#ff8000"/>
<polyline points="84.0,622.5 85.0,623.9 86.0,625.4 87.0,626.9 88.0,628.3 89.0,629.8 90.0,631.2 91.0,632.7 92.0,634.2 93.0,635.7 94.0,637.1 95.0,638.6 96.0,640.1 97.0,641.6 98.0,643.1 99.0,644.6 100.0,646.1 101.0,647.6 102.0,649.1 103.0,650.6 104.0,652.1 105.0,653.6 106.0,655.1 107.0,656.6 108.0,658.2 109.0,659.7 110.0,661.3 111.0,662.9 112.0,664.5 113.0,666.1 114.0,667.6 115.0,669.2 116.0,670.8 117.0,672.3 118.0,673.8 119.0,675.2 120.0,676.6 121.0,677.9 122.0,679.3 123.0,680.6 124.0,681.9 125.0,683.2 126.0,684.5 127.0,685.7 128.0,686.8 129.0,688.0 130.0,689.0 131.0,690.1 132.0,691.1 133.0,692.1 134.0,693.0 135.0,694.0 136.0,694.9 137.0,695.8 138.0,696.6 139.0,697.4 140.0,698.1 141.0,698.8 142.0,699.4 143.0,700.0 144.0,700.6 145.0,701.3 146.0,701.9 147.0,702.4 148.0,703.0 149.0,703.4 150.0,703.8 151.0,704.1 152.0,704.3 153.0,704.4 154.0,704.4 155.0,704.3 156.0,704.2 157.0,704.1 158.0,704.0 159.0,703.8 160.0,703.6 161.0,703.4 162.0,703.2 163.0,703.0 164.0,702.8 165.0,702.5 166.0,702.3 167.0,701.9 168.0,701.6 169.0,701.2 170.0,700.8 171.0,700.3 172.0,699.9 173.0,699.4 174.0,699.0 175.0,698.6 176.0,698.1 177.0,697.7 178.0,697.2 179.0,696.8 180.0,696.3 181.0,695.8 182.0,695.4 183.0,694.9 184.0,694.5 185.0,694.0 186.0,693.6 187.0,693.2 188.0,692.9 189.0,692.5 190.0,692.0 191.0,691.6 192.0,691.2 193.0,690.8 194.0,690.5 195.0,690.2 196.0,690.0 197.0,689.9 198.0,689.8 199.0,689.8 200.0,689.8 201.0,689.8 202.0,689.8 203.0,689.8 204.0,689.8 205.0,689.8 206.0,689.8 207.0,689.8 208.0,689.8 209.0,689.8 210.0,689.8 211.0,689.9 212.0,690.1 213.0,690.3 214.0,690.6 215.0,690.9 216.0,691.2 217.0,691.6 218.0,692.0 219.0,692.4 220.0,692.8 221.0,693.1 222.0,693.5 223.0,694.0 224.0,694.4 225.0,694.9 226.0,695.4 227.0,695.9 228.0,696.5 229.0,697.0 230.0,697.6 231.0,698.2 232.0,698.8 233.0,699.3 234.0,699.9 235.0,700.6 236.0,701.2 237.0,701.9 238.0,702.5 239.0,703.2 240.0,703.9 241.0,704.6 242.0,705.3 243.0,706.0 244.0,706.7 245.0,707.4 246.0,708.1 247.0,708.8 248.0,709.5 249.0,710.2 250.0,711.0 251.0,711.7 252.0,712.4 253.0,713.2 254.0,714.0 255.0,714.7 256.0,715.5 257.0,716.3 258.0,717.1 259.0,718.0 260.0,718.8 261.0,719.6 262.0,720.5 263.0,721.3 264.0,722.1 265.0,723.0 266.0,723.9 267.0,724.7 268.0,725.6 269.0,726.5 270.0,727.4 271.0,728.3 272.0,729.2 273.0,730.1 274.0,731.0 275.0,731.9 276.0,732.8 277.0,733.7 278.0,734.6 279.0,735.5 280.0,736.4 281.0,737.2 282.0,738.1 283.0,739.0 284.0,739.8 285.0,740.7 286.0,741.6 287.0,742.5 288.0,743.4 289.0,744.3 290.0,745.3 291.0,746.2 292.0,747.2 293.0,748.1 294.0,749.1 295.0,750.1 296.0,751.0 297.0,752.0 298.0,752.9 299.0,753.9 300.0,754.8 301.0,755.7 302.0,756.6 303.0,757.5 304.0,758.4 305.0,759.3 306.0,760.2 307.0,761.1 308.0,762.0 309.0,762.9 310.0,763.7 311.0,764.6 312.0,765.5 313.0,766.4 314.0,767.3 315.0,768.2 316.0,769.0 317.0,769.9 318.0,770.8 319.0,771.7 320.0,772.6 321.0,773.5 322.0,774.4 323.0,775.3 324.0,776.3 325.0,777.2 326.0,778.1 327.0,779.1 328.0,780.1 329.0,781.0 330.0,781.9 331.0,782.9 332.0,783.8 333.0,784.7 334.0,785.5 335.0,786.4 336.0,787.2 337.0,788.0 338.0,788.9 339.0,789.7 340.0,790.5 341.0,791.3 342.0,792.1 343.0,792.9 344.0,793.7 345.0,794.5 346.0,795.3 347.0,796.1 348.0,796.9 349.0,797.7 350.0,798.5 351.0,799.3 352.0,800.1 353.0,800.9 354.0,801.8 355.0,802.6 356.0,803.4 357.0,804.2 358.0,805.0 359.0,805.8 360.0,806.6 361.0,807.5 362.0,808.3 363.0,809.1 364.0,809.9 365.0,810.7 366.0,811.6 367.0,812.4 368.0,813.2 369.0,814.0 370.0,814.8 371.0,815.6 372.0,816.4 373.0,817.2 374.0,818.0 375.0,818.8 376.0,819.6 377.0,820.3 378.0,821.1 379.0,821.8 380.0,822.5 381.0,823.2 382.0,823.9 383.0,824.6 384.0,825.3 385.0,825.9 386.0,826.6 387.0,827.3 388.0,827.9 389.0,828.6 390.0,829.3 391.0,830.0 392.0,830.7 393.0,831.4 394.0,832.1 395.0,832.8 396.0,833.5 397.0,834.2 398.0,834.8 399.0,835.5 400.0,836.2 401.0,836.9 402.0,837.6 403.0,838.3 404.0,838.9 405.0,839.6 406.0,840.3 407.0,841.0 408.0,841.6 409.0,842.3 410.0,843.0 411.0,843.7 412.0,844.3 413.0,845.0 414.0,845.7 415.0,846.4 416.0,847.1 417.0,847.8 418.0,848.5 419.0,849.2 420.0,849.9 421.0,850.6 422.0,851.2 423.0,851.9 424.0,852.5 425.0,853.1 426.0,853.6 427.0,854.2 428.0,854.7 429.0,855.2 430.0,855.7 431.0,856.3 432.0,856.8 433.0,857.4 434.0,857.9 435.0,858.5 436.0,859.1 437.0,859.8 438.0,860.4 439.0,861.1 440.0,861.8 441.0,862.5 442.0,863.1 443.0,863.8 444.0,864.4 445.0,865.1 446.0,865.7 447.0,866.3 448.0,866.8 449.0,867.4 450.0,867.9 451.0,868.5 452.0,869.0 453.0,869.6 454.0,870.1 455.0,870.6 456.0,871.1 457.0,871.6 458.0,872.1 459.0,872.6 460.0,873.1 461.0,873.6 462.0,874.0 463.0,874.5 464.0,875.0 465.0,875.4 466.0,875.9 467.0,876.3 468.0,876.8 469.0,877.3 470.0,877.8 471.0,878.3 472.0,878.8 473.0,879.3 474.0,879.8 475.0,880.3 476.0,880.8 477.0,881.2 478.0,881.7 479.0,882.1 480.0,882.5 481.0,882.9 482.0,883.3 483.0,883.7 484.0,884.1 485.0,884.4 486.0,884.8 487.0,885.1 488.0,885.5 489.0,885.8 490.0,886.1 491.0,886.4 492.0,886.7 493.0,887.0 494.0,887.3 495.0,887.6 496.0,887.9 497.0,888.2 498.0,888.5 499.0,888.8 500.0,889.0 501.0,889.3 502.0,889.6 503.0,889.8 504.0,890.0 505.0,890.2 506.0,890.5 507.0,890.7 508.0,890.9 509.0,891.1 510.0,891.3 511.0,891.5 512.0,891.7 513.0,891.9 514.0,892.1 515.0,892.4 516.0,892.6 517.0,892.9 518.0,893.1 519.0,893.4 520.0,893.6 521.0,893.8 522.0,894.0 523.0,894.2 524.0,894.3 525.0,894.4 526.0,894.5 527.0,894.6 528.0,894.6 529.0,894.7 530.0,894.7 531.0,894.8 532.0,894.8 533.0,894.9 534.0,894.9 535.0,895.0 536.0,895.0 537.0,895.0 538.0,895.1 539.0,895.1 540.0,895.2 541.0,895.2 542.0,895.3 543.0,895.3 544.0,895.3 545.0,895.4 546.0,895.4 547.0,895.4 548.0,895.4 549.0,895.4 550.0,895.4 551.0,895.3 552.0,895.3 553.0,895.3 554.0,895.2 555.0,895.2 556.0,895.1 557.0,895.1 558.0,895.0 559.0,895.0 560.0,894.9 561.0,894.9 562.0,894.8 563.0,894.7 564.0,894.6 565.0,894.5 566.0,894.5 567.0,894.4 568.0,894.3 569.0,894.2 570.0,894.1 571.0,894.0 572.0,893.9 573.0,893.8 574.0,893.7 575.0,893.5 576.0,893.4 577.0,893.3 578.0,893.1 579.0,893.0 580.0,892.9 581.0,892.7 582.0,892.5 583.0,892.4 584.0,892.2 585.0,892.0 586.0,891.8 587.0,891.6 588.0,891.4 589.0,891.2 590.0,890.9 591.0,890.7 592.0,890.4 593.0,890.0 594.0,889.5 595.0,888.9 596.0,888.2 597.0,887.4 598.0,886.6 599.0,885.9 600.0,885.2 601.0,884.6 602.0,884.2 603.0,883.9 604.0,883.9 605.0,883.9 606.0,883.9 607.0,883.9 608.0,883.9 609.0,883.9 610.0,883.9 611.0,883.9 612.0,883.9 613.0,883.9 614.0,883.9 615.0,883.9 616.0,883.9 617.0,883.8 618.0,883.7 619.0,883.7 620.0,883.5 621.0,883.4 622.0,883.3 623.0,883.1 624.0,883.0 625.0,882.8 626.0,882.7 627.0,882.6 628.0,882.4 629.0,882.3 630.0,882.1 631.0,881.9 632.0,881.7 633.0,881.6 634.0,881.4 635.0,881.2 636.0,881.1 637.0,880.9 638.0,880.8 639.0,880.7 640.0,880.6 641.0,880.5 642.0,880.3 643.0,880.2 644.0,880.1 645.0,880.0 646.0,879.9 647.0,879.8 648.0,879.7 649.0,879.7 650.0,879.6 651.0,879.5 652.0,879.5 653.0,879.4 654.0,879.4 655.0,879.3" stroke="#d9d9b2" stroke-width="1.0" fill="none"/>
<path d="M110.49 658.20L109.26 660.33L106.79 660.33L105.56 658.20L106.79 656.07L109.26 656.07ZM121.75 675.60L120.52 677.73L118.05 677.73L116.82 675.60L118.05 673.47L120.52 673.47ZM133.01 689.60L131.78 691.73L129.32 691.73L128.08 689.60L129.32 687.47L131.78 687.47ZM144.27 699.30L143.04 701.43L140.58 701.43L139.35 699.30L140.58 697.17L143.04 697.17ZM155.54 704.40L154.30 706.53L151.84 706.53L150.61 704.40L151.84 702.27L154.30 702.27ZM166.80 702.70L165.57 704.83L163.10 704.83L161.87 702.70L163.10 700.57L165.57 700.57ZM178.06 698.30L176.83 700.43L174.36 700.43L173.13 698.30L174.36 696.17L176.83 696.17ZM189.32 693.30L188.09 695.43L185.63 695.43L184.39 693.30L185.63 691.17L188.09 691.17ZM200.58 689.80L199.35 691.93L196.89 691.93L195.66 689.80L196.89 687.67L199.35 687.67ZM211.85 689.80L210.61 691.93L208.15 691.93L206.92 689.80L208.15 687.67L210.61 687.67ZM223.11 693.00L221.88 695.13L219.41 695.13L218.18 693.00L219.41 690.87L221.88 690.87ZM234.37 698.70L233.14 700.83L230.67 700.83L229.44 698.70L230.67 696.57L233.14 696.57ZM245.63 706.10L244.40 708.23L241.94 708.23L240.70 706.10L241.94 703.97L244.40 703.97ZM256.89 714.30L255.66 716.43L253.20 716.43L251.97 714.30L253.20 712.17L255.66 712.17ZM268.16 723.60L266.92 725.73L264.46 725.73L263.23 723.60L264.46 721.47L266.92 721.47ZM279.42 733.70L278.19 735.83L275.72 735.83L274.49 733.70L275.72 731.57L278.19 731.57ZM290.68 743.60L289.45 745.73L286.98 745.73L285.75 743.60L286.98 741.47L289.45 741.47ZM301.94 754.30L300.71 756.43L298.25 756.43L297.01 754.30L298.25 752.17L300.71 752.17ZM313.20 764.40L311.97 766.53L309.51 766.53L308.28 764.40L309.51 762.27L311.97 762.27ZM324.47 774.40L323.23 776.53L320.77 776.53L319.54 774.40L320.77 772.27L323.23 772.27ZM335.73 784.90L334.50 787.03L332.03 787.03L330.80 784.90L332.03 782.77L334.50 782.77ZM346.99 794.10L345.76 796.23L343.29 796.23L342.06 794.10L343.29 791.97L345.76 791.97ZM358.25 803.20L357.02 805.33L354.56 805.33L353.32 803.20L354.56 801.07L357.02 801.07ZM369.51 812.40L368.28 814.53L365.82 814.53L364.59 812.40L365.82 810.27L368.28 810.27ZM380.78 821.30L379.54 823.43L377.08 823.43L375.85 821.30L377.08 819.17L379.54 819.17ZM392.04 829.00L390.81 831.13L388.34 831.13L387.11 829.00L388.34 826.87L390.81 826.87ZM403.30 836.80L402.07 838.93L399.60 838.93L398.37 836.80L399.60 834.67L402.07 834.67ZM414.56 844.40L413.33 846.53L410.87 846.53L409.63 844.40L410.87 842.27L413.33 842.27ZM425.82 852.10L424.59 854.23L422.13 854.23L420.90 852.10L422.13 849.97L424.59 849.97ZM437.09 858.30L435.85 860.43L433.39 860.43L432.16 858.30L433.39 856.17L435.85 856.17ZM448.35 865.60L447.12 867.73L444.65 867.73L443.42 865.60L444.65 863.47L447.12 863.47ZM459.61 871.70L458.38 873.83L455.91 873.83L454.68 871.70L455.91 869.57L458.38 869.57ZM470.87 877.00L469.64 879.13L467.18 879.13L465.94 877.00L467.18 874.87L469.64 874.87ZM482.13 882.40L480.90 884.53L478.44 884.53L477.21 882.40L478.44 880.27L480.90 880.27ZM493.40 886.40L492.16 888.53L489.70 888.53L488.47 886.40L489.70 884.27L492.16 884.27ZM504.66 889.60L503.43 891.73L500.96 891.73L499.73 889.60L500.96 887.47L503.43 887.47ZM515.92 892.00L514.69 894.13L512.22 894.13L510.99 892.00L512.22 889.87L514.69 889.87ZM527.18 894.40L525.95 896.53L523.49 896.53L522.25 894.40L523.49 892.27L525.95 892.27ZM538.44 895.00L537.21 897.13L534.75 897.13L533.52 895.00L534.75 892.87L537.21 892.87ZM549.71 895.40L548.47 897.53L546.01 897.53L544.78 895.40L546.01 893.27L548.47 893.27ZM560.97 895.00L559.74 897.13L557.27 897.13L556.04 895.00L557.27 892.87L559.74 892.87ZM572.23 894.10L571.00 896.23L568.53 896.23L567.30 894.10L568.53 891.97L571.00 891.97ZM583.49 892.70L582.26 894.83L579.80 894.83L578.56 892.70L579.80 890.57L582.26 890.57ZM594.75 890.30L593.52 892.43L591.06 892.43L589.83 890.30L591.06 888.17L593.52 888.17ZM606.02 883.90L604.78 886.03L602.32 886.03L601.09 883.90L602.32 881.77L604.78 881.77ZM617.28 883.90L616.05 886.03L613.58 886.03L612.35 883.90L613.58 881.77L616.05 881.77ZM628.54 882.70L627.31 884.83L624.84 884.83L623.61 882.70L624.84 880.57L627.31 880.57ZM639.80 880.90L638.57 883.03L636.11 883.03L634.87 880.90L636.11 878.77L638.57 878.77ZM651.06 879.70L649.83 881.83L647.37 881.83L646.14 879.70L647.37 877.57L649.83 877.57Z" fill="#808000"/>
<polyline points="84.0,656.0 85.0,657.5 86.0,658.9 87.0,660.4 88.0,662.0 89.0,663.5 90.0,665.1 91.0,666.6 92.0,668.2 93.0,669.7 94.0,671.1 95.0,672.5 96.0,673.8 97.0,675.1 98.0,676.3 99.0,677.5 100.0,678.7 101.0,679.8 102.0,680.9 103.0,682.0 104.0,683.0 105.0,684.0 106.0,684.9 107.0,685.8 108.0,686.7 109.0,687.5 110.0,688.4 111.0,689.2 112.0,690.1 113.0,690.9 114.0,691.7 115.0,692.4 116.0,693.0 117.0,693.5 118.0,693.9 119.0,694.1 120.0,694.1 121.0,694.2 122.0,694.3 123.0,694.3 124.0,694.4 125.0,694.4 126.0,694.4 127.0,694.5 128.0,694.5 129.0,694.5 130.0,694.5 131.0,694.5 132.0,694.5 133.0,694.4 134.0,694.3 135.0,694.2 136.0,694.1 137.0,694.0 138.0,693.9 139.0,693.7 140.0,693.6 141.0,693.4 142.0,693.3 143.0,693.1 144.0,692.9 145.0,692.7 146.0,692.4 147.0,692.1 148.0,691.9 149.0,691.6 150.0,691.3 151.0,691.0 152.0,690.8 153.0,690.5 154.0,690.3 155.0,690.0 156.0,689.7 157.0,689.4 158.0,689.2 159.0,688.9 160.0,688.7 161.0,688.4 162.0,688.3 163.0,688.2 164.0,688.1 165.0,688.1 166.0,688.1 167.0,688.1 168.0,688.1 169.0,688.1 170.0,688.1 171.0,688.1 172.0,688.1 173.0,688.1 174.0,688.1 175.0,688.1 176.0,688.1 177.0,688.2 178.0,688.4 179.0,688.6 180.0,688.9 181.0,689.2 182.0,689.6 183.0,690.0 184.0,690.4 185.0,690.9 186.0,691.3 187.0,691.7 188.0,692.0 189.0,692.4 190.0,692.9 191.0,693.3 192.0,693.8 193.0,694.2 194.0,694.7 195.0,695.2 196.0,695.8 197.0,696.3 198.0,696.8 199.0,697.4 200.0,698.0 201.0,698.6 202.0,699.3 203.0,699.9 204.0,700.6 205.0,701.3 206.0,702.0 207.0,702.7 208.0,703.4 209.0,704.1 210.0,704.8 211.0,705.5 212.0,706.2 213.0,706.9 214.0,707.6 215.0,708.3 216.0,709.0 217.0,709.8 218.0,710.5 219.0,711.3 220.0,712.0 221.0,712.8 222.0,713.6 223.0,714.4 224.0,715.2 225.0,716.0 226.0,716.8 227.0,717.6 228.0,718.5 229.0,719.3 230.0,720.2 231.0,721.0 232.0,721.9 233.0,722.7 234.0,723.6 235.0,724.4 236.0,725.3 237.0,726.2 238.0,727.0 239.0,727.9 240.0,728.8 241.0,729.7 242.0,730.6 243.0,731.4 244.0,732.4 245.0,733.3 246.0,734.2 247.0,735.1 248.0,736.1 249.0,737.0 250.0,738.0 251.0,738.9 252.0,739.8 253.0,740.8 254.0,741.7 255.0,742.6 256.0,743.5 257.0,744.4 258.0,745.3 259.0,746.2 260.0,747.1 261.0,748.0 262.0,748.9 263.0,749.8 264.0,750.7 265.0,751.6 266.0,752.5 267.0,753.4 268.0,754.4 269.0,755.3 270.0,756.3 271.0,757.3 272.0,758.2 273.0,759.2 274.0,760.2 275.0,761.1 276.0,762.0 277.0,762.9 278.0,763.8 279.0,764.7 280.0,765.6 281.0,766.4 282.0,767.3 283.0,768.1 284.0,769.0 285.0,769.8 286.0,770.7 287.0,771.5 288.0,772.4 289.0,773.3 290.0,774.2 291.0,775.1 292.0,776.0 293.0,776.9 294.0,777.8 295.0,778.8 296.0,779.7 297.0,780.6 298.0,781.5 299.0,782.4 300.0,783.3 301.0,784.1 302.0,785.0 303.0,785.9 304.0,786.7 305.0,787.6 306.0,788.4 307.0,789.2 308.0,790.1 309.0,790.9 310.0,791.8 311.0,792.6 312.0,793.5 313.0,794.3 314.0,795.1 315.0,796.0 316.0,796.8 317.0,797.6 318.0,798.5 319.0,799.3 320.0,800.1 321.0,801.0 322.0,801.8 323.0,802.6 324.0,803.5 325.0,804.3 326.0,805.2 327.0,806.0 328.0,806.9 329.0,807.7 330.0,808.6 331.0,809.4 332.0,810.2 333.0,811.0 334.0,811.8 335.0,812.6 336.0,813.3 337.0,814.1 338.0,814.8 339.0,815.6 340.0,816.3 341.0,817.0 342.0,817.8 343.0,818.5 344.0,819.2 345.0,819.9 346.0,820.7 347.0,821.4 348.0,822.1 349.0,822.8 350.0,823.5 351.0,824.2 352.0,824.9 353.0,825.6 354.0,826.3 355.0,827.0 356.0,827.8 357.0,828.5 358.0,829.2 359.0,829.9 360.0,830.6 361.0,831.4 362.0,832.1 363.0,832.8 364.0,833.5 365.0,834.2 366.0,834.9 367.0,835.6 368.0,836.2 369.0,836.9 370.0,837.5 371.0,838.1 372.0,838.8 373.0,839.4 374.0,840.0 375.0,840.6 376.0,841.2 377.0,841.9 378.0,842.5 379.0,843.2 380.0,843.8 381.0,844.5 382.0,845.2 383.0,845.9 384.0,846.6 385.0,847.3 386.0,848.0 387.0,848.6 388.0,849.3 389.0,849.9 390.0,850.6 391.0,851.2 392.0,851.8 393.0,852.3 394.0,852.9 395.0,853.5 396.0,854.0 397.0,854.6 398.0,855.1 399.0,855.7 400.0,856.3 401.0,856.9 402.0,857.5 403.0,858.1 404.0,858.8 405.0,859.4 406.0,860.1 407.0,860.7 408.0,861.4 409.0,862.0 410.0,862.6 411.0,863.3 412.0,863.8 413.0,864.4 414.0,865.0 415.0,865.5 416.0,866.1 417.0,866.6 418.0,867.1 419.0,867.6 420.0,868.1 421.0,868.7 422.0,869.2 423.0,869.7 424.0,870.2 425.0,870.8 426.0,871.3 427.0,871.8 428.0,872.3 429.0,872.8 430.0,873.4 431.0,873.9 432.0,874.4 433.0,874.9 434.0,875.5 435.0,876.0 436.0,876.6 437.0,877.1 438.0,877.7 439.0,878.2 440.0,878.8 441.0,879.4 442.0,879.9 443.0,880.5 444.0,881.0 445.0,881.6 446.0,882.1 447.0,882.5 448.0,883.0 449.0,883.5 450.0,883.9 451.0,884.4 452.0,884.8 453.0,885.2 454.0,885.6 455.0,886.1 456.0,886.5 457.0,886.9 458.0,887.4 459.0,887.8 460.0,888.2 461.0,888.7 462.0,889.1 463.0,889.6 464.0,890.0 465.0,890.4 466.0,890.8 467.0,891.2 468.0,891.6 469.0,892.0 470.0,892.4 471.0,892.8 472.0,893.2 473.0,893.6 474.0,894.0 475.0,894.4 476.0,894.7 477.0,895.1 478.0,895.4 479.0,895.7 480.0,896.0 481.0,896.2 482.0,896.5 483.0,896.7 484.0,896.9 485.0,897.1 486.0,897.4 487.0,897.6 488.0,897.8 489.0,898.0 490.0,898.2 491.0,898.4 492.0,898.7 493.0,898.9 494.0,899.2 495.0,899.5 496.0,899.8 497.0,900.0 498.0,900.3 499.0,900.5 500.0,900.8 501.0,901.0 502.0,901.2 503.0,901.3 504.0,901.5 505.0,901.6 506.0,901.7 507.0,901.9 508.0,902.0 509.0,902.1 510.0,902.2 511.0,902.3 512.0,902.4 513.0,902.5 514.0,902.5 515.0,902.6 516.0,902.7 517.0,902.8 518.0,902.9 519.0,903.0 520.0,903.0 521.0,903.1 522.0,903.1 523.0,903.2 524.0,903.2 525.0,903.2 526.0,903.2 527.0,903.2 528.0,903.2 529.0,903.2 530.0,903.1 531.0,903.1 532.0,903.1 533.0,903.1 534.0,903.1 535.0,903.0 536.0,903.0 537.0,903.0 538.0,902.9 539.0,902.9 540.0,902.8 541.0,902.8 542.0,902.7 543.0,902.6 544.0,902.6 545.0,902.5 546.0,902.4 547.0,902.3 548.0,902.2 549.0,902.1 550.0,902.0 551.0,901.8 552.0,901.6 553.0,901.5 554.0,901.3 555.0,901.1 556.0,900.9 557.0,900.7 558.0,900.6 559.0,900.4 560.0,900.3 561.0,900.1 562.0,900.0 563.0,899.9 564.0,899.7 565.0,899.6 566.0,899.4 567.0,899.3 568.0,899.2 569.0,899.0 570.0,898.9 571.0,898.7 572.0,898.5 573.0,898.4 574.0,898.2 575.0,898.1 576.0,897.9 577.0,897.7 578.0,897.5 579.0,897.4 580.0,897.2 581.0,897.0 582.0,896.8 583.0,896.7 584.0,896.5 585.0,896.3 586.0,896.1 587.0,896.0 588.0,895.8 589.0,895.6 590.0,895.3 591.0,895.1 592.0,894.8 593.0,894.4 594.0,893.8 595.0,893.1 596.0,892.2 597.0,891.3 598.0,890.3 599.0,889.4 600.0,888.6 601.0,887.9 602.0,887.3 603.0,887.0 604.0,887.0 605.0,887.0 606.0,887.0 607.0,887.0 608.0,887.1 609.0,887.1 610.0,887.1 611.0,887.1 612.0,887.2 613.0,887.2 614.0,887.2 615.0,887.2 616.0,887.1 617.0,887.0 618.0,886.7 619.0,886.4 620.0,886.0 621.0,885.6 622.0,885.1 623.0,884.7 624.0,884.2 625.0,883.8 626.0,883.3 627.0,882.9 628.0,882.5 629.0,882.0 630.0,881.6 631.0,881.1 632.0,880.6 633.0,880.1 634.0,879.6 635.0,879.1 636.0,878.6 637.0,878.2 638.0,877.7 639.0,877.2 640.0,876.8 641.0,876.3 642.0,875.9 643.0,875.4 644.0,875.0 645.0,874.6 646.0,874.1 647.0,873.7 648.0,873.3 649.0,872.8 650.0,872.4 651.0,872.0 652.0,871.5 653.0,871.1 654.0,870.7 655.0,870.3" stroke="#b2b2d9" stroke-width="1.0" fill="none"/>
<path d="M85.50 655.37L88.20 657.32L87.17 660.49L83.83 660.49L82.80 657.32ZM96.76 671.96L99.46 673.92L98.43 677.09L95.10 677.09L94.07 673.92ZM108.02 683.87L110.72 685.82L109.69 688.99L106.36 688.99L105.33 685.82ZM119.29 691.26L121.98 693.22L120.95 696.39L117.62 696.39L116.59 693.22ZM130.55 691.66L133.24 693.62L132.21 696.79L128.88 696.79L127.85 693.62ZM141.81 690.46L144.51 692.42L143.48 695.59L140.14 695.59L139.11 692.42ZM153.07 687.66L155.77 689.62L154.74 692.79L151.41 692.79L150.38 689.62ZM164.33 685.26L167.03 687.22L166.00 690.39L162.67 690.39L161.64 687.22ZM175.60 685.26L178.29 687.22L177.26 690.39L173.93 690.39L172.90 687.22ZM186.86 688.76L189.55 690.72L188.52 693.89L185.19 693.89L184.16 690.72ZM198.12 694.06L200.82 696.02L199.79 699.19L196.45 699.19L195.42 696.02ZM209.38 701.56L212.08 703.52L211.05 706.69L207.72 706.69L206.69 703.52ZM220.64 709.66L223.34 711.62L222.31 714.79L218.98 714.79L217.95 711.62ZM231.91 718.96L234.60 720.92L233.57 724.09L230.24 724.09L229.21 720.92ZM243.17 728.76L245.86 730.72L244.83 733.89L241.50 733.89L240.47 730.72ZM254.43 739.26L257.13 741.22L256.10 744.39L252.76 744.39L251.73 741.22ZM265.69 749.37L268.39 751.32L267.36 754.49L264.03 754.49L263.00 751.32ZM276.95 760.06L279.65 762.02L278.62 765.19L275.29 765.19L274.26 762.02ZM288.22 769.76L290.91 771.72L289.88 774.89L286.55 774.89L285.52 771.72ZM299.48 779.96L302.17 781.92L301.14 785.09L297.81 785.09L296.78 781.92ZM310.74 789.56L313.44 791.52L312.41 794.69L309.07 794.69L308.04 791.52ZM322.00 798.96L324.70 800.92L323.67 804.09L320.34 804.09L319.31 800.92ZM333.26 808.37L335.96 810.32L334.93 813.49L331.60 813.49L330.57 810.32ZM344.53 816.76L347.22 818.72L346.19 821.89L342.86 821.89L341.83 818.72ZM355.79 824.76L358.48 826.72L357.45 829.89L354.12 829.89L353.09 826.72ZM367.05 832.76L369.75 834.72L368.72 837.89L365.38 837.89L364.35 834.72ZM378.31 839.87L381.01 841.82L379.98 844.99L376.65 844.99L375.62 841.82ZM389.57 847.46L392.27 849.42L391.24 852.59L387.91 852.59L386.88 849.42ZM400.84 853.96L403.53 855.92L402.50 859.09L399.17 859.09L398.14 855.92ZM412.10 861.06L414.79 863.02L413.76 866.19L410.43 866.19L409.40 863.02ZM423.36 867.06L426.06 869.02L425.03 872.19L421.69 872.19L420.66 869.02ZM434.62 872.96L437.32 874.92L436.29 878.09L432.96 878.09L431.93 874.92ZM445.88 879.16L448.58 881.12L447.55 884.29L444.22 884.29L443.19 881.12ZM457.15 884.16L459.84 886.12L458.81 889.29L455.48 889.29L454.45 886.12ZM468.41 888.96L471.10 890.92L470.07 894.09L466.74 894.09L465.71 890.92ZM479.67 893.06L482.37 895.02L481.34 898.19L478.00 898.19L476.97 895.02ZM490.93 895.56L493.63 897.52L492.60 900.69L489.27 900.69L488.24 897.52ZM502.19 898.37L504.89 900.32L503.86 903.49L500.53 903.49L499.50 900.32ZM513.46 899.66L516.15 901.62L515.12 904.79L511.79 904.79L510.76 901.62ZM524.72 900.37L527.41 902.32L526.38 905.49L523.05 905.49L522.02 902.32ZM535.98 900.16L538.68 902.12L537.65 905.29L534.31 905.29L533.28 902.12ZM547.24 899.46L549.94 901.42L548.91 904.59L545.58 904.59L544.55 901.42ZM558.50 897.66L561.20 899.62L560.17 902.79L556.84 902.79L555.81 899.62ZM569.77 896.06L572.46 898.02L571.43 901.19L568.10 901.19L567.07 898.02ZM581.03 894.16L583.72 896.12L582.69 899.29L579.36 899.29L578.33 896.12ZM592.29 891.87L594.99 893.82L593.96 896.99L590.62 896.99L589.59 893.82ZM603.55 884.16L606.25 886.12L605.22 889.29L601.89 889.29L600.86 886.12ZM614.81 884.37L617.51 886.32L616.48 889.49L613.15 889.49L612.12 886.32ZM626.08 880.46L628.77 882.42L627.74 885.59L624.41 885.59L623.38 882.42ZM637.34 875.16L640.03 877.12L639.00 880.29L635.67 880.29L634.64 877.12ZM648.60 870.16L651.30 872.12L650.27 875.29L646.93 875.29L645.90 872.12Z" fill="#000080"/>
<polyline points="84.0,680.7 85.0,681.3 86.0,681.9 87.0,682.5 88.0,683.0 89.0,683.5 90.0,684.0 91.0,684.4 92.0,684.7 93.0,685.0 94.0,685.3 95.0,685.5 96.0,685.6 97.0,685.6 98.0,685.6 99.0,685.6 100.0,685.6 101.0,685.5 102.0,685.5 103.0,685.4 104.0,685.4 105.0,685.3 106.0,685.3 107.0,685.2 108.0,685.2 109.0,685.1 110.0,685.1 111.0,685.0 112.0,684.9 113.0,684.8 114.0,684.7 115.0,684.6 116.0,684.5 117.0,684.5 118.0,684.4 119.0,684.4 120.0,684.4 121.0,684.4 122.0,684.4 123.0,684.4 124.0,684.5 125.0,684.5 126.0,684.5 127.0,684.6 128.0,684.6 129.0,684.6 130.0,684.7 131.0,684.7 132.0,684.8 133.0,684.9 134.0,685.1 135.0,685.2 136.0,685.4 137.0,685.6 138.0,685.8 139.0,686.0 140.0,686.3 141.0,686.5 142.0,686.7 143.0,687.0 144.0,687.3 145.0,687.5 146.0,687.8 147.0,688.2 148.0,688.5 149.0,688.8 150.0,689.2 151.0,689.6 152.0,690.0 153.0,690.4 154.0,690.8 155.0,691.2 156.0,691.7 157.0,692.2 158.0,692.7 159.0,693.2 160.0,693.8 161.0,694.4 162.0,694.9 163.0,695.5 164.0,696.1 165.0,696.7 166.0,697.3 167.0,698.0 168.0,698.6 169.0,699.3 170.0,700.0 171.0,700.7 172.0,701.4 173.0,702.1 174.0,702.8 175.0,703.6 176.0,704.3 177.0,705.0 178.0,705.8 179.0,706.6 180.0,707.3 181.0,708.1 182.0,708.9 183.0,709.7 184.0,710.5 185.0,711.4 186.0,712.2 187.0,713.0 188.0,713.9 189.0,714.7 190.0,715.6 191.0,716.5 192.0,717.3 193.0,718.2 194.0,719.1 195.0,720.0 196.0,720.9 197.0,721.7 198.0,722.6 199.0,723.4 200.0,724.3 201.0,725.1 202.0,725.9 203.0,726.7 204.0,727.5 205.0,728.3 206.0,729.1 207.0,730.0 208.0,730.8 209.0,731.7 210.0,732.6 211.0,733.5 212.0,734.4 213.0,735.4 214.0,736.3 215.0,737.3 216.0,738.3 217.0,739.3 218.0,740.2 219.0,741.2 220.0,742.2 221.0,743.1 222.0,744.1 223.0,745.1 224.0,746.0 225.0,747.0 226.0,747.9 227.0,748.9 228.0,749.9 229.0,750.8 230.0,751.7 231.0,752.7 232.0,753.6 233.0,754.5 234.0,755.4 235.0,756.3 236.0,757.1 237.0,758.0 238.0,758.9 239.0,759.7 240.0,760.6 241.0,761.5 242.0,762.4 243.0,763.3 244.0,764.1 245.0,765.0 246.0,766.0 247.0,766.9 248.0,767.8 249.0,768.7 250.0,769.6 251.0,770.5 252.0,771.4 253.0,772.3 254.0,773.2 255.0,774.1 256.0,775.0 257.0,775.8 258.0,776.7 259.0,777.6 260.0,778.4 261.0,779.3 262.0,780.1 263.0,781.0 264.0,781.8 265.0,782.7 266.0,783.6 267.0,784.4 268.0,785.3 269.0,786.2 270.0,787.1 271.0,787.9 272.0,788.8 273.0,789.7 274.0,790.5 275.0,791.4 276.0,792.3 277.0,793.1 278.0,794.0 279.0,794.8 280.0,795.7 281.0,796.5 282.0,797.4 283.0,798.2 284.0,799.1 285.0,799.9 286.0,800.7 287.0,801.6 288.0,802.4 289.0,803.3 290.0,804.1 291.0,804.9 292.0,805.8 293.0,806.6 294.0,807.4 295.0,808.2 296.0,809.1 297.0,809.9 298.0,810.7 299.0,811.5 300.0,812.3 301.0,813.1 302.0,813.9 303.0,814.7 304.0,815.5 305.0,816.3 306.0,817.1 307.0,817.9 308.0,818.7 309.0,819.5 310.0,820.2 311.0,821.0 312.0,821.7 313.0,822.5 314.0,823.2 315.0,824.0 316.0,824.7 317.0,825.4 318.0,826.1 319.0,826.9 320.0,827.6 321.0,828.3 322.0,829.0 323.0,829.7 324.0,830.4 325.0,831.1 326.0,831.8 327.0,832.5 328.0,833.2 329.0,833.9 330.0,834.6 331.0,835.3 332.0,835.9 333.0,836.6 334.0,837.3 335.0,838.0 336.0,838.7 337.0,839.4 338.0,840.1 339.0,840.8 340.0,841.4 341.0,842.1 342.0,842.8 343.0,843.4 344.0,844.1 345.0,844.7 346.0,845.3 347.0,845.9 348.0,846.5 349.0,847.1 350.0,847.6 351.0,848.2 352.0,848.8 353.0,849.4 354.0,849.9 355.0,850.5 356.0,851.1 357.0,851.7 358.0,852.3 359.0,853.0 360.0,853.6 361.0,854.2 362.0,854.8 363.0,855.5 364.0,856.1 365.0,856.7 366.0,857.3 367.0,857.9 368.0,858.5 369.0,859.0 370.0,859.6 371.0,860.2 372.0,860.7 373.0,861.3 374.0,861.8 375.0,862.4 376.0,862.9 377.0,863.5 378.0,864.0 379.0,864.6 380.0,865.1 381.0,865.7 382.0,866.2 383.0,866.8 384.0,867.4 385.0,867.9 386.0,868.5 387.0,869.0 388.0,869.6 389.0,870.1 390.0,870.6 391.0,871.2 392.0,871.7 393.0,872.2 394.0,872.7 395.0,873.3 396.0,873.8 397.0,874.3 398.0,874.8 399.0,875.4 400.0,875.9 401.0,876.4 402.0,876.9 403.0,877.4 404.0,877.9 405.0,878.4 406.0,878.9 407.0,879.4 408.0,879.9 409.0,880.4 410.0,880.9 411.0,881.4 412.0,882.0 413.0,882.5 414.0,883.0 415.0,883.5 416.0,884.0 417.0,884.5 418.0,885.0 419.0,885.5 420.0,886.0 421.0,886.5 422.0,887.0 423.0,887.5 424.0,888.0 425.0,888.5 426.0,889.0 427.0,889.5 428.0,889.9 429.0,890.4 430.0,890.9 431.0,891.4 432.0,891.8 433.0,892.3 434.0,892.7 435.0,893.2 436.0,893.6 437.0,894.0 438.0,894.4 439.0,894.8 440.0,895.2 441.0,895.6 442.0,896.0 443.0,896.4 444.0,896.8 445.0,897.2 446.0,897.6 447.0,898.1 448.0,898.5 449.0,898.9 450.0,899.3 451.0,899.7 452.0,900.1 453.0,900.5 454.0,900.9 455.0,901.3 456.0,901.7 457.0,902.0 458.0,902.4 459.0,902.8 460.0,903.2 461.0,903.5 462.0,903.9 463.0,904.2 464.0,904.6 465.0,904.9 466.0,905.2 467.0,905.6 468.0,905.9 469.0,906.2 470.0,906.5 471.0,906.8 472.0,907.1 473.0,907.4 474.0,907.6 475.0,907.9 476.0,908.2 477.0,908.4 478.0,908.6 479.0,908.9 480.0,909.1 481.0,909.3 482.0,909.4 483.0,909.6 484.0,909.8 485.0,910.0 486.0,910.1 487.0,910.3 488.0,910.4 489.0,910.6 490.0,910.7 491.0,910.8 492.0,910.9 493.0,911.1 494.0,911.2 495.0,911.3 496.0,911.4 497.0,911.5 498.0,911.6 499.0,911.7 500.0,911.8 501.0,911.9 502.0,911.9 503.0,911.9 504.0,912.0 505.0,912.0 506.0,912.0 507.0,912.0 508.0,912.0 509.0,912.1 510.0,912.1 511.0,912.1 512.0,912.1 513.0,912.1 514.0,912.1 515.0,912.1 516.0,912.1 517.0,912.1 518.0,912.0 519.0,912.0 520.0,912.0 521.0,911.9 522.0,911.9 523.0,911.9 524.0,911.8 525.0,911.8 526.0,911.7 527.0,911.7 528.0,911.6 529.0,911.6 530.0,911.5 531.0,911.4 532.0,911.4 533.0,911.3 534.0,911.2 535.0,911.1 536.0,911.0 537.0,910.9 538.0,910.7 539.0,910.6 540.0,910.4 541.0,910.2 542.0,910.0 543.0,909.7 544.0,909.5 545.0,909.3 546.0,909.1 547.0,908.9 548.0,908.6 549.0,908.4 550.0,908.2 551.0,908.0 552.0,907.8 553.0,907.5 554.0,907.3 555.0,907.1 556.0,906.8 557.0,906.6 558.0,906.4 559.0,906.2 560.0,906.0 561.0,905.8 562.0,905.6 563.0,905.4 564.0,905.2 565.0,905.0 566.0,904.8 567.0,904.6 568.0,904.4 569.0,904.2 570.0,903.9 571.0,903.7 572.0,903.5 573.0,903.2 574.0,903.0 575.0,902.7 576.0,902.5 577.0,902.2 578.0,902.0 579.0,901.7 580.0,901.5 581.0,901.2 582.0,901.0 583.0,900.7 584.0,900.5 585.0,900.2 586.0,900.0 587.0,899.7 588.0,899.5 589.0,899.2 590.0,898.9 591.0,898.7 592.0,898.4 593.0,898.1 594.0,897.8 595.0,897.4 596.0,897.1 597.0,896.8 598.0,896.4 599.0,896.1 600.0,895.7 601.0,895.4 602.0,895.0 603.0,894.7 604.0,894.4 605.0,894.0 606.0,893.7 607.0,893.4 608.0,893.0 609.0,892.7 610.0,892.4 611.0,892.1 612.0,891.8 613.0,891.5 614.0,891.2 615.0,891.0 616.0,890.7 617.0,890.5 618.0,890.2 619.0,890.0 620.0,889.8 621.0,889.5 622.0,889.3 623.0,889.1 624.0,889.0 625.0,888.8 626.0,888.6 627.0,888.5 628.0,888.3 629.0,888.2 630.0,888.0 631.0,887.9 632.0,887.8 633.0,887.7 634.0,887.6 635.0,887.4 636.0,887.3 637.0,887.2 638.0,887.1 639.0,887.0 640.0,887.0 641.0,886.9 642.0,886.8 643.0,886.7 644.0,886.7 645.0,886.6 646.0,886.5 647.0,886.4 648.0,886.3 649.0,886.1 650.0,886.0 651.0,885.8 652.0,885.6 653.0,885.4 654.0,885.1 655.0,884.9" stroke="#800080" stroke-width="2.1" fill="none"/>
<path d="M94.61 683.44h4.31v4.31h-4.31ZM105.87 683.04h4.31v4.31h-4.31ZM117.13 682.24h4.31v4.31h-4.31ZM128.39 682.54h4.31v4.31h-4.31ZM139.65 684.54h4.31v4.31h-4.31ZM150.92 688.24h4.31v4.31h-4.31ZM162.18 694.14h4.31v4.31h-4.31ZM173.44 701.84h4.31v4.31h-4.31ZM184.70 710.74h4.31v4.31h-4.31ZM195.96 720.54h4.31v4.31h-4.31ZM207.23 729.84h4.31v4.31h-4.31ZM218.49 740.64h4.31v4.31h-4.31ZM229.75 751.34h4.31v4.31h-4.31ZM241.01 761.24h4.31v4.31h-4.31ZM252.27 771.44h4.31v4.31h-4.31ZM263.54 781.14h4.31v4.31h-4.31ZM274.80 790.94h4.31v4.31h-4.31ZM286.06 800.44h4.31v4.31h-4.31ZM297.32 809.74h4.31v4.31h-4.31ZM308.58 818.64h4.31v4.31h-4.31ZM319.85 826.84h4.31v4.31h-4.31ZM331.11 834.64h4.31v4.31h-4.31ZM342.37 842.24h4.31v4.31h-4.31ZM353.63 848.84h4.31v4.31h-4.31ZM364.89 855.74h4.31v4.31h-4.31ZM376.16 862.04h4.31v4.31h-4.31ZM387.42 868.24h4.31v4.31h-4.31ZM398.68 874.14h4.31v4.31h-4.31ZM409.94 879.84h4.31v4.31h-4.31ZM421.20 885.54h4.31v4.31h-4.31ZM432.47 890.84h4.31v4.31h-4.31ZM443.73 895.44h4.31v4.31h-4.31ZM454.99 899.94h4.31v4.31h-4.31ZM466.25 903.84h4.31v4.31h-4.31ZM477.51 906.84h4.31v4.31h-4.31ZM488.78 908.64h4.31v4.31h-4.31ZM500.04 909.74h4.31v4.31h-4.31ZM511.30 909.94h4.31v4.31h-4.31ZM522.56 909.64h4.31v4.31h-4.31ZM533.82 908.84h4.31v4.31h-4.31ZM545.09 906.64h4.31v4.31h-4.31ZM556.35 904.14h4.31v4.31h-4.31ZM567.61 901.84h4.31v4.31h-4.31ZM578.87 899.04h4.31v4.31h-4.31ZM590.13 896.14h4.31v4.31h-4.31ZM601.40 892.34h4.31v4.31h-4.31ZM612.66 888.84h4.31v4.31h-4.31ZM623.92 886.44h4.31v4.31h-4.31ZM635.18 885.04h4.31v4.31h-4.31ZM646.44 884.04h4.31v4.31h-4.31Z" fill="#800080"/>
<polyline points="84.0,675.5 85.0,675.8 86.0,676.1 87.0,676.4 88.0,676.7 89.0,677.0 90.0,677.3 91.0,677.6 92.0,678.0 93.0,678.3 94.0,678.6 95.0,679.0 96.0,679.3 97.0,679.7 98.0,680.0 99.0,680.4 100.0,680.8 101.0,681.2 102.0,681.6 103.0,682.0 104.0,682.4 105.0,682.8 106.0,683.2 107.0,683.6 108.0,684.0 109.0,684.4 110.0,684.8 111.0,685.2 112.0,685.6 113.0,686.0 114.0,686.4 115.0,686.9 116.0,687.3 117.0,687.8 118.0,688.2 119.0,688.8 120.0,689.3 121.0,689.8 122.0,690.4 123.0,691.1 124.0,691.7 125.0,692.4 126.0,693.1 127.0,693.8 128.0,694.5 129.0,695.2 130.0,695.9 131.0,696.6 132.0,697.4 133.0,698.1 134.0,698.9 135.0,699.7 136.0,700.4 137.0,701.2 138.0,702.0 139.0,702.8 140.0,703.6 141.0,704.4 142.0,705.1 143.0,705.9 144.0,706.6 145.0,707.3 146.0,708.1 147.0,708.8 148.0,709.5 149.0,710.2 150.0,710.9 151.0,711.7 152.0,712.5 153.0,713.2 154.0,714.1 155.0,714.9 156.0,715.7 157.0,716.6 158.0,717.5 159.0,718.3 160.0,719.2 161.0,720.1 162.0,721.0 163.0,721.9 164.0,722.8 165.0,723.7 166.0,724.6 167.0,725.5 168.0,726.3 169.0,727.2 170.0,728.1 171.0,729.0 172.0,729.9 173.0,730.8 174.0,731.7 175.0,732.7 176.0,733.6 177.0,734.5 178.0,735.4 179.0,736.4 180.0,737.3 181.0,738.3 182.0,739.3 183.0,740.2 184.0,741.2 185.0,742.1 186.0,743.1 187.0,744.0 188.0,745.0 189.0,745.9 190.0,746.9 191.0,747.8 192.0,748.8 193.0,749.7 194.0,750.7 195.0,751.6 196.0,752.5 197.0,753.5 198.0,754.4 199.0,755.3 200.0,756.2 201.0,757.1 202.0,758.0 203.0,759.0 204.0,759.9 205.0,760.8 206.0,761.7 207.0,762.6 208.0,763.5 209.0,764.4 210.0,765.3 211.0,766.2 212.0,767.1 213.0,767.9 214.0,768.8 215.0,769.7 216.0,770.6 217.0,771.5 218.0,772.4 219.0,773.3 220.0,774.2 221.0,775.1 222.0,776.0 223.0,777.0 224.0,777.9 225.0,778.8 226.0,779.7 227.0,780.6 228.0,781.6 229.0,782.5 230.0,783.4 231.0,784.3 232.0,785.2 233.0,786.1 234.0,787.0 235.0,787.8 236.0,788.7 237.0,789.6 238.0,790.5 239.0,791.3 240.0,792.2 241.0,793.0 242.0,793.9 243.0,794.8 244.0,795.6 245.0,796.5 246.0,797.3 247.0,798.1 248.0,799.0 249.0,799.8 250.0,800.6 251.0,801.5 252.0,802.3 253.0,803.1 254.0,803.9 255.0,804.8 256.0,805.6 257.0,806.4 258.0,807.3 259.0,808.1 260.0,808.9 261.0,809.8 262.0,810.6 263.0,811.4 264.0,812.2 265.0,813.0 266.0,813.8 267.0,814.6 268.0,815.4 269.0,816.2 270.0,817.0 271.0,817.8 272.0,818.6 273.0,819.4 274.0,820.1 275.0,820.9 276.0,821.7 277.0,822.4 278.0,823.2 279.0,824.0 280.0,824.7 281.0,825.5 282.0,826.2 283.0,826.9 284.0,827.7 285.0,828.4 286.0,829.2 287.0,829.9 288.0,830.6 289.0,831.4 290.0,832.1 291.0,832.9 292.0,833.6 293.0,834.4 294.0,835.1 295.0,835.8 296.0,836.6 297.0,837.3 298.0,838.0 299.0,838.8 300.0,839.5 301.0,840.2 302.0,840.9 303.0,841.6 304.0,842.3 305.0,843.0 306.0,843.7 307.0,844.3 308.0,845.0 309.0,845.7 310.0,846.3 311.0,847.0 312.0,847.6 313.0,848.2 314.0,848.8 315.0,849.4 316.0,850.0 317.0,850.6 318.0,851.1 319.0,851.7 320.0,852.3 321.0,852.9 322.0,853.5 323.0,854.1 324.0,854.7 325.0,855.3 326.0,855.9 327.0,856.6 328.0,857.2 329.0,857.8 330.0,858.4 331.0,859.0 332.0,859.6 333.0,860.1 334.0,860.7 335.0,861.3 336.0,861.8 337.0,862.4 338.0,863.0 339.0,863.5 340.0,864.0 341.0,864.6 342.0,865.1 343.0,865.6 344.0,866.1 345.0,866.6 346.0,867.1 347.0,867.6 348.0,868.1 349.0,868.5 350.0,869.0 351.0,869.4 352.0,869.9 353.0,870.4 354.0,870.8 355.0,871.3 356.0,871.8 357.0,872.3 358.0,872.8 359.0,873.4 360.0,873.9 361.0,874.4 362.0,875.0 363.0,875.5 364.0,876.0 365.0,876.6 366.0,877.1 367.0,877.6 368.0,878.1 369.0,878.6 370.0,879.0 371.0,879.5 372.0,880.0 373.0,880.4 374.0,880.9 375.0,881.4 376.0,881.8 377.0,882.3 378.0,882.8 379.0,883.2 380.0,883.7 381.0,884.2 382.0,884.6 383.0,885.1 384.0,885.6 385.0,886.0 386.0,886.5 387.0,887.0 388.0,887.5 389.0,887.9 390.0,888.4 391.0,888.9 392.0,889.4 393.0,889.9 394.0,890.3 395.0,890.8 396.0,891.3 397.0,891.8 398.0,892.3 399.0,892.8 400.0,893.2 401.0,893.7 402.0,894.1 403.0,894.5 404.0,895.0 405.0,895.4 406.0,895.8 407.0,896.2 408.0,896.6 409.0,897.0 410.0,897.4 411.0,897.8 412.0,898.3 413.0,898.7 414.0,899.1 415.0,899.6 416.0,900.1 417.0,900.5 418.0,901.0 419.0,901.4 420.0,901.9 421.0,902.4 422.0,902.8 423.0,903.2 424.0,903.7 425.0,904.1 426.0,904.5 427.0,904.9 428.0,905.3 429.0,905.8 430.0,906.2 431.0,906.6 432.0,907.0 433.0,907.4 434.0,907.8 435.0,908.1 436.0,908.5 437.0,908.9 438.0,909.3 439.0,909.7 440.0,910.0 441.0,910.4 442.0,910.8 443.0,911.2 444.0,911.5 445.0,911.9 446.0,912.2 447.0,912.6 448.0,913.0 449.0,913.3 450.0,913.7 451.0,914.1 452.0,914.4 453.0,914.8 454.0,915.1 455.0,915.4 456.0,915.8 457.0,916.1 458.0,916.3 459.0,916.6 460.0,916.9 461.0,917.2 462.0,917.4 463.0,917.7 464.0,917.9 465.0,918.1 466.0,918.4 467.0,918.6 468.0,918.8 469.0,919.0 470.0,919.3 471.0,919.5 472.0,919.7 473.0,919.9 474.0,920.2 475.0,920.4 476.0,920.6 477.0,920.7 478.0,920.9 479.0,921.0 480.0,921.1 481.0,921.2 482.0,921.3 483.0,921.4 484.0,921.5 485.0,921.6 486.0,921.6 487.0,921.7 488.0,921.7 489.0,921.8 490.0,921.8 491.0,921.8 492.0,921.8 493.0,921.8 494.0,921.8 495.0,921.8 496.0,921.8 497.0,921.8 498.0,921.8 499.0,921.7 500.0,921.7 501.0,921.7 502.0,921.7 503.0,921.7 504.0,921.6 505.0,921.5 506.0,921.4 507.0,921.3 508.0,921.2 509.0,921.1 510.0,920.9 511.0,920.8 512.0,920.7 513.0,920.6 514.0,920.4 515.0,920.3 516.0,920.2 517.0,920.1 518.0,920.0 519.0,919.9 520.0,919.8 521.0,919.7 522.0,919.6 523.0,919.5 524.0,919.4 525.0,919.3 526.0,919.1 527.0,919.0 528.0,918.8 529.0,918.6 530.0,918.5 531.0,918.3 532.0,918.1 533.0,917.9 534.0,917.7 535.0,917.5 536.0,917.3 537.0,917.1 538.0,916.9 539.0,916.6 540.0,916.4 541.0,916.2 542.0,915.9 543.0,915.7 544.0,915.4 545.0,915.2 546.0,914.9 547.0,914.7 548.0,914.4 549.0,914.2 550.0,913.9 551.0,913.6 552.0,913.4 553.0,913.1 554.0,912.8 555.0,912.6 556.0,912.3 557.0,912.0 558.0,911.7 559.0,911.5 560.0,911.2 561.0,910.9 562.0,910.5 563.0,910.2 564.0,909.9 565.0,909.6 566.0,909.3 567.0,909.0 568.0,908.7 569.0,908.4 570.0,908.1 571.0,907.9 572.0,907.7 573.0,907.4 574.0,907.2 575.0,907.0 576.0,906.8 577.0,906.6 578.0,906.4 579.0,906.1 580.0,905.9 581.0,905.6 582.0,905.3 583.0,905.1 584.0,904.8 585.0,904.5 586.0,904.2 587.0,903.9 588.0,903.6 589.0,903.2 590.0,902.8 591.0,902.4 592.0,901.9 593.0,901.4 594.0,900.5 595.0,899.4 596.0,898.2 597.0,896.9 598.0,895.6 599.0,894.3 600.0,893.2 601.0,892.2 602.0,891.5 603.0,891.1 604.0,891.0 605.0,891.0 606.0,891.1 607.0,891.2 608.0,891.4 609.0,891.5 610.0,891.7 611.0,891.8 612.0,891.9 613.0,892.0 614.0,892.1 615.0,892.1 616.0,892.0 617.0,891.8 618.0,891.6 619.0,891.3 620.0,890.9 621.0,890.6 622.0,890.2 623.0,889.9 624.0,889.6 625.0,889.4 626.0,889.3 627.0,889.2 628.0,889.2 629.0,889.2 630.0,889.1 631.0,889.1 632.0,889.1 633.0,889.0 634.0,889.0 635.0,889.0 636.0,889.0 637.0,888.9 638.0,888.9 639.0,888.8 640.0,888.8 641.0,888.7 642.0,888.7 643.0,888.6 644.0,888.6 645.0,888.5 646.0,888.5 647.0,888.4 648.0,888.3 649.0,888.3 650.0,888.2 651.0,888.1 652.0,888.1 653.0,888.0 654.0,887.9 655.0,887.9" stroke="#d9b2b2" stroke-width="1.0" fill="none"/>
<path d="M94.24 679.60a2.52 2.52 0 1 0 5.04 0a2.52 2.52 0 1 0 -5.04 0ZM105.50 684.00a2.52 2.52 0 1 0 5.04 0a2.52 2.52 0 1 0 -5.04 0ZM116.77 688.90a2.52 2.52 0 1 0 5.04 0a2.52 2.52 0 1 0 -5.04 0ZM128.03 696.30a2.52 2.52 0 1 0 5.04 0a2.52 2.52 0 1 0 -5.04 0ZM139.29 705.00a2.52 2.52 0 1 0 5.04 0a2.52 2.52 0 1 0 -5.04 0ZM150.55 713.30a2.52 2.52 0 1 0 5.04 0a2.52 2.52 0 1 0 -5.04 0ZM161.81 723.10a2.52 2.52 0 1 0 5.04 0a2.52 2.52 0 1 0 -5.04 0ZM173.08 733.20a2.52 2.52 0 1 0 5.04 0a2.52 2.52 0 1 0 -5.04 0ZM184.34 743.90a2.52 2.52 0 1 0 5.04 0a2.52 2.52 0 1 0 -5.04 0ZM195.60 754.50a2.52 2.52 0 1 0 5.04 0a2.52 2.52 0 1 0 -5.04 0ZM206.86 764.70a2.52 2.52 0 1 0 5.04 0a2.52 2.52 0 1 0 -5.04 0ZM218.12 774.80a2.52 2.52 0 1 0 5.04 0a2.52 2.52 0 1 0 -5.04 0ZM229.39 785.10a2.52 2.52 0 1 0 5.04 0a2.52 2.52 0 1 0 -5.04 0ZM240.65 794.90a2.52 2.52 0 1 0 5.04 0a2.52 2.52 0 1 0 -5.04 0ZM251.91 804.30a2.52 2.52 0 1 0 5.04 0a2.52 2.52 0 1 0 -5.04 0ZM263.17 813.60a2.52 2.52 0 1 0 5.04 0a2.52 2.52 0 1 0 -5.04 0ZM274.43 822.40a2.52 2.52 0 1 0 5.04 0a2.52 2.52 0 1 0 -5.04 0ZM285.70 830.80a2.52 2.52 0 1 0 5.04 0a2.52 2.52 0 1 0 -5.04 0ZM296.96 839.10a2.52 2.52 0 1 0 5.04 0a2.52 2.52 0 1 0 -5.04 0ZM308.22 846.80a2.52 2.52 0 1 0 5.04 0a2.52 2.52 0 1 0 -5.04 0ZM319.48 853.50a2.52 2.52 0 1 0 5.04 0a2.52 2.52 0 1 0 -5.04 0ZM330.74 860.30a2.52 2.52 0 1 0 5.04 0a2.52 2.52 0 1 0 -5.04 0ZM342.01 866.40a2.52 2.52 0 1 0 5.04 0a2.52 2.52 0 1 0 -5.04 0ZM353.27 871.70a2.52 2.52 0 1 0 5.04 0a2.52 2.52 0 1 0 -5.04 0ZM364.53 877.60a2.52 2.52 0 1 0 5.04 0a2.52 2.52 0 1 0 -5.04 0ZM375.79 882.90a2.52 2.52 0 1 0 5.04 0a2.52 2.52 0 1 0 -5.04 0ZM387.05 888.20a2.52 2.52 0 1 0 5.04 0a2.52 2.52 0 1 0 -5.04 0ZM398.32 893.60a2.52 2.52 0 1 0 5.04 0a2.52 2.52 0 1 0 -5.04 0ZM409.58 898.30a2.52 2.52 0 1 0 5.04 0a2.52 2.52 0 1 0 -5.04 0ZM420.84 903.40a2.52 2.52 0 1 0 5.04 0a2.52 2.52 0 1 0 -5.04 0ZM432.10 908.00a2.52 2.52 0 1 0 5.04 0a2.52 2.52 0 1 0 -5.04 0ZM443.36 912.20a2.52 2.52 0 1 0 5.04 0a2.52 2.52 0 1 0 -5.04 0ZM454.63 916.10a2.52 2.52 0 1 0 5.04 0a2.52 2.52 0 1 0 -5.04 0ZM465.89 918.90a2.52 2.52 0 1 0 5.04 0a2.52 2.52 0 1 0 -5.04 0ZM477.15 921.10a2.52 2.52 0 1 0 5.04 0a2.52 2.52 0 1 0 -5.04 0ZM488.41 921.80a2.52 2.52 0 1 0 5.04 0a2.52 2.52 0 1 0 -5.04 0ZM499.67 921.70a2.52 2.52 0 1 0 5.04 0a2.52 2.52 0 1 0 -5.04 0ZM510.94 920.50a2.52 2.52 0 1 0 5.04 0a2.52 2.52 0 1 0 -5.04 0ZM522.20 919.30a2.52 2.52 0 1 0 5.04 0a2.52 2.52 0 1 0 -5.04 0ZM533.46 917.30a2.52 2.52 0 1 0 5.04 0a2.52 2.52 0 1 0 -5.04 0ZM544.72 914.60a2.52 2.52 0 1 0 5.04 0a2.52 2.52 0 1 0 -5.04 0ZM555.98 911.60a2.52 2.52 0 1 0 5.04 0a2.52 2.52 0 1 0 -5.04 0ZM567.25 908.20a2.52 2.52 0 1 0 5.04 0a2.52 2.52 0 1 0 -5.04 0ZM578.51 905.60a2.52 2.52 0 1 0 5.04 0a2.52 2.52 0 1 0 -5.04 0ZM589.77 901.80a2.52 2.52 0 1 0 5.04 0a2.52 2.52 0 1 0 -5.04 0ZM601.03 891.00a2.52 2.52 0 1 0 5.04 0a2.52 2.52 0 1 0 -5.04 0ZM612.29 892.10a2.52 2.52 0 1 0 5.04 0a2.52 2.52 0 1 0 -5.04 0ZM623.56 889.30a2.52 2.52 0 1 0 5.04 0a2.52 2.52 0 1 0 -5.04 0ZM634.82 888.90a2.52 2.52 0 1 0 5.04 0a2.52 2.52 0 1 0 -5.04 0ZM646.08 888.30a2.52 2.52 0 1 0 5.04 0a2.52 2.52 0 1 0 -5.04 0Z" fill="#800000"/>
<polyline points="84.0,682.6 85.0,683.4 86.0,684.3 87.0,685.1 88.0,686.0 89.0,686.8 90.0,687.6 91.0,688.5 92.0,689.3 93.0,690.2 94.0,691.0 95.0,691.8 96.0,692.7 97.0,693.5 98.0,694.3 99.0,695.2 100.0,696.0 101.0,696.8 102.0,697.7 103.0,698.5 104.0,699.3 105.0,700.2 106.0,701.0 107.0,701.8 108.0,702.7 109.0,703.5 110.0,704.4 111.0,705.2 112.0,706.1 113.0,707.0 114.0,707.8 115.0,708.7 116.0,709.6 117.0,710.4 118.0,711.3 119.0,712.2 120.0,713.0 121.0,713.9 122.0,714.7 123.0,715.6 124.0,716.5 125.0,717.3 126.0,718.2 127.0,719.1 128.0,720.0 129.0,720.8 130.0,721.7 131.0,722.6 132.0,723.5 133.0,724.4 134.0,725.3 135.0,726.2 136.0,727.1 137.0,728.0 138.0,728.9 139.0,729.8 140.0,730.8 141.0,731.7 142.0,732.6 143.0,733.5 144.0,734.4 145.0,735.3 146.0,736.2 147.0,737.1 148.0,738.1 149.0,739.0 150.0,739.9 151.0,740.8 152.0,741.7 153.0,742.6 154.0,743.5 155.0,744.5 156.0,745.4 157.0,746.3 158.0,747.2 159.0,748.1 160.0,749.0 161.0,749.9 162.0,750.8 163.0,751.8 164.0,752.7 165.0,753.6 166.0,754.6 167.0,755.5 168.0,756.5 169.0,757.5 170.0,758.4 171.0,759.4 172.0,760.4 173.0,761.3 174.0,762.3 175.0,763.2 176.0,764.2 177.0,765.1 178.0,766.0 179.0,766.9 180.0,767.9 181.0,768.8 182.0,769.7 183.0,770.6 184.0,771.5 185.0,772.4 186.0,773.2 187.0,774.1 188.0,775.0 189.0,775.9 190.0,776.7 191.0,777.6 192.0,778.4 193.0,779.3 194.0,780.1 195.0,781.0 196.0,781.8 197.0,782.7 198.0,783.6 199.0,784.5 200.0,785.4 201.0,786.3 202.0,787.3 203.0,788.2 204.0,789.1 205.0,790.1 206.0,791.0 207.0,791.9 208.0,792.9 209.0,793.8 210.0,794.6 211.0,795.5 212.0,796.4 213.0,797.2 214.0,798.1 215.0,798.9 216.0,799.8 217.0,800.6 218.0,801.4 219.0,802.2 220.0,803.1 221.0,803.9 222.0,804.7 223.0,805.5 224.0,806.3 225.0,807.2 226.0,808.0 227.0,808.8 228.0,809.6 229.0,810.4 230.0,811.2 231.0,812.0 232.0,812.8 233.0,813.6 234.0,814.4 235.0,815.2 236.0,816.0 237.0,816.8 238.0,817.5 239.0,818.3 240.0,819.1 241.0,819.9 242.0,820.7 243.0,821.5 244.0,822.2 245.0,823.0 246.0,823.8 247.0,824.5 248.0,825.3 249.0,826.1 250.0,826.8 251.0,827.6 252.0,828.3 253.0,829.1 254.0,829.9 255.0,830.6 256.0,831.4 257.0,832.2 258.0,833.0 259.0,833.8 260.0,834.6 261.0,835.4 262.0,836.2 263.0,837.0 264.0,837.7 265.0,838.5 266.0,839.2 267.0,840.0 268.0,840.7 269.0,841.4 270.0,842.1 271.0,842.8 272.0,843.5 273.0,844.2 274.0,844.9 275.0,845.6 276.0,846.3 277.0,847.0 278.0,847.7 279.0,848.5 280.0,849.2 281.0,849.9 282.0,850.6 283.0,851.4 284.0,852.1 285.0,852.8 286.0,853.5 287.0,854.2 288.0,854.9 289.0,855.5 290.0,856.2 291.0,856.9 292.0,857.5 293.0,858.2 294.0,858.8 295.0,859.4 296.0,860.0 297.0,860.7 298.0,861.3 299.0,861.8 300.0,862.4 301.0,862.9 302.0,863.5 303.0,864.0 304.0,864.5 305.0,865.0 306.0,865.5 307.0,866.0 308.0,866.5 309.0,867.0 310.0,867.4 311.0,867.9 312.0,868.4 313.0,868.9 314.0,869.4 315.0,869.8 316.0,870.3 317.0,870.8 318.0,871.2 319.0,871.7 320.0,872.2 321.0,872.6 322.0,873.1 323.0,873.6 324.0,874.0 325.0,874.5 326.0,875.0 327.0,875.5 328.0,875.9 329.0,876.4 330.0,876.9 331.0,877.4 332.0,877.8 333.0,878.3 334.0,878.7 335.0,879.2 336.0,879.6 337.0,880.1 338.0,880.5 339.0,881.0 340.0,881.4 341.0,881.9 342.0,882.3 343.0,882.7 344.0,883.2 345.0,883.6 346.0,884.0 347.0,884.5 348.0,884.9 349.0,885.3 350.0,885.7 351.0,886.2 352.0,886.6 353.0,887.0 354.0,887.4 355.0,887.9 356.0,888.3 357.0,888.7 358.0,889.1 359.0,889.6 360.0,890.0 361.0,890.4 362.0,890.9 363.0,891.3 364.0,891.7 365.0,892.1 366.0,892.6 367.0,893.0 368.0,893.4 369.0,893.8 370.0,894.2 371.0,894.6 372.0,895.0 373.0,895.4 374.0,895.8 375.0,896.2 376.0,896.6 377.0,897.0 378.0,897.5 379.0,897.9 380.0,898.4 381.0,898.9 382.0,899.3 383.0,899.8 384.0,900.3 385.0,900.8 386.0,901.3 387.0,901.8 388.0,902.3 389.0,902.7 390.0,903.2 391.0,903.6 392.0,904.0 393.0,904.4 394.0,904.8 395.0,905.2 396.0,905.6 397.0,906.0 398.0,906.4 399.0,906.8 400.0,907.2 401.0,907.6 402.0,908.0 403.0,908.4 404.0,908.8 405.0,909.2 406.0,909.6 407.0,910.0 408.0,910.4 409.0,910.9 410.0,911.3 411.0,911.7 412.0,912.1 413.0,912.5 414.0,912.8 415.0,913.2 416.0,913.6 417.0,914.0 418.0,914.4 419.0,914.8 420.0,915.1 421.0,915.5 422.0,915.9 423.0,916.3 424.0,916.6 425.0,917.0 426.0,917.4 427.0,917.7 428.0,918.1 429.0,918.4 430.0,918.8 431.0,919.2 432.0,919.5 433.0,919.8 434.0,920.2 435.0,920.5 436.0,920.9 437.0,921.2 438.0,921.5 439.0,921.9 440.0,922.2 441.0,922.5 442.0,922.8 443.0,923.1 444.0,923.4 445.0,923.7 446.0,924.0 447.0,924.3 448.0,924.6 449.0,924.9 450.0,925.2 451.0,925.4 452.0,925.7 453.0,926.0 454.0,926.2 455.0,926.5 456.0,926.7 457.0,927.0 458.0,927.2 459.0,927.4 460.0,927.7 461.0,927.9 462.0,928.2 463.0,928.4 464.0,928.6 465.0,928.8 466.0,929.0 467.0,929.1 468.0,929.3 469.0,929.4 470.0,929.4 471.0,929.5 472.0,929.6 473.0,929.7 474.0,929.8 475.0,929.8 476.0,929.9 477.0,929.9 478.0,930.0 479.0,930.0 480.0,930.0 481.0,930.0 482.0,930.0 483.0,930.0 484.0,929.9 485.0,929.9 486.0,929.9 487.0,929.9 488.0,929.8 489.0,929.8 490.0,929.7 491.0,929.7 492.0,929.6 493.0,929.6 494.0,929.5 495.0,929.4 496.0,929.3 497.0,929.2 498.0,929.0 499.0,928.9 500.0,928.8 501.0,928.6 502.0,928.5 503.0,928.4 504.0,928.3 505.0,928.1 506.0,928.0 507.0,927.9 508.0,927.7 509.0,927.6 510.0,927.4 511.0,927.3 512.0,927.1 513.0,927.0 514.0,926.8 515.0,926.6 516.0,926.5 517.0,926.3 518.0,926.1 519.0,925.9 520.0,925.7 521.0,925.5 522.0,925.3 523.0,925.1 524.0,924.9 525.0,924.6 526.0,924.4 527.0,924.2 528.0,923.9 529.0,923.6 530.0,923.4 531.0,923.1 532.0,922.8 533.0,922.5 534.0,922.2 535.0,922.0 536.0,921.7 537.0,921.4 538.0,921.2 539.0,920.9 540.0,920.6 541.0,920.4 542.0,920.1 543.0,919.8 544.0,919.6 545.0,919.3 546.0,919.0 547.0,918.8 548.0,918.5 549.0,918.2 550.0,918.0 551.0,917.7 552.0,917.4 553.0,917.2 554.0,916.9 555.0,916.7 556.0,916.4 557.0,916.1 558.0,915.8 559.0,915.6 560.0,915.3 561.0,915.0 562.0,914.7 563.0,914.4 564.0,914.1 565.0,913.9 566.0,913.6 567.0,913.3 568.0,913.0 569.0,912.6 570.0,912.3 571.0,912.0 572.0,911.7 573.0,911.3 574.0,911.0 575.0,910.6 576.0,910.3 577.0,909.9 578.0,909.6 579.0,909.2 580.0,908.9 581.0,908.5 582.0,908.2 583.0,907.9 584.0,907.6 585.0,907.3 586.0,907.0 587.0,906.6 588.0,906.3 589.0,906.0 590.0,905.6 591.0,905.3 592.0,904.8 593.0,904.3 594.0,903.7 595.0,902.9 596.0,902.1 597.0,901.2 598.0,900.3 599.0,899.4 600.0,898.7 601.0,898.0 602.0,897.4 603.0,897.1 604.0,897.0 605.0,896.9 606.0,896.8 607.0,896.7 608.0,896.7 609.0,896.6 610.0,896.6 611.0,896.5 612.0,896.5 613.0,896.4 614.0,896.4 615.0,896.3 616.0,896.2 617.0,896.0 618.0,895.8 619.0,895.6 620.0,895.3 621.0,895.1 622.0,894.8 623.0,894.6 624.0,894.4 625.0,894.2 626.0,894.0 627.0,893.9 628.0,893.7 629.0,893.6 630.0,893.4 631.0,893.3 632.0,893.2 633.0,893.0 634.0,892.9 635.0,892.9 636.0,892.8 637.0,892.7 638.0,892.7 639.0,892.6 640.0,892.6 641.0,892.6 642.0,892.5 643.0,892.5 644.0,892.5 645.0,892.4 646.0,892.4 647.0,892.4 648.0,892.4 649.0,892.4 650.0,892.4 651.0,892.4 652.0,892.4 653.0,892.5 654.0,892.5 655.0,892.6" stroke="#b2d9b2" stroke-width="1.0" fill="none"/>
<path d="M96.76 689.94L100.28 695.86L93.24 695.86ZM108.02 699.34L111.54 705.26L104.50 705.26ZM119.29 709.04L122.81 714.96L115.77 714.96ZM130.55 718.84L134.07 724.76L127.03 724.76ZM141.81 729.04L145.33 734.96L138.29 734.96ZM153.07 739.34L156.59 745.26L149.55 745.26ZM164.33 749.64L167.85 755.56L160.81 755.56ZM175.60 760.44L179.12 766.36L172.08 766.36ZM186.86 770.64L190.38 776.56L183.34 776.56ZM198.12 780.34L201.64 786.26L194.60 786.26ZM209.38 790.74L212.90 796.66L205.86 796.66ZM220.64 800.24L224.16 806.16L217.12 806.16ZM231.91 809.34L235.43 815.26L228.39 815.26ZM243.17 818.24L246.69 824.16L239.65 824.16ZM254.43 826.84L257.95 832.76L250.91 832.76ZM265.69 835.64L269.21 841.56L262.17 841.56ZM276.95 843.64L280.47 849.56L273.43 849.56ZM288.22 851.64L291.74 857.56L284.70 857.56ZM299.48 858.74L303.00 864.66L295.96 864.66ZM310.74 864.44L314.26 870.36L307.22 870.36ZM322.00 869.74L325.52 875.66L318.48 875.66ZM333.26 875.04L336.78 880.96L329.74 880.96ZM344.53 880.04L348.05 885.96L341.01 885.96ZM355.79 884.84L359.31 890.76L352.27 890.76ZM367.05 889.64L370.57 895.56L363.53 895.56ZM378.31 894.24L381.83 900.16L374.79 900.16ZM389.57 899.64L393.09 905.56L386.05 905.56ZM400.84 904.14L404.36 910.06L397.32 910.06ZM412.10 908.74L415.62 914.66L408.58 914.66ZM423.36 913.04L426.88 918.96L419.84 918.96ZM434.62 917.04L438.14 922.96L431.10 922.96ZM445.88 920.64L449.40 926.56L442.36 926.56ZM457.15 923.64L460.67 929.56L453.63 929.56ZM468.41 925.94L471.93 931.86L464.89 931.86ZM479.67 926.64L483.19 932.56L476.15 932.56ZM490.93 926.34L494.45 932.26L487.41 932.26ZM502.19 925.14L505.71 931.06L498.67 931.06ZM513.46 923.54L516.98 929.46L509.94 929.46ZM524.72 921.34L528.24 927.26L521.20 927.26ZM535.98 918.34L539.50 924.26L532.46 924.26ZM547.24 915.34L550.76 921.26L543.72 921.26ZM558.50 912.34L562.02 918.26L554.98 918.26ZM569.77 909.04L573.29 914.96L566.25 914.96ZM581.03 905.14L584.55 911.06L577.51 911.06ZM592.29 901.34L595.81 907.26L588.77 907.26ZM603.55 893.64L607.07 899.56L600.03 899.56ZM614.81 892.94L618.33 898.86L611.29 898.86ZM626.08 890.64L629.60 896.56L622.56 896.56ZM637.34 889.34L640.86 895.26L633.82 895.26ZM648.60 889.04L652.12 894.96L645.08 894.96Z" fill="#008000"/>
<polyline points="84.0,712.5 85.0,713.2 86.0,713.9 87.0,714.7 88.0,715.5 89.0,716.2 90.0,717.0 91.0,717.8 92.0,718.7 93.0,719.5 94.0,720.4 95.0,721.2 96.0,722.1 97.0,723.0 98.0,723.9 99.0,724.9 100.0,725.9 101.0,726.9 102.0,727.9 103.0,728.9 104.0,730.0 105.0,731.0 106.0,732.0 107.0,733.1 108.0,734.1 109.0,735.1 110.0,736.1 111.0,737.1 112.0,738.1 113.0,739.1 114.0,740.1 115.0,741.1 116.0,742.1 117.0,743.1 118.0,744.0 119.0,745.0 120.0,746.0 121.0,747.0 122.0,747.9 123.0,748.8 124.0,749.8 125.0,750.7 126.0,751.7 127.0,752.6 128.0,753.6 129.0,754.5 130.0,755.5 131.0,756.4 132.0,757.4 133.0,758.4 134.0,759.4 135.0,760.5 136.0,761.5 137.0,762.5 138.0,763.5 139.0,764.5 140.0,765.5 141.0,766.4 142.0,767.4 143.0,768.3 144.0,769.2 145.0,770.0 146.0,770.9 147.0,771.8 148.0,772.6 149.0,773.5 150.0,774.3 151.0,775.2 152.0,776.0 153.0,776.9 154.0,777.8 155.0,778.8 156.0,779.7 157.0,780.7 158.0,781.6 159.0,782.6 160.0,783.5 161.0,784.5 162.0,785.4 163.0,786.4 164.0,787.3 165.0,788.2 166.0,789.1 167.0,790.0 168.0,790.9 169.0,791.8 170.0,792.7 171.0,793.6 172.0,794.5 173.0,795.4 174.0,796.3 175.0,797.2 176.0,798.1 177.0,799.0 178.0,799.8 179.0,800.7 180.0,801.6 181.0,802.5 182.0,803.4 183.0,804.3 184.0,805.2 185.0,806.1 186.0,806.9 187.0,807.8 188.0,808.7 189.0,809.6 190.0,810.4 191.0,811.3 192.0,812.2 193.0,813.0 194.0,813.9 195.0,814.8 196.0,815.6 197.0,816.5 198.0,817.3 199.0,818.1 200.0,819.0 201.0,819.8 202.0,820.6 203.0,821.5 204.0,822.3 205.0,823.1 206.0,823.9 207.0,824.7 208.0,825.6 209.0,826.4 210.0,827.2 211.0,828.0 212.0,828.9 213.0,829.7 214.0,830.5 215.0,831.3 216.0,832.2 217.0,833.0 218.0,833.8 219.0,834.6 220.0,835.4 221.0,836.2 222.0,837.0 223.0,837.7 224.0,838.5 225.0,839.3 226.0,840.1 227.0,840.8 228.0,841.6 229.0,842.3 230.0,843.0 231.0,843.8 232.0,844.5 233.0,845.2 234.0,845.8 235.0,846.5 236.0,847.1 237.0,847.8 238.0,848.4 239.0,849.0 240.0,849.7 241.0,850.3 242.0,851.0 243.0,851.7 244.0,852.4 245.0,853.1 246.0,853.8 247.0,854.6 248.0,855.3 249.0,856.1 250.0,856.8 251.0,857.6 252.0,858.3 253.0,859.0 254.0,859.7 255.0,860.4 256.0,861.0 257.0,861.6 258.0,862.3 259.0,862.9 260.0,863.5 261.0,864.1 262.0,864.7 263.0,865.2 264.0,865.8 265.0,866.4 266.0,867.0 267.0,867.6 268.0,868.1 269.0,868.7 270.0,869.3 271.0,869.9 272.0,870.4 273.0,871.0 274.0,871.5 275.0,872.1 276.0,872.6 277.0,873.1 278.0,873.6 279.0,874.1 280.0,874.6 281.0,875.1 282.0,875.5 283.0,876.0 284.0,876.4 285.0,876.9 286.0,877.4 287.0,877.8 288.0,878.3 289.0,878.8 290.0,879.3 291.0,879.7 292.0,880.2 293.0,880.7 294.0,881.2 295.0,881.7 296.0,882.2 297.0,882.6 298.0,883.1 299.0,883.6 300.0,884.0 301.0,884.5 302.0,885.0 303.0,885.4 304.0,885.9 305.0,886.4 306.0,886.8 307.0,887.2 308.0,887.7 309.0,888.1 310.0,888.5 311.0,888.9 312.0,889.3 313.0,889.6 314.0,890.0 315.0,890.3 316.0,890.7 317.0,891.0 318.0,891.3 319.0,891.7 320.0,892.0 321.0,892.3 322.0,892.7 323.0,893.1 324.0,893.4 325.0,893.8 326.0,894.2 327.0,894.6 328.0,895.0 329.0,895.4 330.0,895.8 331.0,896.2 332.0,896.6 333.0,897.0 334.0,897.4 335.0,897.8 336.0,898.2 337.0,898.6 338.0,899.0 339.0,899.4 340.0,899.8 341.0,900.2 342.0,900.6 343.0,901.0 344.0,901.4 345.0,901.8 346.0,902.2 347.0,902.6 348.0,903.0 349.0,903.4 350.0,903.8 351.0,904.2 352.0,904.5 353.0,904.9 354.0,905.3 355.0,905.7 356.0,906.1 357.0,906.5 358.0,906.8 359.0,907.2 360.0,907.6 361.0,908.0 362.0,908.3 363.0,908.7 364.0,909.0 365.0,909.4 366.0,909.7 367.0,910.1 368.0,910.4 369.0,910.7 370.0,911.0 371.0,911.3 372.0,911.6 373.0,911.9 374.0,912.2 375.0,912.5 376.0,912.8 377.0,913.2 378.0,913.5 379.0,913.8 380.0,914.2 381.0,914.6 382.0,914.9 383.0,915.3 384.0,915.7 385.0,916.1 386.0,916.5 387.0,916.9 388.0,917.3 389.0,917.7 390.0,918.1 391.0,918.5 392.0,918.9 393.0,919.3 394.0,919.7 395.0,920.1 396.0,920.5 397.0,920.9 398.0,921.3 399.0,921.7 400.0,922.1 401.0,922.6 402.0,923.0 403.0,923.4 404.0,923.9 405.0,924.3 406.0,924.8 407.0,925.2 408.0,925.7 409.0,926.1 410.0,926.6 411.0,927.0 412.0,927.4 413.0,927.7 414.0,928.1 415.0,928.5 416.0,928.8 417.0,929.2 418.0,929.5 419.0,929.8 420.0,930.2 421.0,930.5 422.0,930.8 423.0,931.2 424.0,931.5 425.0,931.9 426.0,932.2 427.0,932.6 428.0,932.9 429.0,933.3 430.0,933.6 431.0,933.9 432.0,934.3 433.0,934.6 434.0,934.8 435.0,935.1 436.0,935.3 437.0,935.6 438.0,935.8 439.0,936.0 440.0,936.3 441.0,936.5 442.0,936.7 443.0,936.9 444.0,937.1 445.0,937.2 446.0,937.4 447.0,937.6 448.0,937.8 449.0,937.9 450.0,938.1 451.0,938.2 452.0,938.4 453.0,938.5 454.0,938.7 455.0,938.8 456.0,939.0 457.0,939.1 458.0,939.2 459.0,939.3 460.0,939.5 461.0,939.6 462.0,939.8 463.0,939.9 464.0,940.0 465.0,940.1 466.0,940.2 467.0,940.3 468.0,940.3 469.0,940.3 470.0,940.3 471.0,940.3 472.0,940.3 473.0,940.3 474.0,940.3 475.0,940.3 476.0,940.3 477.0,940.3 478.0,940.3 479.0,940.3 480.0,940.3 481.0,940.3 482.0,940.2 483.0,940.1 484.0,940.0 485.0,939.9 486.0,939.8 487.0,939.6 488.0,939.5 489.0,939.4 490.0,939.2 491.0,939.1 492.0,939.0 493.0,938.8 494.0,938.7 495.0,938.5 496.0,938.4 497.0,938.2 498.0,938.1 499.0,937.9 500.0,937.7 501.0,937.5 502.0,937.3 503.0,937.1 504.0,936.9 505.0,936.7 506.0,936.5 507.0,936.2 508.0,935.9 509.0,935.7 510.0,935.4 511.0,935.2 512.0,934.9 513.0,934.6 514.0,934.4 515.0,934.1 516.0,933.8 517.0,933.5 518.0,933.2 519.0,932.9 520.0,932.6 521.0,932.3 522.0,932.1 523.0,931.8 524.0,931.6 525.0,931.3 526.0,931.2 527.0,931.0 528.0,930.8 529.0,930.7 530.0,930.5 531.0,930.4 532.0,930.3 533.0,930.1 534.0,929.9 535.0,929.7 536.0,929.5 537.0,929.2 538.0,928.9 539.0,928.5 540.0,928.1 541.0,927.7 542.0,927.2 543.0,926.7 544.0,926.3 545.0,925.8 546.0,925.4 547.0,925.0 548.0,924.6 549.0,924.3 550.0,923.9 551.0,923.6 552.0,923.2 553.0,922.9 554.0,922.5 555.0,922.2 556.0,921.9 557.0,921.5 558.0,921.2 559.0,920.8 560.0,920.5 561.0,920.1 562.0,919.7 563.0,919.4 564.0,919.0 565.0,918.7 566.0,918.3 567.0,917.9 568.0,917.6 569.0,917.2 570.0,916.8 571.0,916.4 572.0,916.1 573.0,915.7 574.0,915.3 575.0,914.9 576.0,914.5 577.0,914.1 578.0,913.7 579.0,913.4 580.0,913.0 581.0,912.6 582.0,912.2 583.0,911.9 584.0,911.6 585.0,911.2 586.0,910.9 587.0,910.6 588.0,910.2 589.0,909.9 590.0,909.5 591.0,909.1 592.0,908.7 593.0,908.3 594.0,907.8 595.0,907.2 596.0,906.6 597.0,906.0 598.0,905.3 599.0,904.7 600.0,904.2 601.0,903.6 602.0,903.2 603.0,902.8 604.0,902.6 605.0,902.4 606.0,902.2 607.0,902.0 608.0,901.8 609.0,901.7 610.0,901.5 611.0,901.4 612.0,901.3 613.0,901.2 614.0,901.1 615.0,901.0 616.0,900.9 617.0,900.8 618.0,900.8 619.0,900.7 620.0,900.6 621.0,900.6 622.0,900.5 623.0,900.5 624.0,900.4 625.0,900.4 626.0,900.4 627.0,900.4 628.0,900.4 629.0,900.4 630.0,900.5 631.0,900.5 632.0,900.5 633.0,900.6 634.0,900.6 635.0,900.7 636.0,900.7 637.0,900.8 638.0,900.8 639.0,900.9 640.0,901.0 641.0,901.1 642.0,901.2 643.0,901.3 644.0,901.5 645.0,901.6 646.0,901.8 647.0,901.9 648.0,902.1 649.0,902.3 650.0,902.4 651.0,902.6 652.0,902.8 653.0,903.0 654.0,903.1 655.0,903.3" stroke="#b2d9d9" stroke-width="1.0" fill="none"/>
<path d="M96.76 726.16L100.28 720.24L93.24 720.24ZM108.02 737.46L111.54 731.54L104.50 731.54ZM119.29 748.66L122.81 742.74L115.77 742.74ZM130.55 759.36L134.07 753.44L127.03 753.44ZM141.81 770.56L145.33 764.64L138.29 764.64ZM153.07 780.36L156.59 774.44L149.55 774.44ZM164.33 790.96L167.85 785.04L160.81 785.04ZM175.60 801.06L179.12 795.14L172.08 795.14ZM186.86 811.06L190.38 805.14L183.34 805.14ZM198.12 820.76L201.64 814.84L194.60 814.84ZM209.38 830.06L212.90 824.14L205.86 824.14ZM220.64 839.26L224.16 833.34L217.12 833.34ZM231.91 847.76L235.43 841.84L228.39 841.84ZM243.17 855.16L246.69 849.24L239.65 849.24ZM254.43 863.36L257.95 857.44L250.91 857.44ZM265.69 870.16L269.21 864.24L262.17 864.24ZM276.95 876.46L280.47 870.54L273.43 870.54ZM288.22 881.76L291.74 875.84L284.70 875.84ZM299.48 887.16L303.00 881.24L295.96 881.24ZM310.74 892.16L314.26 886.24L307.22 886.24ZM322.00 896.06L325.52 890.14L318.48 890.14ZM333.26 900.46L336.78 894.54L329.74 894.54ZM344.53 904.96L348.05 899.04L341.01 899.04ZM355.79 909.36L359.31 903.44L352.27 903.44ZM367.05 913.46L370.57 907.54L363.53 907.54ZM378.31 916.96L381.83 911.04L374.79 911.04ZM389.57 921.26L393.09 915.34L386.05 915.34ZM400.84 925.86L404.36 919.94L397.32 919.94ZM412.10 930.76L415.62 924.84L408.58 924.84ZM423.36 934.66L426.88 928.74L419.84 928.74ZM434.62 938.36L438.14 932.44L431.10 932.44ZM445.88 940.76L449.40 934.84L442.36 934.84ZM457.15 942.46L460.67 936.54L453.63 936.54ZM468.41 943.66L471.93 937.74L464.89 937.74ZM479.67 943.66L483.19 937.74L476.15 937.74ZM490.93 942.46L494.45 936.54L487.41 936.54ZM502.19 940.66L505.71 934.74L498.67 934.74ZM513.46 937.86L516.98 931.94L509.94 931.94ZM524.72 934.76L528.24 928.84L521.20 928.84ZM535.98 932.86L539.50 926.94L532.46 926.94ZM547.24 928.26L550.76 922.34L543.72 922.34ZM558.50 924.36L562.02 918.44L554.98 918.44ZM569.77 920.26L573.29 914.34L566.25 914.34ZM581.03 915.96L584.55 910.04L577.51 910.04ZM592.29 911.96L595.81 906.04L588.77 906.04ZM603.55 906.06L607.07 900.14L600.03 900.14ZM614.81 904.36L618.33 898.44L611.29 898.44ZM626.08 903.76L629.60 897.84L622.56 897.84ZM637.34 904.16L640.86 898.24L633.82 898.24ZM648.60 905.56L652.12 899.64L645.08 899.64Z" fill="#008080"/>
<polyline points="84.0,752.0 85.0,752.7 86.0,753.4 87.0,754.1 88.0,754.8 89.0,755.5 90.0,756.2 91.0,756.8 92.0,757.5 93.0,758.2 94.0,758.9 95.0,759.6 96.0,760.3 97.0,761.0 98.0,761.7 99.0,762.4 100.0,763.1 101.0,763.8 102.0,764.4 103.0,765.1 104.0,765.8 105.0,766.5 106.0,767.2 107.0,767.9 108.0,768.6 109.0,769.3 110.0,770.0 111.0,770.7 112.0,771.4 113.0,772.1 114.0,772.9 115.0,773.6 116.0,774.3 117.0,775.1 118.0,775.8 119.0,776.5 120.0,777.3 121.0,778.0 122.0,778.7 123.0,779.5 124.0,780.2 125.0,781.0 126.0,781.8 127.0,782.5 128.0,783.3 129.0,784.0 130.0,784.8 131.0,785.5 132.0,786.3 133.0,787.1 134.0,787.8 135.0,788.6 136.0,789.4 137.0,790.2 138.0,791.0 139.0,791.8 140.0,792.6 141.0,793.4 142.0,794.3 143.0,795.1 144.0,796.0 145.0,796.9 146.0,797.8 147.0,798.7 148.0,799.6 149.0,800.6 150.0,801.5 151.0,802.4 152.0,803.3 153.0,804.1 154.0,805.0 155.0,805.8 156.0,806.6 157.0,807.4 158.0,808.2 159.0,809.0 160.0,809.8 161.0,810.6 162.0,811.5 163.0,812.3 164.0,813.1 165.0,814.0 166.0,814.8 167.0,815.7 168.0,816.6 169.0,817.5 170.0,818.4 171.0,819.3 172.0,820.2 173.0,821.1 174.0,822.0 175.0,822.9 176.0,823.7 177.0,824.6 178.0,825.4 179.0,826.2 180.0,827.0 181.0,827.8 182.0,828.6 183.0,829.4 184.0,830.2 185.0,831.0 186.0,831.8 187.0,832.6 188.0,833.4 189.0,834.2 190.0,835.0 191.0,835.8 192.0,836.5 193.0,837.3 194.0,838.1 195.0,838.9 196.0,839.7 197.0,840.4 198.0,841.2 199.0,842.0 200.0,842.8 201.0,843.6 202.0,844.3 203.0,845.1 204.0,845.9 205.0,846.7 206.0,847.5 207.0,848.2 208.0,849.0 209.0,849.7 210.0,850.4 211.0,851.2 212.0,851.9 213.0,852.6 214.0,853.3 215.0,854.0 216.0,854.6 217.0,855.3 218.0,856.0 219.0,856.7 220.0,857.4 221.0,858.0 222.0,858.7 223.0,859.4 224.0,860.1 225.0,860.8 226.0,861.5 227.0,862.2 228.0,862.9 229.0,863.6 230.0,864.2 231.0,864.9 232.0,865.6 233.0,866.2 234.0,866.8 235.0,867.5 236.0,868.1 237.0,868.7 238.0,869.3 239.0,869.9 240.0,870.5 241.0,871.1 242.0,871.7 243.0,872.3 244.0,872.9 245.0,873.5 246.0,874.1 247.0,874.7 248.0,875.3 249.0,875.9 250.0,876.5 251.0,877.1 252.0,877.6 253.0,878.2 254.0,878.8 255.0,879.3 256.0,879.8 257.0,880.4 258.0,880.9 259.0,881.4 260.0,881.9 261.0,882.4 262.0,882.9 263.0,883.4 264.0,883.9 265.0,884.4 266.0,884.8 267.0,885.3 268.0,885.8 269.0,886.2 270.0,886.7 271.0,887.1 272.0,887.6 273.0,888.0 274.0,888.4 275.0,888.9 276.0,889.3 277.0,889.7 278.0,890.2 279.0,890.6 280.0,891.0 281.0,891.5 282.0,891.9 283.0,892.3 284.0,892.7 285.0,893.2 286.0,893.6 287.0,893.9 288.0,894.3 289.0,894.7 290.0,895.0 291.0,895.4 292.0,895.7 293.0,896.0 294.0,896.3 295.0,896.6 296.0,896.9 297.0,897.2 298.0,897.5 299.0,897.8 300.0,898.2 301.0,898.5 302.0,898.9 303.0,899.2 304.0,899.6 305.0,899.9 306.0,900.3 307.0,900.7 308.0,901.0 309.0,901.3 310.0,901.7 311.0,902.0 312.0,902.3 313.0,902.6 314.0,902.9 315.0,903.1 316.0,903.4 317.0,903.7 318.0,903.9 319.0,904.2 320.0,904.5 321.0,904.8 322.0,905.1 323.0,905.4 324.0,905.7 325.0,906.1 326.0,906.4 327.0,906.8 328.0,907.2 329.0,907.5 330.0,907.9 331.0,908.2 332.0,908.6 333.0,908.9 334.0,909.2 335.0,909.6 336.0,909.9 337.0,910.2 338.0,910.5 339.0,910.9 340.0,911.2 341.0,911.5 342.0,911.8 343.0,912.1 344.0,912.4 345.0,912.7 346.0,913.1 347.0,913.4 348.0,913.7 349.0,913.9 350.0,914.2 351.0,914.5 352.0,914.9 353.0,915.2 354.0,915.5 355.0,915.8 356.0,916.2 357.0,916.6 358.0,916.9 359.0,917.4 360.0,917.8 361.0,918.2 362.0,918.7 363.0,919.1 364.0,919.6 365.0,920.0 366.0,920.4 367.0,920.8 368.0,921.2 369.0,921.5 370.0,921.9 371.0,922.2 372.0,922.6 373.0,922.9 374.0,923.2 375.0,923.6 376.0,923.9 377.0,924.3 378.0,924.6 379.0,924.9 380.0,925.3 381.0,925.6 382.0,926.0 383.0,926.3 384.0,926.7 385.0,927.0 386.0,927.4 387.0,927.7 388.0,928.1 389.0,928.4 390.0,928.7 391.0,929.1 392.0,929.4 393.0,929.8 394.0,930.1 395.0,930.4 396.0,930.8 397.0,931.1 398.0,931.5 399.0,931.8 400.0,932.2 401.0,932.6 402.0,933.0 403.0,933.4 404.0,933.8 405.0,934.2 406.0,934.6 407.0,935.1 408.0,935.5 409.0,935.9 410.0,936.4 411.0,936.8 412.0,937.2 413.0,937.5 414.0,937.9 415.0,938.3 416.0,938.7 417.0,939.1 418.0,939.4 419.0,939.8 420.0,940.1 421.0,940.5 422.0,940.8 423.0,941.1 424.0,941.4 425.0,941.7 426.0,941.9 427.0,942.2 428.0,942.4 429.0,942.7 430.0,942.9 431.0,943.1 432.0,943.3 433.0,943.6 434.0,943.8 435.0,944.0 436.0,944.2 437.0,944.4 438.0,944.6 439.0,944.8 440.0,945.0 441.0,945.2 442.0,945.4 443.0,945.6 444.0,945.7 445.0,945.9 446.0,946.0 447.0,946.2 448.0,946.3 449.0,946.4 450.0,946.6 451.0,946.7 452.0,946.9 453.0,947.0 454.0,947.1 455.0,947.1 456.0,947.2 457.0,947.2 458.0,947.2 459.0,947.2 460.0,947.2 461.0,947.2 462.0,947.2 463.0,947.2 464.0,947.2 465.0,947.2 466.0,947.2 467.0,947.2 468.0,947.2 469.0,947.2 470.0,947.2 471.0,947.1 472.0,947.1 473.0,947.0 474.0,946.9 475.0,946.8 476.0,946.6 477.0,946.5 478.0,946.4 479.0,946.3 480.0,946.2 481.0,946.0 482.0,945.9 483.0,945.7 484.0,945.5 485.0,945.4 486.0,945.2 487.0,945.0 488.0,944.8 489.0,944.6 490.0,944.4 491.0,944.2 492.0,944.0 493.0,943.8 494.0,943.6 495.0,943.4 496.0,943.2 497.0,943.0 498.0,942.8 499.0,942.6 500.0,942.3 501.0,942.1 502.0,941.9 503.0,941.6 504.0,941.3 505.0,941.0 506.0,940.6 507.0,940.3 508.0,939.9 509.0,939.6 510.0,939.2 511.0,938.8 512.0,938.5 513.0,938.2 514.0,937.8 515.0,937.5 516.0,937.2 517.0,936.8 518.0,936.5 519.0,936.2 520.0,935.9 521.0,935.6 522.0,935.3 523.0,934.9 524.0,934.6 525.0,934.3 526.0,934.0 527.0,933.7 528.0,933.4 529.0,933.1 530.0,932.9 531.0,932.6 532.0,932.3 533.0,932.0 534.0,931.7 535.0,931.3 536.0,931.0 537.0,930.6 538.0,930.2 539.0,929.8 540.0,929.4 541.0,929.0 542.0,928.5 543.0,928.1 544.0,927.7 545.0,927.2 546.0,926.8 547.0,926.4 548.0,926.0 549.0,925.6 550.0,925.2 551.0,924.8 552.0,924.4 553.0,924.1 554.0,923.7 555.0,923.3 556.0,922.9 557.0,922.6 558.0,922.2 559.0,921.8 560.0,921.5 561.0,921.1 562.0,920.7 563.0,920.4 564.0,920.0 565.0,919.7 566.0,919.3 567.0,919.0 568.0,918.6 569.0,918.3 570.0,917.9 571.0,917.6 572.0,917.2 573.0,916.8 574.0,916.4 575.0,916.1 576.0,915.7 577.0,915.3 578.0,915.0 579.0,914.7 580.0,914.3 581.0,914.0 582.0,913.7 583.0,913.4 584.0,913.2 585.0,912.9 586.0,912.7 587.0,912.5 588.0,912.2 589.0,912.0 590.0,911.7 591.0,911.4 592.0,911.1 593.0,910.7 594.0,910.3 595.0,909.8 596.0,909.3 597.0,908.7 598.0,908.1 599.0,907.6 600.0,907.0 601.0,906.5 602.0,906.1 603.0,905.7 604.0,905.4 605.0,905.1 606.0,904.8 607.0,904.6 608.0,904.3 609.0,904.1 610.0,903.9 611.0,903.7 612.0,903.5 613.0,903.3 614.0,903.2 615.0,903.1 616.0,903.0 617.0,902.8 618.0,902.7 619.0,902.6 620.0,902.5 621.0,902.4 622.0,902.4 623.0,902.3 624.0,902.2 625.0,902.2 626.0,902.2 627.0,902.2 628.0,902.2 629.0,902.2 630.0,902.3 631.0,902.3 632.0,902.4 633.0,902.4 634.0,902.5 635.0,902.6 636.0,902.6 637.0,902.7 638.0,902.7 639.0,902.8 640.0,902.9 641.0,903.0 642.0,903.1 643.0,903.2 644.0,903.3 645.0,903.4 646.0,903.6 647.0,903.7 648.0,903.8 649.0,904.0 650.0,904.1 651.0,904.2 652.0,904.4 653.0,904.5 654.0,904.7 655.0,904.8" stroke="#b2b2e2" stroke-width="1.0" fill="none"/>
<path d="M141.81 790.65L145.26 794.10L141.81 797.55L138.36 794.10ZM153.07 800.75L156.52 804.20L153.07 807.65L149.62 804.20ZM164.33 809.95L167.78 813.40L164.33 816.85L160.88 813.40ZM175.60 819.95L179.05 823.40L175.60 826.85L172.15 823.40ZM186.86 829.05L190.31 832.50L186.86 835.95L183.41 832.50ZM198.12 837.85L201.57 841.30L198.12 844.75L194.67 841.30ZM209.38 846.55L212.83 850.00L209.38 853.45L205.93 850.00ZM220.64 854.35L224.09 857.80L220.64 861.25L217.19 857.80ZM231.91 862.05L235.36 865.50L231.91 868.95L228.46 865.50ZM243.17 868.95L246.62 872.40L243.17 875.85L239.72 872.40ZM254.43 875.55L257.88 879.00L254.43 882.45L250.98 879.00ZM265.69 881.25L269.14 884.70L265.69 888.15L262.24 884.70ZM276.95 886.25L280.40 889.70L276.95 893.15L273.50 889.70ZM288.22 890.95L291.67 894.40L288.22 897.85L284.77 894.40ZM299.48 894.55L302.93 898.00L299.48 901.45L296.03 898.00ZM310.74 898.45L314.19 901.90L310.74 905.35L307.29 901.90ZM322.00 901.65L325.45 905.10L322.00 908.55L318.55 905.10ZM333.26 905.55L336.71 909.00L333.26 912.45L329.81 909.00ZM344.53 909.15L347.98 912.60L344.53 916.05L341.08 912.60ZM355.79 912.65L359.24 916.10L355.79 919.55L352.34 916.10ZM367.05 917.35L370.50 920.80L367.05 924.25L363.60 920.80ZM378.31 921.25L381.76 924.70L378.31 928.15L374.86 924.70ZM389.57 925.15L393.02 928.60L389.57 932.05L386.12 928.60ZM400.84 929.05L404.29 932.50L400.84 935.95L397.39 932.50ZM412.10 933.75L415.55 937.20L412.10 940.65L408.65 937.20ZM423.36 937.75L426.81 941.20L423.36 944.65L419.91 941.20ZM434.62 940.45L438.07 943.90L434.62 947.35L431.17 943.90ZM445.88 942.55L449.33 946.00L445.88 949.45L442.43 946.00ZM457.15 943.75L460.60 947.20L457.15 950.65L453.70 947.20ZM468.41 943.75L471.86 947.20L468.41 950.65L464.96 947.20ZM479.67 942.75L483.12 946.20L479.67 949.65L476.22 946.20ZM490.93 940.75L494.38 944.20L490.93 947.65L487.48 944.20ZM502.19 938.35L505.64 941.80L502.19 945.25L498.74 941.80ZM513.46 934.55L516.91 938.00L513.46 941.45L510.01 938.00ZM524.72 930.95L528.17 934.40L524.72 937.85L521.27 934.40ZM535.98 927.55L539.43 931.00L535.98 934.45L532.53 931.00ZM547.24 922.85L550.69 926.30L547.24 929.75L543.79 926.30ZM558.50 918.55L561.95 922.00L558.50 925.45L555.05 922.00ZM569.77 914.55L573.22 918.00L569.77 921.45L566.32 918.00ZM581.03 910.55L584.48 914.00L581.03 917.45L577.58 914.00ZM592.29 907.55L595.74 911.00L592.29 914.45L588.84 911.00ZM603.55 902.05L607.00 905.50L603.55 908.95L600.10 905.50ZM614.81 899.65L618.26 903.10L614.81 906.55L611.36 903.10ZM626.08 898.75L629.53 902.20L626.08 905.65L622.63 902.20ZM637.34 899.25L640.79 902.70L637.34 906.15L633.89 902.70ZM648.60 900.45L652.05 903.90L648.60 907.35L645.15 903.90Z" fill="#0000a0"/>
<polyline points="84.0,776.0 85.0,776.7 86.0,777.4 87.0,778.1 88.0,778.9 89.0,779.6 90.0,780.3 91.0,781.1 92.0,781.8 93.0,782.6 94.0,783.3 95.0,784.1 96.0,784.9 97.0,785.6 98.0,786.4 99.0,787.2 100.0,788.0 101.0,788.8 102.0,789.6 103.0,790.4 104.0,791.3 105.0,792.1 106.0,792.9 107.0,793.8 108.0,794.7 109.0,795.5 110.0,796.4 111.0,797.3 112.0,798.1 113.0,799.0 114.0,799.9 115.0,800.7 116.0,801.6 117.0,802.4 118.0,803.3 119.0,804.2 120.0,805.0 121.0,805.8 122.0,806.7 123.0,807.5 124.0,808.3 125.0,809.2 126.0,810.0 127.0,810.8 128.0,811.7 129.0,812.5 130.0,813.3 131.0,814.1 132.0,815.0 133.0,815.8 134.0,816.6 135.0,817.5 136.0,818.3 137.0,819.2 138.0,820.0 139.0,820.9 140.0,821.7 141.0,822.6 142.0,823.5 143.0,824.3 144.0,825.2 145.0,826.1 146.0,827.0 147.0,827.8 148.0,828.7 149.0,829.6 150.0,830.5 151.0,831.3 152.0,832.2 153.0,833.0 154.0,833.9 155.0,834.7 156.0,835.6 157.0,836.4 158.0,837.3 159.0,838.1 160.0,838.9 161.0,839.7 162.0,840.5 163.0,841.3 164.0,842.1 165.0,842.9 166.0,843.7 167.0,844.4 168.0,845.1 169.0,845.9 170.0,846.6 171.0,847.3 172.0,848.0 173.0,848.7 174.0,849.5 175.0,850.2 176.0,851.0 177.0,851.8 178.0,852.7 179.0,853.5 180.0,854.4 181.0,855.2 182.0,856.1 183.0,857.0 184.0,857.8 185.0,858.6 186.0,859.4 187.0,860.2 188.0,860.9 189.0,861.7 190.0,862.4 191.0,863.1 192.0,863.7 193.0,864.4 194.0,865.1 195.0,865.7 196.0,866.4 197.0,867.1 198.0,867.7 199.0,868.4 200.0,869.1 201.0,869.7 202.0,870.4 203.0,871.0 204.0,871.7 205.0,872.4 206.0,873.0 207.0,873.7 208.0,874.3 209.0,875.0 210.0,875.6 211.0,876.2 212.0,876.9 213.0,877.5 214.0,878.1 215.0,878.8 216.0,879.4 217.0,880.0 218.0,880.7 219.0,881.3 220.0,881.9 221.0,882.5 222.0,883.1 223.0,883.8 224.0,884.4 225.0,885.0 226.0,885.7 227.0,886.3 228.0,886.9 229.0,887.5 230.0,888.1 231.0,888.6 232.0,889.1 233.0,889.7 234.0,890.2 235.0,890.6 236.0,891.1 237.0,891.6 238.0,892.0 239.0,892.5 240.0,892.9 241.0,893.3 242.0,893.8 243.0,894.2 244.0,894.7 245.0,895.1 246.0,895.5 247.0,896.0 248.0,896.4 249.0,896.8 250.0,897.3 251.0,897.7 252.0,898.1 253.0,898.5 254.0,898.9 255.0,899.3 256.0,899.7 257.0,900.2 258.0,900.6 259.0,901.0 260.0,901.4 261.0,901.8 262.0,902.2 263.0,902.6 264.0,903.0 265.0,903.3 266.0,903.7 267.0,904.1 268.0,904.4 269.0,904.8 270.0,905.2 271.0,905.5 272.0,905.9 273.0,906.2 274.0,906.5 275.0,906.9 276.0,907.2 277.0,907.5 278.0,907.8 279.0,908.2 280.0,908.5 281.0,908.8 282.0,909.1 283.0,909.4 284.0,909.7 285.0,910.0 286.0,910.3 287.0,910.5 288.0,910.8 289.0,911.0 290.0,911.1 291.0,911.3 292.0,911.5 293.0,911.6 294.0,911.7 295.0,911.9 296.0,912.0 297.0,912.2 298.0,912.3 299.0,912.5 300.0,912.7 301.0,912.9 302.0,913.1 303.0,913.4 304.0,913.6 305.0,913.9 306.0,914.1 307.0,914.4 308.0,914.7 309.0,914.9 310.0,915.2 311.0,915.5 312.0,915.7 313.0,916.0 314.0,916.3 315.0,916.5 316.0,916.8 317.0,917.0 318.0,917.3 319.0,917.6 320.0,917.9 321.0,918.1 322.0,918.4 323.0,918.7 324.0,918.9 325.0,919.2 326.0,919.5 327.0,919.7 328.0,920.0 329.0,920.3 330.0,920.5 331.0,920.8 332.0,921.1 333.0,921.4 334.0,921.7 335.0,922.1 336.0,922.4 337.0,922.8 338.0,923.2 339.0,923.6 340.0,923.9 341.0,924.3 342.0,924.7 343.0,925.1 344.0,925.4 345.0,925.8 346.0,926.1 347.0,926.4 348.0,926.7 349.0,927.0 350.0,927.3 351.0,927.6 352.0,927.9 353.0,928.2 354.0,928.5 355.0,928.9 356.0,929.2 357.0,929.5 358.0,929.8 359.0,930.1 360.0,930.4 361.0,930.7 362.0,931.0 363.0,931.3 364.0,931.7 365.0,932.0 366.0,932.3 367.0,932.7 368.0,933.0 369.0,933.4 370.0,933.8 371.0,934.2 372.0,934.6 373.0,935.0 374.0,935.4 375.0,935.8 376.0,936.2 377.0,936.6 378.0,937.0 379.0,937.3 380.0,937.7 381.0,938.1 382.0,938.4 383.0,938.7 384.0,939.1 385.0,939.4 386.0,939.7 387.0,940.1 388.0,940.4 389.0,940.8 390.0,941.2 391.0,941.6 392.0,942.0 393.0,942.4 394.0,942.8 395.0,943.3 396.0,943.7 397.0,944.1 398.0,944.5 399.0,944.9 400.0,945.2 401.0,945.5 402.0,945.8 403.0,946.1 404.0,946.4 405.0,946.6 406.0,946.8 407.0,947.1 408.0,947.3 409.0,947.5 410.0,947.8 411.0,948.0 412.0,948.3 413.0,948.6 414.0,948.9 415.0,949.2 416.0,949.5 417.0,949.8 418.0,950.1 419.0,950.5 420.0,950.8 421.0,951.1 422.0,951.4 423.0,951.6 424.0,951.9 425.0,952.1 426.0,952.3 427.0,952.5 428.0,952.7 429.0,952.9 430.0,953.1 431.0,953.3 432.0,953.5 433.0,953.7 434.0,953.8 435.0,954.0 436.0,954.1 437.0,954.3 438.0,954.4 439.0,954.6 440.0,954.7 441.0,954.8 442.0,954.9 443.0,955.0 444.0,955.1 445.0,955.2 446.0,955.2 447.0,955.2 448.0,955.2 449.0,955.2 450.0,955.3 451.0,955.3 452.0,955.3 453.0,955.3 454.0,955.3 455.0,955.3 456.0,955.3 457.0,955.3 458.0,955.3 459.0,955.3 460.0,955.2 461.0,955.2 462.0,955.2 463.0,955.1 464.0,955.0 465.0,955.0 466.0,954.9 467.0,954.8 468.0,954.7 469.0,954.7 470.0,954.6 471.0,954.4 472.0,954.3 473.0,954.2 474.0,954.0 475.0,953.9 476.0,953.7 477.0,953.5 478.0,953.3 479.0,953.1 480.0,952.9 481.0,952.7 482.0,952.5 483.0,952.2 484.0,952.0 485.0,951.7 486.0,951.4 487.0,951.1 488.0,950.8 489.0,950.5 490.0,950.3 491.0,950.0 492.0,949.7 493.0,949.4 494.0,949.2 495.0,948.9 496.0,948.6 497.0,948.4 498.0,948.1 499.0,947.8 500.0,947.5 501.0,947.2 502.0,946.9 503.0,946.5 504.0,946.2 505.0,945.8 506.0,945.4 507.0,945.1 508.0,944.7 509.0,944.3 510.0,943.9 511.0,943.5 512.0,943.1 513.0,942.7 514.0,942.3 515.0,941.9 516.0,941.5 517.0,941.1 518.0,940.8 519.0,940.4 520.0,940.0 521.0,939.6 522.0,939.2 523.0,938.9 524.0,938.5 525.0,938.1 526.0,937.7 527.0,937.4 528.0,937.0 529.0,936.6 530.0,936.3 531.0,935.9 532.0,935.5 533.0,935.2 534.0,934.8 535.0,934.4 536.0,934.0 537.0,933.6 538.0,933.1 539.0,932.7 540.0,932.3 541.0,931.8 542.0,931.3 543.0,930.9 544.0,930.4 545.0,930.0 546.0,929.5 547.0,929.1 548.0,928.7 549.0,928.3 550.0,927.9 551.0,927.5 552.0,927.1 553.0,926.7 554.0,926.3 555.0,925.9 556.0,925.5 557.0,925.1 558.0,924.7 559.0,924.3 560.0,923.9 561.0,923.5 562.0,923.1 563.0,922.6 564.0,922.2 565.0,921.8 566.0,921.4 567.0,921.0 568.0,920.6 569.0,920.3 570.0,919.9 571.0,919.6 572.0,919.2 573.0,918.9 574.0,918.6 575.0,918.2 576.0,917.9 577.0,917.6 578.0,917.3 579.0,917.0 580.0,916.8 581.0,916.5 582.0,916.3 583.0,916.0 584.0,915.8 585.0,915.6 586.0,915.4 587.0,915.2 588.0,915.0 589.0,914.8 590.0,914.6 591.0,914.4 592.0,914.1 593.0,913.8 594.0,913.3 595.0,912.8 596.0,912.3 597.0,911.7 598.0,911.2 599.0,910.6 600.0,910.1 601.0,909.6 602.0,909.3 603.0,909.1 604.0,909.0 605.0,908.9 606.0,908.8 607.0,908.8 608.0,908.7 609.0,908.6 610.0,908.6 611.0,908.6 612.0,908.5 613.0,908.5 614.0,908.5 615.0,908.5 616.0,908.5 617.0,908.6 618.0,908.6 619.0,908.7 620.0,908.8 621.0,908.9 622.0,909.0 623.0,909.1 624.0,909.3 625.0,909.4 626.0,909.5 627.0,909.6 628.0,909.7 629.0,909.8 630.0,910.0 631.0,910.1 632.0,910.2 633.0,910.3 634.0,910.5 635.0,910.6 636.0,910.8 637.0,910.9 638.0,911.1 639.0,911.3 640.0,911.5 641.0,911.7 642.0,911.9 643.0,912.1 644.0,912.3 645.0,912.5 646.0,912.8 647.0,913.0 648.0,913.2 649.0,913.5 650.0,913.8 651.0,914.0 652.0,914.3 653.0,914.6 654.0,914.8 655.0,915.1" stroke="#ffd9b2" stroke-width="1.0" fill="none"/>
<path d="M149.82 833.10L155.55 829.69L155.55 836.51ZM161.08 842.40L166.81 838.99L166.81 845.81ZM172.34 850.70L178.08 847.29L178.08 854.11ZM183.60 860.10L189.34 856.69L189.34 863.51ZM194.87 867.80L200.60 864.39L200.60 871.21ZM206.13 875.20L211.86 871.79L211.86 878.61ZM217.39 882.30L223.12 878.89L223.12 885.71ZM228.65 889.10L234.39 885.69L234.39 892.51ZM239.91 894.30L245.65 890.89L245.65 897.71ZM251.18 899.10L256.91 895.69L256.91 902.51ZM262.44 903.60L268.17 900.19L268.17 907.01ZM273.70 907.50L279.43 904.09L279.43 910.91ZM284.96 910.80L290.70 907.39L290.70 914.21ZM296.22 912.60L301.96 909.19L301.96 916.01ZM307.49 915.40L313.22 911.99L313.22 918.81ZM318.75 918.40L324.48 914.99L324.48 921.81ZM330.01 921.50L335.74 918.09L335.74 924.91ZM341.27 925.60L347.01 922.19L347.01 929.01ZM352.53 929.10L358.27 925.69L358.27 932.51ZM363.80 932.70L369.53 929.29L369.53 936.11ZM375.06 937.10L380.79 933.69L380.79 940.51ZM386.32 941.00L392.05 937.59L392.05 944.41ZM397.58 945.50L403.32 942.09L403.32 948.91ZM408.84 948.30L414.58 944.89L414.58 951.71ZM420.11 951.70L425.84 948.29L425.84 955.11ZM431.37 953.90L437.10 950.49L437.10 957.31ZM442.63 955.20L448.36 951.79L448.36 958.61ZM453.89 955.30L459.63 951.89L459.63 958.71ZM465.15 954.70L470.89 951.29L470.89 958.11ZM476.42 953.00L482.15 949.59L482.15 956.41ZM487.68 950.00L493.41 946.59L493.41 953.41ZM498.94 946.80L504.67 943.39L504.67 950.21ZM510.20 942.50L515.94 939.09L515.94 945.91ZM521.46 938.20L527.20 934.79L527.20 941.61ZM532.73 934.00L538.46 930.59L538.46 937.41ZM543.99 929.00L549.72 925.59L549.72 932.41ZM555.25 924.50L560.98 921.09L560.98 927.91ZM566.51 920.00L572.25 916.59L572.25 923.41ZM577.77 916.50L583.51 913.09L583.51 919.91ZM589.03 914.00L594.77 910.59L594.77 917.41ZM600.30 909.00L606.03 905.59L606.03 912.41ZM611.56 908.50L617.29 905.09L617.29 911.91ZM622.82 909.50L628.56 906.09L628.56 912.91ZM634.08 911.00L639.82 907.59L639.82 914.41ZM645.35 913.40L651.08 909.99L651.08 916.81Z" fill="#ff8000"/>
<polyline points="84.0,811.0 85.0,811.2 86.0,811.4 87.0,811.7 88.0,811.9 89.0,812.2 90.0,812.5 91.0,812.8 92.0,813.1 93.0,813.4 94.0,813.8 95.0,814.1 96.0,814.5 97.0,814.8 98.0,815.2 99.0,815.6 100.0,816.0 101.0,816.4 102.0,816.8 103.0,817.3 104.0,817.8 105.0,818.2 106.0,818.8 107.0,819.3 108.0,819.8 109.0,820.4 110.0,821.0 111.0,821.5 112.0,822.1 113.0,822.8 114.0,823.4 115.0,824.0 116.0,824.7 117.0,825.3 118.0,826.1 119.0,826.8 120.0,827.6 121.0,828.4 122.0,829.2 123.0,830.0 124.0,830.8 125.0,831.7 126.0,832.5 127.0,833.2 128.0,834.0 129.0,834.7 130.0,835.5 131.0,836.2 132.0,836.9 133.0,837.7 134.0,838.4 135.0,839.1 136.0,839.8 137.0,840.6 138.0,841.3 139.0,842.0 140.0,842.8 141.0,843.5 142.0,844.2 143.0,845.0 144.0,845.8 145.0,846.5 146.0,847.3 147.0,848.1 148.0,848.8 149.0,849.6 150.0,850.4 151.0,851.2 152.0,852.0 153.0,852.7 154.0,853.5 155.0,854.3 156.0,855.1 157.0,855.9 158.0,856.7 159.0,857.5 160.0,858.3 161.0,859.1 162.0,859.9 163.0,860.7 164.0,861.4 165.0,862.2 166.0,863.0 167.0,863.7 168.0,864.5 169.0,865.2 170.0,866.0 171.0,866.7 172.0,867.4 173.0,868.2 174.0,868.9 175.0,869.6 176.0,870.3 177.0,871.0 178.0,871.6 179.0,872.3 180.0,872.9 181.0,873.6 182.0,874.2 183.0,874.9 184.0,875.5 185.0,876.1 186.0,876.8 187.0,877.4 188.0,878.0 189.0,878.7 190.0,879.3 191.0,879.9 192.0,880.5 193.0,881.1 194.0,881.8 195.0,882.4 196.0,883.0 197.0,883.6 198.0,884.2 199.0,884.8 200.0,885.5 201.0,886.1 202.0,886.8 203.0,887.4 204.0,888.0 205.0,888.7 206.0,889.3 207.0,889.9 208.0,890.4 209.0,891.0 210.0,891.5 211.0,892.0 212.0,892.5 213.0,893.0 214.0,893.4 215.0,893.9 216.0,894.3 217.0,894.7 218.0,895.2 219.0,895.6 220.0,896.1 221.0,896.6 222.0,897.1 223.0,897.6 224.0,898.1 225.0,898.6 226.0,899.2 227.0,899.7 228.0,900.2 229.0,900.7 230.0,901.3 231.0,901.8 232.0,902.2 233.0,902.7 234.0,903.2 235.0,903.7 236.0,904.2 237.0,904.6 238.0,905.1 239.0,905.5 240.0,906.0 241.0,906.4 242.0,906.8 243.0,907.1 244.0,907.5 245.0,907.8 246.0,908.1 247.0,908.5 248.0,908.7 249.0,909.0 250.0,909.3 251.0,909.6 252.0,909.9 253.0,910.2 254.0,910.5 255.0,910.8 256.0,911.1 257.0,911.4 258.0,911.7 259.0,912.0 260.0,912.3 261.0,912.7 262.0,913.0 263.0,913.3 264.0,913.5 265.0,913.8 266.0,914.1 267.0,914.3 268.0,914.6 269.0,914.8 270.0,915.0 271.0,915.2 272.0,915.4 273.0,915.7 274.0,915.9 275.0,916.1 276.0,916.3 277.0,916.5 278.0,916.7 279.0,917.0 280.0,917.2 281.0,917.4 282.0,917.6 283.0,917.8 284.0,918.1 285.0,918.3 286.0,918.5 287.0,918.7 288.0,919.0 289.0,919.2 290.0,919.4 291.0,919.6 292.0,919.8 293.0,920.1 294.0,920.3 295.0,920.5 296.0,920.7 297.0,921.0 298.0,921.2 299.0,921.4 300.0,921.6 301.0,921.8 302.0,922.0 303.0,922.2 304.0,922.4 305.0,922.6 306.0,922.8 307.0,923.0 308.0,923.2 309.0,923.4 310.0,923.6 311.0,923.9 312.0,924.1 313.0,924.3 314.0,924.5 315.0,924.7 316.0,925.0 317.0,925.2 318.0,925.4 319.0,925.7 320.0,925.9 321.0,926.2 322.0,926.4 323.0,926.7 324.0,926.9 325.0,927.2 326.0,927.5 327.0,927.7 328.0,928.0 329.0,928.3 330.0,928.6 331.0,928.9 332.0,929.1 333.0,929.4 334.0,929.7 335.0,930.0 336.0,930.3 337.0,930.5 338.0,930.8 339.0,931.1 340.0,931.4 341.0,931.6 342.0,931.9 343.0,932.2 344.0,932.5 345.0,932.8 346.0,933.2 347.0,933.5 348.0,933.8 349.0,934.2 350.0,934.5 351.0,934.9 352.0,935.2 353.0,935.6 354.0,936.0 355.0,936.3 356.0,936.7 357.0,937.0 358.0,937.4 359.0,937.7 360.0,938.1 361.0,938.5 362.0,938.8 363.0,939.2 364.0,939.6 365.0,939.9 366.0,940.3 367.0,940.7 368.0,941.1 369.0,941.5 370.0,941.9 371.0,942.3 372.0,942.7 373.0,943.1 374.0,943.5 375.0,943.9 376.0,944.2 377.0,944.6 378.0,945.0 379.0,945.3 380.0,945.7 381.0,946.0 382.0,946.3 383.0,946.6 384.0,946.9 385.0,947.2 386.0,947.5 387.0,947.9 388.0,948.2 389.0,948.5 390.0,948.8 391.0,949.2 392.0,949.6 393.0,950.0 394.0,950.4 395.0,950.8 396.0,951.1 397.0,951.5 398.0,951.9 399.0,952.2 400.0,952.6 401.0,952.8 402.0,953.1 403.0,953.4 404.0,953.6 405.0,953.8 406.0,954.1 407.0,954.3 408.0,954.5 409.0,954.7 410.0,954.9 411.0,955.1 412.0,955.4 413.0,955.6 414.0,955.9 415.0,956.2 416.0,956.4 417.0,956.7 418.0,957.0 419.0,957.3 420.0,957.5 421.0,957.8 422.0,958.0 423.0,958.2 424.0,958.4 425.0,958.6 426.0,958.8 427.0,958.9 428.0,959.1 429.0,959.2 430.0,959.4 431.0,959.5 432.0,959.7 433.0,959.8 434.0,959.9 435.0,960.0 436.0,960.2 437.0,960.3 438.0,960.5 439.0,960.6 440.0,960.7 441.0,960.9 442.0,961.0 443.0,961.1 444.0,961.1 445.0,961.2 446.0,961.2 447.0,961.2 448.0,961.2 449.0,961.2 450.0,961.2 451.0,961.2 452.0,961.1 453.0,961.1 454.0,961.1 455.0,961.1 456.0,961.0 457.0,961.0 458.0,961.0 459.0,960.9 460.0,960.9 461.0,960.8 462.0,960.7 463.0,960.6 464.0,960.5 465.0,960.4 466.0,960.3 467.0,960.2 468.0,960.1 469.0,959.9 470.0,959.8 471.0,959.6 472.0,959.4 473.0,959.2 474.0,958.9 475.0,958.7 476.0,958.5 477.0,958.2 478.0,957.9 479.0,957.7 480.0,957.4 481.0,957.1 482.0,956.9 483.0,956.6 484.0,956.2 485.0,955.9 486.0,955.6 487.0,955.3 488.0,954.9 489.0,954.6 490.0,954.2 491.0,953.9 492.0,953.5 493.0,953.1 494.0,952.8 495.0,952.4 496.0,952.0 497.0,951.6 498.0,951.2 499.0,950.7 500.0,950.3 501.0,949.9 502.0,949.5 503.0,949.1 504.0,948.6 505.0,948.2 506.0,947.7 507.0,947.3 508.0,946.8 509.0,946.4 510.0,945.9 511.0,945.5 512.0,945.0 513.0,944.6 514.0,944.2 515.0,943.7 516.0,943.3 517.0,942.9 518.0,942.5 519.0,942.1 520.0,941.7 521.0,941.2 522.0,940.8 523.0,940.4 524.0,940.0 525.0,939.6 526.0,939.2 527.0,938.8 528.0,938.3 529.0,937.9 530.0,937.5 531.0,937.1 532.0,936.7 533.0,936.3 534.0,935.8 535.0,935.4 536.0,935.0 537.0,934.6 538.0,934.1 539.0,933.7 540.0,933.2 541.0,932.8 542.0,932.3 543.0,931.9 544.0,931.4 545.0,931.0 546.0,930.5 547.0,930.1 548.0,929.7 549.0,929.3 550.0,928.9 551.0,928.5 552.0,928.1 553.0,927.7 554.0,927.3 555.0,926.9 556.0,926.5 557.0,926.1 558.0,925.7 559.0,925.3 560.0,924.9 561.0,924.5 562.0,924.1 563.0,923.7 564.0,923.3 565.0,922.9 566.0,922.5 567.0,922.1 568.0,921.7 569.0,921.3 570.0,920.9 571.0,920.5 572.0,920.1 573.0,919.8 574.0,919.4 575.0,919.0 576.0,918.6 577.0,918.3 578.0,917.9 579.0,917.6 580.0,917.3 581.0,917.0 582.0,916.7 583.0,916.5 584.0,916.3 585.0,916.1 586.0,915.9 587.0,915.7 588.0,915.5 589.0,915.3 590.0,915.1 591.0,914.9 592.0,914.6 593.0,914.3 594.0,913.8 595.0,913.3 596.0,912.7 597.0,912.1 598.0,911.5 599.0,910.9 600.0,910.3 601.0,909.8 602.0,909.4 603.0,909.1 604.0,908.9 605.0,908.8 606.0,908.7 607.0,908.5 608.0,908.4 609.0,908.3 610.0,908.2 611.0,908.1 612.0,908.1 613.0,908.0 614.0,908.0 615.0,908.0 616.0,908.0 617.0,908.0 618.0,908.0 619.0,908.0 620.0,908.0 621.0,908.0 622.0,908.0 623.0,908.0 624.0,908.0 625.0,908.0 626.0,908.0 627.0,908.0 628.0,908.0 629.0,908.0 630.0,908.0 631.0,908.0 632.0,908.0 633.0,908.0 634.0,908.0 635.0,908.0 636.0,908.0 637.0,908.0 638.0,908.0 639.0,908.0 640.0,908.0 641.0,907.9 642.0,907.9 643.0,907.9 644.0,907.8 645.0,907.8 646.0,907.7 647.0,907.7 648.0,907.6 649.0,907.6 650.0,907.5 651.0,907.5 652.0,907.4 653.0,907.4 654.0,907.3 655.0,907.3" stroke="#d9b2ff" stroke-width="1.0" fill="none"/>
<path d="M145.06 844.10L139.33 840.69L139.33 847.51ZM156.33 852.80L150.59 849.39L150.59 856.21ZM167.59 861.70L161.85 858.29L161.85 865.11ZM178.85 870.00L173.12 866.59L173.12 873.41ZM190.11 877.30L184.38 873.89L184.38 880.71ZM201.38 884.30L195.64 880.89L195.64 887.71ZM212.64 891.20L206.90 887.79L206.90 894.61ZM223.90 896.40L218.16 892.99L218.16 899.81ZM235.16 902.20L229.43 898.79L229.43 905.61ZM246.42 907.20L240.69 903.79L240.69 910.61ZM257.69 910.60L251.95 907.19L251.95 914.01ZM268.95 914.00L263.21 910.59L263.21 917.41ZM280.21 916.50L274.47 913.09L274.47 919.91ZM291.47 919.00L285.74 915.59L285.74 922.41ZM302.73 921.50L297.00 918.09L297.00 924.91ZM314.00 923.80L308.26 920.39L308.26 927.21ZM325.26 926.40L319.52 922.99L319.52 929.81ZM336.52 929.50L330.78 926.09L330.78 932.91ZM347.78 932.70L342.05 929.29L342.05 936.11ZM359.04 936.60L353.31 933.19L353.31 940.01ZM370.31 940.70L364.57 937.29L364.57 944.11ZM381.57 945.10L375.83 941.69L375.83 948.51ZM392.83 948.70L387.09 945.29L387.09 952.11ZM404.09 952.80L398.36 949.39L398.36 956.21ZM415.35 955.40L409.62 951.99L409.62 958.81ZM426.62 958.30L420.88 954.89L420.88 961.71ZM437.88 960.00L432.14 956.59L432.14 963.41ZM449.14 961.20L443.40 957.79L443.40 964.61ZM460.40 961.00L454.67 957.59L454.67 964.41ZM471.66 960.00L465.93 956.59L465.93 963.41ZM482.93 957.50L477.19 954.09L477.19 960.91ZM494.19 953.90L488.45 950.49L488.45 957.31ZM505.45 949.40L499.71 945.99L499.71 952.81ZM516.71 944.40L510.98 940.99L510.98 947.81ZM527.97 939.70L522.24 936.29L522.24 943.11ZM539.24 935.00L533.50 931.59L533.50 938.41ZM550.50 930.00L544.76 926.59L544.76 933.41ZM561.76 925.50L556.02 922.09L556.02 928.91ZM573.02 921.00L567.29 917.59L567.29 924.41ZM584.28 917.00L578.55 913.59L578.55 920.41ZM595.54 914.50L589.81 911.09L589.81 917.91ZM606.81 909.00L601.07 905.59L601.07 912.41ZM618.07 908.00L612.33 904.59L612.33 911.41ZM629.33 908.00L623.60 904.59L623.60 911.41ZM640.59 908.00L634.86 904.59L634.86 911.41ZM651.86 907.60L646.12 904.19L646.12 911.01Z" fill="#8000ff"/>
<polyline points="84.0,830.0 85.0,830.2 86.0,830.4 87.0,830.7 88.0,830.9 89.0,831.2 90.0,831.5 91.0,831.8 92.0,832.1 93.0,832.4 94.0,832.8 95.0,833.1 96.0,833.5 97.0,833.8 98.0,834.2 99.0,834.6 100.0,835.0 101.0,835.4 102.0,835.8 103.0,836.3 104.0,836.8 105.0,837.2 106.0,837.8 107.0,838.3 108.0,838.8 109.0,839.4 110.0,840.0 111.0,840.5 112.0,841.1 113.0,841.8 114.0,842.4 115.0,843.0 116.0,843.7 117.0,844.3 118.0,845.1 119.0,845.8 120.0,846.6 121.0,847.4 122.0,848.2 123.0,849.0 124.0,849.8 125.0,850.6 126.0,851.4 127.0,852.2 128.0,853.0 129.0,853.8 130.0,854.6 131.0,855.3 132.0,856.1 133.0,856.9 134.0,857.7 135.0,858.4 136.0,859.2 137.0,860.0 138.0,860.8 139.0,861.6 140.0,862.4 141.0,863.2 142.0,864.0 143.0,864.8 144.0,865.6 145.0,866.4 146.0,867.3 147.0,868.1 148.0,868.9 149.0,869.7 150.0,870.6 151.0,871.3 152.0,872.1 153.0,872.8 154.0,873.6 155.0,874.2 156.0,874.9 157.0,875.5 158.0,876.2 159.0,876.8 160.0,877.4 161.0,878.0 162.0,878.7 163.0,879.3 164.0,880.0 165.0,880.7 166.0,881.4 167.0,882.1 168.0,882.8 169.0,883.5 170.0,884.3 171.0,885.0 172.0,885.7 173.0,886.4 174.0,887.1 175.0,887.7 176.0,888.3 177.0,888.9 178.0,889.5 179.0,890.1 180.0,890.6 181.0,891.2 182.0,891.7 183.0,892.2 184.0,892.8 185.0,893.3 186.0,893.8 187.0,894.4 188.0,894.9 189.0,895.5 190.0,896.0 191.0,896.6 192.0,897.2 193.0,897.7 194.0,898.3 195.0,898.8 196.0,899.4 197.0,899.9 198.0,900.4 199.0,901.0 200.0,901.5 201.0,902.1 202.0,902.6 203.0,903.2 204.0,903.7 205.0,904.2 206.0,904.7 207.0,905.2 208.0,905.7 209.0,906.1 210.0,906.6 211.0,906.9 212.0,907.3 213.0,907.7 214.0,908.0 215.0,908.3 216.0,908.7 217.0,909.0 218.0,909.3 219.0,909.7 220.0,910.1 221.0,910.4 222.0,910.8 223.0,911.3 224.0,911.7 225.0,912.1 226.0,912.5 227.0,913.0 228.0,913.4 229.0,913.8 230.0,914.3 231.0,914.7 232.0,915.0 233.0,915.4 234.0,915.8 235.0,916.1 236.0,916.5 237.0,916.8 238.0,917.2 239.0,917.5 240.0,917.8 241.0,918.1 242.0,918.4 243.0,918.7 244.0,919.1 245.0,919.3 246.0,919.6 247.0,919.9 248.0,920.2 249.0,920.5 250.0,920.8 251.0,921.0 252.0,921.3 253.0,921.5 254.0,921.8 255.0,922.0 256.0,922.3 257.0,922.5 258.0,922.8 259.0,923.0 260.0,923.2 261.0,923.5 262.0,923.7 263.0,923.9 264.0,924.1 265.0,924.3 266.0,924.5 267.0,924.6 268.0,924.8 269.0,924.9 270.0,925.1 271.0,925.2 272.0,925.4 273.0,925.5 274.0,925.6 275.0,925.8 276.0,925.9 277.0,926.0 278.0,926.1 279.0,926.2 280.0,926.4 281.0,926.5 282.0,926.6 283.0,926.7 284.0,926.8 285.0,926.9 286.0,927.0 287.0,927.1 288.0,927.3 289.0,927.4 290.0,927.5 291.0,927.7 292.0,927.8 293.0,928.0 294.0,928.1 295.0,928.3 296.0,928.5 297.0,928.6 298.0,928.8 299.0,929.0 300.0,929.2 301.0,929.4 302.0,929.6 303.0,929.9 304.0,930.1 305.0,930.4 306.0,930.6 307.0,930.9 308.0,931.1 309.0,931.4 310.0,931.6 311.0,931.9 312.0,932.1 313.0,932.3 314.0,932.5 315.0,932.8 316.0,933.0 317.0,933.2 318.0,933.4 319.0,933.7 320.0,933.9 321.0,934.1 322.0,934.4 323.0,934.7 324.0,934.9 325.0,935.2 326.0,935.5 327.0,935.7 328.0,936.0 329.0,936.3 330.0,936.6 331.0,936.9 332.0,937.2 333.0,937.5 334.0,937.8 335.0,938.2 336.0,938.5 337.0,938.9 338.0,939.2 339.0,939.6 340.0,940.0 341.0,940.4 342.0,940.7 343.0,941.1 344.0,941.4 345.0,941.8 346.0,942.1 347.0,942.4 348.0,942.7 349.0,943.0 350.0,943.3 351.0,943.6 352.0,943.9 353.0,944.2 354.0,944.5 355.0,944.9 356.0,945.2 357.0,945.5 358.0,945.8 359.0,946.1 360.0,946.4 361.0,946.7 362.0,947.1 363.0,947.4 364.0,947.7 365.0,948.0 366.0,948.4 367.0,948.7 368.0,949.0 369.0,949.3 370.0,949.7 371.0,950.0 372.0,950.4 373.0,950.7 374.0,951.1 375.0,951.4 376.0,951.7 377.0,952.1 378.0,952.4 379.0,952.7 380.0,953.0 381.0,953.3 382.0,953.6 383.0,953.9 384.0,954.2 385.0,954.5 386.0,954.8 387.0,955.1 388.0,955.5 389.0,955.8 390.0,956.2 391.0,956.5 392.0,957.0 393.0,957.4 394.0,957.9 395.0,958.3 396.0,958.8 397.0,959.2 398.0,959.6 399.0,960.0 400.0,960.4 401.0,960.6 402.0,960.9 403.0,961.1 404.0,961.4 405.0,961.6 406.0,961.8 407.0,961.9 408.0,962.1 409.0,962.3 410.0,962.5 411.0,962.6 412.0,962.8 413.0,962.9 414.0,963.1 415.0,963.2 416.0,963.4 417.0,963.5 418.0,963.6 419.0,963.7 420.0,963.9 421.0,964.0 422.0,964.1 423.0,964.2 424.0,964.4 425.0,964.5 426.0,964.7 427.0,964.9 428.0,965.0 429.0,965.2 430.0,965.3 431.0,965.5 432.0,965.6 433.0,965.8 434.0,965.9 435.0,966.0 436.0,966.2 437.0,966.3 438.0,966.5 439.0,966.6 440.0,966.7 441.0,966.9 442.0,967.0 443.0,967.1 444.0,967.1 445.0,967.2 446.0,967.2 447.0,967.2 448.0,967.2 449.0,967.1 450.0,967.1 451.0,967.1 452.0,967.0 453.0,967.0 454.0,966.9 455.0,966.8 456.0,966.8 457.0,966.7 458.0,966.6 459.0,966.6 460.0,966.5 461.0,966.4 462.0,966.3 463.0,966.2 464.0,966.1 465.0,965.9 466.0,965.8 467.0,965.6 468.0,965.5 469.0,965.3 470.0,965.0 471.0,964.8 472.0,964.4 473.0,964.1 474.0,963.7 475.0,963.3 476.0,962.8 477.0,962.4 478.0,962.0 479.0,961.6 480.0,961.2 481.0,960.8 482.0,960.3 483.0,959.9 484.0,959.5 485.0,959.0 486.0,958.6 487.0,958.1 488.0,957.7 489.0,957.3 490.0,956.9 491.0,956.5 492.0,956.1 493.0,955.7 494.0,955.4 495.0,955.0 496.0,954.7 497.0,954.3 498.0,954.0 499.0,953.6 500.0,953.3 501.0,952.9 502.0,952.5 503.0,952.1 504.0,951.6 505.0,951.1 506.0,950.7 507.0,950.2 508.0,949.7 509.0,949.2 510.0,948.7 511.0,948.2 512.0,947.7 513.0,947.2 514.0,946.8 515.0,946.3 516.0,945.8 517.0,945.4 518.0,945.0 519.0,944.5 520.0,944.1 521.0,943.6 522.0,943.2 523.0,942.8 524.0,942.3 525.0,941.9 526.0,941.4 527.0,941.0 528.0,940.5 529.0,940.1 530.0,939.7 531.0,939.2 532.0,938.8 533.0,938.3 534.0,937.9 535.0,937.4 536.0,937.0 537.0,936.5 538.0,936.1 539.0,935.7 540.0,935.2 541.0,934.8 542.0,934.3 543.0,933.9 544.0,933.4 545.0,933.0 546.0,932.6 547.0,932.1 548.0,931.7 549.0,931.2 550.0,930.8 551.0,930.3 552.0,929.9 553.0,929.4 554.0,929.0 555.0,928.6 556.0,928.1 557.0,927.7 558.0,927.2 559.0,926.8 560.0,926.3 561.0,925.9 562.0,925.4 563.0,925.0 564.0,924.5 565.0,924.0 566.0,923.6 567.0,923.2 568.0,922.7 569.0,922.3 570.0,921.9 571.0,921.5 572.0,921.1 573.0,920.8 574.0,920.4 575.0,920.0 576.0,919.7 577.0,919.3 578.0,919.0 579.0,918.6 580.0,918.3 581.0,918.0 582.0,917.7 583.0,917.5 584.0,917.2 585.0,917.0 586.0,916.8 587.0,916.6 588.0,916.3 589.0,916.1 590.0,915.8 591.0,915.5 592.0,915.1 593.0,914.7 594.0,914.0 595.0,913.2 596.0,912.3 597.0,911.3 598.0,910.3 599.0,909.3 600.0,908.3 601.0,907.4 602.0,906.7 603.0,906.2 604.0,905.9 605.0,905.6 606.0,905.4 607.0,905.2 608.0,905.0 609.0,904.9 610.0,904.7 611.0,904.6 612.0,904.4 613.0,904.3 614.0,904.1 615.0,904.0 616.0,903.8 617.0,903.6 618.0,903.4 619.0,903.2 620.0,903.0 621.0,902.9 622.0,902.7 623.0,902.5 624.0,902.3 625.0,902.2 626.0,902.0 627.0,901.9 628.0,901.7 629.0,901.5 630.0,901.3 631.0,901.2 632.0,901.0 633.0,900.8 634.0,900.7 635.0,900.6 636.0,900.5 637.0,900.5 638.0,900.5 639.0,900.5 640.0,900.5 641.0,900.5 642.0,900.5 643.0,900.6 644.0,900.6 645.0,900.7 646.0,900.7 647.0,900.8 648.0,900.9 649.0,901.1 650.0,901.2 651.0,901.4 652.0,901.6 653.0,901.8 654.0,902.1 655.0,902.4" stroke="#ffb2d9" stroke-width="1.0" fill="none"/>
<path d="M139.29 863.80a2.52 2.52 0 1 0 5.04 0a2.52 2.52 0 1 0 -5.04 0ZM150.55 872.90a2.52 2.52 0 1 0 5.04 0a2.52 2.52 0 1 0 -5.04 0ZM161.81 880.20a2.52 2.52 0 1 0 5.04 0a2.52 2.52 0 1 0 -5.04 0ZM173.08 888.10a2.52 2.52 0 1 0 5.04 0a2.52 2.52 0 1 0 -5.04 0ZM184.34 894.30a2.52 2.52 0 1 0 5.04 0a2.52 2.52 0 1 0 -5.04 0ZM195.60 900.50a2.52 2.52 0 1 0 5.04 0a2.52 2.52 0 1 0 -5.04 0ZM206.86 906.30a2.52 2.52 0 1 0 5.04 0a2.52 2.52 0 1 0 -5.04 0ZM218.12 910.30a2.52 2.52 0 1 0 5.04 0a2.52 2.52 0 1 0 -5.04 0ZM229.39 915.00a2.52 2.52 0 1 0 5.04 0a2.52 2.52 0 1 0 -5.04 0ZM240.65 918.80a2.52 2.52 0 1 0 5.04 0a2.52 2.52 0 1 0 -5.04 0ZM251.91 921.90a2.52 2.52 0 1 0 5.04 0a2.52 2.52 0 1 0 -5.04 0ZM263.17 924.40a2.52 2.52 0 1 0 5.04 0a2.52 2.52 0 1 0 -5.04 0ZM274.43 926.00a2.52 2.52 0 1 0 5.04 0a2.52 2.52 0 1 0 -5.04 0ZM285.70 927.30a2.52 2.52 0 1 0 5.04 0a2.52 2.52 0 1 0 -5.04 0ZM296.96 929.10a2.52 2.52 0 1 0 5.04 0a2.52 2.52 0 1 0 -5.04 0ZM308.22 931.80a2.52 2.52 0 1 0 5.04 0a2.52 2.52 0 1 0 -5.04 0ZM319.48 934.40a2.52 2.52 0 1 0 5.04 0a2.52 2.52 0 1 0 -5.04 0ZM330.74 937.60a2.52 2.52 0 1 0 5.04 0a2.52 2.52 0 1 0 -5.04 0ZM342.01 941.60a2.52 2.52 0 1 0 5.04 0a2.52 2.52 0 1 0 -5.04 0ZM353.27 945.10a2.52 2.52 0 1 0 5.04 0a2.52 2.52 0 1 0 -5.04 0ZM364.53 948.70a2.52 2.52 0 1 0 5.04 0a2.52 2.52 0 1 0 -5.04 0ZM375.79 952.50a2.52 2.52 0 1 0 5.04 0a2.52 2.52 0 1 0 -5.04 0ZM387.05 956.00a2.52 2.52 0 1 0 5.04 0a2.52 2.52 0 1 0 -5.04 0ZM398.32 960.60a2.52 2.52 0 1 0 5.04 0a2.52 2.52 0 1 0 -5.04 0ZM409.58 962.80a2.52 2.52 0 1 0 5.04 0a2.52 2.52 0 1 0 -5.04 0ZM420.84 964.30a2.52 2.52 0 1 0 5.04 0a2.52 2.52 0 1 0 -5.04 0ZM432.10 966.00a2.52 2.52 0 1 0 5.04 0a2.52 2.52 0 1 0 -5.04 0ZM443.36 967.20a2.52 2.52 0 1 0 5.04 0a2.52 2.52 0 1 0 -5.04 0ZM454.63 966.70a2.52 2.52 0 1 0 5.04 0a2.52 2.52 0 1 0 -5.04 0ZM465.89 965.40a2.52 2.52 0 1 0 5.04 0a2.52 2.52 0 1 0 -5.04 0ZM477.15 961.30a2.52 2.52 0 1 0 5.04 0a2.52 2.52 0 1 0 -5.04 0ZM488.41 956.50a2.52 2.52 0 1 0 5.04 0a2.52 2.52 0 1 0 -5.04 0ZM499.67 952.40a2.52 2.52 0 1 0 5.04 0a2.52 2.52 0 1 0 -5.04 0ZM510.94 947.00a2.52 2.52 0 1 0 5.04 0a2.52 2.52 0 1 0 -5.04 0ZM522.20 942.00a2.52 2.52 0 1 0 5.04 0a2.52 2.52 0 1 0 -5.04 0ZM533.46 937.00a2.52 2.52 0 1 0 5.04 0a2.52 2.52 0 1 0 -5.04 0ZM544.72 932.00a2.52 2.52 0 1 0 5.04 0a2.52 2.52 0 1 0 -5.04 0ZM555.98 927.00a2.52 2.52 0 1 0 5.04 0a2.52 2.52 0 1 0 -5.04 0ZM567.25 922.00a2.52 2.52 0 1 0 5.04 0a2.52 2.52 0 1 0 -5.04 0ZM578.51 918.00a2.52 2.52 0 1 0 5.04 0a2.52 2.52 0 1 0 -5.04 0ZM589.77 915.00a2.52 2.52 0 1 0 5.04 0a2.52 2.52 0 1 0 -5.04 0ZM601.03 906.00a2.52 2.52 0 1 0 5.04 0a2.52 2.52 0 1 0 -5.04 0ZM612.29 904.00a2.52 2.52 0 1 0 5.04 0a2.52 2.52 0 1 0 -5.04 0ZM623.56 902.00a2.52 2.52 0 1 0 5.04 0a2.52 2.52 0 1 0 -5.04 0ZM634.82 900.50a2.52 2.52 0 1 0 5.04 0a2.52 2.52 0 1 0 -5.04 0ZM646.08 901.00a2.52 2.52 0 1 0 5.04 0a2.52 2.52 0 1 0 -5.04 0Z" fill="#ff0080"/>
<polyline points="84.0,855.0 85.0,855.0 86.0,855.1 87.0,855.1 88.0,855.2 89.0,855.3 90.0,855.4 91.0,855.5 92.0,855.7 93.0,855.8 94.0,856.0 95.0,856.1 96.0,856.3 97.0,856.5 98.0,856.6 99.0,856.8 100.0,857.0 101.0,857.2 102.0,857.4 103.0,857.7 104.0,857.9 105.0,858.2 106.0,858.6 107.0,858.9 108.0,859.2 109.0,859.6 110.0,860.0 111.0,860.4 112.0,860.8 113.0,861.2 114.0,861.6 115.0,862.0 116.0,862.4 117.0,862.9 118.0,863.4 119.0,863.9 120.0,864.4 121.0,864.9 122.0,865.5 123.0,866.0 124.0,866.6 125.0,867.2 126.0,867.8 127.0,868.4 128.0,869.0 129.0,869.6 130.0,870.3 131.0,870.9 132.0,871.6 133.0,872.4 134.0,873.1 135.0,873.8 136.0,874.5 137.0,875.3 138.0,876.0 139.0,876.7 140.0,877.4 141.0,878.1 142.0,878.8 143.0,879.5 144.0,880.2 145.0,880.8 146.0,881.5 147.0,882.1 148.0,882.7 149.0,883.4 150.0,884.0 151.0,884.7 152.0,885.3 153.0,886.0 154.0,886.6 155.0,887.3 156.0,887.9 157.0,888.6 158.0,889.2 159.0,889.9 160.0,890.5 161.0,891.2 162.0,891.8 163.0,892.4 164.0,893.1 165.0,893.7 166.0,894.4 167.0,895.0 168.0,895.7 169.0,896.3 170.0,896.9 171.0,897.6 172.0,898.2 173.0,898.8 174.0,899.4 175.0,900.0 176.0,900.5 177.0,901.1 178.0,901.6 179.0,902.1 180.0,902.7 181.0,903.2 182.0,903.7 183.0,904.2 184.0,904.7 185.0,905.1 186.0,905.6 187.0,906.1 188.0,906.5 189.0,907.0 190.0,907.4 191.0,907.8 192.0,908.2 193.0,908.7 194.0,909.1 195.0,909.5 196.0,909.9 197.0,910.3 198.0,910.7 199.0,911.2 200.0,911.6 201.0,912.1 202.0,912.5 203.0,913.0 204.0,913.4 205.0,913.9 206.0,914.3 207.0,914.7 208.0,915.2 209.0,915.6 210.0,915.9 211.0,916.3 212.0,916.7 213.0,917.0 214.0,917.4 215.0,917.7 216.0,918.1 217.0,918.4 218.0,918.7 219.0,919.0 220.0,919.4 221.0,919.7 222.0,920.1 223.0,920.4 224.0,920.8 225.0,921.1 226.0,921.5 227.0,921.8 228.0,922.1 229.0,922.5 230.0,922.8 231.0,923.1 232.0,923.3 233.0,923.6 234.0,923.8 235.0,924.1 236.0,924.3 237.0,924.5 238.0,924.7 239.0,924.9 240.0,925.1 241.0,925.4 242.0,925.6 243.0,925.8 244.0,926.0 245.0,926.2 246.0,926.4 247.0,926.6 248.0,926.8 249.0,927.0 250.0,927.2 251.0,927.4 252.0,927.6 253.0,927.8 254.0,927.9 255.0,928.1 256.0,928.2 257.0,928.3 258.0,928.4 259.0,928.5 260.0,928.6 261.0,928.7 262.0,928.8 263.0,928.9 264.0,929.0 265.0,929.1 266.0,929.2 267.0,929.3 268.0,929.5 269.0,929.6 270.0,929.7 271.0,929.8 272.0,929.9 273.0,930.0 274.0,930.1 275.0,930.3 276.0,930.4 277.0,930.5 278.0,930.6 279.0,930.8 280.0,930.9 281.0,931.1 282.0,931.2 283.0,931.3 284.0,931.5 285.0,931.6 286.0,931.8 287.0,931.9 288.0,932.1 289.0,932.2 290.0,932.3 291.0,932.5 292.0,932.6 293.0,932.7 294.0,932.8 295.0,933.0 296.0,933.1 297.0,933.2 298.0,933.4 299.0,933.5 300.0,933.7 301.0,933.9 302.0,934.1 303.0,934.3 304.0,934.5 305.0,934.7 306.0,935.0 307.0,935.2 308.0,935.5 309.0,935.7 310.0,936.0 311.0,936.3 312.0,936.6 313.0,936.8 314.0,937.2 315.0,937.5 316.0,937.8 317.0,938.1 318.0,938.5 319.0,938.8 320.0,939.2 321.0,939.5 322.0,939.8 323.0,940.1 324.0,940.4 325.0,940.7 326.0,941.0 327.0,941.3 328.0,941.7 329.0,942.0 330.0,942.3 331.0,942.6 332.0,942.9 333.0,943.2 334.0,943.5 335.0,943.9 336.0,944.2 337.0,944.5 338.0,944.9 339.0,945.2 340.0,945.5 341.0,945.9 342.0,946.2 343.0,946.6 344.0,946.9 345.0,947.3 346.0,947.6 347.0,948.0 348.0,948.3 349.0,948.7 350.0,949.0 351.0,949.4 352.0,949.7 353.0,950.1 354.0,950.4 355.0,950.8 356.0,951.2 357.0,951.6 358.0,952.0 359.0,952.4 360.0,952.8 361.0,953.2 362.0,953.6 363.0,954.0 364.0,954.4 365.0,954.8 366.0,955.2 367.0,955.6 368.0,955.9 369.0,956.3 370.0,956.6 371.0,956.9 372.0,957.2 373.0,957.5 374.0,957.8 375.0,958.1 376.0,958.4 377.0,958.7 378.0,959.0 379.0,959.3 380.0,959.7 381.0,960.0 382.0,960.4 383.0,960.7 384.0,961.1 385.0,961.5 386.0,961.8 387.0,962.2 388.0,962.6 389.0,962.9 390.0,963.2 391.0,963.6 392.0,963.9 393.0,964.3 394.0,964.6 395.0,965.0 396.0,965.3 397.0,965.7 398.0,966.0 399.0,966.2 400.0,966.5 401.0,966.7 402.0,966.9 403.0,967.1 404.0,967.3 405.0,967.5 406.0,967.7 407.0,967.8 408.0,968.0 409.0,968.2 410.0,968.3 411.0,968.4 412.0,968.6 413.0,968.7 414.0,968.9 415.0,969.0 416.0,969.1 417.0,969.3 418.0,969.4 419.0,969.5 420.0,969.6 421.0,969.7 422.0,969.9 423.0,970.0 424.0,970.1 425.0,970.2 426.0,970.3 427.0,970.4 428.0,970.5 429.0,970.6 430.0,970.7 431.0,970.8 432.0,970.9 433.0,971.0 434.0,971.0 435.0,971.0 436.0,971.0 437.0,971.0 438.0,971.0 439.0,971.0 440.0,971.0 441.0,971.0 442.0,971.0 443.0,971.0 444.0,971.0 445.0,971.0 446.0,971.0 447.0,971.0 448.0,970.9 449.0,970.8 450.0,970.6 451.0,970.5 452.0,970.3 453.0,970.1 454.0,969.9 455.0,969.7 456.0,969.5 457.0,969.3 458.0,969.2 459.0,969.0 460.0,968.8 461.0,968.7 462.0,968.5 463.0,968.3 464.0,968.1 465.0,967.9 466.0,967.7 467.0,967.5 468.0,967.3 469.0,967.0 470.0,966.8 471.0,966.4 472.0,966.1 473.0,965.7 474.0,965.4 475.0,965.0 476.0,964.6 477.0,964.2 478.0,963.8 479.0,963.4 480.0,963.0 481.0,962.6 482.0,962.2 483.0,961.7 484.0,961.3 485.0,960.9 486.0,960.5 487.0,960.0 488.0,959.6 489.0,959.1 490.0,958.7 491.0,958.3 492.0,957.8 493.0,957.4 494.0,957.0 495.0,956.5 496.0,956.1 497.0,955.6 498.0,955.2 499.0,954.7 500.0,954.3 501.0,953.8 502.0,953.4 503.0,952.9 504.0,952.5 505.0,952.0 506.0,951.5 507.0,951.0 508.0,950.6 509.0,950.1 510.0,949.6 511.0,949.1 512.0,948.7 513.0,948.2 514.0,947.8 515.0,947.3 516.0,946.9 517.0,946.4 518.0,946.0 519.0,945.5 520.0,945.1 521.0,944.6 522.0,944.2 523.0,943.8 524.0,943.3 525.0,942.9 526.0,942.4 527.0,942.0 528.0,941.5 529.0,941.1 530.0,940.7 531.0,940.2 532.0,939.8 533.0,939.3 534.0,938.9 535.0,938.4 536.0,938.0 537.0,937.5 538.0,937.1 539.0,936.6 540.0,936.2 541.0,935.7 542.0,935.3 543.0,934.8 544.0,934.4 545.0,934.0 546.0,933.5 547.0,933.1 548.0,932.7 549.0,932.3 550.0,931.9 551.0,931.5 552.0,931.1 553.0,930.7 554.0,930.3 555.0,929.9 556.0,929.5 557.0,929.1 558.0,928.7 559.0,928.3 560.0,927.9 561.0,927.5 562.0,927.1 563.0,926.7 564.0,926.3 565.0,925.9 566.0,925.5 567.0,925.1 568.0,924.7 569.0,924.3 570.0,923.9 571.0,923.5 572.0,923.2 573.0,922.8 574.0,922.4 575.0,922.0 576.0,921.7 577.0,921.3 578.0,921.0 579.0,920.6 580.0,920.3 581.0,920.0 582.0,919.7 583.0,919.5 584.0,919.2 585.0,919.0 586.0,918.8 587.0,918.6 588.0,918.3 589.0,918.1 590.0,917.8 591.0,917.5 592.0,917.1 593.0,916.7 594.0,916.0 595.0,915.3 596.0,914.4 597.0,913.4 598.0,912.4 599.0,911.4 600.0,910.5 601.0,909.6 602.0,908.9 603.0,908.3 604.0,907.8 605.0,907.5 606.0,907.2 607.0,906.9 608.0,906.6 609.0,906.4 610.0,906.2 611.0,905.9 612.0,905.7 613.0,905.5 614.0,905.2 615.0,904.9 616.0,904.6 617.0,904.3 618.0,903.9 619.0,903.5 620.0,903.1 621.0,902.7 622.0,902.3 623.0,902.0 624.0,901.8 625.0,901.7 626.0,901.6 627.0,901.6 628.0,901.6 629.0,901.6 630.0,901.6 631.0,901.6 632.0,901.6 633.0,901.6 634.0,901.6 635.0,901.6 636.0,901.6 637.0,901.6 638.0,901.6 639.0,901.7 640.0,901.8 641.0,902.0 642.0,902.3 643.0,902.5 644.0,902.9 645.0,903.2 646.0,903.6 647.0,904.0 648.0,904.4 649.0,904.8 650.0,905.2 651.0,905.5 652.0,905.9 653.0,906.3 654.0,906.6 655.0,906.9" stroke="#c6c6c6" stroke-width="1.0" fill="none"/>
<path d="M141.81 875.87L144.51 877.82L143.48 880.99L140.14 880.99L139.11 877.82ZM153.07 883.16L155.77 885.12L154.74 888.29L151.41 888.29L150.38 885.12ZM164.33 890.46L167.03 892.42L166.00 895.59L162.67 895.59L161.64 892.42ZM175.60 897.46L178.29 899.42L177.26 902.59L173.93 902.59L172.90 899.42ZM186.86 903.16L189.55 905.12L188.52 908.29L185.19 908.29L184.16 905.12ZM198.12 907.96L200.82 909.92L199.79 913.09L196.45 913.09L195.42 909.92ZM209.38 912.87L212.08 914.82L211.05 917.99L207.72 917.99L206.69 914.82ZM220.64 916.76L223.34 918.72L222.31 921.89L218.98 921.89L217.95 918.72ZM231.91 920.46L234.60 922.42L233.57 925.59L230.24 925.59L229.21 922.42ZM243.17 922.96L245.86 924.92L244.83 928.09L241.50 928.09L240.47 924.92ZM254.43 925.16L257.13 927.12L256.10 930.29L252.76 930.29L251.73 927.12ZM265.69 926.37L268.39 928.32L267.36 931.49L264.03 931.49L263.00 928.32ZM276.95 927.66L279.65 929.62L278.62 932.79L275.29 932.79L274.26 929.62ZM288.22 929.26L290.91 931.22L289.88 934.39L286.55 934.39L285.52 931.22ZM299.48 930.76L302.17 932.72L301.14 935.89L297.81 935.89L296.78 932.72ZM310.74 933.37L313.44 935.32L312.41 938.49L309.07 938.49L308.04 935.32ZM322.00 936.96L324.70 938.92L323.67 942.09L320.34 942.09L319.31 938.92ZM333.26 940.46L335.96 942.42L334.93 945.59L331.60 945.59L330.57 942.42ZM344.53 944.26L347.22 946.22L346.19 949.39L342.86 949.39L341.83 946.22ZM355.79 948.26L358.48 950.22L357.45 953.39L354.12 953.39L353.09 950.22ZM367.05 952.76L369.75 954.72L368.72 957.89L365.38 957.89L364.35 954.72ZM378.31 956.26L381.01 958.22L379.98 961.39L376.65 961.39L375.62 958.22ZM389.57 960.26L392.27 962.22L391.24 965.39L387.91 965.39L386.88 962.22ZM400.84 963.87L403.53 965.82L402.50 968.99L399.17 968.99L398.14 965.82ZM412.10 965.76L414.79 967.72L413.76 970.89L410.43 970.89L409.40 967.72ZM423.36 967.16L426.06 969.12L425.03 972.29L421.69 972.29L420.66 969.12ZM434.62 968.16L437.32 970.12L436.29 973.29L432.96 973.29L431.93 970.12ZM445.88 968.16L448.58 970.12L447.55 973.29L444.22 973.29L443.19 970.12ZM457.15 966.46L459.84 968.42L458.81 971.59L455.48 971.59L454.45 968.42ZM468.41 964.37L471.10 966.32L470.07 969.49L466.74 969.49L465.71 966.32ZM479.67 960.26L482.37 962.22L481.34 965.39L478.00 965.39L476.97 962.22ZM490.93 955.46L493.63 957.42L492.60 960.59L489.27 960.59L488.24 957.42ZM502.19 950.46L504.89 952.42L503.86 955.59L500.53 955.59L499.50 952.42ZM513.46 945.16L516.15 947.12L515.12 950.29L511.79 950.29L510.76 947.12ZM524.72 940.16L527.41 942.12L526.38 945.29L523.05 945.29L522.02 942.12ZM535.98 935.16L538.68 937.12L537.65 940.29L534.31 940.29L533.28 937.12ZM547.24 930.16L549.94 932.12L548.91 935.29L545.58 935.29L544.55 932.12ZM558.50 925.66L561.20 927.62L560.17 930.79L556.84 930.79L555.81 927.62ZM569.77 921.16L572.46 923.12L571.43 926.29L568.10 926.29L567.07 923.12ZM581.03 917.16L583.72 919.12L582.69 922.29L579.36 922.29L578.33 919.12ZM592.29 914.16L594.99 916.12L593.96 919.29L590.62 919.29L589.59 916.12ZM603.55 905.16L606.25 907.12L605.22 910.29L601.89 910.29L600.86 907.12ZM614.81 902.16L617.51 904.12L616.48 907.29L613.15 907.29L612.12 904.12ZM626.08 898.76L628.77 900.72L627.74 903.89L624.41 903.89L623.38 900.72ZM637.34 898.76L640.03 900.72L639.00 903.89L635.67 903.89L634.64 900.72ZM648.60 901.76L651.30 903.72L650.27 906.89L646.93 906.89L645.90 903.72Z" fill="#404040"/>
<polyline points="108.5,866.9 109.5,867.6 110.5,868.2 111.5,868.9 112.5,869.6 113.5,870.3 114.5,871.0 115.5,871.7 116.5,872.4 117.5,873.1 118.5,873.9 119.5,874.6 120.5,875.4 121.5,876.2 122.5,877.0 123.5,877.8 124.5,878.6 125.5,879.4 126.5,880.2 127.5,881.1 128.5,881.9 129.5,882.6 130.5,883.4 131.5,884.1 132.5,884.8 133.5,885.5 134.5,886.2 135.5,886.9 136.5,887.6 137.5,888.3 138.5,889.0 139.5,889.7 140.5,890.3 141.5,891.0 142.5,891.7 143.5,892.3 144.5,893.0 145.5,893.7 146.5,894.3 147.5,895.0 148.5,895.7 149.5,896.3 150.5,896.9 151.5,897.6 152.5,898.2 153.5,898.8 154.5,899.3 155.5,899.9 156.5,900.4 157.5,900.9 158.5,901.5 159.5,902.0 160.5,902.5 161.5,903.0 162.5,903.6 163.5,904.1 164.5,904.7 165.5,905.3 166.5,905.9 167.5,906.5 168.5,907.2 169.5,907.8 170.5,908.5 171.5,909.1 172.5,909.7 173.5,910.3 174.5,910.9 175.5,911.4 176.5,911.8 177.5,912.3 178.5,912.7 179.5,913.1 180.5,913.5 181.5,913.9 182.5,914.2 183.5,914.6 184.5,915.0 185.5,915.3 186.5,915.7 187.5,916.0 188.5,916.4 189.5,916.7 190.5,917.0 191.5,917.3 192.5,917.6 193.5,917.9 194.5,918.2 195.5,918.5 196.5,918.9 197.5,919.2 198.5,919.5 199.5,919.9 200.5,920.3 201.5,920.7 202.5,921.2 203.5,921.6 204.5,922.0 205.5,922.5 206.5,922.9 207.5,923.2 208.5,923.6 209.5,923.8 210.5,924.1 211.5,924.3 212.5,924.5 213.5,924.7 214.5,924.9 215.5,925.0 216.5,925.2 217.5,925.4 218.5,925.6 219.5,925.8 220.5,926.0 221.5,926.2 222.5,926.5 223.5,926.7 224.5,927.0 225.5,927.3 226.5,927.6 227.5,927.9 228.5,928.1 229.5,928.4 230.5,928.7 231.5,928.9 232.5,929.1 233.5,929.4 234.5,929.6 235.5,929.8 236.5,930.0 237.5,930.2 238.5,930.4 239.5,930.6 240.5,930.7 241.5,930.9 242.5,931.1 243.5,931.3 244.5,931.4 245.5,931.6 246.5,931.7 247.5,931.9 248.5,932.0 249.5,932.1 250.5,932.3 251.5,932.4 252.5,932.5 253.5,932.7 254.5,932.8 255.5,932.9 256.5,933.1 257.5,933.2 258.5,933.4 259.5,933.5 260.5,933.6 261.5,933.8 262.5,933.9 263.5,934.0 264.5,934.2 265.5,934.3 266.5,934.4 267.5,934.5 268.5,934.6 269.5,934.7 270.5,934.8 271.5,934.9 272.5,935.0 273.5,935.1 274.5,935.2 275.5,935.3 276.5,935.5 277.5,935.6 278.5,935.7 279.5,935.8 280.5,935.9 281.5,936.0 282.5,936.1 283.5,936.3 284.5,936.4 285.5,936.5 286.5,936.6 287.5,936.7 288.5,936.8 289.5,936.9 290.5,937.0 291.5,937.1 292.5,937.2 293.5,937.3 294.5,937.4 295.5,937.5 296.5,937.6 297.5,937.7 298.5,937.9 299.5,938.0 300.5,938.2 301.5,938.4 302.5,938.6 303.5,938.9 304.5,939.2 305.5,939.4 306.5,939.7 307.5,940.0 308.5,940.4 309.5,940.6 310.5,940.9 311.5,941.2 312.5,941.5 313.5,941.8 314.5,942.0 315.5,942.3 316.5,942.6 317.5,942.9 318.5,943.2 319.5,943.4 320.5,943.7 321.5,944.0 322.5,944.4 323.5,944.7 324.5,945.0 325.5,945.3 326.5,945.7 327.5,946.0 328.5,946.4 329.5,946.7 330.5,947.1 331.5,947.5 332.5,947.8 333.5,948.2 334.5,948.6 335.5,948.9 336.5,949.3 337.5,949.7 338.5,950.1 339.5,950.4 340.5,950.8 341.5,951.2 342.5,951.6 343.5,952.0 344.5,952.4 345.5,952.8 346.5,953.2 347.5,953.6 348.5,954.0 349.5,954.4 350.5,954.8 351.5,955.2 352.5,955.6 353.5,956.0 354.5,956.4 355.5,956.8 356.5,957.2 357.5,957.5 358.5,957.9 359.5,958.3 360.5,958.6 361.5,959.0 362.5,959.3 363.5,959.7 364.5,960.0 365.5,960.4 366.5,960.7 367.5,961.1 368.5,961.4 369.5,961.8 370.5,962.1 371.5,962.5 372.5,962.8 373.5,963.2 374.5,963.5 375.5,963.9 376.5,964.3 377.5,964.6 378.5,965.0 379.5,965.3 380.5,965.7 381.5,966.1 382.5,966.5 383.5,966.8 384.5,967.2 385.5,967.6 386.5,967.9 387.5,968.3 388.5,968.6 389.5,968.9 390.5,969.2 391.5,969.4 392.5,969.7 393.5,970.0 394.5,970.2 395.5,970.5 396.5,970.7 397.5,970.9 398.5,971.1 399.5,971.3 400.5,971.5 401.5,971.7 402.5,971.9 403.5,972.1 404.5,972.2 405.5,972.4 406.5,972.5 407.5,972.7 408.5,972.8 409.5,972.9 410.5,973.0 411.5,973.1 412.5,973.2 413.5,973.3 414.5,973.4 415.5,973.5 416.5,973.6 417.5,973.7 418.5,973.7 419.5,973.8 420.5,973.9 421.5,973.9 422.5,974.0 423.5,974.0 424.5,974.0 425.5,974.1 426.5,974.1 427.5,974.1 428.5,974.1 429.5,974.1 430.5,974.2 431.5,974.2 432.5,974.2 433.5,974.2 434.5,974.2 435.5,974.2 436.5,974.2 437.5,974.1 438.5,974.1 439.5,974.1 440.5,974.0 441.5,973.9 442.5,973.9 443.5,973.8 444.5,973.7 445.5,973.6 446.5,973.5 447.5,973.5 448.5,973.3 449.5,973.2 450.5,973.1 451.5,972.9 452.5,972.8 453.5,972.6 454.5,972.5 455.5,972.3 456.5,972.1 457.5,971.9 458.5,971.8 459.5,971.6 460.5,971.3 461.5,971.1 462.5,970.9 463.5,970.7 464.5,970.4 465.5,970.1 466.5,969.9 467.5,969.6 468.5,969.3 469.5,968.9 470.5,968.5 471.5,968.1 472.5,967.7 473.5,967.2 474.5,966.7 475.5,966.2 476.5,965.7 477.5,965.2 478.5,964.7 479.5,964.3 480.5,963.8 481.5,963.4 482.5,963.0 483.5,962.6 484.5,962.2 485.5,961.8 486.5,961.4 487.5,961.0 488.5,960.6 489.5,960.2 490.5,959.8 491.5,959.4 492.5,958.9 493.5,958.5 494.5,958.0 495.5,957.6 496.5,957.1 497.5,956.6 498.5,956.2 499.5,955.7 500.5,955.2 501.5,954.7 502.5,954.3 503.5,953.8 504.5,953.2 505.5,952.7 506.5,952.2 507.5,951.7 508.5,951.2 509.5,950.6 510.5,950.1 511.5,949.6 512.5,949.1 513.5,948.6 514.5,948.1 515.5,947.6 516.5,947.1 517.5,946.7 518.5,946.2 519.5,945.7 520.5,945.2 521.5,944.8 522.5,944.3 523.5,943.8 524.5,943.3 525.5,942.8 526.5,942.3 527.5,941.7 528.5,941.2 529.5,940.6 530.5,940.1 531.5,939.5 532.5,939.0 533.5,938.5 534.5,937.9 535.5,937.4 536.5,937.0 537.5,936.5 538.5,936.0 539.5,935.6 540.5,935.2 541.5,934.8 542.5,934.3 543.5,933.9 544.5,933.5 545.5,933.1 546.5,932.6 547.5,932.2 548.5,931.7 549.5,931.3 550.5,930.8 551.5,930.3 552.5,929.8 553.5,929.4 554.5,928.9 555.5,928.4 556.5,927.9 557.5,927.5 558.5,927.0 559.5,926.5 560.5,926.1 561.5,925.6 562.5,925.2 563.5,924.8 564.5,924.3 565.5,923.9 566.5,923.4 567.5,923.0 568.5,922.6 569.5,922.1 570.5,921.7 571.5,921.3 572.5,920.8 573.5,920.4 574.5,920.0 575.5,919.5 576.5,919.1 577.5,918.7 578.5,918.3 579.5,917.8 580.5,917.4 581.5,917.0 582.5,916.6 583.5,916.2 584.5,915.8 585.5,915.4 586.5,915.0 587.5,914.6 588.5,914.2 589.5,913.8 590.5,913.3 591.5,912.8 592.5,912.3 593.5,911.6 594.5,910.7 595.5,909.8 596.5,908.8 597.5,907.7 598.5,906.7 599.5,905.8 600.5,904.9 601.5,904.3 602.5,903.9 603.5,903.7 604.5,903.7 605.5,903.8 606.5,904.0 607.5,904.2 608.5,904.4 609.5,904.6 610.5,904.8 611.5,905.0 612.5,905.2 613.5,905.3 614.5,905.4 615.5,905.4 616.5,905.4 617.5,905.3 618.5,905.2 619.5,905.1 620.5,905.0 621.5,905.0 622.5,904.9 623.5,904.8 624.5,904.7 625.5,904.7 626.5,904.7 627.5,904.7 628.5,904.8 629.5,904.8 630.5,904.9 631.5,905.0 632.5,905.1 633.5,905.2 634.5,905.3 635.5,905.4 636.5,905.6 637.5,905.7 638.5,905.9 639.5,906.2 640.5,906.5 641.5,906.9 642.5,907.3 643.5,907.8 644.5,908.3 645.5,908.9 646.5,909.4 647.5,910.0 648.5,910.6 649.5,911.3 650.5,911.9 651.5,912.5 652.5,913.1 653.5,913.8 654.5,914.4" stroke="#d9b2b2" stroke-width="1.0" fill="none"/>
<path d="M139.79 889.18h4.05v4.05h-4.05ZM151.05 896.48h4.05v4.05h-4.05ZM162.31 902.58h4.05v4.05h-4.05ZM173.57 909.38h4.05v4.05h-4.05ZM184.83 913.78h4.05v4.05h-4.05ZM196.10 917.38h4.05v4.05h-4.05ZM207.36 921.78h4.05v4.05h-4.05ZM218.62 923.98h4.05v4.05h-4.05ZM229.88 926.98h4.05v4.05h-4.05ZM241.14 929.18h4.05v4.05h-4.05ZM252.41 930.78h4.05v4.05h-4.05ZM263.67 932.28h4.05v4.05h-4.05ZM274.93 933.48h4.05v4.05h-4.05ZM286.19 934.78h4.05v4.05h-4.05ZM297.45 935.98h4.05v4.05h-4.05ZM308.72 938.98h4.05v4.05h-4.05ZM319.98 942.18h4.05v4.05h-4.05ZM331.24 946.08h4.05v4.05h-4.05ZM342.50 950.38h4.05v4.05h-4.05ZM353.76 954.88h4.05v4.05h-4.05ZM365.03 958.88h4.05v4.05h-4.05ZM376.29 962.88h4.05v4.05h-4.05ZM387.55 966.88h4.05v4.05h-4.05ZM398.81 969.58h4.05v4.05h-4.05ZM410.07 971.18h4.05v4.05h-4.05ZM421.34 971.98h4.05v4.05h-4.05ZM432.60 972.18h4.05v4.05h-4.05ZM443.86 971.58h4.05v4.05h-4.05ZM455.12 969.98h4.05v4.05h-4.05ZM466.38 967.28h4.05v4.05h-4.05ZM477.65 962.18h4.05v4.05h-4.05ZM488.91 957.58h4.05v4.05h-4.05ZM500.17 952.38h4.05v4.05h-4.05ZM511.43 946.58h4.05v4.05h-4.05ZM522.69 941.18h4.05v4.05h-4.05ZM533.96 935.18h4.05v4.05h-4.05ZM545.22 930.28h4.05v4.05h-4.05ZM556.48 924.98h4.05v4.05h-4.05ZM567.74 919.98h4.05v4.05h-4.05ZM579.00 915.18h4.05v4.05h-4.05ZM590.27 910.38h4.05v4.05h-4.05ZM601.53 901.68h4.05v4.05h-4.05ZM612.79 903.38h4.05v4.05h-4.05ZM624.05 902.68h4.05v4.05h-4.05ZM635.31 903.68h4.05v4.05h-4.05ZM646.58 908.68h4.05v4.05h-4.05Z" fill="#800000"/>
<path d="M84.0 695.6L258.9 990.9" stroke="#800080" stroke-width="2.3" fill="none" stroke-dasharray="4.6 2.2"/>
<path d="M84.0 744.8L85.0 743.2L86.0 741.6L87.0 740.0L88.0 738.4L89.0 736.9L90.0 735.3L91.0 733.8L92.0 732.3L93.0 730.9L94.0 729.4L95.0 728.0L96.0 726.6L97.0 725.2L98.0 723.8L99.0 722.4L100.0 721.1L101.0 719.8L102.0 718.5L103.0 717.2L104.0 716.0L105.0 714.8L106.0 713.5L107.0 712.3L108.0 711.1L109.0 710.0L110.0 708.8L111.0 707.7L112.0 706.6L113.0 705.6L114.0 704.6L115.0 703.6L116.0 702.7L117.0 701.8L118.0 700.9L119.0 700.1L120.0 699.3L121.0 698.6L122.0 697.8L123.0 697.1L124.0 696.4L125.0 695.7L126.0 695.2L127.0 694.7L128.0 694.2L129.0 693.9L130.0 693.6L131.0 693.3L132.0 693.0L133.0 692.7L134.0 692.5L135.0 692.2L136.0 692.0L137.0 691.8L138.0 691.6L139.0 691.4L140.0 691.3L141.0 691.2L142.0 691.1L143.0 691.1L144.0 691.1L145.0 691.1L146.0 691.2L147.0 691.3L148.0 691.4L149.0 691.5L150.0 691.7L151.0 691.8L152.0 692.0L153.0 692.2L154.0 692.4L155.0 692.6L156.0 692.8L157.0 693.0L158.0 693.3L159.0 693.5L160.0 693.9L161.0 694.3L162.0 694.8L163.0 695.3L164.0 695.8L165.0 696.4L166.0 697.1L167.0 697.8L168.0 698.5L169.0 699.2L170.0 699.9L171.0 700.6L172.0 701.3L173.0 702.1L174.0 702.8L175.0 703.6L176.0 704.5L177.0 705.3L178.0 706.2L179.0 707.2L180.0 708.1L181.0 709.1L182.0 710.1L183.0 711.1L184.0 712.1L185.0 713.1L186.0 714.1L187.0 715.0L188.0 716.0L189.0 717.0L190.0 717.9L191.0 718.9L192.0 719.9L193.0 720.8L194.0 721.8L195.0 722.8L196.0 723.8L197.0 724.8L198.0 725.7L199.0 726.7L200.0 727.7L201.0 728.6L202.0 729.5L203.0 730.5L204.0 731.4L205.0 732.2L206.0 733.1L207.0 734.0L208.0 734.8L209.0 735.6L210.0 736.5L211.0 737.3L212.0 738.1L213.0 739.0L214.0 739.8L215.0 740.7L216.0 741.5L217.0 742.4L218.0 743.3L219.0 744.2L220.0 745.1L221.0 746.0L222.0 746.9L223.0 747.8L224.0 748.6L225.0 749.5L226.0 750.4L227.0 751.3L228.0 752.1L229.0 753.0L230.0 753.9L231.0 754.7L232.0 755.6L233.0 756.5L234.0 757.4L235.0 758.3L236.0 759.2L237.0 760.1L238.0 761.0L239.0 762.0L240.0 762.9L241.0 763.9L242.0 764.8L243.0 765.8L244.0 766.8L245.0 767.7L246.0 768.7L247.0 769.7L248.0 770.6L249.0 771.6L250.0 772.5L251.0 773.4L252.0 774.4L253.0 775.3L254.0 776.2L255.0 777.1L256.0 778.1L257.0 779.0L258.0 779.9L259.0 780.8L260.0 781.7L261.0 782.6L262.0 783.5L263.0 784.4L264.0 785.3L265.0 786.2L266.0 787.1L267.0 788.0L268.0 788.9L269.0 789.8L270.0 790.7L271.0 791.6L272.0 792.5L273.0 793.3L274.0 794.2L275.0 795.0L276.0 795.9L277.0 796.8L278.0 797.6L279.0 798.5L280.0 799.3L281.0 800.2L282.0 801.0L283.0 801.9L284.0 802.7L285.0 803.6L286.0 804.4L287.0 805.3L288.0 806.2L289.0 807.0L290.0 807.9L291.0 808.8L292.0 809.7L293.0 810.5L294.0 811.4L295.0 812.3L296.0 813.2L297.0 814.1L298.0 814.9L299.0 815.8L300.0 816.7L301.0 817.6L302.0 818.5L303.0 819.4L304.0 820.3L305.0 821.2L306.0 822.2L307.0 823.1L308.0 824.0L309.0 825.0L310.0 825.9L311.0 826.9L312.0 827.9L313.0 828.8L314.0 829.8L315.0 830.8L316.0 831.7L317.0 832.7L318.0 833.7L319.0 834.6L320.0 835.6L321.0 836.5L322.0 837.5L323.0 838.4L324.0 839.3L325.0 840.3L326.0 841.2L327.0 842.1L328.0 843.0L329.0 843.9L330.0 844.8L331.0 845.7L332.0 846.6L333.0 847.5L334.0 848.4L335.0 849.3L336.0 850.1L337.0 851.0L338.0 851.9L339.0 852.8L340.0 853.7L341.0 854.6L342.0 855.5L343.0 856.4L344.0 857.3L345.0 858.2L346.0 859.1L347.0 860.0L348.0 860.9L349.0 861.8L350.0 862.7L351.0 863.6L352.0 864.5L353.0 865.4L354.0 866.3L355.0 867.2L356.0 868.1L357.0 869.0L358.0 869.9L359.0 870.8L360.0 871.7L361.0 872.6L362.0 873.5L363.0 874.4L364.0 875.3L365.0 876.2L366.0 877.0L367.0 877.9L368.0 878.8L369.0 879.7L370.0 880.6L371.0 881.5L372.0 882.4L373.0 883.3L374.0 884.2L375.0 885.1L376.0 886.1L377.0 887.0L378.0 887.9L379.0 888.8L380.0 889.8L381.0 890.7L382.0 891.6L383.0 892.6L384.0 893.5L385.0 894.5L386.0 895.4L387.0 896.4L388.0 897.3L389.0 898.3L390.0 899.2L391.0 900.1L392.0 901.1L393.0 902.0L394.0 903.0L395.0 903.9L396.0 904.8L397.0 905.8L398.0 906.7L399.0 907.6L400.0 908.6L401.0 909.5L402.0 910.4L403.0 911.4L404.0 912.3L405.0 913.2L406.0 914.1L407.0 915.1L408.0 916.0L409.0 916.9L410.0 917.8L411.0 918.7L412.0 919.6L413.0 920.5L414.0 921.4L415.0 922.3L416.0 923.2L417.0 924.1L418.0 925.0L419.0 925.9L420.0 926.8L421.0 927.7L422.0 928.6L423.0 929.5L424.0 930.4L425.0 931.3L426.0 932.2L427.0 933.0L428.0 933.9L429.0 934.8L430.0 935.6L431.0 936.5L432.0 937.4L433.0 938.2L434.0 939.1L435.0 940.0L436.0 940.8L437.0 941.7L438.0 942.6L439.0 943.5L440.0 944.4L441.0 945.3L442.0 946.2L443.0 947.2L444.0 948.1L445.0 949.1L446.0 950.0L447.0 951.0L448.0 951.9L449.0 952.9L450.0 953.8L451.0 954.7L452.0 955.6L453.0 956.5L454.0 957.3L455.0 958.2L456.0 959.0L457.0 959.8L458.0 960.5L459.0 961.3L460.0 962.0L461.0 962.8L462.0 963.5" stroke="#800080" stroke-width="2.3" fill="none" stroke-dasharray="4.6 2.2"/>
<path d="M175.7 987.5L176.7 987.1L177.7 986.7L178.7 986.3L179.7 985.9L180.7 985.5L181.7 985.0L182.7 984.6L183.7 984.2L184.7 983.7L185.7 983.3L186.7 982.8L187.7 982.3L188.7 981.9L189.7 981.4L190.7 980.9L191.7 980.4L192.7 979.9L193.7 979.4L194.7 978.9L195.7 978.4L196.7 977.9L197.7 977.4L198.7 976.9L199.7 976.4L200.7 975.8L201.7 975.3L202.7 974.8L203.7 974.2L204.7 973.7L205.7 973.1L206.7 972.6L207.7 972.0L208.7 971.5L209.7 970.9L210.7 970.3L211.7 969.8L212.7 969.2L213.7 968.6L214.7 968.0L215.7 967.4L216.7 966.7L217.7 966.0L218.7 965.4L219.7 964.7L220.7 964.0L221.7 963.3L222.7 962.6L223.7 961.9L224.7 961.2L225.7 960.5L226.7 959.8L227.7 959.1L228.7 958.4L229.7 957.7L230.7 957.0L231.7 956.3L232.7 955.6L233.7 954.9L234.7 954.3L235.7 953.7L236.7 953.0L237.7 952.4L238.7 951.8L239.7 951.3L240.7 950.7L241.7 950.1L242.7 949.5L243.7 949.0L244.7 948.4L245.7 947.9L246.7 947.3L247.7 946.8L248.7 946.2L249.7 945.7L250.7 945.1L251.7 944.6L252.7 944.1L253.7 943.6L254.7 943.0L255.7 942.5L256.7 942.0L257.7 941.5L258.7 941.0L259.7 940.5L260.7 940.0L261.7 939.5L262.7 939.0L263.7 938.6L264.7 938.1L265.7 937.6L266.7 937.1L267.7 936.6L268.7 936.1L269.7 935.7L270.7 935.2L271.7 934.7L272.7 934.2L273.7 933.8L274.7 933.3L275.7 932.9L276.7 932.4L277.7 932.0L278.7 931.5L279.7 931.1L280.7 930.7L281.7 930.2L282.7 929.8L283.7 929.4L284.7 929.0L285.7 928.6L286.7 928.3L287.7 927.9L288.7 927.5L289.7 927.2L290.7 926.8L291.7 926.5L292.7 926.2L293.7 925.8L294.7 925.5L295.7 925.2L296.7 924.8L297.7 924.5L298.7 924.2L299.7 923.9L300.7 923.6L301.7 923.3L302.7 923.0L303.7 922.7L304.7 922.4L305.7 922.1L306.7 921.9L307.7 921.6L308.7 921.3L309.7 921.1L310.7 920.9L311.7 920.6L312.7 920.4L313.7 920.2L314.7 919.9L315.7 919.7L316.7 919.5L317.7 919.3L318.7 919.0L319.7 918.8L320.7 918.6L321.7 918.4L322.7 918.2L323.7 918.0L324.7 917.7L325.7 917.5L326.7 917.3L327.7 917.1L328.7 917.0L329.7 916.8L330.7 916.6L331.7 916.5L332.7 916.3L333.7 916.2L334.7 916.0L335.7 915.9L336.7 915.8L337.7 915.7L338.7 915.7L339.7 915.6L340.7 915.6L341.7 915.5L342.7 915.5L343.7 915.5L344.7 915.4L345.7 915.4L346.7 915.3L347.7 915.3L348.7 915.3L349.7 915.3L350.7 915.2L351.7 915.2L352.7 915.2L353.7 915.1L354.7 915.1L355.7 915.1L356.7 915.1L357.7 915.1L358.7 915.1L359.7 915.0L360.7 915.0L361.7 915.0L362.7 915.0L363.7 915.0L364.7 915.0L365.7 915.0L366.7 915.0L367.7 915.0L368.7 915.1L369.7 915.1L370.7 915.2L371.7 915.2L372.7 915.3L373.7 915.4L374.7 915.5L375.7 915.6L376.7 915.7L377.7 915.8L378.7 915.9L379.7 916.0L380.7 916.1L381.7 916.2L382.7 916.4L383.7 916.5L384.7 916.6L385.7 916.7L386.7 916.8L387.7 916.9L388.7 917.0L389.7 917.1L390.7 917.3L391.7 917.4L392.7 917.5L393.7 917.7L394.7 917.8L395.7 918.0L396.7 918.1L397.7 918.2L398.7 918.3L399.7 918.5L400.7 918.6L401.7 918.7L402.7 918.8L403.7 918.9L404.7 919.0L405.7 919.1L406.7 919.1L407.7 919.2L408.7 919.3L409.7 919.5L410.7 919.6L411.7 919.7L412.7 919.9L413.7 920.1L414.7 920.3L415.7 920.5L416.7 920.8L417.7 921.1L418.7 921.4L419.7 921.7L420.7 922.1L421.7 922.4L422.7 922.7L423.7 923.1L424.7 923.4L425.7 923.7L426.7 924.1L427.7 924.4L428.7 924.8L429.7 925.1L430.7 925.5L431.7 925.9L432.7 926.3L433.7 926.7L434.7 927.1L435.7 927.5L436.7 927.9L437.7 928.3L438.7 928.7L439.7 929.2L440.7 929.6L441.7 930.1L442.7 930.5L443.7 931.0L444.7 931.5L445.7 932.0L446.7 932.5L447.7 933.0L448.7 933.5L449.7 934.0L450.7 934.5L451.7 935.1L452.7 935.6L453.7 936.1L454.7 936.6L455.7 937.1L456.7 937.6L457.7 938.1L458.7 938.6L459.7 939.1L460.7 939.6L461.7 940.1L462.7 940.6L463.7 941.1L464.7 941.6L465.7 942.1L466.7 942.6L467.7 943.1L468.7 943.6L469.7 944.1L470.7 944.6L471.7 945.1L472.7 945.6L473.7 946.1L474.7 946.6L475.7 947.2L476.7 947.6L477.7 948.1L478.7 948.6L479.7 949.1L480.7 949.6L481.7 950.1L482.7 950.6L483.7 951.1L484.7 951.6L485.7 952.0L486.7 952.5L487.7 953.0L488.7 953.6L489.7 954.1L490.7 954.6L491.7 955.1L492.7 955.7L493.7 956.2L494.7 956.8L495.7 957.4L496.7 958.0L497.7 958.6L498.7 959.2L499.7 959.8L500.7 960.4L501.7 961.0L502.7 961.7L503.7 962.3L504.7 962.9L505.7 963.6L506.7 964.2L507.7 964.9L508.7 965.5L509.7 966.1L510.7 966.8L511.7 967.4L512.7 968.0L513.7 968.7L514.7 969.3L515.7 970.0L516.7 970.6L517.7 971.3L518.7 972.0L519.7 972.6L520.7 973.3L521.7 973.9L522.7 974.6L523.7 975.2L524.7 975.8L525.7 976.4L526.7 977.0L527.7 977.6L528.7 978.1L529.7 978.6L530.7 979.1L531.7 979.6L532.7 980.1L533.7 980.6L534.7 981.1L535.7 981.6L536.7 982.1L537.7 982.6L538.7 983.0L539.7 983.5L540.7 983.9L541.7 984.4L542.7 984.8L543.7 985.2L544.7 985.6L545.7 986.0L546.7 986.4L547.7 986.8L548.7 987.2L549.7 987.5L550.7 987.9" stroke="#800080" stroke-width="2.1" fill="none" stroke-dasharray="3.2 1.6"/>
<path d="M448.0 988.0L449.0 987.3L450.0 986.5L451.0 985.8L452.0 985.1L453.0 984.4L454.0 983.6L455.0 982.9L456.0 982.2L457.0 981.5L458.0 980.8L459.0 980.0L460.0 979.3L461.0 978.6L462.0 977.9L463.0 977.2L464.0 976.4L465.0 975.7L466.0 975.0L467.0 974.3L468.0 973.6L469.0 972.9L470.0 972.2L471.0 971.5L472.0 970.8L473.0 970.1L474.0 969.4L475.0 968.8L476.0 968.1L477.0 967.5L478.0 966.9L479.0 966.3L480.0 965.7L481.0 965.1L482.0 964.5L483.0 963.9L484.0 963.3L485.0 962.7L486.0 962.2L487.0 961.6L488.0 961.0L489.0 960.4L490.0 959.8L491.0 959.2L492.0 958.6L493.0 958.0L494.0 957.4L495.0 956.7L496.0 956.1L497.0 955.5L498.0 954.8L499.0 954.2L500.0 953.5L501.0 952.8L502.0 952.2L503.0 951.5L504.0 950.9L505.0 950.2L506.0 949.5L507.0 948.9L508.0 948.2L509.0 947.6L510.0 946.9L511.0 946.3L512.0 945.6L513.0 945.0L514.0 944.3L515.0 943.6L516.0 943.0L517.0 942.3L518.0 941.7L519.0 941.0L520.0 940.4L521.0 939.7L522.0 939.1L523.0 938.4L524.0 937.8L525.0 937.1L526.0 936.5L527.0 935.9L528.0 935.2L529.0 934.6L530.0 934.0L531.0 933.4L532.0 932.8L533.0 932.2L534.0 931.7L535.0 931.1L536.0 930.5L537.0 929.9L538.0 929.4L539.0 928.8L540.0 928.2L541.0 927.7L542.0 927.1L543.0 926.5L544.0 926.0L545.0 925.4L546.0 924.9L547.0 924.3L548.0 923.8L549.0 923.3L550.0 922.7L551.0 922.2L552.0 921.7L553.0 921.2L554.0 920.6L555.0 920.1L556.0 919.6L557.0 919.1L558.0 918.6L559.0 918.0L560.0 917.5L561.0 917.0L562.0 916.4L563.0 915.9L564.0 915.3L565.0 914.8L566.0 914.3L567.0 913.7L568.0 913.2L569.0 912.6L570.0 912.1L571.0 911.6L572.0 911.0L573.0 910.5L574.0 910.0L575.0 909.5L576.0 909.0L577.0 908.5L578.0 908.0L579.0 907.5L580.0 907.0L581.0 906.5L582.0 906.0L583.0 905.5L584.0 905.0L585.0 904.6L586.0 904.1L587.0 903.6L588.0 903.2L589.0 902.7L590.0 902.3L591.0 901.9L592.0 901.4L593.0 901.0L594.0 900.6L595.0 900.2L596.0 899.8L597.0 899.5L598.0 899.1L599.0 898.7L600.0 898.3L601.0 898.0L602.0 897.6L603.0 897.3L604.0 896.9L605.0 896.6L606.0 896.3L607.0 895.9L608.0 895.6L609.0 895.3L610.0 895.0L611.0 894.7L612.0 894.4L613.0 894.1L614.0 893.8L615.0 893.6L616.0 893.3L617.0 893.0L618.0 892.8L619.0 892.5L620.0 892.2L621.0 892.0L622.0 891.7L623.0 891.5L624.0 891.2L625.0 891.0L626.0 890.8L627.0 890.5L628.0 890.3L629.0 890.1L630.0 889.8L631.0 889.6L632.0 889.4L633.0 889.2L634.0 889.0L635.0 888.7L636.0 888.5L637.0 888.3L638.0 888.1L639.0 887.9L640.0 887.7L641.0 887.5L642.0 887.3L643.0 887.1L644.0 886.9L645.0 886.7L646.0 886.5L647.0 886.4L648.0 886.2L649.0 886.0L650.0 885.9L651.0 885.7L652.0 885.6L653.0 885.4L654.0 885.3L655.0 885.1L656.0 885.0L657.0 884.9L658.0 884.7L659.0 884.6L660.0 884.5" stroke="#800080" stroke-width="2.1" fill="none" stroke-dasharray="3.2 1.6"/>
</g>
<text x="550.0" y="789.9" font-size="20.2" transform="translate(0 789.9) scale(1 1.08) translate(0 -789.9)" stroke="#000" stroke-width="0.3">10<tspan font-size="12.3" dy="-8.6">-4</tspan><tspan dy="8.6"> GPa</tspan></text>
<text x="97.4" y="949.4" font-size="21.1" fill="#800000" transform="translate(0 949.4) scale(1 1.06) translate(0 -949.4)" stroke="#800000" stroke-width="0.3">0.45 GPa</text>
<rect x="570.4" y="957.2" width="82.2" height="37" fill="#000"/>
<rect x="564.2" y="951" width="82.7" height="37.4" fill="#fff" stroke="#888" stroke-width="1"/>
<text x="571" y="979.5" font-size="26" stroke="#000" stroke-width="0.3">260 K</text>
<path d="M84.00 473.70v-8.5M84.00 14.00v8.5M98.45 473.70v-5.0M98.45 14.00v5.0M106.91 473.70v-5.0M106.91 14.00v5.0M112.91 473.70v-5.0M112.91 14.00v5.0M117.56 473.70v-5.0M117.56 14.00v5.0M121.36 473.70v-5.0M121.36 14.00v5.0M124.58 473.70v-5.0M124.58 14.00v5.0M127.36 473.70v-5.0M127.36 14.00v5.0M129.82 473.70v-5.0M129.82 14.00v5.0M132.02 473.70v-8.5M132.02 14.00v8.5M146.47 473.70v-5.0M146.47 14.00v5.0M154.93 473.70v-5.0M154.93 14.00v5.0M160.93 473.70v-5.0M160.93 14.00v5.0M165.58 473.70v-5.0M165.58 14.00v5.0M169.38 473.70v-5.0M169.38 14.00v5.0M172.60 473.70v-5.0M172.60 14.00v5.0M175.38 473.70v-5.0M175.38 14.00v5.0M177.84 473.70v-5.0M177.84 14.00v5.0M180.03 473.70v-8.5M180.03 14.00v8.5M194.49 473.70v-5.0M194.49 14.00v5.0M202.94 473.70v-5.0M202.94 14.00v5.0M208.94 473.70v-5.0M208.94 14.00v5.0M213.60 473.70v-5.0M213.60 14.00v5.0M217.40 473.70v-5.0M217.40 14.00v5.0M220.61 473.70v-5.0M220.61 14.00v5.0M223.40 473.70v-5.0M223.40 14.00v5.0M225.85 473.70v-5.0M225.85 14.00v5.0M228.05 473.70v-8.5M228.05 14.00v8.5M242.50 473.70v-5.0M242.50 14.00v5.0M250.96 473.70v-5.0M250.96 14.00v5.0M256.96 473.70v-5.0M256.96 14.00v5.0M261.61 473.70v-5.0M261.61 14.00v5.0M265.41 473.70v-5.0M265.41 14.00v5.0M268.63 473.70v-5.0M268.63 14.00v5.0M271.41 473.70v-5.0M271.41 14.00v5.0M273.87 473.70v-5.0M273.87 14.00v5.0M276.07 473.70v-8.5M276.07 14.00v8.5M290.52 473.70v-5.0M290.52 14.00v5.0M298.98 473.70v-5.0M298.98 14.00v5.0M304.98 473.70v-5.0M304.98 14.00v5.0M309.63 473.70v-5.0M309.63 14.00v5.0M313.43 473.70v-5.0M313.43 14.00v5.0M316.65 473.70v-5.0M316.65 14.00v5.0M319.43 473.70v-5.0M319.43 14.00v5.0M321.89 473.70v-5.0M321.89 14.00v5.0M324.08 473.70v-8.5M324.08 14.00v8.5M338.54 473.70v-5.0M338.54 14.00v5.0M346.99 473.70v-5.0M346.99 14.00v5.0M352.99 473.70v-5.0M352.99 14.00v5.0M357.65 473.70v-5.0M357.65 14.00v5.0M361.45 473.70v-5.0M361.45 14.00v5.0M364.66 473.70v-5.0M364.66 14.00v5.0M367.45 473.70v-5.0M367.45 14.00v5.0M369.90 473.70v-5.0M369.90 14.00v5.0M372.10 473.70v-8.5M372.10 14.00v8.5M386.55 473.70v-5.0M386.55 14.00v5.0M395.01 473.70v-5.0M395.01 14.00v5.0M401.01 473.70v-5.0M401.01 14.00v5.0M405.66 473.70v-5.0M405.66 14.00v5.0M409.46 473.70v-5.0M409.46 14.00v5.0M412.68 473.70v-5.0M412.68 14.00v5.0M415.46 473.70v-5.0M415.46 14.00v5.0M417.92 473.70v-5.0M417.92 14.00v5.0M420.12 473.70v-8.5M420.12 14.00v8.5M434.57 473.70v-5.0M434.57 14.00v5.0M443.03 473.70v-5.0M443.03 14.00v5.0M449.03 473.70v-5.0M449.03 14.00v5.0M453.68 473.70v-5.0M453.68 14.00v5.0M457.48 473.70v-5.0M457.48 14.00v5.0M460.70 473.70v-5.0M460.70 14.00v5.0M463.48 473.70v-5.0M463.48 14.00v5.0M465.94 473.70v-5.0M465.94 14.00v5.0M468.13 473.70v-8.5M468.13 14.00v8.5M482.59 473.70v-5.0M482.59 14.00v5.0M491.04 473.70v-5.0M491.04 14.00v5.0M497.04 473.70v-5.0M497.04 14.00v5.0M501.70 473.70v-5.0M501.70 14.00v5.0M505.50 473.70v-5.0M505.50 14.00v5.0M508.71 473.70v-5.0M508.71 14.00v5.0M511.50 473.70v-5.0M511.50 14.00v5.0M513.95 473.70v-5.0M513.95 14.00v5.0M516.15 473.70v-8.5M516.15 14.00v8.5M530.60 473.70v-5.0M530.60 14.00v5.0M539.06 473.70v-5.0M539.06 14.00v5.0M545.06 473.70v-5.0M545.06 14.00v5.0M549.71 473.70v-5.0M549.71 14.00v5.0M553.51 473.70v-5.0M553.51 14.00v5.0M556.73 473.70v-5.0M556.73 14.00v5.0M559.51 473.70v-5.0M559.51 14.00v5.0M561.97 473.70v-5.0M561.97 14.00v5.0M564.17 473.70v-8.5M564.17 14.00v8.5M578.62 473.70v-5.0M578.62 14.00v5.0M587.08 473.70v-5.0M587.08 14.00v5.0M593.08 473.70v-5.0M593.08 14.00v5.0M597.73 473.70v-5.0M597.73 14.00v5.0M601.53 473.70v-5.0M601.53 14.00v5.0M604.75 473.70v-5.0M604.75 14.00v5.0M607.53 473.70v-5.0M607.53 14.00v5.0M609.99 473.70v-5.0M609.99 14.00v5.0M612.18 473.70v-8.5M612.18 14.00v8.5M626.64 473.70v-5.0M626.64 14.00v5.0M635.09 473.70v-5.0M635.09 14.00v5.0M641.09 473.70v-5.0M641.09 14.00v5.0M645.75 473.70v-5.0M645.75 14.00v5.0M649.55 473.70v-5.0M649.55 14.00v5.0M652.76 473.70v-5.0M652.76 14.00v5.0M655.55 473.70v-5.0M655.55 14.00v5.0M658.00 473.70v-5.0M658.00 14.00v5.0M660.20 473.70v-8.5M660.20 14.00v8.5M84.00 473.70h8.5M660.20 473.70h-8.5M84.00 439.10h5.0M660.20 439.10h-5.0M84.00 418.87h5.0M660.20 418.87h-5.0M84.00 404.51h5.0M660.20 404.51h-5.0M84.00 393.37h5.0M660.20 393.37h-5.0M84.00 384.27h5.0M660.20 384.27h-5.0M84.00 376.58h5.0M660.20 376.58h-5.0M84.00 369.91h5.0M660.20 369.91h-5.0M84.00 364.03h5.0M660.20 364.03h-5.0M84.00 358.77h8.5M660.20 358.77h-8.5M84.00 324.18h5.0M660.20 324.18h-5.0M84.00 303.94h5.0M660.20 303.94h-5.0M84.00 289.58h5.0M660.20 289.58h-5.0M84.00 278.45h5.0M660.20 278.45h-5.0M84.00 269.35h5.0M660.20 269.35h-5.0M84.00 261.65h5.0M660.20 261.65h-5.0M84.00 254.99h5.0M660.20 254.99h-5.0M84.00 249.11h5.0M660.20 249.11h-5.0M84.00 243.85h8.5M660.20 243.85h-8.5M84.00 209.25h5.0M660.20 209.25h-5.0M84.00 189.02h5.0M660.20 189.02h-5.0M84.00 174.66h5.0M660.20 174.66h-5.0M84.00 163.52h5.0M660.20 163.52h-5.0M84.00 154.42h5.0M660.20 154.42h-5.0M84.00 146.73h5.0M660.20 146.73h-5.0M84.00 140.06h5.0M660.20 140.06h-5.0M84.00 134.18h5.0M660.20 134.18h-5.0M84.00 128.93h8.5M660.20 128.93h-8.5M84.00 94.33h5.0M660.20 94.33h-5.0M84.00 74.09h5.0M660.20 74.09h-5.0M84.00 59.73h5.0M660.20 59.73h-5.0M84.00 48.60h5.0M660.20 48.60h-5.0M84.00 39.50h5.0M660.20 39.50h-5.0M84.00 31.80h5.0M660.20 31.80h-5.0M84.00 25.14h5.0M660.20 25.14h-5.0M84.00 19.26h5.0M660.20 19.26h-5.0M84.00 14.00h8.5M660.20 14.00h-8.5" stroke="#000" stroke-width="1.6" fill="none"/>
<rect x="84.00" y="14.00" width="576.20" height="459.70" fill="none" stroke="#000" stroke-width="2"/>
<text x="67.05" y="502.30" font-size="20.5" transform="translate(0 502.30) scale(1 1.12) translate(0 -502.30)" stroke="#000" stroke-width="0.3">10</text><text x="89.84" y="490.90" font-size="12.5" stroke="#000" stroke-width="0.3">-3</text>
<text x="115.06" y="502.30" font-size="20.5" transform="translate(0 502.30) scale(1 1.12) translate(0 -502.30)" stroke="#000" stroke-width="0.3">10</text><text x="137.86" y="490.90" font-size="12.5" stroke="#000" stroke-width="0.3">-2</text>
<text x="163.08" y="502.30" font-size="20.5" transform="translate(0 502.30) scale(1 1.12) translate(0 -502.30)" stroke="#000" stroke-width="0.3">10</text><text x="185.88" y="490.90" font-size="12.5" stroke="#000" stroke-width="0.3">-1</text>
<text x="213.18" y="502.30" font-size="20.5" transform="translate(0 502.30) scale(1 1.12) translate(0 -502.30)" stroke="#000" stroke-width="0.3">10</text><text x="235.97" y="490.90" font-size="12.5" stroke="#000" stroke-width="0.3">0</text>
<text x="261.19" y="502.30" font-size="20.5" transform="translate(0 502.30) scale(1 1.12) translate(0 -502.30)" stroke="#000" stroke-width="0.3">10</text><text x="283.99" y="490.90" font-size="12.5" stroke="#000" stroke-width="0.3">1</text>
<text x="309.21" y="502.30" font-size="20.5" transform="translate(0 502.30) scale(1 1.12) translate(0 -502.30)" stroke="#000" stroke-width="0.3">10</text><text x="332.01" y="490.90" font-size="12.5" stroke="#000" stroke-width="0.3">2</text>
<text x="357.23" y="502.30" font-size="20.5" transform="translate(0 502.30) scale(1 1.12) translate(0 -502.30)" stroke="#000" stroke-width="0.3">10</text><text x="380.02" y="490.90" font-size="12.5" stroke="#000" stroke-width="0.3">3</text>
<text x="405.24" y="502.30" font-size="20.5" transform="translate(0 502.30) scale(1 1.12) translate(0 -502.30)" stroke="#000" stroke-width="0.3">10</text><text x="428.04" y="490.90" font-size="12.5" stroke="#000" stroke-width="0.3">4</text>
<text x="453.26" y="502.30" font-size="20.5" transform="translate(0 502.30) scale(1 1.12) translate(0 -502.30)" stroke="#000" stroke-width="0.3">10</text><text x="476.06" y="490.90" font-size="12.5" stroke="#000" stroke-width="0.3">5</text>
<text x="501.28" y="502.30" font-size="20.5" transform="translate(0 502.30) scale(1 1.12) translate(0 -502.30)" stroke="#000" stroke-width="0.3">10</text><text x="524.07" y="490.90" font-size="12.5" stroke="#000" stroke-width="0.3">6</text>
<text x="549.29" y="502.30" font-size="20.5" transform="translate(0 502.30) scale(1 1.12) translate(0 -502.30)" stroke="#000" stroke-width="0.3">10</text><text x="572.09" y="490.90" font-size="12.5" stroke="#000" stroke-width="0.3">7</text>
<text x="597.31" y="502.30" font-size="20.5" transform="translate(0 502.30) scale(1 1.12) translate(0 -502.30)" stroke="#000" stroke-width="0.3">10</text><text x="620.11" y="490.90" font-size="12.5" stroke="#000" stroke-width="0.3">8</text>
<text x="645.33" y="502.30" font-size="20.5" transform="translate(0 502.30) scale(1 1.12) translate(0 -502.30)" stroke="#000" stroke-width="0.3">10</text><text x="668.12" y="490.90" font-size="12.5" stroke="#000" stroke-width="0.3">9</text>
<text x="42.99" y="480.80" font-size="20.5" transform="translate(0 480.80) scale(1 1.12) translate(0 -480.80)" stroke="#000" stroke-width="0.3">10</text><text x="65.79" y="469.40" font-size="12.5" stroke="#000" stroke-width="0.3">-2</text>
<text x="42.99" y="365.88" font-size="20.5" transform="translate(0 365.88) scale(1 1.12) translate(0 -365.88)" stroke="#000" stroke-width="0.3">10</text><text x="65.79" y="354.48" font-size="12.5" stroke="#000" stroke-width="0.3">-1</text>
<text x="47.15" y="250.95" font-size="20.5" transform="translate(0 250.95) scale(1 1.12) translate(0 -250.95)" stroke="#000" stroke-width="0.3">10</text><text x="69.95" y="239.55" font-size="12.5" stroke="#000" stroke-width="0.3">0</text>
<text x="47.15" y="136.03" font-size="20.5" transform="translate(0 136.03) scale(1 1.12) translate(0 -136.03)" stroke="#000" stroke-width="0.3">10</text><text x="69.95" y="124.62" font-size="12.5" stroke="#000" stroke-width="0.3">1</text>
<text x="47.15" y="21.10" font-size="20.5" transform="translate(0 21.10) scale(1 1.12) translate(0 -21.10)" stroke="#000" stroke-width="0.3">10</text><text x="69.95" y="9.70" font-size="12.5" stroke="#000" stroke-width="0.3">2</text>
<path d="M84.00 1004.80v-8.5M84.00 545.50v8.5M103.27 1004.80v-5.0M103.27 545.50v5.0M114.55 1004.80v-5.0M114.55 545.50v5.0M122.55 1004.80v-5.0M122.55 545.50v5.0M128.75 1004.80v-5.0M128.75 545.50v5.0M133.82 1004.80v-5.0M133.82 545.50v5.0M138.11 1004.80v-5.0M138.11 545.50v5.0M141.82 1004.80v-5.0M141.82 545.50v5.0M145.09 1004.80v-5.0M145.09 545.50v5.0M148.02 1004.80v-8.5M148.02 545.50v8.5M167.29 1004.80v-5.0M167.29 545.50v5.0M178.57 1004.80v-5.0M178.57 545.50v5.0M186.57 1004.80v-5.0M186.57 545.50v5.0M192.77 1004.80v-5.0M192.77 545.50v5.0M197.84 1004.80v-5.0M197.84 545.50v5.0M202.13 1004.80v-5.0M202.13 545.50v5.0M205.84 1004.80v-5.0M205.84 545.50v5.0M209.11 1004.80v-5.0M209.11 545.50v5.0M212.04 1004.80v-8.5M212.04 545.50v8.5M231.32 1004.80v-5.0M231.32 545.50v5.0M242.59 1004.80v-5.0M242.59 545.50v5.0M250.59 1004.80v-5.0M250.59 545.50v5.0M256.79 1004.80v-5.0M256.79 545.50v5.0M261.86 1004.80v-5.0M261.86 545.50v5.0M266.15 1004.80v-5.0M266.15 545.50v5.0M269.86 1004.80v-5.0M269.86 545.50v5.0M273.14 1004.80v-5.0M273.14 545.50v5.0M276.07 1004.80v-8.5M276.07 545.50v8.5M295.34 1004.80v-5.0M295.34 545.50v5.0M306.61 1004.80v-5.0M306.61 545.50v5.0M314.61 1004.80v-5.0M314.61 545.50v5.0M320.82 1004.80v-5.0M320.82 545.50v5.0M325.89 1004.80v-5.0M325.89 545.50v5.0M330.17 1004.80v-5.0M330.17 545.50v5.0M333.88 1004.80v-5.0M333.88 545.50v5.0M337.16 1004.80v-5.0M337.16 545.50v5.0M340.09 1004.80v-8.5M340.09 545.50v8.5M359.36 1004.80v-5.0M359.36 545.50v5.0M370.64 1004.80v-5.0M370.64 545.50v5.0M378.63 1004.80v-5.0M378.63 545.50v5.0M384.84 1004.80v-5.0M384.84 545.50v5.0M389.91 1004.80v-5.0M389.91 545.50v5.0M394.19 1004.80v-5.0M394.19 545.50v5.0M397.91 1004.80v-5.0M397.91 545.50v5.0M401.18 1004.80v-5.0M401.18 545.50v5.0M404.11 1004.80v-8.5M404.11 545.50v8.5M423.38 1004.80v-5.0M423.38 545.50v5.0M434.66 1004.80v-5.0M434.66 545.50v5.0M442.66 1004.80v-5.0M442.66 545.50v5.0M448.86 1004.80v-5.0M448.86 545.50v5.0M453.93 1004.80v-5.0M453.93 545.50v5.0M458.22 1004.80v-5.0M458.22 545.50v5.0M461.93 1004.80v-5.0M461.93 545.50v5.0M465.20 1004.80v-5.0M465.20 545.50v5.0M468.13 1004.80v-8.5M468.13 545.50v8.5M487.41 1004.80v-5.0M487.41 545.50v5.0M498.68 1004.80v-5.0M498.68 545.50v5.0M506.68 1004.80v-5.0M506.68 545.50v5.0M512.88 1004.80v-5.0M512.88 545.50v5.0M517.95 1004.80v-5.0M517.95 545.50v5.0M522.24 1004.80v-5.0M522.24 545.50v5.0M525.95 1004.80v-5.0M525.95 545.50v5.0M529.23 1004.80v-5.0M529.23 545.50v5.0M532.16 1004.80v-8.5M532.16 545.50v8.5M551.43 1004.80v-5.0M551.43 545.50v5.0M562.70 1004.80v-5.0M562.70 545.50v5.0M570.70 1004.80v-5.0M570.70 545.50v5.0M576.91 1004.80v-5.0M576.91 545.50v5.0M581.97 1004.80v-5.0M581.97 545.50v5.0M586.26 1004.80v-5.0M586.26 545.50v5.0M589.97 1004.80v-5.0M589.97 545.50v5.0M593.25 1004.80v-5.0M593.25 545.50v5.0M596.18 1004.80v-8.5M596.18 545.50v8.5M615.45 1004.80v-5.0M615.45 545.50v5.0M626.72 1004.80v-5.0M626.72 545.50v5.0M634.72 1004.80v-5.0M634.72 545.50v5.0M640.93 1004.80v-5.0M640.93 545.50v5.0M646.00 1004.80v-5.0M646.00 545.50v5.0M650.28 1004.80v-5.0M650.28 545.50v5.0M654.00 1004.80v-5.0M654.00 545.50v5.0M657.27 1004.80v-5.0M657.27 545.50v5.0M660.20 1004.80v-8.5M660.20 545.50v8.5M84.00 1004.80h8.5M660.20 1004.80h-8.5M84.00 970.23h5.0M660.20 970.23h-5.0M84.00 950.01h5.0M660.20 950.01h-5.0M84.00 935.67h5.0M660.20 935.67h-5.0M84.00 924.54h5.0M660.20 924.54h-5.0M84.00 915.45h5.0M660.20 915.45h-5.0M84.00 907.76h5.0M660.20 907.76h-5.0M84.00 901.10h5.0M660.20 901.10h-5.0M84.00 895.23h5.0M660.20 895.23h-5.0M84.00 889.97h8.5M660.20 889.97h-8.5M84.00 855.41h5.0M660.20 855.41h-5.0M84.00 835.19h5.0M660.20 835.19h-5.0M84.00 820.84h5.0M660.20 820.84h-5.0M84.00 809.72h5.0M660.20 809.72h-5.0M84.00 800.62h5.0M660.20 800.62h-5.0M84.00 792.94h5.0M660.20 792.94h-5.0M84.00 786.28h5.0M660.20 786.28h-5.0M84.00 780.40h5.0M660.20 780.40h-5.0M84.00 775.15h8.5M660.20 775.15h-8.5M84.00 740.58h5.0M660.20 740.58h-5.0M84.00 720.36h5.0M660.20 720.36h-5.0M84.00 706.02h5.0M660.20 706.02h-5.0M84.00 694.89h5.0M660.20 694.89h-5.0M84.00 685.80h5.0M660.20 685.80h-5.0M84.00 678.11h5.0M660.20 678.11h-5.0M84.00 671.45h5.0M660.20 671.45h-5.0M84.00 665.58h5.0M660.20 665.58h-5.0M84.00 660.33h8.5M660.20 660.33h-8.5M84.00 625.76h5.0M660.20 625.76h-5.0M84.00 605.54h5.0M660.20 605.54h-5.0M84.00 591.19h5.0M660.20 591.19h-5.0M84.00 580.07h5.0M660.20 580.07h-5.0M84.00 570.97h5.0M660.20 570.97h-5.0M84.00 563.29h5.0M660.20 563.29h-5.0M84.00 556.63h5.0M660.20 556.63h-5.0M84.00 550.75h5.0M660.20 550.75h-5.0M84.00 545.50h8.5M660.20 545.50h-8.5" stroke="#000" stroke-width="1.6" fill="none"/>
<rect x="84.00" y="545.50" width="576.20" height="459.30" fill="none" stroke="#000" stroke-width="2"/>
<text x="67.05" y="1033.20" font-size="20.5" transform="translate(0 1033.20) scale(1 1.12) translate(0 -1033.20)" stroke="#000" stroke-width="0.3">10</text><text x="89.84" y="1021.80" font-size="12.5" stroke="#000" stroke-width="0.3">-2</text>
<text x="131.07" y="1033.20" font-size="20.5" transform="translate(0 1033.20) scale(1 1.12) translate(0 -1033.20)" stroke="#000" stroke-width="0.3">10</text><text x="153.86" y="1021.80" font-size="12.5" stroke="#000" stroke-width="0.3">-1</text>
<text x="197.17" y="1033.20" font-size="20.5" transform="translate(0 1033.20) scale(1 1.12) translate(0 -1033.20)" stroke="#000" stroke-width="0.3">10</text><text x="219.97" y="1021.80" font-size="12.5" stroke="#000" stroke-width="0.3">0</text>
<text x="261.19" y="1033.20" font-size="20.5" transform="translate(0 1033.20) scale(1 1.12) translate(0 -1033.20)" stroke="#000" stroke-width="0.3">10</text><text x="283.99" y="1021.80" font-size="12.5" stroke="#000" stroke-width="0.3">1</text>
<text x="325.22" y="1033.20" font-size="20.5" transform="translate(0 1033.20) scale(1 1.12) translate(0 -1033.20)" stroke="#000" stroke-width="0.3">10</text><text x="348.01" y="1021.80" font-size="12.5" stroke="#000" stroke-width="0.3">2</text>
<text x="389.24" y="1033.20" font-size="20.5" transform="translate(0 1033.20) scale(1 1.12) translate(0 -1033.20)" stroke="#000" stroke-width="0.3">10</text><text x="412.03" y="1021.80" font-size="12.5" stroke="#000" stroke-width="0.3">3</text>
<text x="453.26" y="1033.20" font-size="20.5" transform="translate(0 1033.20) scale(1 1.12) translate(0 -1033.20)" stroke="#000" stroke-width="0.3">10</text><text x="476.06" y="1021.80" font-size="12.5" stroke="#000" stroke-width="0.3">4</text>
<text x="517.28" y="1033.20" font-size="20.5" transform="translate(0 1033.20) scale(1 1.12) translate(0 -1033.20)" stroke="#000" stroke-width="0.3">10</text><text x="540.08" y="1021.80" font-size="12.5" stroke="#000" stroke-width="0.3">5</text>
<text x="581.30" y="1033.20" font-size="20.5" transform="translate(0 1033.20) scale(1 1.12) translate(0 -1033.20)" stroke="#000" stroke-width="0.3">10</text><text x="604.10" y="1021.80" font-size="12.5" stroke="#000" stroke-width="0.3">6</text>
<text x="645.33" y="1033.20" font-size="20.5" transform="translate(0 1033.20) scale(1 1.12) translate(0 -1033.20)" stroke="#000" stroke-width="0.3">10</text><text x="668.12" y="1021.80" font-size="12.5" stroke="#000" stroke-width="0.3">7</text>
<text x="42.99" y="1011.90" font-size="20.5" transform="translate(0 1011.90) scale(1 1.12) translate(0 -1011.90)" stroke="#000" stroke-width="0.3">10</text><text x="65.79" y="1000.50" font-size="12.5" stroke="#000" stroke-width="0.3">-2</text>
<text x="42.99" y="897.07" font-size="20.5" transform="translate(0 897.07) scale(1 1.12) translate(0 -897.07)" stroke="#000" stroke-width="0.3">10</text><text x="65.79" y="885.67" font-size="12.5" stroke="#000" stroke-width="0.3">-1</text>
<text x="47.15" y="782.25" font-size="20.5" transform="translate(0 782.25) scale(1 1.12) translate(0 -782.25)" stroke="#000" stroke-width="0.3">10</text><text x="69.95" y="770.85" font-size="12.5" stroke="#000" stroke-width="0.3">0</text>
<text x="47.15" y="667.43" font-size="20.5" transform="translate(0 667.43) scale(1 1.12) translate(0 -667.43)" stroke="#000" stroke-width="0.3">10</text><text x="69.95" y="656.03" font-size="12.5" stroke="#000" stroke-width="0.3">1</text>
<text x="47.15" y="552.60" font-size="20.5" transform="translate(0 552.60) scale(1 1.12) translate(0 -552.60)" stroke="#000" stroke-width="0.3">10</text><text x="69.95" y="541.20" font-size="12.5" stroke="#000" stroke-width="0.3">2</text>
<text transform="translate(22.8,276.3) rotate(-90)" font-size="27.5" stroke="#000" stroke-width="0.45">&#949;</text>
<path d="M-2 254.6H6.6M-2 260.4H6.6" stroke="#000" stroke-width="2.6" stroke-linecap="round"/>
<text transform="translate(22.8,808.3) rotate(-90)" font-size="27.5" stroke="#000" stroke-width="0.45">&#949;</text>
<path d="M-2 786.6H6.6M-2 792.4H6.6" stroke="#000" stroke-width="2.6" stroke-linecap="round"/>
<text x="335.5" y="1079.6" font-size="30.6" fill="#000" text-anchor="start"  stroke="#000" stroke-width="0.3">f [Hz]</text>
<rect x="537.5" y="420" width="111.5" height="40" fill="#000"/>
<rect x="531.5" y="413.5" width="111.5" height="40.5" fill="#fff" stroke="#888" stroke-width="1"/>
<text x="538" y="446" font-size="25.6" transform="translate(0 446) scale(1 1.04) translate(0 -446)" stroke="#000" stroke-width="0.3">10<tspan font-size="15.8" dy="-11.8">-4</tspan><tspan dy="11.8"> GPa</tspan></text>
</svg></body></html>
